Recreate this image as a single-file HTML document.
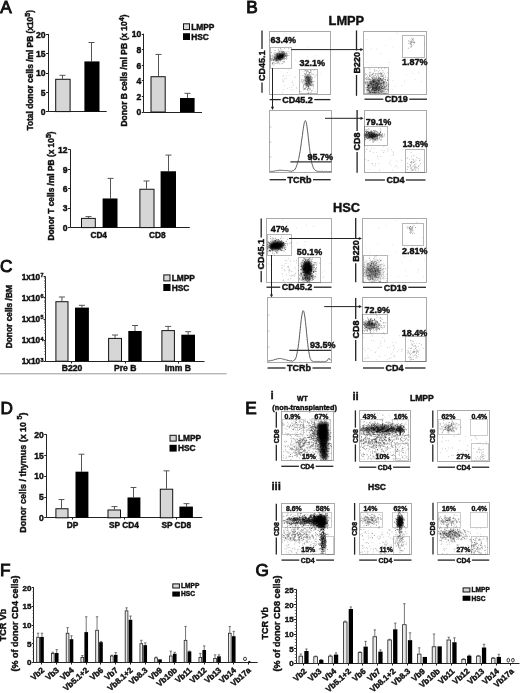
<!DOCTYPE html>
<html><head><meta charset="utf-8"><style>
html,body{margin:0;padding:0;background:#fff;}
svg{display:block;filter:blur(0.3px);}
text{font-family:"Liberation Sans",sans-serif;font-weight:bold;stroke:#111;stroke-width:0.42px;}
.pl{font-weight:normal;stroke-width:0.95px;}
</style></head><body>
<svg width="520" height="693" viewBox="0 0 520 693">
<defs><filter id="b0_8" x="-50%" y="-50%" width="200%" height="200%"><feGaussianBlur stdDeviation="0.8"/></filter><filter id="b0_9" x="-50%" y="-50%" width="200%" height="200%"><feGaussianBlur stdDeviation="0.9"/></filter><filter id="b1_0" x="-50%" y="-50%" width="200%" height="200%"><feGaussianBlur stdDeviation="1.0"/></filter><filter id="b1_1" x="-50%" y="-50%" width="200%" height="200%"><feGaussianBlur stdDeviation="1.1"/></filter><filter id="b1_2" x="-50%" y="-50%" width="200%" height="200%"><feGaussianBlur stdDeviation="1.2"/></filter><filter id="b2" x="-50%" y="-50%" width="200%" height="200%"><feGaussianBlur stdDeviation="2"/></filter></defs>
<rect width="520" height="693" fill="#fff"/>
<path d="M278.14 58.34h.9v.9h-.9zM277.25 56.2h.9v.9h-.9zM274.52 57.83h.9v.9h-.9zM283.57 55.44h.9v.9h-.9zM283.05 55.15h.9v.9h-.9zM280.38 56.24h.9v.9h-.9zM272.84 61.97h.9v.9h-.9zM281.21 56.82h.9v.9h-.9zM269.57 55.46h.9v.9h-.9zM274.38 57.11h.9v.9h-.9zM279.73 55.84h.9v.9h-.9zM279.88 53.91h.9v.9h-.9zM280.28 56.94h.9v.9h-.9zM277.96 62.17h.9v.9h-.9zM282.26 58.48h.9v.9h-.9zM275.14 55.9h.9v.9h-.9zM277.03 56.96h.9v.9h-.9zM281.41 55.94h.9v.9h-.9zM275.57 55.01h.9v.9h-.9zM277.93 60.65h.9v.9h-.9zM275.57 58.75h.9v.9h-.9zM278.46 51.96h.9v.9h-.9zM280.34 59.75h.9v.9h-.9zM270 59.68h.9v.9h-.9zM277.12 54.7h.9v.9h-.9zM280.49 55.42h.9v.9h-.9zM273.62 61.5h.9v.9h-.9zM282.41 57.62h.9v.9h-.9zM284.83 54.64h.9v.9h-.9zM277.45 53.04h.9v.9h-.9zM280.3 53.8h.9v.9h-.9zM275.18 54.25h.9v.9h-.9zM273.98 57.1h.9v.9h-.9zM281.3 48.9h.9v.9h-.9zM272.93 60.01h.9v.9h-.9zM285.1 55.18h.9v.9h-.9zM279.1 53.99h.9v.9h-.9zM275.2 61.21h.9v.9h-.9zM283.21 54.79h.9v.9h-.9zM280.07 57.16h.9v.9h-.9z" fill-opacity="0.35"/>
<path d="M285.76 54.99h.9v.9h-.9zM281.32 56.92h.9v.9h-.9zM273.76 62.85h.9v.9h-.9zM283.07 56.02h.9v.9h-.9zM269.78 58.82h.9v.9h-.9zM279.76 50.33h.9v.9h-.9zM279.05 59.48h.9v.9h-.9zM275.2 63.18h.9v.9h-.9zM280.6 55.09h.9v.9h-.9zM280.66 57.55h.9v.9h-.9zM280.43 59.2h.9v.9h-.9zM275.36 56.8h.9v.9h-.9zM282.8 54.58h.9v.9h-.9zM276.14 60.66h.9v.9h-.9zM283.95 52.56h.9v.9h-.9zM272.79 58.91h.9v.9h-.9zM277.58 56.09h.9v.9h-.9zM282.99 51.21h.9v.9h-.9zM282.11 50.88h.9v.9h-.9zM276.13 59.68h.9v.9h-.9zM284.17 56.51h.9v.9h-.9zM280.12 56.23h.9v.9h-.9zM279.87 57.7h.9v.9h-.9zM278.17 57.59h.9v.9h-.9zM280.87 55.43h.9v.9h-.9zM282.33 56.48h.9v.9h-.9zM287.09 53.43h.9v.9h-.9zM276.36 56.45h.9v.9h-.9zM279.62 58.9h.9v.9h-.9zM277.66 58.18h.9v.9h-.9zM274.29 59.36h.9v.9h-.9zM280.45 56.37h.9v.9h-.9zM277.6 59.05h.9v.9h-.9zM279.06 54.68h.9v.9h-.9zM288.83 52.69h.9v.9h-.9zM276.18 57.38h.9v.9h-.9zM277.56 56.83h.9v.9h-.9zM281.21 51.63h.9v.9h-.9zM279.44 59.08h.9v.9h-.9zM283.84 58.63h.9v.9h-.9z" fill-opacity="0.35"/>
<path d="M271.23 58.99h.9v.9h-.9zM277.93 58.79h.9v.9h-.9zM279.71 47.65h.9v.9h-.9zM281.2 50.77h.9v.9h-.9zM279.5 51.45h.9v.9h-.9zM280.72 59.22h.9v.9h-.9zM278.18 57.32h.9v.9h-.9zM281.95 55.35h.9v.9h-.9zM280.06 60.59h.9v.9h-.9zM282.44 53.76h.9v.9h-.9zM288.28 48.28h.9v.9h-.9zM281.93 54.09h.9v.9h-.9zM279.94 58.07h.9v.9h-.9zM280.23 57.73h.9v.9h-.9zM270.52 55.73h.9v.9h-.9zM279.87 52.92h.9v.9h-.9zM272.6 54.85h.9v.9h-.9zM284.59 55.95h.9v.9h-.9zM283.38 51.3h.9v.9h-.9zM277.17 53.67h.9v.9h-.9zM283.59 59.06h.9v.9h-.9zM276.84 62.23h.9v.9h-.9zM282.34 54.17h.9v.9h-.9zM272.27 63.96h.9v.9h-.9zM277.43 55.22h.9v.9h-.9zM280.67 56.8h.9v.9h-.9zM283.38 51.05h.9v.9h-.9zM284.97 58.08h.9v.9h-.9zM284.21 53.25h.9v.9h-.9zM276.78 60.57h.9v.9h-.9zM279.17 56.64h.9v.9h-.9zM284 53.1h.9v.9h-.9zM272.04 62.24h.9v.9h-.9zM279.09 54.39h.9v.9h-.9zM279.53 58.67h.9v.9h-.9zM280.49 59.74h.9v.9h-.9zM279.57 59.29h.9v.9h-.9zM286.55 57.69h.9v.9h-.9zM276.9 60.08h.9v.9h-.9zM269.63 57.49h.9v.9h-.9z" fill-opacity="0.35"/>
<path d="M271.9 63.09h.9v.9h-.9zM273.54 58.93h.9v.9h-.9zM277.74 56.85h.9v.9h-.9zM276.44 58.3h.9v.9h-.9zM285.86 53.16h.9v.9h-.9zM281.92 58.03h.9v.9h-.9zM276.21 53.76h.9v.9h-.9zM277.61 60.34h.9v.9h-.9zM271.15 58.26h.9v.9h-.9zM283.6 56.58h.9v.9h-.9zM279.56 58.57h.9v.9h-.9zM277.79 53.25h.9v.9h-.9zM271.43 58h.9v.9h-.9zM281.6 53.32h.9v.9h-.9zM273.95 56.37h.9v.9h-.9zM272.2 59.25h.9v.9h-.9zM274.21 59.78h.9v.9h-.9zM273.58 52.91h.9v.9h-.9zM281.15 54.44h.9v.9h-.9zM279.17 54.82h.9v.9h-.9zM282.62 56.91h.9v.9h-.9zM281.65 56.07h.9v.9h-.9zM284.76 55.6h.9v.9h-.9zM277.84 50.41h.9v.9h-.9zM283.78 58.1h.9v.9h-.9zM276.78 55.95h.9v.9h-.9zM284.27 48.32h.9v.9h-.9zM283.4 61.74h.9v.9h-.9zM275.63 60.1h.9v.9h-.9zM286.05 52.55h.9v.9h-.9zM281.92 57.73h.9v.9h-.9zM274.77 58.1h.9v.9h-.9zM280.74 58.06h.9v.9h-.9zM278.17 56.13h.9v.9h-.9zM274 57.63h.9v.9h-.9zM282.29 55.06h.9v.9h-.9zM274.07 56.1h.9v.9h-.9zM277.97 48.76h.9v.9h-.9zM281.65 56.55h.9v.9h-.9zM285.89 54.33h.9v.9h-.9z" fill-opacity="0.35"/>
<path d="M278.91 58h.9v.9h-.9zM271.93 62.96h.9v.9h-.9zM279.01 54.14h.9v.9h-.9zM286.12 58.52h.9v.9h-.9zM272.06 57.61h.9v.9h-.9zM279.95 56.44h.9v.9h-.9zM275.75 54.87h.9v.9h-.9zM288.41 55.02h.9v.9h-.9zM272.07 55.5h.9v.9h-.9zM286.66 55.71h.9v.9h-.9zM286.92 55.03h.9v.9h-.9zM275.33 58.91h.9v.9h-.9zM278.95 57.98h.9v.9h-.9zM275.45 57.66h.9v.9h-.9zM280.87 56.6h.9v.9h-.9zM281.39 55.83h.9v.9h-.9zM278.2 59.17h.9v.9h-.9zM277.74 54.37h.9v.9h-.9zM276.01 57.77h.9v.9h-.9zM278.3 57.16h.9v.9h-.9zM278.76 56.99h.9v.9h-.9zM276.47 53.64h.9v.9h-.9zM281.54 58.38h.9v.9h-.9zM280.08 55.22h.9v.9h-.9zM279.18 53.24h.9v.9h-.9zM270.94 60.41h.9v.9h-.9zM275.68 60.24h.9v.9h-.9zM270.96 52.04h.9v.9h-.9zM276.26 62.56h.9v.9h-.9zM275.34 53.84h.9v.9h-.9zM276.09 59.36h.9v.9h-.9zM280.78 56.02h.9v.9h-.9zM285.42 55.43h.9v.9h-.9zM279.19 58.1h.9v.9h-.9zM286.44 55.76h.9v.9h-.9zM281.38 51.82h.9v.9h-.9zM278.84 58.68h.9v.9h-.9zM278.65 59.83h.9v.9h-.9zM282.07 57.67h.9v.9h-.9zM280.79 63.39h.9v.9h-.9z" fill-opacity="0.35"/>
<path d="M283.31 53.58h.9v.9h-.9zM282.08 62.92h.9v.9h-.9zM278.22 59.43h.9v.9h-.9zM282.53 54.65h.9v.9h-.9zM274.05 59.31h.9v.9h-.9zM281.38 58.69h.9v.9h-.9zM281.75 55.08h.9v.9h-.9zM282.67 56.24h.9v.9h-.9zM279.45 56.29h.9v.9h-.9zM278.4 58.76h.9v.9h-.9zM273.51 57.03h.9v.9h-.9zM276.79 52.85h.9v.9h-.9zM274.34 52.34h.9v.9h-.9zM276.48 59.32h.9v.9h-.9zM280.78 55.3h.9v.9h-.9zM275.88 53.43h.9v.9h-.9zM286.58 54.27h.9v.9h-.9zM281.91 52.19h.9v.9h-.9zM275.58 52.33h.9v.9h-.9zM282.85 57.38h.9v.9h-.9zM270.8 60.13h.9v.9h-.9zM278.96 50.87h.9v.9h-.9zM269.86 57.44h.9v.9h-.9zM274.29 54.24h.9v.9h-.9zM278.98 57.12h.9v.9h-.9zM281.97 57.08h.9v.9h-.9zM286.06 56.54h.9v.9h-.9zM272.62 57.84h.9v.9h-.9zM272.94 55.91h.9v.9h-.9zM278.23 56.72h.9v.9h-.9zM278.6 51.59h.9v.9h-.9zM273.51 58.91h.9v.9h-.9zM277.36 56.16h.9v.9h-.9zM277.37 54.76h.9v.9h-.9zM281.82 56.07h.9v.9h-.9zM277.38 55.03h.9v.9h-.9zM274.53 50.03h.9v.9h-.9zM274.62 58.56h.9v.9h-.9zM272.7 60h.9v.9h-.9zM277.47 52.79h.9v.9h-.9z" fill-opacity="0.35"/>
<path d="M277.15 56.25h.9v.9h-.9zM281.16 57.19h.9v.9h-.9zM277.37 54.47h.9v.9h-.9zM277.89 56.67h.9v.9h-.9zM281.88 55.85h.9v.9h-.9zM273.97 54.55h.9v.9h-.9zM276.14 55.41h.9v.9h-.9zM273.9 58.43h.9v.9h-.9zM276.69 57.78h.9v.9h-.9zM280.17 54.48h.9v.9h-.9zM287.58 51.19h.9v.9h-.9zM283.16 54.7h.9v.9h-.9zM280.18 48.37h.9v.9h-.9zM275.81 58.64h.9v.9h-.9zM283.84 61.26h.9v.9h-.9zM281.42 59.15h.9v.9h-.9zM282.81 57.44h.9v.9h-.9zM280.43 55.16h.9v.9h-.9zM279.3 52.84h.9v.9h-.9zM282.1 51.67h.9v.9h-.9zM282.14 61.41h.9v.9h-.9zM277.67 57.04h.9v.9h-.9zM283.29 54.34h.9v.9h-.9zM275.59 58.78h.9v.9h-.9zM281.77 57.2h.9v.9h-.9zM277.55 62.48h.9v.9h-.9zM285.33 53.33h.9v.9h-.9zM279.12 54.94h.9v.9h-.9zM283.42 52h.9v.9h-.9zM280.7 54.02h.9v.9h-.9zM276.61 59.72h.9v.9h-.9zM283.94 53.91h.9v.9h-.9zM276.79 59.92h.9v.9h-.9zM278.73 57.43h.9v.9h-.9zM286.1 56.42h.9v.9h-.9zM279.22 63.32h.9v.9h-.9zM279.52 58.53h.9v.9h-.9zM275.87 57.7h.9v.9h-.9zM273.64 64.48h.9v.9h-.9zM282.6 50.81h.9v.9h-.9z" fill-opacity="0.35"/>
<path d="M270.48 55.41h.9v.9h-.9zM282.75 53.09h.9v.9h-.9zM277.92 55.88h.9v.9h-.9zM276.73 54.04h.9v.9h-.9zM276.9 52.88h.9v.9h-.9zM278.64 57.47h.9v.9h-.9zM280.16 55.05h.9v.9h-.9zM275.08 58.72h.9v.9h-.9zM278.49 61.45h.9v.9h-.9zM281.52 54.76h.9v.9h-.9zM275.79 55.7h.9v.9h-.9zM274.32 57.49h.9v.9h-.9zM280.37 57.27h.9v.9h-.9zM283.41 60.73h.9v.9h-.9zM275.71 57.96h.9v.9h-.9zM276.64 58h.9v.9h-.9zM279.67 57.28h.9v.9h-.9zM278.03 57.94h.9v.9h-.9zM279.7 58.39h.9v.9h-.9zM269.8 58.02h.9v.9h-.9zM277.28 53.95h.9v.9h-.9zM275.08 60.18h.9v.9h-.9zM276.69 59.42h.9v.9h-.9zM281.95 55.86h.9v.9h-.9zM280.48 55.29h.9v.9h-.9zM272.8 59.23h.9v.9h-.9zM279.75 54.33h.9v.9h-.9zM279.06 58.63h.9v.9h-.9zM275.77 59.88h.9v.9h-.9zM285.42 51.51h.9v.9h-.9zM278.96 55.88h.9v.9h-.9zM410.38 41.79h.9v.9h-.9zM410.62 45.52h.9v.9h-.9zM411.13 42.48h.9v.9h-.9zM408.29 40.27h.9v.9h-.9zM411.27 40.7h.9v.9h-.9zM411.38 40.28h.9v.9h-.9zM410.81 42.4h.9v.9h-.9zM412.47 41.72h.9v.9h-.9zM409.83 43.07h.9v.9h-.9z" fill-opacity="0.35"/>
<path d="M410.66 46.13h.9v.9h-.9zM410.05 41.41h.9v.9h-.9zM409.94 43.55h.9v.9h-.9zM411 44.02h.9v.9h-.9zM407.89 47.8h.9v.9h-.9zM414.09 42.48h.9v.9h-.9zM408.22 42.88h.9v.9h-.9zM411.35 37.82h.9v.9h-.9zM410.58 39.42h.9v.9h-.9zM411.43 45.48h.9v.9h-.9zM412.54 39.36h.9v.9h-.9zM413.21 44.47h.9v.9h-.9zM409.86 43.61h.9v.9h-.9zM413.47 41.85h.9v.9h-.9zM410.52 41.37h.9v.9h-.9zM412.78 37.99h.9v.9h-.9zM413.28 40.5h.9v.9h-.9zM412.33 39.11h.9v.9h-.9zM408.75 41.28h.9v.9h-.9zM412.14 39.12h.9v.9h-.9zM411.71 41.2h.9v.9h-.9zM412.94 41.89h.9v.9h-.9zM411.49 42.19h.9v.9h-.9zM414 41.79h.9v.9h-.9zM410.5 46.75h.9v.9h-.9zM410.7 44h.9v.9h-.9zM409.72 226.13h.9v.9h-.9zM414.99 227.02h.9v.9h-.9zM413.6 224.79h.9v.9h-.9zM410.76 228.13h.9v.9h-.9zM413.92 232.92h.9v.9h-.9zM412.3 226.38h.9v.9h-.9zM409.14 226.94h.9v.9h-.9zM409.65 229.11h.9v.9h-.9zM409.17 228.03h.9v.9h-.9zM413.17 231.63h.9v.9h-.9zM407.27 226.52h.9v.9h-.9zM409.91 231.33h.9v.9h-.9zM409.98 232.64h.9v.9h-.9zM411.21 231.62h.9v.9h-.9z" fill-opacity="0.35"/>
<path d="M409.05 227.89h.9v.9h-.9zM412.37 229.77h.9v.9h-.9zM407.26 227.96h.9v.9h-.9zM410.88 229.9h.9v.9h-.9zM409.44 232.27h.9v.9h-.9zM410.84 231.65h.9v.9h-.9zM411.28 228.73h.9v.9h-.9zM410 226.06h.9v.9h-.9zM412.1 230.17h.9v.9h-.9zM412.22 227.75h.9v.9h-.9zM408.79 227.74h.9v.9h-.9zM410.01 228.53h.9v.9h-.9zM412.31 226.61h.9v.9h-.9zM409.71 230.03h.9v.9h-.9zM412.17 233.28h.9v.9h-.9zM411.5 226.75h.9v.9h-.9zM408.73 226.87h.9v.9h-.9zM410.69 229.09h.9v.9h-.9zM410.45 227.24h.9v.9h-.9zM410.24 228.39h.9v.9h-.9zM411.62 228.73h.9v.9h-.9zM372.77 322.95h.9v.9h-.9zM367.17 327.85h.9v.9h-.9zM369.68 321.09h.9v.9h-.9zM366.99 330.64h.9v.9h-.9zM366.09 326.65h.9v.9h-.9zM371.59 328.18h.9v.9h-.9zM369.13 321.63h.9v.9h-.9zM367.19 321.37h.9v.9h-.9zM384.6 325.16h.9v.9h-.9zM368.91 328.46h.9v.9h-.9zM374.17 323.99h.9v.9h-.9zM373.98 325.4h.9v.9h-.9zM376.7 329.67h.9v.9h-.9zM368.95 324.45h.9v.9h-.9zM369.66 328.34h.9v.9h-.9zM372.7 326.98h.9v.9h-.9zM375.47 322.59h.9v.9h-.9zM371.33 328.84h.9v.9h-.9zM375.61 327.07h.9v.9h-.9z" fill-opacity="0.35"/>
<path d="M369.13 323.45h.9v.9h-.9zM366.04 323.72h.9v.9h-.9zM370.3 320.13h.9v.9h-.9zM376.89 322.19h.9v.9h-.9zM371.99 326.42h.9v.9h-.9zM367.68 318.96h.9v.9h-.9zM375.83 325.82h.9v.9h-.9zM369.28 328.07h.9v.9h-.9zM375.45 321.61h.9v.9h-.9zM370.21 319.11h.9v.9h-.9zM369.23 328.93h.9v.9h-.9zM366.14 327.11h.9v.9h-.9zM375.7 329.87h.9v.9h-.9zM373.08 326.9h.9v.9h-.9zM379.87 317.01h.9v.9h-.9zM383.88 326.41h.9v.9h-.9zM370.99 325.36h.9v.9h-.9zM370.8 322.66h.9v.9h-.9zM370.56 324.17h.9v.9h-.9zM374.23 326.66h.9v.9h-.9zM375.9 326.38h.9v.9h-.9zM365.44 328.87h.9v.9h-.9zM372.42 322.92h.9v.9h-.9zM380.68 321.18h.9v.9h-.9zM364.37 323h.9v.9h-.9zM372.88 327.02h.9v.9h-.9zM371.23 326.63h.9v.9h-.9zM366.88 322.69h.9v.9h-.9zM371.34 320.4h.9v.9h-.9zM371.65 323.34h.9v.9h-.9zM374.3 321.43h.9v.9h-.9zM367.81 322.81h.9v.9h-.9zM368.68 321.47h.9v.9h-.9zM369.25 320.38h.9v.9h-.9zM373.51 326.64h.9v.9h-.9zM370.56 323.98h.9v.9h-.9zM365.88 321.59h.9v.9h-.9zM369.47 321.76h.9v.9h-.9zM364.35 325.08h.9v.9h-.9zM370.54 323.3h.9v.9h-.9z" fill-opacity="0.35"/>
<path d="M366.29 324.39h.9v.9h-.9zM366.94 323.23h.9v.9h-.9zM371.64 326.79h.9v.9h-.9zM374.68 322.68h.9v.9h-.9zM377.09 320.98h.9v.9h-.9zM369.72 328.59h.9v.9h-.9zM383.31 324.96h.9v.9h-.9zM368.72 323.4h.9v.9h-.9zM364.17 324.11h.9v.9h-.9zM368.38 322.23h.9v.9h-.9zM377.03 322.15h.9v.9h-.9zM379.67 327.16h.9v.9h-.9zM374.06 322.74h.9v.9h-.9zM367.93 318.39h.9v.9h-.9zM372.1 323.72h.9v.9h-.9zM372.71 322.48h.9v.9h-.9zM373.23 319.93h.9v.9h-.9zM376.37 314.83h.9v.9h-.9zM377.49 323.48h.9v.9h-.9zM369.77 319.8h.9v.9h-.9zM365.31 326.76h.9v.9h-.9zM366.72 324.44h.9v.9h-.9zM369.81 330.71h.9v.9h-.9zM375.38 320.48h.9v.9h-.9zM368.08 321.01h.9v.9h-.9zM363.25 322.45h.9v.9h-.9zM376.5 324.71h.9v.9h-.9zM374.22 324.14h.9v.9h-.9zM368.39 324.81h.9v.9h-.9zM370.23 330.51h.9v.9h-.9zM380.19 325.72h.9v.9h-.9zM373.84 318.4h.9v.9h-.9zM369.98 331.95h.9v.9h-.9zM366.38 327.08h.9v.9h-.9zM377.12 323.33h.9v.9h-.9zM369.43 323.15h.9v.9h-.9zM374.86 324.63h.9v.9h-.9zM378.62 328.23h.9v.9h-.9zM368.99 322.67h.9v.9h-.9zM369.37 321.84h.9v.9h-.9z" fill-opacity="0.35"/>
<path d="M368.4 324.34h.9v.9h-.9zM375.36 319.67h.9v.9h-.9zM363.19 322.16h.9v.9h-.9zM369.01 325.96h.9v.9h-.9zM366.44 329.23h.9v.9h-.9zM367.82 323.89h.9v.9h-.9zM370.91 328.18h.9v.9h-.9zM372.21 324.64h.9v.9h-.9zM367.75 325.08h.9v.9h-.9zM372.76 323.47h.9v.9h-.9zM370.51 318.86h.9v.9h-.9zM367.8 328.22h.9v.9h-.9zM378.16 324.33h.9v.9h-.9zM369.72 332.51h.9v.9h-.9zM368.43 327.66h.9v.9h-.9zM367.35 328.81h.9v.9h-.9zM376.76 321.26h.9v.9h-.9zM369.44 320.8h.9v.9h-.9zM372.09 323.31h.9v.9h-.9zM362.67 321.3h.9v.9h-.9zM371.92 319.83h.9v.9h-.9zM376.35 325.95h.9v.9h-.9zM369.66 328.9h.9v.9h-.9zM365.71 326.68h.9v.9h-.9zM363.43 323.54h.9v.9h-.9zM374.01 322.89h.9v.9h-.9zM370 326.57h.9v.9h-.9zM378.69 328.59h.9v.9h-.9zM373.05 323.75h.9v.9h-.9zM362.94 329.88h.9v.9h-.9zM380.55 317.86h.9v.9h-.9zM375.22 324.42h.9v.9h-.9zM374.36 325.53h.9v.9h-.9zM369.58 324.54h.9v.9h-.9zM370.41 328.17h.9v.9h-.9zM369.22 322.86h.9v.9h-.9zM374.07 326.55h.9v.9h-.9zM372.91 325.43h.9v.9h-.9zM378.41 328.01h.9v.9h-.9zM371.73 323.9h.9v.9h-.9z" fill-opacity="0.35"/>
<path d="M374.1 318.74h.9v.9h-.9zM367.84 322.35h.9v.9h-.9zM371.52 323.36h.9v.9h-.9zM383.65 326.85h.9v.9h-.9zM372.74 331.54h.9v.9h-.9zM370.59 323.56h.9v.9h-.9zM377.12 327.13h.9v.9h-.9zM375.5 328.31h.9v.9h-.9zM368.68 322.5h.9v.9h-.9zM366.79 324.87h.9v.9h-.9zM375.91 321.28h.9v.9h-.9zM367.78 320.39h.9v.9h-.9zM381.19 327.04h.9v.9h-.9zM371.76 320.77h.9v.9h-.9zM365.15 322.54h.9v.9h-.9zM370.78 320.6h.9v.9h-.9zM369.4 328.35h.9v.9h-.9zM370.67 324.86h.9v.9h-.9zM369.83 322.4h.9v.9h-.9zM363.28 324.33h.9v.9h-.9zM365.19 322.85h.9v.9h-.9zM375.41 321.93h.9v.9h-.9zM372.32 319.83h.9v.9h-.9zM373.66 326.24h.9v.9h-.9zM368.55 327.31h.9v.9h-.9zM365.96 324.7h.9v.9h-.9zM379.5 324.48h.9v.9h-.9zM364.66 328.14h.9v.9h-.9zM373.44 323.69h.9v.9h-.9zM362.56 329.18h.9v.9h-.9zM372.15 321.9h.9v.9h-.9zM376.69 329.12h.9v.9h-.9zM366.15 326.05h.9v.9h-.9zM380.2 320.15h.9v.9h-.9zM370.9 322.57h.9v.9h-.9zM370.11 324.83h.9v.9h-.9zM372.08 327.33h.9v.9h-.9zM373.31 327.82h.9v.9h-.9zM375.96 327.98h.9v.9h-.9zM367.04 325.83h.9v.9h-.9z" fill-opacity="0.35"/>
<path d="M368.63 321.92h.9v.9h-.9zM380.93 325.46h.9v.9h-.9zM370.84 317.98h.9v.9h-.9zM369.38 326.96h.9v.9h-.9zM369.53 322.85h.9v.9h-.9zM378.38 323.58h.9v.9h-.9zM368.84 324.24h.9v.9h-.9zM369.35 327.83h.9v.9h-.9zM373.6 324.33h.9v.9h-.9zM368.69 323.85h.9v.9h-.9zM379.52 323.6h.9v.9h-.9zM374.05 319.63h.9v.9h-.9zM372.3 326.7h.9v.9h-.9zM377.3 325.54h.9v.9h-.9zM373.65 325.56h.9v.9h-.9zM376.23 330.94h.9v.9h-.9zM371.66 322.01h.9v.9h-.9zM373.74 324.21h.9v.9h-.9zM373.97 326.97h.9v.9h-.9zM371.41 323.18h.9v.9h-.9zM372.22 320.66h.9v.9h-.9zM372.04 321.78h.9v.9h-.9zM372.97 324.93h.9v.9h-.9zM369.45 320.8h.9v.9h-.9zM370.87 322.43h.9v.9h-.9zM369.86 326.72h.9v.9h-.9zM375.62 320.53h.9v.9h-.9zM375.53 328.8h.9v.9h-.9zM376.53 325.41h.9v.9h-.9zM370.13 329.99h.9v.9h-.9zM368.92 319.79h.9v.9h-.9zM371.08 325.45h.9v.9h-.9zM365.15 320.75h.9v.9h-.9zM381.03 324.91h.9v.9h-.9zM374.71 322.73h.9v.9h-.9zM362.63 324h.9v.9h-.9zM377.66 322.47h.9v.9h-.9zM369.13 324.6h.9v.9h-.9zM365.11 323.58h.9v.9h-.9zM367.74 327.31h.9v.9h-.9z" fill-opacity="0.35"/>
<path d="M371.41 327.27h.9v.9h-.9zM370.34 317.89h.9v.9h-.9zM375.22 327.28h.9v.9h-.9zM370.22 318.98h.9v.9h-.9zM368.02 325.81h.9v.9h-.9zM377.86 323.48h.9v.9h-.9zM367.65 322.13h.9v.9h-.9zM375.97 327.26h.9v.9h-.9zM365.76 319.96h.9v.9h-.9zM382.81 332.53h.9v.9h-.9zM364.07 322.45h.9v.9h-.9zM371.44 325.85h.9v.9h-.9zM368.1 319.6h.9v.9h-.9zM368.44 322.42h.9v.9h-.9zM362.9 319.13h.9v.9h-.9zM378.59 327.49h.9v.9h-.9zM378.23 324.92h.9v.9h-.9zM368.44 324.28h.9v.9h-.9zM363.42 326.87h.9v.9h-.9zM372.03 323.6h.9v.9h-.9zM379.18 329.08h.9v.9h-.9zM375.22 323.45h.9v.9h-.9zM371.34 326.28h.9v.9h-.9zM371.64 327.82h.9v.9h-.9zM367.11 317.3h.9v.9h-.9zM363.33 326.63h.9v.9h-.9zM376.28 324.55h.9v.9h-.9zM373.45 324.79h.9v.9h-.9zM371.53 323.08h.9v.9h-.9zM368.48 328.27h.9v.9h-.9zM369.2 324.42h.9v.9h-.9zM376.9 327.63h.9v.9h-.9zM368.55 325.34h.9v.9h-.9zM365.29 324.96h.9v.9h-.9zM372.27 324.55h.9v.9h-.9zM371.47 325.69h.9v.9h-.9zM371.01 323.01h.9v.9h-.9zM365.53 323.81h.9v.9h-.9zM379.08 323.84h.9v.9h-.9zM367.19 323.05h.9v.9h-.9z" fill-opacity="0.35"/>
<path d="M364.35 326.07h.9v.9h-.9zM365.42 327.4h.9v.9h-.9zM375.4 326.34h.9v.9h-.9zM376.08 324.28h.9v.9h-.9zM373.98 319.72h.9v.9h-.9zM364.18 327.98h.9v.9h-.9zM372.92 328.76h.9v.9h-.9zM374.13 324.76h.9v.9h-.9zM372.87 327.21h.9v.9h-.9zM370.47 323.9h.9v.9h-.9zM372.27 323.57h.9v.9h-.9zM383.32 322.16h.9v.9h-.9zM362.62 320.51h.9v.9h-.9zM376.14 323.28h.9v.9h-.9zM371.45 323.88h.9v.9h-.9zM372.08 320.01h.9v.9h-.9zM371.07 322.76h.9v.9h-.9zM376.35 326.5h.9v.9h-.9zM363.97 321.53h.9v.9h-.9zM373.62 328.29h.9v.9h-.9zM374.67 324.07h.9v.9h-.9zM376.49 317.17h.9v.9h-.9zM367.79 321.5h.9v.9h-.9zM365.17 326.31h.9v.9h-.9zM372.08 325.44h.9v.9h-.9zM369.92 326.49h.9v.9h-.9zM374.76 322.76h.9v.9h-.9zM375.57 321.65h.9v.9h-.9zM379.94 320.47h.9v.9h-.9zM369.1 321.16h.9v.9h-.9zM370.83 328.67h.9v.9h-.9zM366.65 330.11h.9v.9h-.9zM378.1 325.76h.9v.9h-.9zM367.5 327.38h.9v.9h-.9zM375.72 324.43h.9v.9h-.9zM383.8 322.43h.9v.9h-.9zM363.56 323.88h.9v.9h-.9zM373.69 329.89h.9v.9h-.9zM377.33 322.44h.9v.9h-.9zM368.2 320.75h.9v.9h-.9z" fill-opacity="0.35"/>
<path d="M374.7 327.15h.9v.9h-.9zM373.76 325.32h.9v.9h-.9zM375.89 324.17h.9v.9h-.9zM374.43 327.12h.9v.9h-.9zM377.54 326.16h.9v.9h-.9zM371.07 326.77h.9v.9h-.9zM379.23 324.98h.9v.9h-.9zM365.02 322.73h.9v.9h-.9zM369.83 324.78h.9v.9h-.9zM366.55 327.68h.9v.9h-.9zM364.84 329.77h.9v.9h-.9zM374.19 319.26h.9v.9h-.9zM364.09 324.74h.9v.9h-.9zM372.08 323.22h.9v.9h-.9zM370.69 325.06h.9v.9h-.9zM364.51 324.74h.9v.9h-.9zM382.77 322.52h.9v.9h-.9zM365.2 326.64h.9v.9h-.9zM377.82 327.83h.9v.9h-.9zM367.24 324.32h.9v.9h-.9zM371.71 323.89h.9v.9h-.9zM372.76 327.96h.9v.9h-.9zM373.55 324.52h.9v.9h-.9zM369.54 330.18h.9v.9h-.9zM364.03 330.86h.9v.9h-.9zM374.58 324.83h.9v.9h-.9zM366.63 330.33h.9v.9h-.9zM377.14 327.42h.9v.9h-.9zM381.82 318.9h.9v.9h-.9zM371.16 323.58h.9v.9h-.9zM366.71 324.79h.9v.9h-.9zM373.51 326.21h.9v.9h-.9zM369.88 320.38h.9v.9h-.9zM373.63 326.47h.9v.9h-.9zM382.04 327.49h.9v.9h-.9zM370.71 320.93h.9v.9h-.9zM385.3 322.42h.9v.9h-.9zM299.81 449.07h.9v.9h-.9zM298.18 448.24h.9v.9h-.9zM298.56 447.6h.9v.9h-.9z" fill-opacity="0.35"/>
<path d="M299.2 442.93h.9v.9h-.9zM304.18 443.05h.9v.9h-.9zM292.18 444.66h.9v.9h-.9zM307.86 449.7h.9v.9h-.9zM291.29 448.76h.9v.9h-.9zM307.22 448.4h.9v.9h-.9zM303.71 437.59h.9v.9h-.9zM303.96 449.37h.9v.9h-.9zM302.69 443.63h.9v.9h-.9zM293.6 450.83h.9v.9h-.9zM301.16 445.94h.9v.9h-.9zM314.99 444.99h.9v.9h-.9zM296.5 449.62h.9v.9h-.9zM299.59 447.18h.9v.9h-.9zM315.26 443.29h.9v.9h-.9zM300.25 442.49h.9v.9h-.9zM301.27 447.78h.9v.9h-.9zM300.67 452.32h.9v.9h-.9zM298.84 440.26h.9v.9h-.9zM308.99 424.9h.9v.9h-.9zM299.35 446.05h.9v.9h-.9zM311.2 446.65h.9v.9h-.9zM315.57 446.8h.9v.9h-.9zM304.05 444.82h.9v.9h-.9zM308.66 441.51h.9v.9h-.9zM291.56 448.4h.9v.9h-.9zM307.69 445.69h.9v.9h-.9zM296.63 455.08h.9v.9h-.9zM300.11 437.74h.9v.9h-.9zM307.26 448.18h.9v.9h-.9zM304.55 442.13h.9v.9h-.9zM298.59 453.57h.9v.9h-.9zM303.12 444.65h.9v.9h-.9zM296.24 442.54h.9v.9h-.9zM287.49 451.26h.9v.9h-.9zM311.2 444.64h.9v.9h-.9zM300.41 454.9h.9v.9h-.9zM297.51 441.99h.9v.9h-.9zM311.77 447.88h.9v.9h-.9zM295.86 441.67h.9v.9h-.9z" fill-opacity="0.35"/>
<path d="M295.25 435.1h.9v.9h-.9zM305.59 452.05h.9v.9h-.9zM301.71 441.26h.9v.9h-.9zM305.36 440.64h.9v.9h-.9zM309.61 439.09h.9v.9h-.9zM315.07 436.15h.9v.9h-.9zM300.64 440.68h.9v.9h-.9zM293.36 451.99h.9v.9h-.9zM301.68 439.92h.9v.9h-.9zM304.51 441.57h.9v.9h-.9zM297.48 447.36h.9v.9h-.9zM306.07 447.23h.9v.9h-.9zM311.18 442.47h.9v.9h-.9zM294.77 445.33h.9v.9h-.9zM301.28 438.86h.9v.9h-.9zM299.42 444.52h.9v.9h-.9zM301.29 446.73h.9v.9h-.9zM312.82 448.75h.9v.9h-.9zM310.21 446.59h.9v.9h-.9zM296.51 454.23h.9v.9h-.9zM307.42 434.6h.9v.9h-.9zM317.99 433.33h.9v.9h-.9zM300.07 441.77h.9v.9h-.9zM300.08 452.47h.9v.9h-.9zM302.46 442.91h.9v.9h-.9zM307.4 436.99h.9v.9h-.9zM294.21 446.35h.9v.9h-.9zM297.94 451.46h.9v.9h-.9zM297.39 441.8h.9v.9h-.9zM293.54 438.58h.9v.9h-.9zM302.96 445.36h.9v.9h-.9zM305.28 442.17h.9v.9h-.9zM302.11 439.91h.9v.9h-.9zM302.1 446.14h.9v.9h-.9zM294.4 452.8h.9v.9h-.9zM302.68 445.22h.9v.9h-.9zM302.99 456.2h.9v.9h-.9zM299.7 442.17h.9v.9h-.9zM296.98 451.42h.9v.9h-.9zM298.17 442.89h.9v.9h-.9z" fill-opacity="0.35"/>
<path d="M298.69 452.44h.9v.9h-.9zM304.68 449.85h.9v.9h-.9zM298.59 440.41h.9v.9h-.9zM308.42 443.61h.9v.9h-.9zM296.2 446.71h.9v.9h-.9zM296.7 452.93h.9v.9h-.9zM299.76 449.25h.9v.9h-.9zM302.75 443.41h.9v.9h-.9zM303.56 443.04h.9v.9h-.9zM292.24 448.26h.9v.9h-.9zM295.06 453.4h.9v.9h-.9zM304.72 440.48h.9v.9h-.9zM306.5 444.25h.9v.9h-.9zM306.16 437.7h.9v.9h-.9zM299.35 441.1h.9v.9h-.9zM300.02 454.18h.9v.9h-.9zM285.22 449.25h.9v.9h-.9zM306.84 447.08h.9v.9h-.9zM291.16 439.65h.9v.9h-.9zM290.34 453.76h.9v.9h-.9zM311.47 445.3h.9v.9h-.9zM299.63 454.29h.9v.9h-.9zM301.7 448.97h.9v.9h-.9zM304.02 453.27h.9v.9h-.9zM292.76 438.11h.9v.9h-.9zM299.79 447.59h.9v.9h-.9zM301.78 441.34h.9v.9h-.9zM297.2 441.46h.9v.9h-.9zM300.11 446.83h.9v.9h-.9zM307.18 451.84h.9v.9h-.9zM288.74 455.49h.9v.9h-.9zM301.81 438.81h.9v.9h-.9zM302.02 445.25h.9v.9h-.9zM296.23 452.56h.9v.9h-.9zM316.57 441.18h.9v.9h-.9zM309.55 447.25h.9v.9h-.9zM302.97 450.31h.9v.9h-.9zM296.31 449.43h.9v.9h-.9zM309.62 448.58h.9v.9h-.9zM298.83 445.37h.9v.9h-.9z" fill-opacity="0.35"/>
<path d="M304.64 443.41h.9v.9h-.9zM304.43 448.54h.9v.9h-.9zM298.27 452.32h.9v.9h-.9zM303.58 442.94h.9v.9h-.9zM291.27 447.58h.9v.9h-.9zM303.48 449.83h.9v.9h-.9zM289.46 456.19h.9v.9h-.9zM300.2 439.87h.9v.9h-.9zM308.49 444.01h.9v.9h-.9zM302.26 439.61h.9v.9h-.9zM295.97 453.75h.9v.9h-.9zM312.24 441.78h.9v.9h-.9zM299.12 444.32h.9v.9h-.9zM291.9 456.4h.9v.9h-.9zM303.82 451.29h.9v.9h-.9zM299.02 452.89h.9v.9h-.9zM297.95 450.83h.9v.9h-.9zM309.47 437.23h.9v.9h-.9zM307.87 442.05h.9v.9h-.9zM295.48 450h.9v.9h-.9zM304.35 439.98h.9v.9h-.9zM298.33 444.09h.9v.9h-.9zM295.68 447.57h.9v.9h-.9zM306.11 440.25h.9v.9h-.9zM309.33 439.15h.9v.9h-.9zM299.29 452.85h.9v.9h-.9zM309.79 437.36h.9v.9h-.9zM302.87 438.25h.9v.9h-.9zM297.82 445.47h.9v.9h-.9zM303.5 437.39h.9v.9h-.9zM296.35 444.5h.9v.9h-.9zM299.33 439.81h.9v.9h-.9zM299.46 438.19h.9v.9h-.9zM304.22 436.66h.9v.9h-.9zM292.4 459.96h.9v.9h-.9zM308.25 437.15h.9v.9h-.9zM295.09 451.76h.9v.9h-.9zM317.09 440.44h.9v.9h-.9zM303.32 437.89h.9v.9h-.9zM290.09 453.99h.9v.9h-.9z" fill-opacity="0.35"/>
<path d="M308.91 442.3h.9v.9h-.9zM304.79 451.58h.9v.9h-.9zM298.31 453.5h.9v.9h-.9zM305.84 439.69h.9v.9h-.9zM302.66 445.55h.9v.9h-.9zM303.27 439.11h.9v.9h-.9zM300.15 446.82h.9v.9h-.9zM301.79 445.54h.9v.9h-.9zM302.83 443.77h.9v.9h-.9zM300.53 451.91h.9v.9h-.9zM296.33 446.6h.9v.9h-.9zM292.73 443.92h.9v.9h-.9zM304.55 443.67h.9v.9h-.9zM301.69 448.02h.9v.9h-.9zM301.96 449.15h.9v.9h-.9zM314.88 440.22h.9v.9h-.9zM303.62 453.72h.9v.9h-.9zM302.5 435.67h.9v.9h-.9zM311.26 441.43h.9v.9h-.9zM304.72 437.33h.9v.9h-.9zM294.15 445.95h.9v.9h-.9zM302.71 438.6h.9v.9h-.9zM298.89 452.35h.9v.9h-.9zM297.38 448.48h.9v.9h-.9zM291.32 441.59h.9v.9h-.9zM300.69 445.34h.9v.9h-.9zM293.95 455.16h.9v.9h-.9zM309.3 446.28h.9v.9h-.9zM295.31 442.53h.9v.9h-.9zM301.31 446.6h.9v.9h-.9zM298.96 443.67h.9v.9h-.9zM292.93 446.13h.9v.9h-.9zM299.82 443.76h.9v.9h-.9zM312.4 438.07h.9v.9h-.9zM303.58 441.83h.9v.9h-.9zM297.98 442.04h.9v.9h-.9zM294.67 440.92h.9v.9h-.9zM290.38 459.15h.9v.9h-.9zM295.28 451.4h.9v.9h-.9zM299.33 443.57h.9v.9h-.9z" fill-opacity="0.35"/>
<path d="M305.24 440.42h.9v.9h-.9zM303.67 442.32h.9v.9h-.9zM310.48 446.02h.9v.9h-.9zM304.57 450.02h.9v.9h-.9zM308.68 450.36h.9v.9h-.9zM297.06 439.35h.9v.9h-.9zM303.56 445.78h.9v.9h-.9zM298.55 446.02h.9v.9h-.9zM296.73 441.17h.9v.9h-.9zM311.53 435.76h.9v.9h-.9zM290.45 442.77h.9v.9h-.9zM295.64 448.55h.9v.9h-.9zM313.1 442.58h.9v.9h-.9zM293.61 442.93h.9v.9h-.9zM293.64 449.4h.9v.9h-.9zM306.38 440.22h.9v.9h-.9zM317.1 447.84h.9v.9h-.9zM297.53 435.65h.9v.9h-.9zM308.81 441.03h.9v.9h-.9zM308.44 447.28h.9v.9h-.9zM294.76 449.61h.9v.9h-.9zM300.98 441.65h.9v.9h-.9zM306.01 442.38h.9v.9h-.9zM303.17 455.15h.9v.9h-.9zM306.52 451.94h.9v.9h-.9zM302.91 450.59h.9v.9h-.9zM296.71 449.01h.9v.9h-.9zM303.86 432.15h.9v.9h-.9zM304.59 442.36h.9v.9h-.9zM309.43 442.23h.9v.9h-.9zM298 440.33h.9v.9h-.9zM319.98 431.36h.9v.9h-.9zM297.61 443.66h.9v.9h-.9zM299.96 447.63h.9v.9h-.9zM294.82 455.1h.9v.9h-.9zM301.14 449.11h.9v.9h-.9zM285.82 451.22h.9v.9h-.9zM298.57 445h.9v.9h-.9zM297.66 449.38h.9v.9h-.9zM302.02 439.81h.9v.9h-.9z" fill-opacity="0.35"/>
<path d="M289.76 456.04h.9v.9h-.9zM301.83 451.35h.9v.9h-.9zM307.26 441.83h.9v.9h-.9zM290.86 449.36h.9v.9h-.9zM299.43 453.62h.9v.9h-.9zM292.03 455.84h.9v.9h-.9zM289.61 448.87h.9v.9h-.9zM290.18 447.85h.9v.9h-.9zM299.35 448.8h.9v.9h-.9zM299.08 450.72h.9v.9h-.9zM313.89 439.69h.9v.9h-.9zM293.19 449.11h.9v.9h-.9zM299.96 444.39h.9v.9h-.9zM312.11 446.21h.9v.9h-.9zM316.47 440.31h.9v.9h-.9zM282.92 454.97h.9v.9h-.9zM304.2 439.58h.9v.9h-.9zM299.52 451.72h.9v.9h-.9zM299.85 440.18h.9v.9h-.9zM290.27 434.5h.9v.9h-.9zM298.61 440.32h.9v.9h-.9zM298.35 440.65h.9v.9h-.9zM293.93 446.82h.9v.9h-.9zM317.79 430.03h.9v.9h-.9zM292.11 447.69h.9v.9h-.9zM310.65 445.02h.9v.9h-.9zM305.5 441.56h.9v.9h-.9zM300.57 441.77h.9v.9h-.9zM298.36 442.78h.9v.9h-.9zM289.2 446.74h.9v.9h-.9zM315.64 440.05h.9v.9h-.9zM296.09 447.9h.9v.9h-.9zM301.26 452.49h.9v.9h-.9zM299.81 442.94h.9v.9h-.9zM306.9 444.39h.9v.9h-.9zM311.53 426.99h.9v.9h-.9zM313.94 421.91h.9v.9h-.9zM310.85 437.46h.9v.9h-.9zM316.05 438.08h.9v.9h-.9zM312.22 428.03h.9v.9h-.9z" fill-opacity="0.35"/>
<path d="M312.73 428.71h.9v.9h-.9zM317.27 430.22h.9v.9h-.9zM317.49 427.36h.9v.9h-.9zM314.62 441.05h.9v.9h-.9zM311.35 427.69h.9v.9h-.9zM311.77 422.06h.9v.9h-.9zM312.65 427.74h.9v.9h-.9zM319.97 428.72h.9v.9h-.9zM307.27 437.07h.9v.9h-.9zM316.31 431.32h.9v.9h-.9zM314.36 435.74h.9v.9h-.9zM311.88 431.77h.9v.9h-.9zM313.94 441.26h.9v.9h-.9zM317.65 432.52h.9v.9h-.9zM309.6 436.71h.9v.9h-.9zM313.36 438.39h.9v.9h-.9zM313.67 432.59h.9v.9h-.9zM315.44 427.23h.9v.9h-.9zM311.59 445h.9v.9h-.9zM310.99 437.01h.9v.9h-.9zM315.51 436.33h.9v.9h-.9zM317.52 423.65h.9v.9h-.9zM316.31 419.43h.9v.9h-.9zM313.67 433.51h.9v.9h-.9zM316.52 437.9h.9v.9h-.9zM310.79 429.92h.9v.9h-.9zM313.05 427.44h.9v.9h-.9zM311.12 427.64h.9v.9h-.9zM316.87 439.52h.9v.9h-.9zM315.71 441.42h.9v.9h-.9zM313.78 425.14h.9v.9h-.9zM311.6 432.72h.9v.9h-.9zM316.52 438.67h.9v.9h-.9zM310.89 437.15h.9v.9h-.9zM311.96 435.03h.9v.9h-.9zM316.19 440.24h.9v.9h-.9zM311.97 432.96h.9v.9h-.9zM314.76 429.07h.9v.9h-.9zM313.78 435.03h.9v.9h-.9zM308.71 427.74h.9v.9h-.9z" fill-opacity="0.35"/>
<path d="M320.25 434.19h.9v.9h-.9zM311.88 420.74h.9v.9h-.9zM310.71 434.58h.9v.9h-.9zM315.5 434.15h.9v.9h-.9zM315.24 427.99h.9v.9h-.9zM318.16 424.92h.9v.9h-.9zM315 429.97h.9v.9h-.9zM308.52 436.85h.9v.9h-.9zM312.7 435.72h.9v.9h-.9zM317.22 432.5h.9v.9h-.9zM311.58 430.27h.9v.9h-.9zM313.31 440.03h.9v.9h-.9zM316.01 440.87h.9v.9h-.9zM315.73 427.04h.9v.9h-.9zM316.22 437.25h.9v.9h-.9zM313.15 434.26h.9v.9h-.9zM312.58 424.12h.9v.9h-.9zM313.25 436.03h.9v.9h-.9zM312.46 418.35h.9v.9h-.9zM311.18 437.94h.9v.9h-.9zM314.16 438.15h.9v.9h-.9zM311.31 429.07h.9v.9h-.9zM310.59 426.96h.9v.9h-.9zM315 432.36h.9v.9h-.9zM312.09 433.29h.9v.9h-.9zM309.7 429.24h.9v.9h-.9zM309.14 422.71h.9v.9h-.9zM309.54 425.07h.9v.9h-.9zM318.11 439.64h.9v.9h-.9zM317.18 428.12h.9v.9h-.9zM315.33 424.85h.9v.9h-.9zM311.92 432.97h.9v.9h-.9zM308.84 432.71h.9v.9h-.9zM315.3 419.33h.9v.9h-.9zM306.37 429.91h.9v.9h-.9zM313.15 432.39h.9v.9h-.9zM310.2 434.9h.9v.9h-.9zM313.86 427.22h.9v.9h-.9zM318.29 433.07h.9v.9h-.9zM315.67 442.48h.9v.9h-.9z" fill-opacity="0.35"/>
<path d="M312.07 430.24h.9v.9h-.9zM308.43 430.2h.9v.9h-.9zM314.78 446.33h.9v.9h-.9zM315.15 432.73h.9v.9h-.9zM309.81 426.51h.9v.9h-.9zM308.1 423.41h.9v.9h-.9zM313.83 433.31h.9v.9h-.9zM310.83 430.25h.9v.9h-.9zM311.16 435.2h.9v.9h-.9zM315.37 428.24h.9v.9h-.9zM312.17 424.29h.9v.9h-.9zM312.14 444.47h.9v.9h-.9zM313.46 436.62h.9v.9h-.9zM315.19 440.27h.9v.9h-.9zM312.55 426.19h.9v.9h-.9zM316.53 436.99h.9v.9h-.9zM311.57 438.02h.9v.9h-.9zM313.46 431.29h.9v.9h-.9zM318.87 434.69h.9v.9h-.9zM314.42 429.66h.9v.9h-.9zM314.08 437.78h.9v.9h-.9zM314.83 427.07h.9v.9h-.9zM314.81 430.84h.9v.9h-.9zM314.4 430.4h.9v.9h-.9zM307.12 421.98h.9v.9h-.9zM312.38 418.48h.9v.9h-.9zM309.1 443.57h.9v.9h-.9zM315.53 428.82h.9v.9h-.9zM314.46 418.27h.9v.9h-.9zM314.23 437.38h.9v.9h-.9zM314.05 423.78h.9v.9h-.9zM316.33 428.39h.9v.9h-.9zM311.83 432.72h.9v.9h-.9zM312.62 443.64h.9v.9h-.9zM313.09 444.29h.9v.9h-.9zM314.82 424.18h.9v.9h-.9zM313.5 431.86h.9v.9h-.9zM317.7 439.15h.9v.9h-.9zM320.98 427.6h.9v.9h-.9zM312.22 445.39h.9v.9h-.9z" fill-opacity="0.35"/>
<path d="M310.88 433.66h.9v.9h-.9zM318.21 425.53h.9v.9h-.9zM312.48 427.11h.9v.9h-.9zM315.04 433.93h.9v.9h-.9zM313.39 435.45h.9v.9h-.9zM311.2 429.3h.9v.9h-.9zM314.87 443.55h.9v.9h-.9zM313.39 431.9h.9v.9h-.9zM317.34 432h.9v.9h-.9zM317.31 432.97h.9v.9h-.9zM316.88 432.63h.9v.9h-.9zM310.81 426.47h.9v.9h-.9zM314.76 442.75h.9v.9h-.9zM318.97 429.66h.9v.9h-.9zM320.84 424.91h.9v.9h-.9zM311.02 437.1h.9v.9h-.9zM309.03 436.99h.9v.9h-.9zM314.61 435.29h.9v.9h-.9zM309.96 433.83h.9v.9h-.9zM316.26 431.24h.9v.9h-.9zM316.52 431.7h.9v.9h-.9zM314.51 429.67h.9v.9h-.9zM309.52 430.6h.9v.9h-.9zM314.97 427.02h.9v.9h-.9zM307.76 422.3h.9v.9h-.9zM317.36 430.21h.9v.9h-.9zM311.26 438.94h.9v.9h-.9zM312.99 422.56h.9v.9h-.9zM312.21 426.28h.9v.9h-.9zM312.96 426.09h.9v.9h-.9zM313.7 434.29h.9v.9h-.9zM311.82 430.34h.9v.9h-.9zM313.04 436.49h.9v.9h-.9zM311.39 436.04h.9v.9h-.9zM317.17 430.39h.9v.9h-.9zM310.66 429.71h.9v.9h-.9zM308.29 428.31h.9v.9h-.9zM309.99 430.53h.9v.9h-.9zM312.41 434.64h.9v.9h-.9zM313.85 434.08h.9v.9h-.9z" fill-opacity="0.35"/>
<path d="M313.36 433.24h.9v.9h-.9zM310.17 435.51h.9v.9h-.9zM317.34 438.2h.9v.9h-.9zM309.55 434.05h.9v.9h-.9zM308.72 436.08h.9v.9h-.9zM312.9 428.8h.9v.9h-.9zM311.31 430.13h.9v.9h-.9zM313.49 425.78h.9v.9h-.9zM313.68 433.1h.9v.9h-.9zM315.06 431.29h.9v.9h-.9zM313.49 445.42h.9v.9h-.9zM316.48 433.49h.9v.9h-.9zM309.42 435.26h.9v.9h-.9zM315.19 415.63h.9v.9h-.9zM313.02 433.84h.9v.9h-.9zM313.61 432.13h.9v.9h-.9zM313.05 439.84h.9v.9h-.9zM314.63 429.86h.9v.9h-.9zM312.84 444.06h.9v.9h-.9zM310.96 428.4h.9v.9h-.9zM314.47 432.44h.9v.9h-.9zM314.4 439.68h.9v.9h-.9zM316.86 434.08h.9v.9h-.9zM313.64 431.18h.9v.9h-.9zM312.83 437.58h.9v.9h-.9zM309.78 425.32h.9v.9h-.9zM312.16 425.78h.9v.9h-.9zM311.34 438.71h.9v.9h-.9zM306.87 435.01h.9v.9h-.9zM309.63 430.1h.9v.9h-.9zM311.81 425.6h.9v.9h-.9zM309.13 431.98h.9v.9h-.9zM304.76 418.84h.9v.9h-.9zM312.36 438.14h.9v.9h-.9zM318.99 429.8h.9v.9h-.9zM447.77 424.91h.9v.9h-.9zM453.8 427.3h.9v.9h-.9zM448.84 429.69h.9v.9h-.9zM446.49 428.65h.9v.9h-.9zM448.48 427.85h.9v.9h-.9z" fill-opacity="0.35"/>
<path d="M448.18 430.34h.9v.9h-.9zM447.51 431.95h.9v.9h-.9zM453.38 424.46h.9v.9h-.9zM447.47 430.18h.9v.9h-.9zM456.6 423.47h.9v.9h-.9zM450.39 428.3h.9v.9h-.9zM448.64 429.1h.9v.9h-.9zM449.98 424.4h.9v.9h-.9zM449.39 426.08h.9v.9h-.9zM448.57 426.89h.9v.9h-.9zM451.3 424.62h.9v.9h-.9zM452.82 422.53h.9v.9h-.9zM452.79 427.96h.9v.9h-.9zM451.62 422.75h.9v.9h-.9zM447.21 427.22h.9v.9h-.9zM451.82 428.65h.9v.9h-.9zM442.28 426.74h.9v.9h-.9zM454.76 423.63h.9v.9h-.9zM443.79 425.46h.9v.9h-.9zM448.31 426h.9v.9h-.9zM455.58 427.43h.9v.9h-.9zM440.47 428.76h.9v.9h-.9zM450.06 428.94h.9v.9h-.9zM449.47 430.34h.9v.9h-.9zM450.29 425.42h.9v.9h-.9zM443.86 429.14h.9v.9h-.9zM448.94 422.11h.9v.9h-.9zM453.63 430.12h.9v.9h-.9zM439.6 428.2h.9v.9h-.9zM452.74 431.23h.9v.9h-.9zM455.46 424.75h.9v.9h-.9zM451.78 428.65h.9v.9h-.9zM442.55 430.5h.9v.9h-.9zM451.97 428.92h.9v.9h-.9zM445.36 428.9h.9v.9h-.9zM449.38 425.91h.9v.9h-.9zM449.77 427.62h.9v.9h-.9zM442.34 426.72h.9v.9h-.9zM451.35 422.47h.9v.9h-.9zM457.73 433.47h.9v.9h-.9z" fill-opacity="0.35"/>
<path d="M452.82 426.72h.9v.9h-.9zM444.63 423.82h.9v.9h-.9zM443.72 429.05h.9v.9h-.9zM445.41 427.22h.9v.9h-.9zM447.49 429.09h.9v.9h-.9zM455.7 429.14h.9v.9h-.9zM452.77 429.54h.9v.9h-.9zM457.77 424.45h.9v.9h-.9zM450.87 425.03h.9v.9h-.9zM449.82 426.16h.9v.9h-.9zM450.15 428.61h.9v.9h-.9zM443.36 419.92h.9v.9h-.9zM450.9 429.52h.9v.9h-.9zM447.7 430.61h.9v.9h-.9zM460.41 426.93h.9v.9h-.9zM448.58 428.1h.9v.9h-.9zM453.26 422.82h.9v.9h-.9zM451.99 421.36h.9v.9h-.9zM444.47 427.34h.9v.9h-.9zM451.09 423.62h.9v.9h-.9zM449.82 430.13h.9v.9h-.9zM441.71 428.23h.9v.9h-.9zM455.69 423.22h.9v.9h-.9zM455.31 427.93h.9v.9h-.9zM448.1 426.81h.9v.9h-.9zM449.41 426.85h.9v.9h-.9zM448.61 424.82h.9v.9h-.9zM453.94 431.23h.9v.9h-.9zM448.66 430.48h.9v.9h-.9zM445.89 423.4h.9v.9h-.9zM452.64 427.39h.9v.9h-.9zM451.76 424.24h.9v.9h-.9zM447.69 429.43h.9v.9h-.9zM457.24 427.44h.9v.9h-.9zM451.43 419.84h.9v.9h-.9zM446.47 430.19h.9v.9h-.9zM458.72 424.59h.9v.9h-.9zM443.34 425.66h.9v.9h-.9zM446.69 425.79h.9v.9h-.9zM444.95 428.49h.9v.9h-.9z" fill-opacity="0.35"/>
<path d="M451.02 423.3h.9v.9h-.9zM442 432.25h.9v.9h-.9zM452.3 427.32h.9v.9h-.9zM441.45 432.45h.9v.9h-.9zM444.6 427.09h.9v.9h-.9zM451.16 424.86h.9v.9h-.9zM450.17 425.57h.9v.9h-.9zM439.7 423.12h.9v.9h-.9zM446.58 425.37h.9v.9h-.9zM451.63 431.13h.9v.9h-.9zM448.41 432.52h.9v.9h-.9zM447.48 427.06h.9v.9h-.9zM448.48 422.33h.9v.9h-.9zM449.21 426.22h.9v.9h-.9zM445.56 428.74h.9v.9h-.9zM451.47 425.96h.9v.9h-.9zM445.33 427.57h.9v.9h-.9zM445.69 424.53h.9v.9h-.9zM447.15 429.27h.9v.9h-.9zM448.16 426.35h.9v.9h-.9zM447.93 428.34h.9v.9h-.9zM448.75 428.96h.9v.9h-.9zM448.78 429h.9v.9h-.9zM448.09 424.81h.9v.9h-.9zM451.48 426.24h.9v.9h-.9zM447.33 430.57h.9v.9h-.9zM447.13 424.72h.9v.9h-.9zM447.88 430.58h.9v.9h-.9zM443.1 429.85h.9v.9h-.9zM451.95 425.73h.9v.9h-.9zM447.87 424.87h.9v.9h-.9zM439.81 424.34h.9v.9h-.9zM442.79 422.57h.9v.9h-.9zM447.36 428.35h.9v.9h-.9zM444.99 425.91h.9v.9h-.9zM445.77 426.25h.9v.9h-.9zM451.33 429.99h.9v.9h-.9zM452.3 427.77h.9v.9h-.9zM456 428.69h.9v.9h-.9zM451.74 428.29h.9v.9h-.9z" fill-opacity="0.35"/>
<path d="M453.33 424.08h.9v.9h-.9zM445.19 427.03h.9v.9h-.9zM440.94 426.08h.9v.9h-.9zM447.81 427.64h.9v.9h-.9zM452.69 430.24h.9v.9h-.9zM451 430.59h.9v.9h-.9zM446.42 427.9h.9v.9h-.9zM448.66 424.31h.9v.9h-.9zM450.53 429.34h.9v.9h-.9zM447.68 427.04h.9v.9h-.9zM454.57 426.3h.9v.9h-.9zM447.85 427.58h.9v.9h-.9zM297.43 528.53h.9v.9h-.9zM312.3 535.24h.9v.9h-.9zM297.36 534.69h.9v.9h-.9zM299.22 533.71h.9v.9h-.9zM313.22 536.61h.9v.9h-.9zM284.37 540.03h.9v.9h-.9zM298.14 530.67h.9v.9h-.9zM287.39 532.23h.9v.9h-.9zM306.83 537.09h.9v.9h-.9zM292.71 533.67h.9v.9h-.9zM288.08 534.88h.9v.9h-.9zM284.76 537.54h.9v.9h-.9zM294.28 537.75h.9v.9h-.9zM311.15 535.55h.9v.9h-.9zM304.16 523.97h.9v.9h-.9zM285.85 535.36h.9v.9h-.9zM286.4 538.21h.9v.9h-.9zM291.96 533.88h.9v.9h-.9zM290.15 538.98h.9v.9h-.9zM300.49 534.31h.9v.9h-.9zM304.13 533.58h.9v.9h-.9zM286.98 534.34h.9v.9h-.9zM292.92 538.24h.9v.9h-.9zM288.28 530.8h.9v.9h-.9zM309.02 537.59h.9v.9h-.9zM291.6 534.93h.9v.9h-.9zM289.82 527.04h.9v.9h-.9zM294 536.25h.9v.9h-.9z" fill-opacity="0.35"/>
<path d="M301.98 535.34h.9v.9h-.9zM297.79 533.92h.9v.9h-.9zM294.5 533.69h.9v.9h-.9zM320.57 534.75h.9v.9h-.9zM296.78 527.37h.9v.9h-.9zM294.94 536.45h.9v.9h-.9zM302.5 529.13h.9v.9h-.9zM294.64 539.99h.9v.9h-.9zM293.37 533.83h.9v.9h-.9zM301.39 534.19h.9v.9h-.9zM289.94 532.27h.9v.9h-.9zM301.12 536.59h.9v.9h-.9zM287.68 535.95h.9v.9h-.9zM284.71 528.85h.9v.9h-.9zM301.79 530.1h.9v.9h-.9zM291.98 539.86h.9v.9h-.9zM305.81 541.74h.9v.9h-.9zM297.19 528.83h.9v.9h-.9zM282.32 535.45h.9v.9h-.9zM305.96 536.56h.9v.9h-.9zM312.84 538.09h.9v.9h-.9zM319.37 531.71h.9v.9h-.9zM294.03 537.46h.9v.9h-.9zM305.56 539.69h.9v.9h-.9zM293.82 532.11h.9v.9h-.9zM293.31 532.02h.9v.9h-.9zM296.31 533.33h.9v.9h-.9zM303.21 532.08h.9v.9h-.9zM304.73 531.81h.9v.9h-.9zM307.82 538.74h.9v.9h-.9zM295.1 533.75h.9v.9h-.9zM298.91 536.06h.9v.9h-.9zM284.98 536.96h.9v.9h-.9zM283.2 535.2h.9v.9h-.9zM286.87 526.3h.9v.9h-.9zM306.38 532.49h.9v.9h-.9zM292.05 535.67h.9v.9h-.9zM298.99 536.55h.9v.9h-.9zM282.29 535.6h.9v.9h-.9zM305.21 537.12h.9v.9h-.9z" fill-opacity="0.35"/>
<path d="M310.33 529.45h.9v.9h-.9zM307.65 529.49h.9v.9h-.9zM283.97 535.21h.9v.9h-.9zM319.18 538.7h.9v.9h-.9zM294.05 534.82h.9v.9h-.9zM306.53 530.24h.9v.9h-.9zM291.83 532.46h.9v.9h-.9zM307.59 536.47h.9v.9h-.9zM298.61 538.77h.9v.9h-.9zM292.88 531.34h.9v.9h-.9zM304.68 528.14h.9v.9h-.9zM298.25 534.45h.9v.9h-.9zM286.64 539.28h.9v.9h-.9zM303.25 537.66h.9v.9h-.9zM305.45 534.51h.9v.9h-.9zM306.73 536.66h.9v.9h-.9zM301.2 538.26h.9v.9h-.9zM315.59 528.65h.9v.9h-.9zM290.79 529.42h.9v.9h-.9zM282.78 536.94h.9v.9h-.9zM285.6 533.8h.9v.9h-.9zM289.74 537.92h.9v.9h-.9zM311.82 534.93h.9v.9h-.9zM288.47 532.53h.9v.9h-.9zM293.55 528.86h.9v.9h-.9zM283.13 535.2h.9v.9h-.9zM297.97 535.14h.9v.9h-.9zM298.93 531.97h.9v.9h-.9zM294.36 531.02h.9v.9h-.9zM297.9 527.54h.9v.9h-.9zM300.78 535.35h.9v.9h-.9zM291.31 535.06h.9v.9h-.9zM305.88 534.75h.9v.9h-.9zM315.03 538.73h.9v.9h-.9zM296.68 533.84h.9v.9h-.9zM283.58 530.79h.9v.9h-.9zM297.55 534.96h.9v.9h-.9zM299.11 540.36h.9v.9h-.9zM299.74 535.91h.9v.9h-.9zM293.22 530.74h.9v.9h-.9z" fill-opacity="0.35"/>
<path d="M290.92 534.2h.9v.9h-.9zM302.74 536.92h.9v.9h-.9zM285.28 534.16h.9v.9h-.9zM303.2 529.58h.9v.9h-.9zM293.09 529.49h.9v.9h-.9zM288.59 538.55h.9v.9h-.9zM299.28 542.08h.9v.9h-.9zM285.16 537.71h.9v.9h-.9zM293.92 528.99h.9v.9h-.9zM297.54 535.33h.9v.9h-.9zM292.84 538.74h.9v.9h-.9zM292.42 537.1h.9v.9h-.9zM295.58 532.7h.9v.9h-.9zM299.46 538.23h.9v.9h-.9zM310.08 538.68h.9v.9h-.9zM292.95 538.67h.9v.9h-.9zM283.63 537.27h.9v.9h-.9zM306.02 533.59h.9v.9h-.9zM309.28 537.14h.9v.9h-.9zM294.07 539.58h.9v.9h-.9zM317.05 534.26h.9v.9h-.9zM298.2 535.71h.9v.9h-.9zM303.9 533.15h.9v.9h-.9zM293.41 538.68h.9v.9h-.9zM294.45 539.17h.9v.9h-.9zM298.43 540.52h.9v.9h-.9zM310.58 530.57h.9v.9h-.9zM302.68 533.73h.9v.9h-.9zM289.68 537.59h.9v.9h-.9zM306.38 536.4h.9v.9h-.9zM306.79 540.24h.9v.9h-.9zM299.35 536.74h.9v.9h-.9zM300.65 539.82h.9v.9h-.9zM287 534.35h.9v.9h-.9zM283.65 532.65h.9v.9h-.9zM299.32 533.36h.9v.9h-.9zM288.22 533.78h.9v.9h-.9zM307.09 541.81h.9v.9h-.9zM297.07 532.06h.9v.9h-.9zM297.77 532.45h.9v.9h-.9z" fill-opacity="0.35"/>
<path d="M299.11 536.99h.9v.9h-.9zM315.2 532h.9v.9h-.9zM294.49 531.72h.9v.9h-.9zM306.61 531.3h.9v.9h-.9zM308.83 540.88h.9v.9h-.9zM318.81 534.99h.9v.9h-.9zM295.27 541.66h.9v.9h-.9zM293.69 534.29h.9v.9h-.9zM286.72 536.89h.9v.9h-.9zM309.11 531.92h.9v.9h-.9zM304.18 536.39h.9v.9h-.9zM311.61 534.29h.9v.9h-.9zM288.2 535.43h.9v.9h-.9zM300.49 533.69h.9v.9h-.9zM286.47 536.86h.9v.9h-.9zM294.7 529.92h.9v.9h-.9zM300.92 529.02h.9v.9h-.9zM293.94 536.1h.9v.9h-.9zM309.44 531.72h.9v.9h-.9zM298.67 538.81h.9v.9h-.9zM287.76 535.94h.9v.9h-.9zM307.22 538.51h.9v.9h-.9zM295.24 535.89h.9v.9h-.9zM288.72 536.54h.9v.9h-.9zM300.17 532.83h.9v.9h-.9zM319.91 536.9h.9v.9h-.9zM287.54 534.77h.9v.9h-.9zM300.81 531.01h.9v.9h-.9zM286.8 537.25h.9v.9h-.9zM295.17 534.43h.9v.9h-.9zM306.33 533.73h.9v.9h-.9zM294.35 533.98h.9v.9h-.9zM292.01 531.58h.9v.9h-.9zM300.11 535.61h.9v.9h-.9zM302.15 544.93h.9v.9h-.9zM284.12 532.51h.9v.9h-.9zM297.5 526.24h.9v.9h-.9zM302.89 534.31h.9v.9h-.9zM327.79 534.32h.9v.9h-.9zM294.82 534.67h.9v.9h-.9z" fill-opacity="0.35"/>
<path d="M293.58 532.3h.9v.9h-.9zM306.86 535.81h.9v.9h-.9zM299.11 533.71h.9v.9h-.9zM299.41 533.72h.9v.9h-.9zM296.64 540.16h.9v.9h-.9zM301.4 538.13h.9v.9h-.9zM292.56 533.48h.9v.9h-.9zM307.21 534.38h.9v.9h-.9zM300.46 535.5h.9v.9h-.9zM309.5 536.42h.9v.9h-.9zM294.83 530.96h.9v.9h-.9zM293.35 538.81h.9v.9h-.9zM288.62 533.79h.9v.9h-.9zM302.05 540.26h.9v.9h-.9zM290.82 537.49h.9v.9h-.9zM291.81 528.53h.9v.9h-.9zM291.56 530.89h.9v.9h-.9zM281.9 541.56h.9v.9h-.9zM307.9 534.6h.9v.9h-.9zM295.41 539.3h.9v.9h-.9zM287.41 529.23h.9v.9h-.9zM291.67 530.69h.9v.9h-.9zM297.69 536.86h.9v.9h-.9zM294.92 534.41h.9v.9h-.9zM283.27 529.74h.9v.9h-.9zM298.69 539.51h.9v.9h-.9zM303.81 543.07h.9v.9h-.9zM285.57 527.11h.9v.9h-.9zM295.13 535.5h.9v.9h-.9zM287.06 527.96h.9v.9h-.9zM309.34 527.94h.9v.9h-.9zM300.77 537.53h.9v.9h-.9zM308.94 534.39h.9v.9h-.9zM305.09 533.7h.9v.9h-.9zM303.09 539.24h.9v.9h-.9zM295.31 528.48h.9v.9h-.9zM299.96 524.05h.9v.9h-.9zM309.72 532.39h.9v.9h-.9zM290.01 538.06h.9v.9h-.9zM304.54 536.32h.9v.9h-.9z" fill-opacity="0.35"/>
<path d="M289.75 537.1h.9v.9h-.9zM297.02 533.32h.9v.9h-.9zM287.54 536.24h.9v.9h-.9zM287.93 539.15h.9v.9h-.9zM297.47 528.59h.9v.9h-.9zM314.47 529.65h.9v.9h-.9zM289.36 533.1h.9v.9h-.9zM297.37 539.44h.9v.9h-.9zM365.24 516.19h.9v.9h-.9zM366.57 519.32h.9v.9h-.9zM374.84 519.27h.9v.9h-.9zM366.21 516.56h.9v.9h-.9zM379.56 518.14h.9v.9h-.9zM380.18 519.21h.9v.9h-.9zM368.47 518.37h.9v.9h-.9zM373.29 521.96h.9v.9h-.9zM368.47 521.07h.9v.9h-.9zM363.36 514.52h.9v.9h-.9zM361.66 518.08h.9v.9h-.9zM366.8 521.66h.9v.9h-.9zM368.55 518.21h.9v.9h-.9zM368.82 515.04h.9v.9h-.9zM363.59 525.37h.9v.9h-.9zM373.7 515.1h.9v.9h-.9zM363.71 520.61h.9v.9h-.9zM367.88 517.74h.9v.9h-.9zM374.81 516.24h.9v.9h-.9zM363.38 520.84h.9v.9h-.9zM365.12 519.95h.9v.9h-.9zM359.98 518.34h.9v.9h-.9zM380.57 515.14h.9v.9h-.9zM370.14 519.14h.9v.9h-.9zM371.22 519.05h.9v.9h-.9zM374.57 517.45h.9v.9h-.9zM365.28 520.1h.9v.9h-.9zM371.75 513.98h.9v.9h-.9zM374.61 518.34h.9v.9h-.9zM375.89 519.52h.9v.9h-.9zM363.58 518.36h.9v.9h-.9zM374.3 522.67h.9v.9h-.9z" fill-opacity="0.35"/>
<path d="M369.51 521.47h.9v.9h-.9zM377.82 520.4h.9v.9h-.9zM378.48 521.5h.9v.9h-.9zM365.22 515.72h.9v.9h-.9zM365.93 524.74h.9v.9h-.9zM377.01 516.74h.9v.9h-.9zM370.34 525.83h.9v.9h-.9zM365.96 519.56h.9v.9h-.9zM368.56 522.13h.9v.9h-.9zM360.07 520.55h.9v.9h-.9zM371.55 523.02h.9v.9h-.9zM372.88 520.71h.9v.9h-.9zM365.26 520.39h.9v.9h-.9zM367.7 525.05h.9v.9h-.9zM372.31 519.65h.9v.9h-.9zM371.38 519.77h.9v.9h-.9zM368.36 521.53h.9v.9h-.9zM370.46 516.82h.9v.9h-.9zM375.47 521.84h.9v.9h-.9zM376.81 518.3h.9v.9h-.9zM375.74 524.18h.9v.9h-.9zM374.16 520.78h.9v.9h-.9zM370.3 514.78h.9v.9h-.9zM364.92 519.37h.9v.9h-.9zM376.35 521.17h.9v.9h-.9zM367.6 520.22h.9v.9h-.9zM369.94 517.34h.9v.9h-.9zM370.36 522.16h.9v.9h-.9zM364.27 518.31h.9v.9h-.9zM370.34 516.47h.9v.9h-.9zM365.43 520.94h.9v.9h-.9zM367.71 524.42h.9v.9h-.9zM371.38 513.81h.9v.9h-.9zM367.53 513.68h.9v.9h-.9zM368.81 524.02h.9v.9h-.9zM376.03 518.58h.9v.9h-.9zM367.03 518.38h.9v.9h-.9zM364.63 516.75h.9v.9h-.9zM372.51 519.99h.9v.9h-.9zM371.64 519.1h.9v.9h-.9z" fill-opacity="0.35"/>
<path d="M362.41 521.29h.9v.9h-.9zM370.68 522.06h.9v.9h-.9zM371.45 516.55h.9v.9h-.9zM375.79 521.99h.9v.9h-.9zM369.17 521.78h.9v.9h-.9zM373.06 518.16h.9v.9h-.9zM371.84 517.3h.9v.9h-.9zM378 518.24h.9v.9h-.9zM375.87 525.08h.9v.9h-.9zM370.93 521.65h.9v.9h-.9zM378.69 513.9h.9v.9h-.9zM363.92 520.1h.9v.9h-.9zM378.2 522.85h.9v.9h-.9zM367.08 520.74h.9v.9h-.9zM380.18 517.23h.9v.9h-.9zM371.19 517.95h.9v.9h-.9zM367.69 519.03h.9v.9h-.9zM361.19 516.71h.9v.9h-.9zM367.46 522.78h.9v.9h-.9zM364.58 522.29h.9v.9h-.9zM368.36 517.28h.9v.9h-.9zM361.33 520.1h.9v.9h-.9zM370.15 522.04h.9v.9h-.9zM367.22 513.33h.9v.9h-.9zM373.64 523.71h.9v.9h-.9zM370.77 520.02h.9v.9h-.9zM373.33 520.43h.9v.9h-.9zM373.44 522.38h.9v.9h-.9zM373.55 514.46h.9v.9h-.9zM372.81 518.64h.9v.9h-.9zM365.15 522.48h.9v.9h-.9zM366.98 520.88h.9v.9h-.9zM366.79 521.47h.9v.9h-.9zM377.96 517.07h.9v.9h-.9zM366.28 522.49h.9v.9h-.9zM365.69 522.86h.9v.9h-.9zM372.72 516.9h.9v.9h-.9zM367.54 523.68h.9v.9h-.9zM375.27 520.12h.9v.9h-.9zM371.84 522.98h.9v.9h-.9z" fill-opacity="0.35"/>
<path d="M367.27 520.72h.9v.9h-.9zM373.14 523.71h.9v.9h-.9zM368.6 519.11h.9v.9h-.9zM372.09 519.01h.9v.9h-.9zM369.24 521.35h.9v.9h-.9zM367.95 518.85h.9v.9h-.9zM372.07 520.04h.9v.9h-.9zM368.6 519.42h.9v.9h-.9zM364 517.42h.9v.9h-.9zM366.71 516.36h.9v.9h-.9zM378.92 526.06h.9v.9h-.9zM369.31 519.4h.9v.9h-.9zM369.87 518.59h.9v.9h-.9zM367.53 522.42h.9v.9h-.9zM373.52 515.77h.9v.9h-.9zM371.78 517.16h.9v.9h-.9zM374.07 517.36h.9v.9h-.9zM372.29 517.44h.9v.9h-.9zM369.57 520.78h.9v.9h-.9zM374.39 515.5h.9v.9h-.9zM367.6 517.2h.9v.9h-.9zM361.33 520.41h.9v.9h-.9zM369.4 518.77h.9v.9h-.9zM366.15 525.06h.9v.9h-.9zM365.76 511.75h.9v.9h-.9zM368.65 520.54h.9v.9h-.9zM364.69 519.26h.9v.9h-.9zM370.92 516.82h.9v.9h-.9zM364.56 516.45h.9v.9h-.9zM367.67 522.85h.9v.9h-.9zM371.13 517.78h.9v.9h-.9zM367.87 522.02h.9v.9h-.9zM366.89 516.96h.9v.9h-.9zM374.79 519.64h.9v.9h-.9zM377.78 518.92h.9v.9h-.9zM368.9 520.93h.9v.9h-.9zM371.64 519.76h.9v.9h-.9zM365.4 517.62h.9v.9h-.9zM366.39 518.14h.9v.9h-.9zM377.59 516.91h.9v.9h-.9z" fill-opacity="0.35"/>
<path d="M373.1 520.97h.9v.9h-.9zM362.07 522.71h.9v.9h-.9zM371.82 520.76h.9v.9h-.9zM371.65 522.65h.9v.9h-.9zM372.7 517.67h.9v.9h-.9zM367.14 517.05h.9v.9h-.9zM366.28 517.06h.9v.9h-.9zM371.82 522.56h.9v.9h-.9zM369.46 522.74h.9v.9h-.9zM376.73 521.69h.9v.9h-.9zM361.58 511.85h.9v.9h-.9zM376.45 521.12h.9v.9h-.9zM362.88 517.4h.9v.9h-.9zM371.8 519.57h.9v.9h-.9zM363.51 519.47h.9v.9h-.9zM362.49 518.87h.9v.9h-.9zM373.94 520.44h.9v.9h-.9zM367.38 521.52h.9v.9h-.9zM381.15 518.77h.9v.9h-.9zM401.61 537.98h.9v.9h-.9zM404.32 534.3h.9v.9h-.9zM400.63 531.54h.9v.9h-.9zM399.32 541.92h.9v.9h-.9zM400.62 541.27h.9v.9h-.9zM403.24 533.4h.9v.9h-.9zM395.75 545.74h.9v.9h-.9zM396.33 537.74h.9v.9h-.9zM405.72 543.97h.9v.9h-.9zM399.69 545.23h.9v.9h-.9zM397.97 544.04h.9v.9h-.9zM399.04 535.48h.9v.9h-.9zM397.63 536.07h.9v.9h-.9zM400.64 550.44h.9v.9h-.9zM402.35 545.22h.9v.9h-.9zM399.7 549.83h.9v.9h-.9zM399.78 548.26h.9v.9h-.9zM397.03 543.27h.9v.9h-.9zM397.44 537.71h.9v.9h-.9zM399.57 528.77h.9v.9h-.9zM400.97 540.08h.9v.9h-.9z" fill-opacity="0.35"/>
<path d="M395.83 538.95h.9v.9h-.9zM399.74 530.19h.9v.9h-.9zM398.42 545.75h.9v.9h-.9zM398.99 538.49h.9v.9h-.9zM399.74 538.34h.9v.9h-.9zM397.36 538.74h.9v.9h-.9zM395.22 540.54h.9v.9h-.9zM399.27 531.65h.9v.9h-.9zM396.33 540.84h.9v.9h-.9zM398.92 535.83h.9v.9h-.9zM398.66 540.92h.9v.9h-.9zM402.53 537.07h.9v.9h-.9zM395.34 534.35h.9v.9h-.9zM397.71 542.17h.9v.9h-.9zM402.72 541.73h.9v.9h-.9zM397.94 545.25h.9v.9h-.9zM398.93 532.57h.9v.9h-.9zM399.54 551.73h.9v.9h-.9zM399.94 535.5h.9v.9h-.9zM401.83 534.92h.9v.9h-.9zM402.81 543.83h.9v.9h-.9zM396.81 537.13h.9v.9h-.9zM399.12 534.83h.9v.9h-.9zM400.89 538.19h.9v.9h-.9zM404.16 541.21h.9v.9h-.9zM402.31 545.35h.9v.9h-.9zM401.09 544.48h.9v.9h-.9zM398.34 545.56h.9v.9h-.9zM402.4 545.97h.9v.9h-.9zM398.67 536.32h.9v.9h-.9zM402.84 539.17h.9v.9h-.9zM406.23 542.66h.9v.9h-.9zM397.22 543.41h.9v.9h-.9zM400.63 528.38h.9v.9h-.9zM398.59 526.59h.9v.9h-.9zM406.43 532.68h.9v.9h-.9zM398 537.61h.9v.9h-.9zM398.07 546.82h.9v.9h-.9zM399.39 531.21h.9v.9h-.9zM401.88 541.6h.9v.9h-.9z" fill-opacity="0.35"/>
<path d="M396.57 545.14h.9v.9h-.9zM396.77 534.26h.9v.9h-.9zM403.6 536.64h.9v.9h-.9zM400.15 534.68h.9v.9h-.9zM399.29 527.55h.9v.9h-.9zM399.28 534.94h.9v.9h-.9zM402.28 536.98h.9v.9h-.9zM397.97 536.71h.9v.9h-.9zM395.38 541.98h.9v.9h-.9zM395.7 532.27h.9v.9h-.9zM400.64 537.68h.9v.9h-.9zM404.97 531.32h.9v.9h-.9zM400.85 550.15h.9v.9h-.9zM398.46 531.84h.9v.9h-.9zM402.5 550.59h.9v.9h-.9zM398.14 544.51h.9v.9h-.9zM401.65 540.27h.9v.9h-.9zM402.03 537.96h.9v.9h-.9zM401.6 538.04h.9v.9h-.9zM399.62 533.14h.9v.9h-.9zM399.91 538.96h.9v.9h-.9zM397.82 535.25h.9v.9h-.9zM399.09 547.87h.9v.9h-.9zM401.18 543.52h.9v.9h-.9zM403.23 543.7h.9v.9h-.9zM404.09 547.93h.9v.9h-.9zM401.8 538.99h.9v.9h-.9zM400.36 539.08h.9v.9h-.9zM398.23 530.47h.9v.9h-.9zM401.05 531.61h.9v.9h-.9zM401.73 549.89h.9v.9h-.9zM400.29 534.05h.9v.9h-.9zM398.48 543.14h.9v.9h-.9zM399.82 537.01h.9v.9h-.9zM400.68 532.71h.9v.9h-.9zM397.55 541.88h.9v.9h-.9zM398.28 543.24h.9v.9h-.9zM398.86 540.01h.9v.9h-.9zM399.66 547.07h.9v.9h-.9zM399.37 540.07h.9v.9h-.9z" fill-opacity="0.35"/>
<path d="M397.3 540.42h.9v.9h-.9zM399.65 541.36h.9v.9h-.9zM395.11 543.25h.9v.9h-.9zM400.22 541.38h.9v.9h-.9zM401 545.56h.9v.9h-.9zM397.68 536.48h.9v.9h-.9zM400.64 530.8h.9v.9h-.9zM405.42 527.75h.9v.9h-.9zM401.34 536.71h.9v.9h-.9zM451.25 524.99h.9v.9h-.9zM458.49 518.48h.9v.9h-.9zM447.91 518.32h.9v.9h-.9zM439.55 520.93h.9v.9h-.9zM443.91 516.92h.9v.9h-.9zM445.61 518.78h.9v.9h-.9zM440.91 521.14h.9v.9h-.9zM450.64 521.66h.9v.9h-.9zM443.54 517.91h.9v.9h-.9zM453.23 518h.9v.9h-.9zM439.56 517.04h.9v.9h-.9zM455.7 519.98h.9v.9h-.9zM445 520.76h.9v.9h-.9zM447.58 519.63h.9v.9h-.9zM446.52 522.45h.9v.9h-.9zM453.03 517.33h.9v.9h-.9zM446.75 520.35h.9v.9h-.9zM451.49 522.73h.9v.9h-.9zM446.93 522.17h.9v.9h-.9zM454.57 524.13h.9v.9h-.9zM442.76 521.07h.9v.9h-.9zM449.59 517.42h.9v.9h-.9zM445.53 519.21h.9v.9h-.9zM452.7 520.69h.9v.9h-.9zM459.14 522.14h.9v.9h-.9zM445.03 521.35h.9v.9h-.9zM448.1 518.24h.9v.9h-.9zM449.68 516.52h.9v.9h-.9zM448.66 519.19h.9v.9h-.9zM448.11 518.54h.9v.9h-.9zM457.61 518.64h.9v.9h-.9z" fill-opacity="0.35"/>
<path d="M452.15 520.76h.9v.9h-.9zM454.31 518.58h.9v.9h-.9zM440.18 522.59h.9v.9h-.9zM453.61 522.48h.9v.9h-.9zM456.03 520.66h.9v.9h-.9zM442.34 522.06h.9v.9h-.9zM451.1 524.58h.9v.9h-.9zM445.22 519.95h.9v.9h-.9zM439.61 520.18h.9v.9h-.9zM443.5 520.61h.9v.9h-.9zM443.18 521.87h.9v.9h-.9zM446.95 518.59h.9v.9h-.9zM450.9 522.1h.9v.9h-.9zM446.05 520.03h.9v.9h-.9zM452.28 522.03h.9v.9h-.9zM446.6 526.25h.9v.9h-.9zM444.72 516.82h.9v.9h-.9zM443.79 521.18h.9v.9h-.9zM452.86 517.8h.9v.9h-.9zM449.72 516.89h.9v.9h-.9zM447.35 519.89h.9v.9h-.9zM456.52 515.21h.9v.9h-.9zM444.61 515.11h.9v.9h-.9zM444.71 519.65h.9v.9h-.9zM447.52 523.57h.9v.9h-.9zM442.24 518.98h.9v.9h-.9zM456.03 520.68h.9v.9h-.9zM441.91 520.63h.9v.9h-.9zM441.13 518.04h.9v.9h-.9zM444.42 516.2h.9v.9h-.9zM457.95 519.42h.9v.9h-.9zM448.84 519.84h.9v.9h-.9zM446.9 518.22h.9v.9h-.9zM449.96 519.3h.9v.9h-.9zM442.61 523.21h.9v.9h-.9zM456.3 521.84h.9v.9h-.9zM450.5 519.63h.9v.9h-.9zM448.21 522.63h.9v.9h-.9zM447.72 524.39h.9v.9h-.9zM455.79 521.25h.9v.9h-.9z" fill-opacity="0.35"/>
<path d="M448.82 518.15h.9v.9h-.9zM444.97 518.68h.9v.9h-.9zM445.51 517.98h.9v.9h-.9zM449.72 521.5h.9v.9h-.9zM446.61 525.25h.9v.9h-.9zM448.99 520.39h.9v.9h-.9zM448.64 518.84h.9v.9h-.9zM451.9 517.95h.9v.9h-.9zM447.28 526.27h.9v.9h-.9zM449.15 517.52h.9v.9h-.9zM441.01 523.85h.9v.9h-.9zM455.19 519.23h.9v.9h-.9zM449.03 519.2h.9v.9h-.9zM442.07 521.81h.9v.9h-.9zM443.57 522.3h.9v.9h-.9zM449.41 518.78h.9v.9h-.9zM447.97 520.69h.9v.9h-.9zM446.57 519.92h.9v.9h-.9zM454.6 518.47h.9v.9h-.9zM448.39 523.52h.9v.9h-.9zM449.81 519.38h.9v.9h-.9zM440.9 519.79h.9v.9h-.9zM447.39 524.34h.9v.9h-.9zM451.17 523.53h.9v.9h-.9zM450.19 521.25h.9v.9h-.9zM438.3 518.92h.9v.9h-.9zM446.17 520.31h.9v.9h-.9zM440.32 516.18h.9v.9h-.9zM448.56 519.78h.9v.9h-.9zM447.57 519.92h.9v.9h-.9zM446.13 517.28h.9v.9h-.9zM452.52 521.69h.9v.9h-.9zM447.35 525.47h.9v.9h-.9zM443.36 522.91h.9v.9h-.9zM447.17 520.62h.9v.9h-.9zM452.53 520.56h.9v.9h-.9zM447.39 517.15h.9v.9h-.9zM449.16 521.69h.9v.9h-.9zM445.04 517.22h.9v.9h-.9zM453.12 520.96h.9v.9h-.9z" fill-opacity="0.35"/>
<path d="M454.24 520.37h.9v.9h-.9zM451.69 520.96h.9v.9h-.9zM448.94 519.97h.9v.9h-.9zM450.74 522.98h.9v.9h-.9zM448.06 517.65h.9v.9h-.9zM453.13 523.37h.9v.9h-.9zM440.76 521.25h.9v.9h-.9zM456.31 522.31h.9v.9h-.9zM444.62 521.36h.9v.9h-.9zM449.54 517.48h.9v.9h-.9zM445.93 519.65h.9v.9h-.9zM445.59 524.32h.9v.9h-.9zM443.41 524.12h.9v.9h-.9zM447.02 519.84h.9v.9h-.9zM446.25 524.99h.9v.9h-.9zM458.74 521.24h.9v.9h-.9zM441.92 519.79h.9v.9h-.9zM446.35 523.7h.9v.9h-.9zM444.15 518.47h.9v.9h-.9zM453.63 514.49h.9v.9h-.9zM441.37 520.33h.9v.9h-.9zM453.56 525.87h.9v.9h-.9zM457.03 521.35h.9v.9h-.9zM439.2 518.23h.9v.9h-.9zM450.48 520.61h.9v.9h-.9zM442.9 520.33h.9v.9h-.9zM445.67 522.19h.9v.9h-.9zM473.47 543.94h.9v.9h-.9zM480.07 544.83h.9v.9h-.9zM479.65 553.09h.9v.9h-.9zM474.13 542.12h.9v.9h-.9zM478.63 539.92h.9v.9h-.9zM473.04 544.77h.9v.9h-.9zM476.31 545.89h.9v.9h-.9zM476.38 537.62h.9v.9h-.9zM474.35 547.72h.9v.9h-.9zM477.69 547.41h.9v.9h-.9zM472.07 542.05h.9v.9h-.9zM472.62 548.57h.9v.9h-.9zM475.22 551.03h.9v.9h-.9z" fill-opacity="0.35"/>
<path d="M484.94 546.76h.9v.9h-.9zM478.15 539.39h.9v.9h-.9zM478.98 551.75h.9v.9h-.9zM475.57 543.99h.9v.9h-.9zM477.06 543.17h.9v.9h-.9zM478.43 548.56h.9v.9h-.9zM475.53 544.38h.9v.9h-.9zM470.68 548.82h.9v.9h-.9zM481.82 548.02h.9v.9h-.9zM470.87 546.33h.9v.9h-.9zM472.65 550.24h.9v.9h-.9zM477.75 547.13h.9v.9h-.9zM479.88 548.42h.9v.9h-.9zM486.7 538.57h.9v.9h-.9zM477 549.56h.9v.9h-.9zM480.71 543.04h.9v.9h-.9zM472.38 553.97h.9v.9h-.9zM475.8 549.17h.9v.9h-.9zM478.75 548.35h.9v.9h-.9zM480.69 547.09h.9v.9h-.9zM481.54 545.46h.9v.9h-.9zM472.89 552.47h.9v.9h-.9zM476.71 549.18h.9v.9h-.9zM476.96 546.72h.9v.9h-.9zM482.49 539.19h.9v.9h-.9zM473.06 546.7h.9v.9h-.9zM481.24 546.8h.9v.9h-.9zM478.54 549.52h.9v.9h-.9zM484.98 552.65h.9v.9h-.9zM475.36 537.57h.9v.9h-.9zM472.82 545.98h.9v.9h-.9zM480.33 548.5h.9v.9h-.9zM473.06 538.94h.9v.9h-.9zM482.19 546.68h.9v.9h-.9zM475.47 540.59h.9v.9h-.9zM473.74 553.11h.9v.9h-.9zM473.55 545.33h.9v.9h-.9zM474.86 544.58h.9v.9h-.9zM471.59 551.58h.9v.9h-.9zM476.8 549.33h.9v.9h-.9z" fill-opacity="0.35"/>
<path d="M472.51 544.5h.9v.9h-.9zM484.37 545.18h.9v.9h-.9zM474.71 538.48h.9v.9h-.9zM473.82 548.11h.9v.9h-.9zM474.62 542.21h.9v.9h-.9zM480.86 553.4h.9v.9h-.9zM474.93 543.4h.9v.9h-.9zM471.93 545.03h.9v.9h-.9zM477.05 547.77h.9v.9h-.9zM471.67 544.8h.9v.9h-.9zM475.29 539.64h.9v.9h-.9zM476.99 547.28h.9v.9h-.9zM479.6 539.53h.9v.9h-.9zM471.14 545.43h.9v.9h-.9zM476.62 542.44h.9v.9h-.9zM480.74 540.75h.9v.9h-.9zM478.55 539.17h.9v.9h-.9zM479.07 538.56h.9v.9h-.9zM480.54 545h.9v.9h-.9zM480.82 543.28h.9v.9h-.9zM470.88 540.53h.9v.9h-.9zM472.38 546.64h.9v.9h-.9zM473.81 548.13h.9v.9h-.9zM475.88 542.96h.9v.9h-.9zM474.27 544h.9v.9h-.9zM478.31 551.86h.9v.9h-.9zM474.44 545.58h.9v.9h-.9zM480.48 552.24h.9v.9h-.9zM472.88 539.45h.9v.9h-.9zM474.1 551.5h.9v.9h-.9zM474.61 550.09h.9v.9h-.9zM475.75 548.33h.9v.9h-.9zM478.13 544.81h.9v.9h-.9zM473.82 545.74h.9v.9h-.9zM485.87 540.45h.9v.9h-.9zM479.52 544.21h.9v.9h-.9zM471.07 544.87h.9v.9h-.9zM479.9 539.26h.9v.9h-.9zM471.96 549.1h.9v.9h-.9zM470.92 551.23h.9v.9h-.9z" fill-opacity="0.35"/>
<path d="M480.89 542.05h.9v.9h-.9zM477.06 551.21h.9v.9h-.9z" fill-opacity="0.35"/>
<path d="M311.86 82.29h.9v.9h-.9zM310.06 76.75h.9v.9h-.9zM307.5 80.5h.9v.9h-.9zM302.58 88.47h.9v.9h-.9zM310.07 70.93h.9v.9h-.9zM309.63 79.83h.9v.9h-.9zM308.81 82.57h.9v.9h-.9zM303.35 79.38h.9v.9h-.9zM311.73 77.39h.9v.9h-.9zM304.69 73.07h.9v.9h-.9zM304.13 82.4h.9v.9h-.9zM312.29 82.91h.9v.9h-.9zM308.24 92.84h.9v.9h-.9zM306.1 76.84h.9v.9h-.9zM309.03 83.57h.9v.9h-.9zM304.71 74.12h.9v.9h-.9zM308.36 81.91h.9v.9h-.9zM303.89 79.44h.9v.9h-.9zM306.03 83.08h.9v.9h-.9zM307.22 80.08h.9v.9h-.9zM306.56 86.34h.9v.9h-.9zM311.44 78.53h.9v.9h-.9zM309.92 76.38h.9v.9h-.9zM307.75 84.67h.9v.9h-.9zM311.79 78.45h.9v.9h-.9zM307.34 81.63h.9v.9h-.9zM303.36 80.64h.9v.9h-.9zM305.66 82.59h.9v.9h-.9zM304.39 69.68h.9v.9h-.9zM307.66 81.98h.9v.9h-.9zM306.01 85.44h.9v.9h-.9zM306.79 77.22h.9v.9h-.9zM308.89 71.92h.9v.9h-.9zM305.65 80.44h.9v.9h-.9zM309.93 79.66h.9v.9h-.9zM308.41 76.94h.9v.9h-.9zM308.39 89.7h.9v.9h-.9zM305.75 80.64h.9v.9h-.9zM308.04 86.18h.9v.9h-.9zM309.25 84.92h.9v.9h-.9z" fill-opacity="0.3"/>
<path d="M308.12 81.95h.9v.9h-.9zM310.15 82.58h.9v.9h-.9zM312.21 73.74h.9v.9h-.9zM309.82 78.5h.9v.9h-.9zM310.14 92.4h.9v.9h-.9zM307.53 79.15h.9v.9h-.9zM306.15 75.94h.9v.9h-.9zM305.78 84.07h.9v.9h-.9zM307.65 80.91h.9v.9h-.9zM307.06 85.58h.9v.9h-.9zM308.93 79.77h.9v.9h-.9zM309.41 79.72h.9v.9h-.9zM304.32 88.55h.9v.9h-.9zM308.85 75.29h.9v.9h-.9zM310.57 82.45h.9v.9h-.9zM303.17 89.4h.9v.9h-.9zM308.48 85.45h.9v.9h-.9zM308.1 79.73h.9v.9h-.9zM303.22 85.89h.9v.9h-.9zM307.63 78.97h.9v.9h-.9zM308.53 80.98h.9v.9h-.9zM309.44 78.51h.9v.9h-.9zM306.36 84.27h.9v.9h-.9zM311.29 78.55h.9v.9h-.9zM307.21 89.26h.9v.9h-.9zM306.64 84.59h.9v.9h-.9zM312.25 80.77h.9v.9h-.9zM310.99 76.64h.9v.9h-.9zM308.13 80.12h.9v.9h-.9zM307.87 86.76h.9v.9h-.9zM314.24 76.89h.9v.9h-.9zM305.94 83.29h.9v.9h-.9zM304.6 83.28h.9v.9h-.9zM309.15 79.02h.9v.9h-.9zM309.04 72.03h.9v.9h-.9zM309.68 72.05h.9v.9h-.9zM305.6 77.49h.9v.9h-.9zM306.43 85.27h.9v.9h-.9zM307.78 78.36h.9v.9h-.9zM309.07 89.25h.9v.9h-.9z" fill-opacity="0.3"/>
<path d="M307.57 82.56h.9v.9h-.9zM311.02 82.02h.9v.9h-.9zM313.73 69.63h.9v.9h-.9zM307.44 82.85h.9v.9h-.9zM310.25 84.23h.9v.9h-.9zM306.79 74.75h.9v.9h-.9zM307.84 86.23h.9v.9h-.9zM304.5 74.9h.9v.9h-.9zM307.48 69.89h.9v.9h-.9zM306.82 78.15h.9v.9h-.9zM308.81 76.69h.9v.9h-.9zM305.08 78.38h.9v.9h-.9zM307.41 76.89h.9v.9h-.9zM307.58 84.68h.9v.9h-.9zM310.87 89.93h.9v.9h-.9zM305.36 78.24h.9v.9h-.9zM300.6 91h.9v.9h-.9zM305.52 80.37h.9v.9h-.9zM309.01 73.08h.9v.9h-.9zM308.85 80.4h.9v.9h-.9zM302.44 82.16h.9v.9h-.9zM310.89 70.28h.9v.9h-.9zM309.81 81.7h.9v.9h-.9zM308.88 82.98h.9v.9h-.9zM311.2 79.32h.9v.9h-.9zM310 78.3h.9v.9h-.9zM309.59 76.07h.9v.9h-.9zM307.25 90.07h.9v.9h-.9zM308.8 79.68h.9v.9h-.9zM304.34 76.2h.9v.9h-.9zM308.09 85.72h.9v.9h-.9zM308.74 83.43h.9v.9h-.9zM307.43 87.99h.9v.9h-.9zM306.46 77.53h.9v.9h-.9zM310.04 80.9h.9v.9h-.9zM306.77 77.38h.9v.9h-.9zM306.83 83.98h.9v.9h-.9zM308.54 73.9h.9v.9h-.9zM308.74 81.53h.9v.9h-.9zM304.75 84.8h.9v.9h-.9z" fill-opacity="0.3"/>
<path d="M306.76 78.71h.9v.9h-.9zM309.78 87.81h.9v.9h-.9zM305.62 82.96h.9v.9h-.9zM306.17 87.12h.9v.9h-.9zM305.74 85.01h.9v.9h-.9zM306.33 83.3h.9v.9h-.9zM307.29 76.87h.9v.9h-.9zM313.58 80.99h.9v.9h-.9zM302.95 85.25h.9v.9h-.9zM302.73 86.88h.9v.9h-.9zM305.93 81.35h.9v.9h-.9zM311.08 81.2h.9v.9h-.9zM303.65 71.22h.9v.9h-.9zM310.86 84.62h.9v.9h-.9zM305.27 85.28h.9v.9h-.9zM308.94 84.11h.9v.9h-.9zM301.23 78.89h.9v.9h-.9zM310.07 84.58h.9v.9h-.9zM308.02 83.26h.9v.9h-.9zM314.7 75.3h.9v.9h-.9zM306.63 80.75h.9v.9h-.9zM310.03 78.11h.9v.9h-.9zM310.76 76.22h.9v.9h-.9zM308.3 77.65h.9v.9h-.9zM307.99 76.75h.9v.9h-.9zM303.08 86.56h.9v.9h-.9zM308.4 77.48h.9v.9h-.9zM308.11 86h.9v.9h-.9zM304.81 79.94h.9v.9h-.9zM309.06 83.44h.9v.9h-.9zM311.03 82.36h.9v.9h-.9zM307.59 79.02h.9v.9h-.9zM308.29 78.21h.9v.9h-.9zM304.68 76.48h.9v.9h-.9zM305.88 77.18h.9v.9h-.9zM304.31 84.05h.9v.9h-.9zM303.88 84.18h.9v.9h-.9zM304.71 82.49h.9v.9h-.9zM311.4 81.67h.9v.9h-.9zM305.5 80.82h.9v.9h-.9z" fill-opacity="0.3"/>
<path d="M307.96 71.01h.9v.9h-.9zM305.85 81.45h.9v.9h-.9zM306.24 80.99h.9v.9h-.9zM309.61 84.77h.9v.9h-.9zM310.09 83.79h.9v.9h-.9zM306.74 80.45h.9v.9h-.9zM306.79 78.83h.9v.9h-.9zM307.05 71.06h.9v.9h-.9zM306.62 80.42h.9v.9h-.9zM304.82 80.42h.9v.9h-.9zM308.99 79.65h.9v.9h-.9zM306.97 70.51h.9v.9h-.9zM300.54 81.25h.9v.9h-.9zM309 78.89h.9v.9h-.9zM309.94 82.6h.9v.9h-.9zM307.61 77.32h.9v.9h-.9zM309.34 77.88h.9v.9h-.9zM308.17 77.74h.9v.9h-.9zM301.26 80.38h.9v.9h-.9zM308.12 84.7h.9v.9h-.9zM305.1 80.37h.9v.9h-.9zM309.28 81.35h.9v.9h-.9zM311.03 91.5h.9v.9h-.9zM305.01 69.99h.9v.9h-.9zM309.95 88.96h.9v.9h-.9zM310.13 85.03h.9v.9h-.9zM305.82 76.63h.9v.9h-.9zM310.04 75.54h.9v.9h-.9zM302.47 75.06h.9v.9h-.9zM314.53 91.13h.9v.9h-.9zM305.63 76.54h.9v.9h-.9zM308.2 76.43h.9v.9h-.9zM311.22 80.12h.9v.9h-.9zM304.51 87.75h.9v.9h-.9zM305.92 81.77h.9v.9h-.9zM307.51 78.82h.9v.9h-.9zM308.46 76.74h.9v.9h-.9zM304 76.38h.9v.9h-.9zM307.49 80.85h.9v.9h-.9zM309.11 81.21h.9v.9h-.9z" fill-opacity="0.3"/>
<path d="M305.33 76.65h.9v.9h-.9zM301.62 79.62h.9v.9h-.9zM308.91 83.46h.9v.9h-.9zM307.21 79.59h.9v.9h-.9zM310.17 80.63h.9v.9h-.9zM309.62 83.75h.9v.9h-.9zM308.15 87.74h.9v.9h-.9zM305.95 78.58h.9v.9h-.9zM305.29 76.17h.9v.9h-.9zM311.91 90.23h.9v.9h-.9zM307.61 83.68h.9v.9h-.9zM310.84 84.99h.9v.9h-.9zM310.92 73.6h.9v.9h-.9zM305.76 83.04h.9v.9h-.9zM311.57 81.12h.9v.9h-.9zM305.15 78.6h.9v.9h-.9zM305.7 75.83h.9v.9h-.9zM311.75 77.11h.9v.9h-.9zM307.61 92.44h.9v.9h-.9zM310.87 82.4h.9v.9h-.9zM305.84 82.81h.9v.9h-.9zM312.09 83.98h.9v.9h-.9zM311.08 81.09h.9v.9h-.9zM309 79.44h.9v.9h-.9zM308.75 87.7h.9v.9h-.9zM303.54 80.21h.9v.9h-.9zM308.22 77.41h.9v.9h-.9zM306.69 84.88h.9v.9h-.9zM313.15 84.01h.9v.9h-.9zM308.46 72.02h.9v.9h-.9zM312.95 80.97h.9v.9h-.9zM307.46 74.4h.9v.9h-.9zM307.39 74.52h.9v.9h-.9zM307.75 83.11h.9v.9h-.9zM307.64 82.09h.9v.9h-.9zM305.16 88.41h.9v.9h-.9zM305.72 70.55h.9v.9h-.9zM307.02 76.35h.9v.9h-.9zM304.72 78.6h.9v.9h-.9zM308.37 74.05h.9v.9h-.9z" fill-opacity="0.3"/>
<path d="M307.16 88.4h.9v.9h-.9zM309.46 79.71h.9v.9h-.9zM307.91 79.89h.9v.9h-.9zM307.42 84.58h.9v.9h-.9zM307.49 75.66h.9v.9h-.9zM309.37 77.19h.9v.9h-.9zM307.97 92.53h.9v.9h-.9zM304.62 74.36h.9v.9h-.9zM302.29 82.55h.9v.9h-.9zM305.76 70.28h.9v.9h-.9zM303.4 83.94h.9v.9h-.9zM305.38 78.53h.9v.9h-.9zM308.48 88.01h.9v.9h-.9zM312.98 86.23h.9v.9h-.9zM307.95 81.56h.9v.9h-.9zM312.6 88.41h.9v.9h-.9zM306.68 83.07h.9v.9h-.9zM308.35 80.84h.9v.9h-.9zM306.15 73.25h.9v.9h-.9zM306.05 72.06h.9v.9h-.9zM310.98 83.5h.9v.9h-.9zM304.17 88.23h.9v.9h-.9zM310.05 70.05h.9v.9h-.9zM312.71 85h.9v.9h-.9zM313.33 73.78h.9v.9h-.9zM309.04 82.88h.9v.9h-.9zM308.12 81.49h.9v.9h-.9zM310.5 72.33h.9v.9h-.9zM304.07 72.88h.9v.9h-.9zM305.99 77.22h.9v.9h-.9zM308.58 82.02h.9v.9h-.9zM307.64 76.83h.9v.9h-.9zM306.31 85.79h.9v.9h-.9zM309.69 81.11h.9v.9h-.9zM306.65 89.09h.9v.9h-.9zM305.89 84.12h.9v.9h-.9zM310.78 79.09h.9v.9h-.9zM309.86 74.41h.9v.9h-.9zM310.39 81.65h.9v.9h-.9zM303.11 84.23h.9v.9h-.9z" fill-opacity="0.3"/>
<path d="M305.05 87.6h.9v.9h-.9zM305.65 79.64h.9v.9h-.9zM308.34 78.72h.9v.9h-.9zM308.28 77.51h.9v.9h-.9zM309.43 80.58h.9v.9h-.9zM310.8 80.73h.9v.9h-.9zM302.56 81.08h.9v.9h-.9zM308.86 86.44h.9v.9h-.9zM304.52 89.06h.9v.9h-.9zM307.14 84.29h.9v.9h-.9zM306.52 74.41h.9v.9h-.9zM310.62 85.53h.9v.9h-.9zM311.86 85.26h.9v.9h-.9zM305.95 71.41h.9v.9h-.9zM305.73 76.84h.9v.9h-.9zM305.27 83.75h.9v.9h-.9zM308.47 79.07h.9v.9h-.9zM308.03 79.75h.9v.9h-.9zM308.15 84.69h.9v.9h-.9zM310.24 76.78h.9v.9h-.9zM303.33 88.4h.9v.9h-.9zM307.87 86.63h.9v.9h-.9zM410.82 161.78h.9v.9h-.9zM412.35 169.79h.9v.9h-.9zM407.05 162.89h.9v.9h-.9zM418.06 166.1h.9v.9h-.9zM413.08 168.63h.9v.9h-.9zM409.12 158.65h.9v.9h-.9zM406.88 157.44h.9v.9h-.9zM413.4 168.69h.9v.9h-.9zM411.13 161.24h.9v.9h-.9zM413.93 167.54h.9v.9h-.9zM413.43 155.27h.9v.9h-.9zM410.69 152.21h.9v.9h-.9zM413.38 160.41h.9v.9h-.9zM410.31 171.87h.9v.9h-.9zM417.06 166.9h.9v.9h-.9zM413.49 165.39h.9v.9h-.9zM410.55 164.3h.9v.9h-.9zM419.07 160.29h.9v.9h-.9z" fill-opacity="0.3"/>
<path d="M410.29 165.34h.9v.9h-.9zM415.59 168.61h.9v.9h-.9zM409.26 163.92h.9v.9h-.9zM411.65 158.55h.9v.9h-.9zM412.81 162.21h.9v.9h-.9zM415.68 166.66h.9v.9h-.9zM409.89 164.94h.9v.9h-.9zM411.34 161.46h.9v.9h-.9zM410.89 169.73h.9v.9h-.9zM411.14 156.21h.9v.9h-.9zM409.91 168.48h.9v.9h-.9zM419.88 159.43h.9v.9h-.9zM411.34 162.95h.9v.9h-.9zM407.76 166.5h.9v.9h-.9zM412.38 165.91h.9v.9h-.9zM420.17 163.25h.9v.9h-.9zM415.25 168.61h.9v.9h-.9zM410.39 161.67h.9v.9h-.9zM417.85 168.03h.9v.9h-.9zM413.04 159.23h.9v.9h-.9zM415.56 167.12h.9v.9h-.9zM420.03 171.72h.9v.9h-.9zM415.29 165.85h.9v.9h-.9zM412.76 161.87h.9v.9h-.9zM413.6 165.74h.9v.9h-.9zM414.77 169.83h.9v.9h-.9zM413.61 161.91h.9v.9h-.9zM409.71 166.59h.9v.9h-.9zM414.42 167.16h.9v.9h-.9zM414.27 164.11h.9v.9h-.9zM418.44 157.74h.9v.9h-.9zM410.26 162.04h.9v.9h-.9zM407.13 166.27h.9v.9h-.9zM412.36 161.93h.9v.9h-.9zM417.57 170.26h.9v.9h-.9zM411.15 167.75h.9v.9h-.9zM412.42 170.17h.9v.9h-.9zM414.53 164.38h.9v.9h-.9zM414.43 161.06h.9v.9h-.9zM415.25 171.86h.9v.9h-.9z" fill-opacity="0.3"/>
<path d="M411.32 167.25h.9v.9h-.9zM406.89 169.1h.9v.9h-.9zM415.54 159.59h.9v.9h-.9zM418.48 165.11h.9v.9h-.9zM406.67 157.9h.9v.9h-.9zM415.52 163.23h.9v.9h-.9zM416.3 157.02h.9v.9h-.9zM412.22 169.3h.9v.9h-.9zM413.67 345.58h.9v.9h-.9zM407.5 349.99h.9v.9h-.9zM417.62 354.21h.9v.9h-.9zM408.48 347.59h.9v.9h-.9zM410.94 358.41h.9v.9h-.9zM413.25 345.69h.9v.9h-.9zM410.4 339.75h.9v.9h-.9zM410.63 356.92h.9v.9h-.9zM406.9 352.7h.9v.9h-.9zM413.19 356.44h.9v.9h-.9zM409.58 357h.9v.9h-.9zM407.88 351.37h.9v.9h-.9zM412.85 352.29h.9v.9h-.9zM410.12 356.69h.9v.9h-.9zM410.24 348.09h.9v.9h-.9zM416.14 352.36h.9v.9h-.9zM410.91 358.97h.9v.9h-.9zM415.4 357.69h.9v.9h-.9zM412.96 359.22h.9v.9h-.9zM411.95 344.84h.9v.9h-.9zM413.56 343.17h.9v.9h-.9zM417.98 355.95h.9v.9h-.9zM407.68 352.58h.9v.9h-.9zM416.56 349.4h.9v.9h-.9zM415.04 348.04h.9v.9h-.9zM413.33 351.04h.9v.9h-.9zM415.28 345.74h.9v.9h-.9zM409.61 353.53h.9v.9h-.9zM411.79 354.67h.9v.9h-.9zM411.8 343.67h.9v.9h-.9zM416.17 353.15h.9v.9h-.9zM416.14 349.51h.9v.9h-.9z" fill-opacity="0.3"/>
<path d="M412.31 359.14h.9v.9h-.9zM415.38 351.21h.9v.9h-.9zM413.89 355.18h.9v.9h-.9zM410.86 353.22h.9v.9h-.9zM410.22 340.44h.9v.9h-.9zM414.28 352.15h.9v.9h-.9zM415.85 354.9h.9v.9h-.9zM416.03 356.3h.9v.9h-.9zM409.86 358.86h.9v.9h-.9zM422.99 348.15h.9v.9h-.9zM409.14 355.67h.9v.9h-.9zM416.79 357.63h.9v.9h-.9zM418.97 343.21h.9v.9h-.9zM414.89 354.34h.9v.9h-.9zM417.96 346.18h.9v.9h-.9zM413.65 349.32h.9v.9h-.9zM413 350.68h.9v.9h-.9zM413.03 340.91h.9v.9h-.9zM413.43 351.96h.9v.9h-.9zM411.12 347.61h.9v.9h-.9zM416.82 350.43h.9v.9h-.9zM410.15 354.4h.9v.9h-.9zM417.47 350.81h.9v.9h-.9zM415.72 346.76h.9v.9h-.9zM407.99 356.63h.9v.9h-.9zM419.32 349.72h.9v.9h-.9zM411.71 340.76h.9v.9h-.9zM421.12 344.32h.9v.9h-.9zM410.15 350.38h.9v.9h-.9zM417.83 351.87h.9v.9h-.9zM413.49 351.68h.9v.9h-.9zM416.55 351.33h.9v.9h-.9zM414.12 351.11h.9v.9h-.9zM409.65 359.65h.9v.9h-.9zM411.12 343.61h.9v.9h-.9zM412.02 351.74h.9v.9h-.9zM416.45 342.69h.9v.9h-.9zM409.1 352.62h.9v.9h-.9zM414.91 344.94h.9v.9h-.9zM304.9 438.45h.9v.9h-.9z" fill-opacity="0.3"/>
<path d="M317.15 448.24h.9v.9h-.9zM298.29 449.83h.9v.9h-.9zM300.2 445.82h.9v.9h-.9zM300.29 454.62h.9v.9h-.9zM326.74 449.88h.9v.9h-.9zM300.47 433.25h.9v.9h-.9zM302.92 443.13h.9v.9h-.9zM284.14 440.82h.9v.9h-.9zM326.19 422.05h.9v.9h-.9zM324.44 441.87h.9v.9h-.9zM329.44 447.74h.9v.9h-.9zM316.33 448.92h.9v.9h-.9zM302.34 424.15h.9v.9h-.9zM322.72 453.76h.9v.9h-.9zM316.45 428.04h.9v.9h-.9zM306.02 439.62h.9v.9h-.9zM299.66 438.64h.9v.9h-.9zM304.05 457.79h.9v.9h-.9zM312.02 457.63h.9v.9h-.9zM325.24 426.47h.9v.9h-.9zM318.8 434.41h.9v.9h-.9zM310.63 441.51h.9v.9h-.9zM317.32 431.28h.9v.9h-.9zM314.41 433.97h.9v.9h-.9zM319.32 438.8h.9v.9h-.9zM312.79 458.41h.9v.9h-.9zM295.72 419.74h.9v.9h-.9zM324.64 440.02h.9v.9h-.9zM312.92 451.94h.9v.9h-.9zM324.4 434.6h.9v.9h-.9zM328.95 434.78h.9v.9h-.9zM316.71 451.99h.9v.9h-.9zM299.6 435.92h.9v.9h-.9zM299.78 432.89h.9v.9h-.9zM301.91 452.62h.9v.9h-.9zM285.4 458.13h.9v.9h-.9zM319.71 441.37h.9v.9h-.9zM312.73 431.23h.9v.9h-.9zM318.49 453.64h.9v.9h-.9zM300.5 439.02h.9v.9h-.9z" fill-opacity="0.3"/>
<path d="M292.84 429.33h.9v.9h-.9zM322.6 444.6h.9v.9h-.9zM303.57 444.52h.9v.9h-.9zM291.25 419.7h.9v.9h-.9zM299.34 441.98h.9v.9h-.9zM291.23 440.68h.9v.9h-.9zM297.83 429.79h.9v.9h-.9zM317.33 433.62h.9v.9h-.9zM317.44 448.78h.9v.9h-.9zM300.2 420.79h.9v.9h-.9zM322.16 441.06h.9v.9h-.9zM309.81 446.28h.9v.9h-.9zM308.34 454.93h.9v.9h-.9zM282.96 457.32h.9v.9h-.9zM311.52 435.44h.9v.9h-.9zM325.19 454.47h.9v.9h-.9zM310.58 419.92h.9v.9h-.9zM311.85 435.62h.9v.9h-.9zM309.52 451.93h.9v.9h-.9zM288.75 452.48h.9v.9h-.9zM297.15 429.35h.9v.9h-.9zM284.3 423.71h.9v.9h-.9zM295.14 440.18h.9v.9h-.9zM326.72 426.26h.9v.9h-.9zM296.13 434.1h.9v.9h-.9zM312.63 433.35h.9v.9h-.9zM314.03 425.41h.9v.9h-.9zM284.61 442.16h.9v.9h-.9zM316.57 424.77h.9v.9h-.9zM284.81 445.63h.9v.9h-.9zM285.63 455.65h.9v.9h-.9zM315.01 425.81h.9v.9h-.9zM301.8 421.72h.9v.9h-.9zM286.67 433.27h.9v.9h-.9zM323.8 455.03h.9v.9h-.9zM317.95 444.41h.9v.9h-.9zM310.01 439.47h.9v.9h-.9zM313.38 438.92h.9v.9h-.9zM301.24 452.18h.9v.9h-.9zM296.7 435.37h.9v.9h-.9z" fill-opacity="0.3"/>
<path d="M314.48 457.14h.9v.9h-.9zM298.75 436.44h.9v.9h-.9zM301.44 427.74h.9v.9h-.9zM299.22 450.34h.9v.9h-.9zM291.38 438.17h.9v.9h-.9zM295.9 442.1h.9v.9h-.9zM318.89 424.06h.9v.9h-.9zM305.41 426.86h.9v.9h-.9zM312.93 445.98h.9v.9h-.9zM292.95 428.54h.9v.9h-.9zM296.8 432.35h.9v.9h-.9zM324.51 453.64h.9v.9h-.9zM319.75 434.91h.9v.9h-.9zM304.04 427.4h.9v.9h-.9zM304.18 456.63h.9v.9h-.9zM286.84 434.93h.9v.9h-.9zM291.73 452.5h.9v.9h-.9zM296.72 438.56h.9v.9h-.9zM285 446.48h.9v.9h-.9zM306.71 450.78h.9v.9h-.9zM316.46 448.57h.9v.9h-.9zM294.9 429.34h.9v.9h-.9zM310.64 421.47h.9v.9h-.9zM326.58 447.65h.9v.9h-.9zM305.74 433.64h.9v.9h-.9zM286.19 441.17h.9v.9h-.9zM318.88 424.13h.9v.9h-.9zM287.21 446.29h.9v.9h-.9zM304.64 450.42h.9v.9h-.9zM301.89 457.86h.9v.9h-.9zM323.56 432.08h.9v.9h-.9zM307.77 442.44h.9v.9h-.9zM303.72 451.45h.9v.9h-.9zM315.7 451.47h.9v.9h-.9zM294.44 439.24h.9v.9h-.9zM308.09 442.31h.9v.9h-.9zM283.3 451.23h.9v.9h-.9zM303.61 425.75h.9v.9h-.9zM322.73 441.25h.9v.9h-.9zM317.35 448.41h.9v.9h-.9z" fill-opacity="0.3"/>
<path d="M311.82 455.2h.9v.9h-.9zM285.18 432.55h.9v.9h-.9zM290.25 444.36h.9v.9h-.9zM292.87 420.65h.9v.9h-.9zM288.96 426.35h.9v.9h-.9zM307.94 437.31h.9v.9h-.9zM304.38 420.03h.9v.9h-.9zM307.38 429.44h.9v.9h-.9zM286.85 421.76h.9v.9h-.9zM289.64 435.18h.9v.9h-.9zM290.39 437.63h.9v.9h-.9zM290.24 448.22h.9v.9h-.9zM323.72 432.17h.9v.9h-.9zM285.92 457.19h.9v.9h-.9zM286.5 444.9h.9v.9h-.9zM318.11 438.39h.9v.9h-.9zM324.43 425.29h.9v.9h-.9zM316.41 454.93h.9v.9h-.9zM324.71 452.66h.9v.9h-.9zM303.06 439.51h.9v.9h-.9zM322.44 434.36h.9v.9h-.9zM294.55 420.77h.9v.9h-.9zM292.15 425.03h.9v.9h-.9zM326.23 431.6h.9v.9h-.9zM299.11 457.56h.9v.9h-.9zM315.03 436.47h.9v.9h-.9zM287.51 433.8h.9v.9h-.9zM296.22 456.54h.9v.9h-.9zM302.32 457.49h.9v.9h-.9zM295.24 421.4h.9v.9h-.9zM324.82 422.48h.9v.9h-.9zM319.59 442.77h.9v.9h-.9zM295.89 452.08h.9v.9h-.9zM302.72 457.91h.9v.9h-.9zM308.78 456.36h.9v.9h-.9zM326.29 434.22h.9v.9h-.9zM315.05 447.94h.9v.9h-.9zM313.34 420.46h.9v.9h-.9zM314.89 449.26h.9v.9h-.9zM291.65 423.26h.9v.9h-.9z" fill-opacity="0.3"/>
<path d="M285.72 440.77h.9v.9h-.9zM287.54 452.62h.9v.9h-.9zM302.07 458.38h.9v.9h-.9zM317.05 436.25h.9v.9h-.9zM291.13 436.19h.9v.9h-.9zM311.08 453.14h.9v.9h-.9zM324.47 432.21h.9v.9h-.9zM283.65 445.47h.9v.9h-.9zM314.86 444.8h.9v.9h-.9zM320.3 451.22h.9v.9h-.9zM311.95 451.59h.9v.9h-.9zM288.43 456.45h.9v.9h-.9zM313.87 423.23h.9v.9h-.9zM290.47 444.56h.9v.9h-.9zM296.93 456.1h.9v.9h-.9zM295.66 438.5h.9v.9h-.9zM306.22 456.21h.9v.9h-.9zM296.83 454.34h.9v.9h-.9zM316.55 441.74h.9v.9h-.9zM327.02 454.01h.9v.9h-.9zM317.77 440.83h.9v.9h-.9zM284.61 428.15h.9v.9h-.9zM313.13 424.11h.9v.9h-.9zM312.78 433.08h.9v.9h-.9zM300.76 451.64h.9v.9h-.9zM322.06 448.71h.9v.9h-.9zM303.54 440.46h.9v.9h-.9zM328.87 455.66h.9v.9h-.9zM311.11 422.63h.9v.9h-.9zM324.93 421.33h.9v.9h-.9zM288.06 445.25h.9v.9h-.9zM291.78 448.94h.9v.9h-.9zM314.82 426h.9v.9h-.9zM325.24 458.48h.9v.9h-.9zM313.42 457.85h.9v.9h-.9zM320.21 438h.9v.9h-.9zM321.3 456.15h.9v.9h-.9zM315.27 422.81h.9v.9h-.9zM300.06 447h.9v.9h-.9zM289.97 424.26h.9v.9h-.9z" fill-opacity="0.3"/>
<path d="M297.02 427.74h.9v.9h-.9zM303.6 427.08h.9v.9h-.9zM290.7 430.64h.9v.9h-.9zM308.17 425.7h.9v.9h-.9zM292.27 425.47h.9v.9h-.9zM295.41 423.63h.9v.9h-.9zM297.31 423.72h.9v.9h-.9zM303.18 423.76h.9v.9h-.9zM301.81 426.51h.9v.9h-.9zM298.91 427.08h.9v.9h-.9zM288.2 432.89h.9v.9h-.9zM291.2 427.68h.9v.9h-.9zM297.62 424.37h.9v.9h-.9zM313.04 428.72h.9v.9h-.9zM294.95 427.2h.9v.9h-.9zM303.56 430.08h.9v.9h-.9zM306.54 425.12h.9v.9h-.9zM295.16 422.31h.9v.9h-.9zM299.79 428.05h.9v.9h-.9zM293.92 427.48h.9v.9h-.9zM298.61 424.29h.9v.9h-.9zM286.47 428.75h.9v.9h-.9zM320.21 427.15h.9v.9h-.9zM287.73 422.67h.9v.9h-.9zM299.7 427.44h.9v.9h-.9zM311.09 418.75h.9v.9h-.9zM314.07 426.07h.9v.9h-.9zM298.66 426.69h.9v.9h-.9zM294.25 424.78h.9v.9h-.9zM306.92 420.68h.9v.9h-.9zM296.42 427.18h.9v.9h-.9zM282.63 425.14h.9v.9h-.9zM311.21 426.65h.9v.9h-.9zM303.81 427.6h.9v.9h-.9zM299.43 426.61h.9v.9h-.9zM290.14 425h.9v.9h-.9zM314.07 422.11h.9v.9h-.9zM295.95 422h.9v.9h-.9zM292.66 423.4h.9v.9h-.9zM286.43 426.28h.9v.9h-.9z" fill-opacity="0.3"/>
<path d="M288.96 427.1h.9v.9h-.9zM313.72 418.33h.9v.9h-.9zM295.97 419.64h.9v.9h-.9zM296.35 426.66h.9v.9h-.9zM299.36 429.03h.9v.9h-.9zM298.9 420.69h.9v.9h-.9zM311.01 422.9h.9v.9h-.9zM296.64 426.51h.9v.9h-.9zM289.55 425.85h.9v.9h-.9zM310.92 420.79h.9v.9h-.9zM282.48 424.32h.9v.9h-.9zM295.97 421.95h.9v.9h-.9zM301 421.82h.9v.9h-.9zM302.64 425.41h.9v.9h-.9zM298.93 421.79h.9v.9h-.9zM295.51 426.96h.9v.9h-.9zM281.71 422.6h.9v.9h-.9zM306.21 431.28h.9v.9h-.9zM303.44 425.39h.9v.9h-.9zM287.74 424.43h.9v.9h-.9zM295.22 426.85h.9v.9h-.9zM295.2 432.66h.9v.9h-.9zM309.41 419.32h.9v.9h-.9zM286.97 425.58h.9v.9h-.9zM306.34 426.74h.9v.9h-.9zM309.65 427.28h.9v.9h-.9zM320.57 427.87h.9v.9h-.9zM301.67 429.96h.9v.9h-.9zM293.49 424.03h.9v.9h-.9zM288.38 426.3h.9v.9h-.9zM301.46 428.27h.9v.9h-.9zM310.56 427.37h.9v.9h-.9zM308.61 424.87h.9v.9h-.9zM288.82 427.68h.9v.9h-.9zM306.65 429.42h.9v.9h-.9zM296.03 424.24h.9v.9h-.9zM294.24 426.62h.9v.9h-.9zM297.08 425.06h.9v.9h-.9zM299.81 424.75h.9v.9h-.9zM300.56 423.87h.9v.9h-.9z" fill-opacity="0.3"/>
<path d="M283.59 424.69h.9v.9h-.9zM314.56 423.26h.9v.9h-.9zM305.77 429.44h.9v.9h-.9zM292.62 426.32h.9v.9h-.9zM311.39 426.11h.9v.9h-.9zM290.82 425.9h.9v.9h-.9zM300.11 424.39h.9v.9h-.9zM294.73 423.23h.9v.9h-.9zM302.7 426.15h.9v.9h-.9zM300.65 424.13h.9v.9h-.9zM301.98 424.72h.9v.9h-.9zM300.21 425.12h.9v.9h-.9zM291.55 422.43h.9v.9h-.9zM301.69 434.95h.9v.9h-.9zM282.72 423.23h.9v.9h-.9zM297.44 435.84h.9v.9h-.9zM295.68 422.22h.9v.9h-.9zM301.31 431.58h.9v.9h-.9zM308.7 422.23h.9v.9h-.9zM296.59 423.76h.9v.9h-.9zM304.42 421.39h.9v.9h-.9zM300.34 426.2h.9v.9h-.9zM302.63 426.81h.9v.9h-.9zM298.92 420.45h.9v.9h-.9zM294.62 422.84h.9v.9h-.9zM302.32 424.9h.9v.9h-.9zM298.91 428.75h.9v.9h-.9zM296.57 430.44h.9v.9h-.9zM305.08 421.28h.9v.9h-.9zM292.27 429.09h.9v.9h-.9zM293.04 429.02h.9v.9h-.9zM292.47 425.22h.9v.9h-.9zM306.81 421.01h.9v.9h-.9zM365.42 440.5h.9v.9h-.9zM363.27 454.14h.9v.9h-.9zM390.98 442.64h.9v.9h-.9zM387.28 446.55h.9v.9h-.9zM372.37 447.48h.9v.9h-.9zM359.93 452.23h.9v.9h-.9zM406.47 437.83h.9v.9h-.9z" fill-opacity="0.3"/>
<path d="M380.9 448.98h.9v.9h-.9zM393.08 453.64h.9v.9h-.9zM375.67 453.1h.9v.9h-.9zM377.17 453.79h.9v.9h-.9zM384.42 448.46h.9v.9h-.9zM403.36 438.15h.9v.9h-.9zM383.97 442.56h.9v.9h-.9zM362.55 453.8h.9v.9h-.9zM369.18 437.85h.9v.9h-.9zM366.2 453.8h.9v.9h-.9zM394.07 442.09h.9v.9h-.9zM383.49 442.82h.9v.9h-.9zM383.71 434.55h.9v.9h-.9zM373.63 458.46h.9v.9h-.9zM375.23 451.77h.9v.9h-.9zM389.92 445.65h.9v.9h-.9zM389.97 451.64h.9v.9h-.9zM387.75 453.99h.9v.9h-.9zM374.27 439.52h.9v.9h-.9zM382.09 454.04h.9v.9h-.9zM383.94 433.69h.9v.9h-.9zM382.28 456.82h.9v.9h-.9zM367.74 448.43h.9v.9h-.9zM373.51 447.64h.9v.9h-.9zM396.94 442.1h.9v.9h-.9zM368.01 445.2h.9v.9h-.9zM407.73 434.24h.9v.9h-.9zM374.43 439.22h.9v.9h-.9zM382.71 453.99h.9v.9h-.9zM387.06 448.83h.9v.9h-.9zM370.52 447.4h.9v.9h-.9zM396.25 442.19h.9v.9h-.9zM360.5 458.76h.9v.9h-.9zM384.31 458.66h.9v.9h-.9zM389.48 442.41h.9v.9h-.9zM368.26 457.82h.9v.9h-.9zM396.91 448.51h.9v.9h-.9zM360.44 441.39h.9v.9h-.9zM380.25 435.94h.9v.9h-.9zM382.68 445.77h.9v.9h-.9z" fill-opacity="0.3"/>
<path d="M369.54 447.21h.9v.9h-.9zM406.19 456.26h.9v.9h-.9zM399.81 441.45h.9v.9h-.9zM370.95 445.98h.9v.9h-.9zM405.28 439.06h.9v.9h-.9zM363.2 455.67h.9v.9h-.9zM360.12 446.83h.9v.9h-.9zM407.74 448.45h.9v.9h-.9zM359.99 441.44h.9v.9h-.9zM396.31 451.2h.9v.9h-.9zM363.75 445.56h.9v.9h-.9zM383.11 437.83h.9v.9h-.9zM365.94 441.65h.9v.9h-.9zM379.12 458.33h.9v.9h-.9zM375.59 456.76h.9v.9h-.9zM360.56 445.7h.9v.9h-.9zM366.91 435.11h.9v.9h-.9zM373.79 451.62h.9v.9h-.9zM389.29 441.03h.9v.9h-.9zM395.2 451.86h.9v.9h-.9zM401.93 451.49h.9v.9h-.9zM363.95 453.89h.9v.9h-.9zM406.34 456.36h.9v.9h-.9zM391.75 436.82h.9v.9h-.9zM402 446.38h.9v.9h-.9zM395.25 457.62h.9v.9h-.9zM369.99 434.17h.9v.9h-.9zM405.45 456.71h.9v.9h-.9zM363.75 445.45h.9v.9h-.9zM401.59 449.52h.9v.9h-.9zM385.12 459.47h.9v.9h-.9zM360.98 443.22h.9v.9h-.9zM367.22 458.56h.9v.9h-.9zM388.18 440.36h.9v.9h-.9zM402.1 457.32h.9v.9h-.9zM383.17 458.28h.9v.9h-.9zM370.11 451.52h.9v.9h-.9zM408.22 439.54h.9v.9h-.9zM393.99 455.1h.9v.9h-.9zM401.92 440.5h.9v.9h-.9z" fill-opacity="0.3"/>
<path d="M378.37 436.5h.9v.9h-.9zM384.35 455.96h.9v.9h-.9zM374.1 456.45h.9v.9h-.9zM372.55 445.76h.9v.9h-.9zM391.98 454.65h.9v.9h-.9zM405.7 442.81h.9v.9h-.9zM378.71 453.29h.9v.9h-.9zM398.57 454.08h.9v.9h-.9zM372.65 456h.9v.9h-.9zM396.99 448.95h.9v.9h-.9zM375.95 452.38h.9v.9h-.9zM362.94 452.78h.9v.9h-.9zM380.05 453.35h.9v.9h-.9zM388.36 442.86h.9v.9h-.9zM375.08 446.62h.9v.9h-.9zM366.18 440.29h.9v.9h-.9zM390.81 438.63h.9v.9h-.9zM404.58 447.28h.9v.9h-.9zM375.27 438.13h.9v.9h-.9zM373.09 443.86h.9v.9h-.9zM366.22 441.58h.9v.9h-.9zM406.77 457.92h.9v.9h-.9zM404.26 458.21h.9v.9h-.9zM393.96 458.66h.9v.9h-.9zM390.91 444.2h.9v.9h-.9zM367.82 450.51h.9v.9h-.9zM406.81 457.95h.9v.9h-.9zM407.26 445.05h.9v.9h-.9zM393.09 459.55h.9v.9h-.9zM394.94 455.79h.9v.9h-.9zM402.17 448h.9v.9h-.9zM402.37 442.74h.9v.9h-.9zM400 444.84h.9v.9h-.9zM370.1 455.06h.9v.9h-.9zM398.41 450.09h.9v.9h-.9zM382.61 440.37h.9v.9h-.9zM400.82 450.85h.9v.9h-.9zM392.38 454.89h.9v.9h-.9zM360.86 454.22h.9v.9h-.9zM401.38 437.17h.9v.9h-.9z" fill-opacity="0.3"/>
<path d="M361.87 456.04h.9v.9h-.9zM372.37 447.44h.9v.9h-.9zM405.12 438.57h.9v.9h-.9zM383.79 435.11h.9v.9h-.9zM402.31 455.93h.9v.9h-.9zM380.94 454.17h.9v.9h-.9zM366.94 454.53h.9v.9h-.9zM399.17 452.52h.9v.9h-.9zM361.19 441.3h.9v.9h-.9zM392 455.2h.9v.9h-.9zM383.68 451.41h.9v.9h-.9zM381.88 448.7h.9v.9h-.9zM373.5 438.78h.9v.9h-.9zM402.22 447.94h.9v.9h-.9zM375.29 441.22h.9v.9h-.9zM376.06 447.02h.9v.9h-.9zM367.27 445.27h.9v.9h-.9zM376.72 443.61h.9v.9h-.9zM377.48 434.72h.9v.9h-.9zM402.9 441.43h.9v.9h-.9zM396.19 458.12h.9v.9h-.9zM378.2 442.62h.9v.9h-.9zM392.7 458.06h.9v.9h-.9zM385.68 450.36h.9v.9h-.9zM364.85 441.67h.9v.9h-.9zM381.81 450.53h.9v.9h-.9zM378.25 452.74h.9v.9h-.9zM400.62 440h.9v.9h-.9zM385.35 436.17h.9v.9h-.9zM375.26 448.58h.9v.9h-.9zM400.14 438.56h.9v.9h-.9zM398.77 450.72h.9v.9h-.9zM399.87 435.27h.9v.9h-.9zM384.87 437.31h.9v.9h-.9zM397.51 451.18h.9v.9h-.9zM370.85 459.29h.9v.9h-.9zM403.47 443.7h.9v.9h-.9zM370.16 453.67h.9v.9h-.9zM376.15 455.94h.9v.9h-.9zM373.16 455.74h.9v.9h-.9z" fill-opacity="0.3"/>
<path d="M376.86 448.86h.9v.9h-.9zM374.98 449.68h.9v.9h-.9zM362.44 442.98h.9v.9h-.9zM376.87 448.92h.9v.9h-.9zM398.85 446.38h.9v.9h-.9zM406.2 437.57h.9v.9h-.9zM395.47 443.88h.9v.9h-.9zM369.95 442.25h.9v.9h-.9zM377.89 446.22h.9v.9h-.9zM383.56 454.14h.9v.9h-.9zM398.38 443.94h.9v.9h-.9zM397.23 449.07h.9v.9h-.9zM361.24 455.07h.9v.9h-.9zM402.88 450.19h.9v.9h-.9zM384.36 457.18h.9v.9h-.9zM407.58 448.68h.9v.9h-.9zM362.24 446.97h.9v.9h-.9zM369.49 445.69h.9v.9h-.9zM389.04 439.29h.9v.9h-.9zM362.74 446.41h.9v.9h-.9zM392.89 447.19h.9v.9h-.9zM399.52 459.51h.9v.9h-.9zM407.23 442.28h.9v.9h-.9zM381.55 448.58h.9v.9h-.9zM370.25 457.99h.9v.9h-.9zM397.18 458.63h.9v.9h-.9zM378.47 446.6h.9v.9h-.9zM385.08 436.21h.9v.9h-.9zM372.19 450.62h.9v.9h-.9zM404.93 435.19h.9v.9h-.9zM375.98 446.8h.9v.9h-.9zM379.62 440.41h.9v.9h-.9zM367.97 441.63h.9v.9h-.9zM362.35 440.86h.9v.9h-.9zM362.66 456.42h.9v.9h-.9zM391.17 446.45h.9v.9h-.9zM375.34 451.19h.9v.9h-.9zM376.31 455.34h.9v.9h-.9zM401 439.64h.9v.9h-.9zM384.89 443h.9v.9h-.9z" fill-opacity="0.3"/>
<path d="M407.73 439.67h.9v.9h-.9zM361.44 439.36h.9v.9h-.9zM405.7 449.67h.9v.9h-.9zM395.5 446.28h.9v.9h-.9zM394.09 444.7h.9v.9h-.9zM385.29 450.47h.9v.9h-.9zM398.46 458.02h.9v.9h-.9zM390.83 455h.9v.9h-.9zM367.47 438.84h.9v.9h-.9zM404.26 435.24h.9v.9h-.9zM382.05 439.87h.9v.9h-.9zM386.26 441.43h.9v.9h-.9zM403.91 436.21h.9v.9h-.9zM400 458.4h.9v.9h-.9zM379.41 454.5h.9v.9h-.9zM389.79 439.41h.9v.9h-.9zM385.02 436.84h.9v.9h-.9zM374.69 435.48h.9v.9h-.9zM368.39 456.57h.9v.9h-.9zM384.5 456.05h.9v.9h-.9zM382.07 441.55h.9v.9h-.9zM383.5 442.94h.9v.9h-.9zM407.32 434.48h.9v.9h-.9zM369.26 439.26h.9v.9h-.9zM384.45 443.65h.9v.9h-.9zM365.48 449.41h.9v.9h-.9zM402.78 447.75h.9v.9h-.9zM376.13 446.53h.9v.9h-.9zM371.61 434.67h.9v.9h-.9zM374.44 443.5h.9v.9h-.9zM397.59 444.19h.9v.9h-.9zM402.38 436.63h.9v.9h-.9zM374.91 438.14h.9v.9h-.9zM398.17 437.87h.9v.9h-.9zM387.13 446.68h.9v.9h-.9zM395.52 447.22h.9v.9h-.9zM373.67 458.21h.9v.9h-.9zM383.25 437.81h.9v.9h-.9zM386.23 446.91h.9v.9h-.9zM364.23 434.61h.9v.9h-.9z" fill-opacity="0.3"/>
<path d="M383.88 452.19h.9v.9h-.9zM377.19 450.28h.9v.9h-.9zM372.24 452.44h.9v.9h-.9zM398.5 447.43h.9v.9h-.9zM404.6 444.17h.9v.9h-.9zM378.07 433.8h.9v.9h-.9zM378.01 453.42h.9v.9h-.9zM397.38 444.73h.9v.9h-.9zM381.34 449.33h.9v.9h-.9zM362.22 447.12h.9v.9h-.9zM401.04 436.84h.9v.9h-.9zM363.37 446.46h.9v.9h-.9zM389.47 443.38h.9v.9h-.9zM379.96 457.86h.9v.9h-.9zM408.22 459.06h.9v.9h-.9zM367.97 441.87h.9v.9h-.9zM372.52 457.15h.9v.9h-.9zM389.76 448.02h.9v.9h-.9zM363.82 454.24h.9v.9h-.9zM407.39 439.5h.9v.9h-.9zM373.81 433.85h.9v.9h-.9zM400.86 439.68h.9v.9h-.9zM367.86 456.19h.9v.9h-.9zM392.62 445.09h.9v.9h-.9zM371.43 458.41h.9v.9h-.9zM376.34 452.74h.9v.9h-.9zM390.92 443.63h.9v.9h-.9zM407.25 444.36h.9v.9h-.9zM372.2 439.45h.9v.9h-.9zM361.29 445.28h.9v.9h-.9zM405.16 452.51h.9v.9h-.9zM376.56 441.42h.9v.9h-.9zM398.93 454.92h.9v.9h-.9zM374.86 440.06h.9v.9h-.9zM372.42 454.67h.9v.9h-.9zM382.96 451.09h.9v.9h-.9zM392.73 454.33h.9v.9h-.9zM386.09 434.2h.9v.9h-.9zM392.01 439.83h.9v.9h-.9zM401.43 448.73h.9v.9h-.9z" fill-opacity="0.3"/>
<path d="M393.25 451.4h.9v.9h-.9zM401.28 454.79h.9v.9h-.9zM404.52 455.01h.9v.9h-.9zM372 452.93h.9v.9h-.9zM376.79 453.13h.9v.9h-.9zM386.86 448.48h.9v.9h-.9zM364.13 438.29h.9v.9h-.9zM365.82 436.11h.9v.9h-.9zM402.07 457.21h.9v.9h-.9zM376.7 445.38h.9v.9h-.9zM387.67 451.63h.9v.9h-.9zM363.73 458.83h.9v.9h-.9zM361.04 436.51h.9v.9h-.9zM482.72 456.05h.9v.9h-.9zM482.48 454.14h.9v.9h-.9zM480.04 457.48h.9v.9h-.9zM476.83 450.68h.9v.9h-.9zM477.19 455.95h.9v.9h-.9zM478.36 457.86h.9v.9h-.9zM481.38 454.78h.9v.9h-.9zM482.98 453.88h.9v.9h-.9zM480.06 456.19h.9v.9h-.9zM482.62 451.6h.9v.9h-.9zM479.05 451.85h.9v.9h-.9zM482.03 456.56h.9v.9h-.9zM480.94 449.6h.9v.9h-.9zM478.03 449.02h.9v.9h-.9zM476.48 451.9h.9v.9h-.9zM481.22 456.94h.9v.9h-.9zM475.24 457.5h.9v.9h-.9zM482.82 448.78h.9v.9h-.9zM481.77 455.87h.9v.9h-.9zM481.31 451.92h.9v.9h-.9zM484.48 455.31h.9v.9h-.9zM478.72 447.51h.9v.9h-.9zM479.65 449.29h.9v.9h-.9zM480.19 458.91h.9v.9h-.9zM483.55 457.92h.9v.9h-.9z" fill-opacity="0.3"/>
<path d="M289.05 87.39h.9v.9h-.9zM292.6 85.12h.9v.9h-.9zM286.13 78.41h.9v.9h-.9zM283.04 89.26h.9v.9h-.9zM291.14 87.13h.9v.9h-.9zM283.26 80.76h.9v.9h-.9zM292.92 83.71h.9v.9h-.9zM282.57 81.25h.9v.9h-.9zM294.71 76.55h.9v.9h-.9zM283.62 77.88h.9v.9h-.9zM291.8 89.27h.9v.9h-.9zM283.02 74.83h.9v.9h-.9zM284.51 78.41h.9v.9h-.9zM288.9 74.93h.9v.9h-.9zM285.8 75.52h.9v.9h-.9zM296.15 86.85h.9v.9h-.9zM282.18 91.76h.9v.9h-.9zM282.18 79.62h.9v.9h-.9zM296.29 88.24h.9v.9h-.9zM292.28 80.68h.9v.9h-.9zM283.69 84.95h.9v.9h-.9zM282.26 75.89h.9v.9h-.9zM286.76 72.26h.9v.9h-.9zM286.93 88.16h.9v.9h-.9zM291.65 82.06h.9v.9h-.9zM390.42 164.72h.9v.9h-.9zM369.52 151.11h.9v.9h-.9zM372.93 152.2h.9v.9h-.9zM365.94 148.95h.9v.9h-.9zM380.39 156.07h.9v.9h-.9zM367.58 160.11h.9v.9h-.9zM401.3 159.97h.9v.9h-.9zM378.42 163.16h.9v.9h-.9zM381.6 149.94h.9v.9h-.9zM383.34 145.99h.9v.9h-.9zM390.91 149.57h.9v.9h-.9zM378.97 169.61h.9v.9h-.9zM394.45 166.44h.9v.9h-.9zM389.59 161.41h.9v.9h-.9zM392.04 169.71h.9v.9h-.9z" fill-opacity="0.2"/>
<path d="M372.21 164.7h.9v.9h-.9zM376.28 151.94h.9v.9h-.9zM396.59 160.58h.9v.9h-.9zM397.69 167.43h.9v.9h-.9zM387.51 150.51h.9v.9h-.9zM365.14 158.92h.9v.9h-.9zM392.85 152.36h.9v.9h-.9zM367.28 145.67h.9v.9h-.9zM371.31 162.95h.9v.9h-.9zM364.7 151.3h.9v.9h-.9zM374.89 163.33h.9v.9h-.9zM403.05 146.03h.9v.9h-.9zM369 168.92h.9v.9h-.9zM402.38 149.27h.9v.9h-.9zM377.63 158.61h.9v.9h-.9zM377.04 155.98h.9v.9h-.9zM383.22 152.01h.9v.9h-.9zM366.69 147.65h.9v.9h-.9zM370.89 147.83h.9v.9h-.9zM388.89 162.97h.9v.9h-.9zM374.81 165.34h.9v.9h-.9zM392.97 154.09h.9v.9h-.9zM383.73 150.26h.9v.9h-.9zM400.78 159.56h.9v.9h-.9zM366.55 149.4h.9v.9h-.9zM391.56 155.18h.9v.9h-.9zM392.51 151.29h.9v.9h-.9zM395.64 165.6h.9v.9h-.9zM368.22 160.21h.9v.9h-.9zM372.01 163.24h.9v.9h-.9zM395.91 165.33h.9v.9h-.9zM373.57 147.88h.9v.9h-.9zM390.42 159.68h.9v.9h-.9zM369.94 150.37h.9v.9h-.9zM387.27 148.25h.9v.9h-.9zM371.02 340.16h.9v.9h-.9zM370.39 349.88h.9v.9h-.9zM386.94 347.03h.9v.9h-.9zM394.28 347.32h.9v.9h-.9zM375.45 350.93h.9v.9h-.9z" fill-opacity="0.2"/>
<path d="M401.47 334.85h.9v.9h-.9zM382.48 337.18h.9v.9h-.9zM393.18 344.77h.9v.9h-.9zM396.94 350.96h.9v.9h-.9zM401.88 348.62h.9v.9h-.9zM386.97 358.88h.9v.9h-.9zM395.48 342.34h.9v.9h-.9zM366.79 357.51h.9v.9h-.9zM365.16 357.56h.9v.9h-.9zM400.82 350.75h.9v.9h-.9zM401.45 349.34h.9v.9h-.9zM393.13 349.04h.9v.9h-.9zM371.67 335.6h.9v.9h-.9zM393.02 345.29h.9v.9h-.9zM367.66 348.09h.9v.9h-.9zM373.41 340.37h.9v.9h-.9zM398.47 349.63h.9v.9h-.9zM393.23 354.79h.9v.9h-.9zM380.45 345.28h.9v.9h-.9zM380.27 342.84h.9v.9h-.9zM394.47 356.54h.9v.9h-.9zM374.77 352.04h.9v.9h-.9zM371.38 333.75h.9v.9h-.9zM390.64 353.73h.9v.9h-.9zM376.07 359.42h.9v.9h-.9zM392.03 341.9h.9v.9h-.9zM393.72 355.49h.9v.9h-.9zM368.3 357.26h.9v.9h-.9zM380.36 340.68h.9v.9h-.9zM378.04 347.29h.9v.9h-.9zM384.17 341.2h.9v.9h-.9zM365.02 349.95h.9v.9h-.9zM391.97 351.63h.9v.9h-.9zM378.81 355.85h.9v.9h-.9zM363.26 336.91h.9v.9h-.9zM363.3 347.97h.9v.9h-.9zM384 339.47h.9v.9h-.9zM384.1 333.64h.9v.9h-.9zM364.03 358.57h.9v.9h-.9zM398.86 335.35h.9v.9h-.9z" fill-opacity="0.2"/>
<path d="M389.44 346.76h.9v.9h-.9zM384.63 355.4h.9v.9h-.9zM388.84 358.01h.9v.9h-.9zM390.5 357.35h.9v.9h-.9zM367.32 354.93h.9v.9h-.9zM394.96 416.16h.9v.9h-.9zM390.87 419.38h.9v.9h-.9zM383.1 418.8h.9v.9h-.9zM399.46 417.22h.9v.9h-.9zM397.05 419.79h.9v.9h-.9zM402.91 413.03h.9v.9h-.9zM374.07 411.88h.9v.9h-.9zM360.97 419.15h.9v.9h-.9zM381.89 414.11h.9v.9h-.9zM367.16 414.35h.9v.9h-.9zM403.2 419.41h.9v.9h-.9zM379.97 419.51h.9v.9h-.9zM380.79 418.44h.9v.9h-.9zM363.14 425.32h.9v.9h-.9zM388.21 421.69h.9v.9h-.9zM403.64 412.95h.9v.9h-.9zM362.5 414.68h.9v.9h-.9zM367.9 414.28h.9v.9h-.9zM378.81 423.17h.9v.9h-.9zM388.58 421.65h.9v.9h-.9zM383.98 424.5h.9v.9h-.9zM402.64 413.37h.9v.9h-.9zM392.58 424.87h.9v.9h-.9zM399.68 419.27h.9v.9h-.9zM378.98 412.8h.9v.9h-.9zM372.87 412.82h.9v.9h-.9zM362.97 422.44h.9v.9h-.9zM384.25 416.69h.9v.9h-.9zM394.38 416.01h.9v.9h-.9zM404.35 414.79h.9v.9h-.9zM369.27 414.64h.9v.9h-.9zM406.28 423.93h.9v.9h-.9zM369.43 424.56h.9v.9h-.9zM361.2 421.32h.9v.9h-.9zM382.03 414.73h.9v.9h-.9z" fill-opacity="0.2"/>
<path d="M388.74 414.69h.9v.9h-.9zM385.33 421.98h.9v.9h-.9zM380.2 424.17h.9v.9h-.9zM403.38 414.1h.9v.9h-.9zM369.85 411.7h.9v.9h-.9zM376.82 412.6h.9v.9h-.9zM374.37 413.24h.9v.9h-.9zM383.12 415.16h.9v.9h-.9zM404.94 422.71h.9v.9h-.9zM376.95 419.06h.9v.9h-.9zM363.7 412.41h.9v.9h-.9zM399.69 412.78h.9v.9h-.9zM377.58 414.87h.9v.9h-.9zM369.85 414.59h.9v.9h-.9zM370.34 424.62h.9v.9h-.9zM371.32 420.65h.9v.9h-.9zM371.29 424.58h.9v.9h-.9zM403.36 418.69h.9v.9h-.9zM405.86 421.71h.9v.9h-.9zM403.49 418.87h.9v.9h-.9zM363.42 412.61h.9v.9h-.9zM400.72 425h.9v.9h-.9zM380.05 423.98h.9v.9h-.9zM403.96 415.96h.9v.9h-.9zM396.75 422.45h.9v.9h-.9z" fill-opacity="0.2"/>
<path d="M307.49 59.81h.9v.9h-.9zM278.06 68.38h.9v.9h-.9zM293.83 76.75h.9v.9h-.9zM324.03 57.78h.9v.9h-.9zM303.99 77.25h.9v.9h-.9zM294.82 45.49h.9v.9h-.9zM312.88 85.23h.9v.9h-.9zM315.99 74.25h.9v.9h-.9zM320.7 73.01h.9v.9h-.9zM308.04 59.24h.9v.9h-.9zM288.33 69.87h.9v.9h-.9zM275.42 57.14h.9v.9h-.9zM316.49 75.05h.9v.9h-.9zM307.33 46.8h.9v.9h-.9zM294.96 59.32h.9v.9h-.9zM306.84 56.52h.9v.9h-.9zM310.06 88.29h.9v.9h-.9zM280.53 71.47h.9v.9h-.9zM316.24 55.26h.9v.9h-.9zM298.94 91h.9v.9h-.9z" fill-opacity="0.12"/>
<path d="M383.46 87.48h.9v.9h-.9zM382.87 82.68h.9v.9h-.9zM382.39 90.59h.9v.9h-.9zM365.56 82.92h.9v.9h-.9zM366.3 84.84h.9v.9h-.9zM379.31 78.61h.9v.9h-.9zM366.95 92.44h.9v.9h-.9zM374.18 87.3h.9v.9h-.9zM374.55 92.04h.9v.9h-.9zM382.3 86.12h.9v.9h-.9zM366.72 90.37h.9v.9h-.9zM372.5 89.64h.9v.9h-.9zM382.94 82.62h.9v.9h-.9zM372.06 88.37h.9v.9h-.9zM378.92 76.97h.9v.9h-.9zM367.35 87.16h.9v.9h-.9zM369.95 92.95h.9v.9h-.9zM380.56 74.69h.9v.9h-.9zM370.23 86.63h.9v.9h-.9zM372.34 84.55h.9v.9h-.9zM378.61 80.29h.9v.9h-.9zM378.58 81.41h.9v.9h-.9zM372.01 89.04h.9v.9h-.9zM371.82 87.42h.9v.9h-.9zM385.95 85.73h.9v.9h-.9zM374.6 90.33h.9v.9h-.9zM373.17 92.59h.9v.9h-.9zM367.21 89.57h.9v.9h-.9zM372.22 80.36h.9v.9h-.9zM387.05 80.02h.9v.9h-.9zM386.97 89.83h.9v.9h-.9zM384.99 79.2h.9v.9h-.9zM374.79 84.71h.9v.9h-.9zM372.8 81.46h.9v.9h-.9zM378.45 87.7h.9v.9h-.9zM373.42 88.63h.9v.9h-.9zM385.03 79.02h.9v.9h-.9zM366.74 78.42h.9v.9h-.9zM368.8 73.55h.9v.9h-.9zM378.49 73.48h.9v.9h-.9z" fill-opacity="0.33"/>
<path d="M365.05 83.49h.9v.9h-.9zM370.76 83.82h.9v.9h-.9zM375.9 89.09h.9v.9h-.9zM373.3 85.65h.9v.9h-.9zM372 86.3h.9v.9h-.9zM367.93 85.96h.9v.9h-.9zM388 86.07h.9v.9h-.9zM367.36 87.22h.9v.9h-.9zM369.23 74.82h.9v.9h-.9zM370.76 90.34h.9v.9h-.9zM378.05 84.92h.9v.9h-.9zM369.53 78.54h.9v.9h-.9zM384.32 87.14h.9v.9h-.9zM369.36 71.83h.9v.9h-.9zM368.08 85.05h.9v.9h-.9zM376.92 84.53h.9v.9h-.9zM373.74 76.62h.9v.9h-.9zM370.63 91.05h.9v.9h-.9zM377.25 92.29h.9v.9h-.9zM368.25 89.42h.9v.9h-.9zM378.06 80.76h.9v.9h-.9zM378.65 79.71h.9v.9h-.9zM370.38 85.43h.9v.9h-.9zM369.05 76.04h.9v.9h-.9zM372.79 90.51h.9v.9h-.9zM368.01 77.02h.9v.9h-.9zM385.63 88.14h.9v.9h-.9zM381.69 80.18h.9v.9h-.9zM380.78 87.24h.9v.9h-.9zM379.77 85.71h.9v.9h-.9zM383.39 81.33h.9v.9h-.9zM369.29 75.95h.9v.9h-.9zM383.09 80.75h.9v.9h-.9zM368.77 79.44h.9v.9h-.9zM372.66 77.29h.9v.9h-.9zM373.66 81.47h.9v.9h-.9zM371.97 79.31h.9v.9h-.9zM375.79 82.55h.9v.9h-.9zM376.3 87.17h.9v.9h-.9zM377.76 71.32h.9v.9h-.9z" fill-opacity="0.33"/>
<path d="M372.07 80.38h.9v.9h-.9zM380.58 75.29h.9v.9h-.9zM370.91 83.64h.9v.9h-.9zM373.36 91.99h.9v.9h-.9zM372.67 91.82h.9v.9h-.9zM366.02 73.77h.9v.9h-.9zM383.48 88.38h.9v.9h-.9zM378.72 86.35h.9v.9h-.9zM378.7 77.65h.9v.9h-.9zM381.72 82.09h.9v.9h-.9zM381.96 86.12h.9v.9h-.9zM382.88 84.66h.9v.9h-.9zM372.98 87.13h.9v.9h-.9zM372.79 82.01h.9v.9h-.9zM376.22 86.49h.9v.9h-.9zM385.41 85.85h.9v.9h-.9zM386.71 92.45h.9v.9h-.9zM376.4 86.44h.9v.9h-.9zM374.62 80.8h.9v.9h-.9zM375.12 81.38h.9v.9h-.9zM386.21 89.02h.9v.9h-.9zM372.65 73.1h.9v.9h-.9zM375.2 82.84h.9v.9h-.9zM368.49 78.16h.9v.9h-.9zM375.35 84.59h.9v.9h-.9zM384.94 86.42h.9v.9h-.9zM376.64 83.13h.9v.9h-.9zM373.28 85.75h.9v.9h-.9zM369.82 91.84h.9v.9h-.9zM366.49 89.22h.9v.9h-.9zM369.44 92.63h.9v.9h-.9zM370.91 80.63h.9v.9h-.9zM386.27 81.69h.9v.9h-.9zM370.61 83.35h.9v.9h-.9zM372.02 73.89h.9v.9h-.9zM387.69 83.82h.9v.9h-.9zM371.06 82.24h.9v.9h-.9zM368.49 92.46h.9v.9h-.9zM377.42 80.59h.9v.9h-.9zM380.63 85.6h.9v.9h-.9z" fill-opacity="0.33"/>
<path d="M367.91 89.59h.9v.9h-.9zM381.02 73.12h.9v.9h-.9zM387.42 88.78h.9v.9h-.9zM380.49 73.46h.9v.9h-.9zM370.87 83.28h.9v.9h-.9zM382.55 76.06h.9v.9h-.9zM369.81 72.36h.9v.9h-.9zM373.98 87.8h.9v.9h-.9zM364.59 81.71h.9v.9h-.9zM379.87 83.58h.9v.9h-.9zM367.89 79.46h.9v.9h-.9zM371.23 86.51h.9v.9h-.9zM377.42 78.58h.9v.9h-.9zM385.59 91.72h.9v.9h-.9zM376.21 80.86h.9v.9h-.9zM381.48 80.33h.9v.9h-.9zM366.97 86.82h.9v.9h-.9zM377.13 89.49h.9v.9h-.9zM370.09 91.91h.9v.9h-.9zM369.13 90.06h.9v.9h-.9zM376.71 87.13h.9v.9h-.9zM381.84 85.44h.9v.9h-.9zM382.78 91.24h.9v.9h-.9zM376.43 81.87h.9v.9h-.9zM370.65 82.12h.9v.9h-.9zM374.23 85.39h.9v.9h-.9zM380.55 79.96h.9v.9h-.9zM370.93 83.48h.9v.9h-.9zM376.8 78.82h.9v.9h-.9zM386.03 81.89h.9v.9h-.9zM382.56 70.37h.9v.9h-.9zM375.5 87.36h.9v.9h-.9zM376.79 89.46h.9v.9h-.9zM377.37 86.61h.9v.9h-.9zM377.55 84.28h.9v.9h-.9zM370.21 81.77h.9v.9h-.9zM365.23 72.97h.9v.9h-.9zM372.41 79.86h.9v.9h-.9zM371.92 86.77h.9v.9h-.9zM375.87 87.35h.9v.9h-.9z" fill-opacity="0.33"/>
<path d="M375.33 91.6h.9v.9h-.9zM387.09 77.47h.9v.9h-.9zM376.6 83.83h.9v.9h-.9zM377.87 75.59h.9v.9h-.9zM378.96 86.8h.9v.9h-.9zM376.03 70.17h.9v.9h-.9zM373.12 80.64h.9v.9h-.9zM366.36 79.6h.9v.9h-.9zM380.09 89.09h.9v.9h-.9zM375.4 88.89h.9v.9h-.9zM371.63 86.01h.9v.9h-.9zM375.81 89.15h.9v.9h-.9zM375.1 84.62h.9v.9h-.9zM374.67 81.36h.9v.9h-.9zM384.67 75.43h.9v.9h-.9zM380.07 91h.9v.9h-.9zM380.56 77.9h.9v.9h-.9zM369.89 87.3h.9v.9h-.9zM378.83 78.91h.9v.9h-.9zM373.05 82.95h.9v.9h-.9zM375.94 87.74h.9v.9h-.9zM373.69 77.51h.9v.9h-.9zM374.86 92.21h.9v.9h-.9zM378.44 89.84h.9v.9h-.9zM378.68 80.59h.9v.9h-.9zM379.28 92.12h.9v.9h-.9zM373.35 81.65h.9v.9h-.9zM370.27 86.3h.9v.9h-.9zM375.34 89.91h.9v.9h-.9zM379.94 88.64h.9v.9h-.9zM377.33 84.19h.9v.9h-.9zM374.75 80.19h.9v.9h-.9zM376.71 85.39h.9v.9h-.9zM377.63 79.99h.9v.9h-.9zM375.81 85.86h.9v.9h-.9zM379.48 78.64h.9v.9h-.9zM378.28 91.94h.9v.9h-.9zM379.43 83.15h.9v.9h-.9zM372.36 84.01h.9v.9h-.9zM374.52 81.37h.9v.9h-.9z" fill-opacity="0.33"/>
<path d="M377.99 86.88h.9v.9h-.9zM369.65 80.76h.9v.9h-.9zM374.89 89.92h.9v.9h-.9zM367.79 78.93h.9v.9h-.9zM378.79 77.59h.9v.9h-.9zM376.26 87.84h.9v.9h-.9zM374.83 78.93h.9v.9h-.9zM375.16 83.39h.9v.9h-.9zM377.73 80.1h.9v.9h-.9zM382.64 74.66h.9v.9h-.9zM374.4 85.6h.9v.9h-.9zM381.8 81.6h.9v.9h-.9zM379.1 81.87h.9v.9h-.9zM372.94 88.43h.9v.9h-.9zM369.52 91.88h.9v.9h-.9zM383.42 85.78h.9v.9h-.9zM368.17 88.17h.9v.9h-.9zM383.02 92.63h.9v.9h-.9zM380.84 73.65h.9v.9h-.9zM367.58 92.9h.9v.9h-.9zM387.79 90.5h.9v.9h-.9zM382.83 83.39h.9v.9h-.9zM367.58 84.88h.9v.9h-.9zM374.26 85.24h.9v.9h-.9zM380.08 84.61h.9v.9h-.9zM376.8 88.31h.9v.9h-.9zM378.43 86.1h.9v.9h-.9zM374.2 81.49h.9v.9h-.9zM384.29 86.53h.9v.9h-.9zM368.54 81.89h.9v.9h-.9zM374.66 82.65h.9v.9h-.9zM382.6 78h.9v.9h-.9zM378.75 86.48h.9v.9h-.9zM367.89 85.86h.9v.9h-.9zM374.94 88.81h.9v.9h-.9zM372.62 87.52h.9v.9h-.9zM364.73 78.51h.9v.9h-.9zM380.65 92.32h.9v.9h-.9zM375.47 81.66h.9v.9h-.9zM382.59 71.95h.9v.9h-.9z" fill-opacity="0.33"/>
<path d="M370.35 89.92h.9v.9h-.9zM379.79 78.84h.9v.9h-.9zM376.54 79.72h.9v.9h-.9zM375.9 91.41h.9v.9h-.9zM380.36 72.02h.9v.9h-.9zM380.56 73.98h.9v.9h-.9zM382.96 88.14h.9v.9h-.9zM375.58 92.36h.9v.9h-.9zM371.39 80.97h.9v.9h-.9zM373.13 85.08h.9v.9h-.9zM368.52 88.7h.9v.9h-.9zM379.08 86.01h.9v.9h-.9zM386.6 83.42h.9v.9h-.9zM384.04 82h.9v.9h-.9zM380.46 72.97h.9v.9h-.9zM376.84 84.41h.9v.9h-.9zM372.33 81.58h.9v.9h-.9zM373.29 80.87h.9v.9h-.9zM371.98 82.14h.9v.9h-.9zM368.67 84.67h.9v.9h-.9zM380.65 83.92h.9v.9h-.9zM381.9 91.54h.9v.9h-.9zM383.06 83.42h.9v.9h-.9zM374.71 92.79h.9v.9h-.9zM371.95 84.77h.9v.9h-.9zM378.01 87.97h.9v.9h-.9zM373.75 91.94h.9v.9h-.9zM374.39 90.26h.9v.9h-.9zM382.51 89.84h.9v.9h-.9zM380.32 78.01h.9v.9h-.9zM367.03 81.53h.9v.9h-.9zM367.6 87.54h.9v.9h-.9zM370 80.79h.9v.9h-.9zM373.75 90.05h.9v.9h-.9zM369.14 91.33h.9v.9h-.9zM381.6 86h.9v.9h-.9zM378.65 81.89h.9v.9h-.9zM368.47 82.92h.9v.9h-.9zM376.86 87.58h.9v.9h-.9zM380.38 80.49h.9v.9h-.9z" fill-opacity="0.33"/>
<path d="M381.51 88h.9v.9h-.9zM365.7 89.46h.9v.9h-.9zM379.14 88.49h.9v.9h-.9zM385.85 82.86h.9v.9h-.9zM378.88 90.41h.9v.9h-.9zM366.12 77.1h.9v.9h-.9zM378.95 78.47h.9v.9h-.9zM374.79 74.86h.9v.9h-.9zM376 78.18h.9v.9h-.9zM377.77 75.59h.9v.9h-.9zM378.47 83.82h.9v.9h-.9zM375.97 85.11h.9v.9h-.9zM376.4 76.96h.9v.9h-.9zM369.47 82.6h.9v.9h-.9zM378.32 72.65h.9v.9h-.9zM370.59 81.58h.9v.9h-.9zM368.68 87.67h.9v.9h-.9zM374.64 80.22h.9v.9h-.9zM369.15 90.8h.9v.9h-.9zM371.26 89.35h.9v.9h-.9zM378.47 73.24h.9v.9h-.9zM368.51 85.57h.9v.9h-.9zM377.77 90.62h.9v.9h-.9zM380.77 92.27h.9v.9h-.9zM373.12 84.18h.9v.9h-.9zM380.59 82.78h.9v.9h-.9zM382.42 75.22h.9v.9h-.9zM379.8 84.42h.9v.9h-.9zM377.57 85.69h.9v.9h-.9zM368.55 82.53h.9v.9h-.9zM385.38 80.17h.9v.9h-.9zM367.75 84.69h.9v.9h-.9zM372.99 79.62h.9v.9h-.9zM370.08 92.36h.9v.9h-.9zM372.01 78.45h.9v.9h-.9zM380.67 89.22h.9v.9h-.9zM368.77 90.42h.9v.9h-.9zM382.87 83.89h.9v.9h-.9zM367.09 88.89h.9v.9h-.9zM381.51 85.4h.9v.9h-.9z" fill-opacity="0.33"/>
<path d="M378.27 90.55h.9v.9h-.9zM387.59 83.91h.9v.9h-.9zM372.41 85.3h.9v.9h-.9zM383.39 79.43h.9v.9h-.9zM384.03 67.68h.9v.9h-.9zM380.73 81.16h.9v.9h-.9zM378.53 90.03h.9v.9h-.9zM367.86 84.99h.9v.9h-.9zM377.11 89.37h.9v.9h-.9zM369.5 79.1h.9v.9h-.9zM374.3 84.1h.9v.9h-.9zM365.83 91.59h.9v.9h-.9zM381.09 85.69h.9v.9h-.9zM380.28 78.32h.9v.9h-.9zM373.43 81.81h.9v.9h-.9zM367.3 85.66h.9v.9h-.9zM369.58 82.53h.9v.9h-.9zM378.29 88.17h.9v.9h-.9zM375.73 82.47h.9v.9h-.9zM378.76 87.89h.9v.9h-.9zM366.61 77.87h.9v.9h-.9zM376.5 85.94h.9v.9h-.9zM376.29 79.86h.9v.9h-.9zM374.24 79.62h.9v.9h-.9zM378.03 90.03h.9v.9h-.9zM370.32 82.57h.9v.9h-.9zM369.45 87.54h.9v.9h-.9zM367.15 88.9h.9v.9h-.9zM375.56 87.5h.9v.9h-.9zM387.13 80.17h.9v.9h-.9zM377.77 80.49h.9v.9h-.9zM375.84 92h.9v.9h-.9zM374.64 81.04h.9v.9h-.9zM375.72 89.56h.9v.9h-.9zM372.92 88.8h.9v.9h-.9zM380.85 84.59h.9v.9h-.9zM372.58 84.34h.9v.9h-.9zM369.28 84.2h.9v.9h-.9zM373.59 86.92h.9v.9h-.9zM372.66 89.47h.9v.9h-.9z" fill-opacity="0.33"/>
<path d="M377.47 90.5h.9v.9h-.9zM375.69 87.28h.9v.9h-.9zM372.5 80.45h.9v.9h-.9zM379.85 88.38h.9v.9h-.9zM377.28 82.62h.9v.9h-.9zM376.85 81.95h.9v.9h-.9zM370.88 85.41h.9v.9h-.9zM372.26 86.56h.9v.9h-.9zM374.19 80.69h.9v.9h-.9zM382.54 80.45h.9v.9h-.9zM372.25 89.15h.9v.9h-.9zM372.06 82.73h.9v.9h-.9zM377.86 83.16h.9v.9h-.9zM367.45 84.89h.9v.9h-.9zM368.42 91.85h.9v.9h-.9zM370.44 83.24h.9v.9h-.9zM373.43 87.31h.9v.9h-.9zM382.02 90.83h.9v.9h-.9zM370.61 91.4h.9v.9h-.9zM374.85 87.85h.9v.9h-.9zM373.8 89.87h.9v.9h-.9zM382.8 92.9h.9v.9h-.9zM374.22 92.02h.9v.9h-.9zM384.99 79.47h.9v.9h-.9zM385.12 76.87h.9v.9h-.9zM379.08 89.41h.9v.9h-.9zM385.19 87.36h.9v.9h-.9zM372.43 80.37h.9v.9h-.9zM367.42 90.53h.9v.9h-.9zM374.01 80.89h.9v.9h-.9zM379.01 80.58h.9v.9h-.9zM372.71 82.57h.9v.9h-.9zM374.52 75.34h.9v.9h-.9zM377.35 86.02h.9v.9h-.9zM377.82 89.23h.9v.9h-.9zM373.47 91.56h.9v.9h-.9zM380.99 86.92h.9v.9h-.9zM372.91 82.43h.9v.9h-.9zM380.05 78.4h.9v.9h-.9zM374.51 80.68h.9v.9h-.9z" fill-opacity="0.33"/>
<path d="M366.49 89.47h.9v.9h-.9zM375.38 85.78h.9v.9h-.9zM381.23 75.84h.9v.9h-.9zM375.11 87.43h.9v.9h-.9zM380.96 78.5h.9v.9h-.9zM380.2 86.98h.9v.9h-.9zM384.36 92.95h.9v.9h-.9zM375.54 82.79h.9v.9h-.9zM373.34 79.44h.9v.9h-.9zM375.36 73.34h.9v.9h-.9zM375 88.32h.9v.9h-.9zM381.99 83.29h.9v.9h-.9zM384.58 81.32h.9v.9h-.9zM374.68 73.35h.9v.9h-.9zM370.6 80.41h.9v.9h-.9zM385.03 88.92h.9v.9h-.9zM368.54 88.94h.9v.9h-.9zM378.61 84.07h.9v.9h-.9zM375.7 83.61h.9v.9h-.9zM372.11 74.3h.9v.9h-.9zM384.64 83.78h.9v.9h-.9zM370.81 84.21h.9v.9h-.9zM381.25 87.78h.9v.9h-.9zM371.85 87.85h.9v.9h-.9zM374.24 88.82h.9v.9h-.9zM372.96 76.22h.9v.9h-.9zM375.92 90.37h.9v.9h-.9zM368.53 84.87h.9v.9h-.9zM381.11 83.18h.9v.9h-.9zM380.81 92.06h.9v.9h-.9zM365.06 82.27h.9v.9h-.9zM369.67 81.35h.9v.9h-.9zM376.79 73.35h.9v.9h-.9zM379.59 89.09h.9v.9h-.9zM372.72 88.95h.9v.9h-.9zM380.45 87.5h.9v.9h-.9zM372.54 86.57h.9v.9h-.9zM372.25 92.07h.9v.9h-.9zM372.98 88.54h.9v.9h-.9zM376.41 85.97h.9v.9h-.9z" fill-opacity="0.33"/>
<path d="M386.37 85.01h.9v.9h-.9zM384.48 90.75h.9v.9h-.9zM383.86 84.51h.9v.9h-.9zM381.39 90.31h.9v.9h-.9zM371.69 87.24h.9v.9h-.9zM374.74 85.33h.9v.9h-.9zM383.73 81.02h.9v.9h-.9zM364.98 74.61h.9v.9h-.9zM372.71 81.5h.9v.9h-.9zM375.64 89.1h.9v.9h-.9zM386.6 87.49h.9v.9h-.9zM378.46 80.94h.9v.9h-.9zM383.96 73.3h.9v.9h-.9zM380.73 76.18h.9v.9h-.9zM373.63 89.23h.9v.9h-.9zM378.15 80.47h.9v.9h-.9zM369.97 91.6h.9v.9h-.9zM375.68 87.43h.9v.9h-.9zM367.2 81.82h.9v.9h-.9zM379.86 76.35h.9v.9h-.9zM367.91 85.82h.9v.9h-.9zM378.56 90.13h.9v.9h-.9zM373.23 84.25h.9v.9h-.9zM374.07 81.96h.9v.9h-.9zM377.12 86.54h.9v.9h-.9zM371.62 87.12h.9v.9h-.9zM375.47 85.07h.9v.9h-.9zM382.45 74.79h.9v.9h-.9zM377.12 78.89h.9v.9h-.9zM368.78 84.93h.9v.9h-.9zM371.86 91.48h.9v.9h-.9zM369.43 75.04h.9v.9h-.9zM378.76 83.34h.9v.9h-.9zM373.56 92.3h.9v.9h-.9zM370.01 83.22h.9v.9h-.9zM376.47 88.13h.9v.9h-.9zM372.32 92.01h.9v.9h-.9zM387.22 72.38h.9v.9h-.9zM384.33 83.4h.9v.9h-.9zM376.41 83.43h.9v.9h-.9z" fill-opacity="0.33"/>
<path d="M371.58 77.58h.9v.9h-.9zM382.67 83.38h.9v.9h-.9zM372.25 81.17h.9v.9h-.9zM379.69 86.28h.9v.9h-.9zM372.48 79.17h.9v.9h-.9zM383.77 90.42h.9v.9h-.9zM369.6 91.72h.9v.9h-.9zM368.64 89.56h.9v.9h-.9zM369.55 82.96h.9v.9h-.9zM378.64 88.25h.9v.9h-.9zM381.86 80.33h.9v.9h-.9zM375.49 88.45h.9v.9h-.9zM370.69 84.6h.9v.9h-.9zM367.31 86.11h.9v.9h-.9zM381.46 90.63h.9v.9h-.9zM373.29 84.15h.9v.9h-.9zM373.42 86.94h.9v.9h-.9zM365.77 82.33h.9v.9h-.9zM375.69 82.35h.9v.9h-.9zM385.93 84.94h.9v.9h-.9zM385.36 92.87h.9v.9h-.9zM372.45 88.05h.9v.9h-.9zM383.65 83.47h.9v.9h-.9zM376.1 82.07h.9v.9h-.9zM375.92 83.34h.9v.9h-.9zM376.07 91.8h.9v.9h-.9zM384.24 86.38h.9v.9h-.9zM376.81 90.89h.9v.9h-.9zM373.74 78.94h.9v.9h-.9zM382.48 79.72h.9v.9h-.9zM381.36 79.53h.9v.9h-.9zM386.97 79.04h.9v.9h-.9zM370.41 74.54h.9v.9h-.9zM380.05 89.93h.9v.9h-.9zM374.28 69.79h.9v.9h-.9zM375.21 83.64h.9v.9h-.9zM373.18 83.74h.9v.9h-.9zM373.29 81.11h.9v.9h-.9zM378.02 92.18h.9v.9h-.9zM380.06 78.25h.9v.9h-.9z" fill-opacity="0.33"/>
<path d="M376.56 86.43h.9v.9h-.9zM384.53 93.02h.9v.9h-.9zM372.89 88.02h.9v.9h-.9zM381.28 79.85h.9v.9h-.9zM371.17 74.58h.9v.9h-.9zM376.58 85.21h.9v.9h-.9zM373.51 88.66h.9v.9h-.9zM376.09 83.89h.9v.9h-.9zM372.77 79.69h.9v.9h-.9zM371.78 86.13h.9v.9h-.9zM379.21 80.18h.9v.9h-.9zM381.79 79.16h.9v.9h-.9zM380.71 88.22h.9v.9h-.9zM373.91 84.52h.9v.9h-.9zM378.52 90.94h.9v.9h-.9zM367.2 87.27h.9v.9h-.9zM370.92 89.48h.9v.9h-.9zM384.1 85.87h.9v.9h-.9zM374.89 86.69h.9v.9h-.9zM379.05 86.58h.9v.9h-.9zM373.08 80.99h.9v.9h-.9zM377.26 85.47h.9v.9h-.9zM365.19 81.4h.9v.9h-.9zM383.35 77.49h.9v.9h-.9zM369.37 78.7h.9v.9h-.9zM372.11 89.56h.9v.9h-.9zM379.26 72.88h.9v.9h-.9zM384.66 81.85h.9v.9h-.9zM375.04 77.81h.9v.9h-.9zM371.56 81.02h.9v.9h-.9zM369.25 83.47h.9v.9h-.9zM381.03 87.74h.9v.9h-.9zM369.37 86.27h.9v.9h-.9zM375.75 90.3h.9v.9h-.9zM373.5 88.4h.9v.9h-.9zM368.79 87.6h.9v.9h-.9zM370.54 83.24h.9v.9h-.9zM376.72 87.65h.9v.9h-.9zM373.78 90.84h.9v.9h-.9zM374.35 77.41h.9v.9h-.9z" fill-opacity="0.33"/>
<path d="M381.03 83.28h.9v.9h-.9zM383.12 81.46h.9v.9h-.9zM379.12 87.52h.9v.9h-.9zM382.37 88.64h.9v.9h-.9zM379.76 82.46h.9v.9h-.9zM375.48 86.95h.9v.9h-.9zM378.18 89.96h.9v.9h-.9zM374.26 81.17h.9v.9h-.9zM372.04 88.11h.9v.9h-.9zM365.19 77.73h.9v.9h-.9zM372.98 82.1h.9v.9h-.9zM373.86 68.94h.9v.9h-.9zM373.42 83.98h.9v.9h-.9zM380.39 73.2h.9v.9h-.9zM373.64 88.51h.9v.9h-.9zM378.6 93.01h.9v.9h-.9zM382.14 79h.9v.9h-.9zM379.52 83.46h.9v.9h-.9zM371.62 80.21h.9v.9h-.9zM373 80.23h.9v.9h-.9zM381.84 87.92h.9v.9h-.9zM384.3 88.12h.9v.9h-.9zM371.71 92.1h.9v.9h-.9zM371.46 82.66h.9v.9h-.9zM374.5 85.8h.9v.9h-.9zM383.02 81.76h.9v.9h-.9zM377.75 85.38h.9v.9h-.9zM367.68 78.7h.9v.9h-.9zM374.18 88.08h.9v.9h-.9zM377.55 88.55h.9v.9h-.9zM375.85 82.75h.9v.9h-.9zM378.22 79.28h.9v.9h-.9zM367.14 83.47h.9v.9h-.9zM366.6 82.33h.9v.9h-.9zM370.87 82.08h.9v.9h-.9zM375.27 80.54h.9v.9h-.9zM372.9 74.84h.9v.9h-.9zM376.46 80.03h.9v.9h-.9zM378.08 67.84h.9v.9h-.9zM370.53 87.07h.9v.9h-.9z" fill-opacity="0.33"/>
<path d="M376.14 86.2h.9v.9h-.9zM366.17 86.99h.9v.9h-.9zM376.48 79.45h.9v.9h-.9zM380.22 85.24h.9v.9h-.9zM375.67 82.73h.9v.9h-.9zM378.99 86.16h.9v.9h-.9zM382.68 88.38h.9v.9h-.9zM371.68 84.15h.9v.9h-.9zM381.31 83.26h.9v.9h-.9zM377.95 88.83h.9v.9h-.9zM374.42 70.93h.9v.9h-.9zM376.38 86.89h.9v.9h-.9zM376.4 80.78h.9v.9h-.9zM383.14 84.7h.9v.9h-.9zM371.63 81.04h.9v.9h-.9zM377.8 78.69h.9v.9h-.9zM383.79 92.17h.9v.9h-.9zM384.13 89.29h.9v.9h-.9zM383.34 88.63h.9v.9h-.9zM384.14 82.45h.9v.9h-.9zM376.35 90.44h.9v.9h-.9zM375.01 92.46h.9v.9h-.9zM376.06 89.9h.9v.9h-.9zM376.09 76.24h.9v.9h-.9zM379.04 81.8h.9v.9h-.9zM375.67 73.46h.9v.9h-.9zM374.36 91.26h.9v.9h-.9zM369.71 81.44h.9v.9h-.9zM378.24 82.43h.9v.9h-.9zM375.12 86.93h.9v.9h-.9zM378.78 87.82h.9v.9h-.9zM374.39 82.97h.9v.9h-.9zM372.73 72.41h.9v.9h-.9zM377.22 85.34h.9v.9h-.9zM374.88 83.87h.9v.9h-.9zM370.83 85.41h.9v.9h-.9zM372.78 86.84h.9v.9h-.9zM381.01 90.71h.9v.9h-.9zM380.07 90.73h.9v.9h-.9zM372.38 85.54h.9v.9h-.9z" fill-opacity="0.33"/>
<path d="M370.94 91.61h.9v.9h-.9zM380.81 82.6h.9v.9h-.9zM383.37 78.49h.9v.9h-.9zM374.97 89.57h.9v.9h-.9zM375.32 88h.9v.9h-.9zM383.02 87.63h.9v.9h-.9zM368.6 90.07h.9v.9h-.9zM374.93 86.27h.9v.9h-.9zM371.97 76.8h.9v.9h-.9zM367.66 83.31h.9v.9h-.9zM368.78 68.36h.9v.9h-.9zM382.82 78.2h.9v.9h-.9zM370.96 88.92h.9v.9h-.9zM370.68 89.73h.9v.9h-.9zM372.5 87.49h.9v.9h-.9zM376.22 85.54h.9v.9h-.9zM372.1 88.92h.9v.9h-.9zM376.58 88.61h.9v.9h-.9zM381.83 76.06h.9v.9h-.9zM377.29 84.42h.9v.9h-.9zM373.57 80.14h.9v.9h-.9zM370.57 79.03h.9v.9h-.9zM386.31 85.61h.9v.9h-.9zM380.25 79.37h.9v.9h-.9zM375.28 79.21h.9v.9h-.9zM374.02 79.23h.9v.9h-.9zM366.72 84.08h.9v.9h-.9zM373.02 80.41h.9v.9h-.9zM369.94 79.66h.9v.9h-.9zM365.3 87.29h.9v.9h-.9zM368.22 84.53h.9v.9h-.9zM376.2 89.09h.9v.9h-.9zM382.71 82.03h.9v.9h-.9zM367.68 84.36h.9v.9h-.9zM377.41 81.13h.9v.9h-.9zM366.54 87.85h.9v.9h-.9zM381.99 73.38h.9v.9h-.9zM376.85 84.12h.9v.9h-.9zM376.93 82.52h.9v.9h-.9zM378.36 89.62h.9v.9h-.9z" fill-opacity="0.33"/>
<path d="M380.42 89.22h.9v.9h-.9zM378.14 78.1h.9v.9h-.9zM372.88 86.37h.9v.9h-.9zM373.15 78.87h.9v.9h-.9zM375.75 81.85h.9v.9h-.9zM372.91 79.92h.9v.9h-.9zM370.8 84.93h.9v.9h-.9zM371.47 89.85h.9v.9h-.9zM374.65 86.39h.9v.9h-.9zM379.36 87h.9v.9h-.9zM374.52 80.45h.9v.9h-.9zM373.38 89.87h.9v.9h-.9zM376.98 83.09h.9v.9h-.9zM367.11 75.84h.9v.9h-.9zM377.59 92.06h.9v.9h-.9zM377.92 76.85h.9v.9h-.9zM374.2 86.96h.9v.9h-.9zM369.73 87.75h.9v.9h-.9zM374.28 80.26h.9v.9h-.9zM367.68 90.69h.9v.9h-.9zM377.81 79.93h.9v.9h-.9zM369.13 91.19h.9v.9h-.9zM379.33 83.62h.9v.9h-.9zM385.64 83.72h.9v.9h-.9zM368.86 92.47h.9v.9h-.9zM374.36 87.74h.9v.9h-.9zM375.79 79.21h.9v.9h-.9zM368.03 84.32h.9v.9h-.9zM384.45 79.2h.9v.9h-.9zM384.15 86.94h.9v.9h-.9zM368.51 87.24h.9v.9h-.9zM379.14 79.86h.9v.9h-.9zM368.53 88.34h.9v.9h-.9zM370.43 76.18h.9v.9h-.9zM374.02 86.63h.9v.9h-.9zM372.03 78.08h.9v.9h-.9zM376.89 74.49h.9v.9h-.9zM378.93 88.65h.9v.9h-.9zM386.16 91.14h.9v.9h-.9zM377.79 87.22h.9v.9h-.9z" fill-opacity="0.33"/>
<path d="M375.72 77.17h.9v.9h-.9zM384.79 88.88h.9v.9h-.9zM373.74 78.31h.9v.9h-.9zM384.93 88.91h.9v.9h-.9zM368.06 89.8h.9v.9h-.9zM387.53 85.41h.9v.9h-.9zM378.08 82.92h.9v.9h-.9zM371.58 92.33h.9v.9h-.9zM374.77 90.56h.9v.9h-.9zM373.63 90.15h.9v.9h-.9zM380.78 79.13h.9v.9h-.9zM368.78 85.08h.9v.9h-.9zM380.81 87.3h.9v.9h-.9zM383.38 76.86h.9v.9h-.9zM378.66 81.62h.9v.9h-.9zM376.18 87.58h.9v.9h-.9zM369.43 84.11h.9v.9h-.9zM368.21 87.23h.9v.9h-.9zM370.19 82.43h.9v.9h-.9zM376.93 81.43h.9v.9h-.9zM382.79 81.53h.9v.9h-.9zM380.91 87.33h.9v.9h-.9zM369.03 84.17h.9v.9h-.9zM370.27 83.27h.9v.9h-.9zM378.37 77.31h.9v.9h-.9zM382.03 88.01h.9v.9h-.9zM374.23 83.97h.9v.9h-.9zM377.18 83.64h.9v.9h-.9zM372.18 83.22h.9v.9h-.9zM382.92 81.64h.9v.9h-.9zM377.94 78.3h.9v.9h-.9zM371.06 76.9h.9v.9h-.9zM374.3 89.85h.9v.9h-.9zM377.47 82.45h.9v.9h-.9zM379.4 83.37h.9v.9h-.9zM377.89 87.27h.9v.9h-.9zM378.96 69.96h.9v.9h-.9zM367.35 90.42h.9v.9h-.9zM374.07 82.08h.9v.9h-.9zM384.95 89.04h.9v.9h-.9z" fill-opacity="0.33"/>
<path d="M387.49 88.76h.9v.9h-.9zM374.27 90.1h.9v.9h-.9zM370.6 82.74h.9v.9h-.9zM372.06 84.15h.9v.9h-.9zM380.45 82.52h.9v.9h-.9zM377.58 82.42h.9v.9h-.9zM381.1 68.23h.9v.9h-.9zM374.24 86.61h.9v.9h-.9zM368.77 91.92h.9v.9h-.9zM381.59 89.58h.9v.9h-.9zM374.61 78.72h.9v.9h-.9zM374.17 82.66h.9v.9h-.9zM377.12 82.63h.9v.9h-.9zM382.93 82.6h.9v.9h-.9zM374.03 91.37h.9v.9h-.9zM375.57 77.93h.9v.9h-.9zM378.15 84.32h.9v.9h-.9zM368.92 80.88h.9v.9h-.9zM378.58 87.43h.9v.9h-.9zM378.18 81.7h.9v.9h-.9zM377.03 84.79h.9v.9h-.9zM374.4 83.82h.9v.9h-.9zM372.01 91.71h.9v.9h-.9zM374.81 87.9h.9v.9h-.9zM372.83 84.49h.9v.9h-.9zM364.7 81.91h.9v.9h-.9zM369.58 81.46h.9v.9h-.9zM383.18 87.19h.9v.9h-.9zM383.23 90.93h.9v.9h-.9zM381.32 91.85h.9v.9h-.9zM371.76 90.58h.9v.9h-.9zM373.53 82.23h.9v.9h-.9zM380.76 80.24h.9v.9h-.9zM377.26 87.88h.9v.9h-.9zM377.9 83.32h.9v.9h-.9zM367.5 85.75h.9v.9h-.9zM380.95 90.47h.9v.9h-.9zM379.69 92.45h.9v.9h-.9zM369.34 85.29h.9v.9h-.9zM377.68 91.81h.9v.9h-.9z" fill-opacity="0.33"/>
<path d="M376.53 88.8h.9v.9h-.9zM366.57 81.3h.9v.9h-.9zM378.45 89.74h.9v.9h-.9zM381.93 86.8h.9v.9h-.9zM370.18 84.94h.9v.9h-.9zM377.66 83.82h.9v.9h-.9zM371.37 83.3h.9v.9h-.9zM366.15 79.14h.9v.9h-.9z" fill-opacity="0.33"/>
<path d="M392.57 46.51h.9v.9h-.9zM394.61 86.13h.9v.9h-.9zM405.98 74.46h.9v.9h-.9zM388.68 78.8h.9v.9h-.9zM412.38 72.84h.9v.9h-.9zM421.11 81.27h.9v.9h-.9zM389.52 37.69h.9v.9h-.9zM404.05 81.89h.9v.9h-.9zM385.59 67.65h.9v.9h-.9zM414.89 79.33h.9v.9h-.9zM365.82 61.4h.9v.9h-.9zM366.51 39.08h.9v.9h-.9zM413.48 57.25h.9v.9h-.9zM401.23 59.54h.9v.9h-.9zM385.34 45.16h.9v.9h-.9zM386.42 82.38h.9v.9h-.9zM402.09 49.79h.9v.9h-.9zM370.74 48.54h.9v.9h-.9zM406.92 58.63h.9v.9h-.9zM404.55 80.17h.9v.9h-.9zM372.67 72.84h.9v.9h-.9zM368 81.1h.9v.9h-.9zM376.41 48.57h.9v.9h-.9zM422.05 53.93h.9v.9h-.9zM378.78 85.05h.9v.9h-.9zM401.55 85.29h.9v.9h-.9zM388.82 62.03h.9v.9h-.9zM421.94 62.45h.9v.9h-.9zM423.87 43.73h.9v.9h-.9zM414.56 42.12h.9v.9h-.9zM396.65 32.57h.9v.9h-.9zM375.9 88.31h.9v.9h-.9zM392.37 80.3h.9v.9h-.9zM380.35 53.34h.9v.9h-.9zM371.5 65.16h.9v.9h-.9zM416.42 62.87h.9v.9h-.9zM387.77 87.34h.9v.9h-.9zM418.28 71.86h.9v.9h-.9zM370.03 69.37h.9v.9h-.9zM391.75 89.06h.9v.9h-.9z" fill-opacity="0.15"/>
<path d="M267.63 263.28h.9v.9h-.9zM291.84 246.38h.9v.9h-.9zM304.43 241.3h.9v.9h-.9zM281.86 219.5h.9v.9h-.9zM322.47 276.77h.9v.9h-.9zM284.85 247.39h.9v.9h-.9zM287.28 222.17h.9v.9h-.9zM323.68 270.41h.9v.9h-.9zM281.98 234.35h.9v.9h-.9zM311.23 267.95h.9v.9h-.9zM296.61 242.57h.9v.9h-.9zM281.5 268.04h.9v.9h-.9zM321.82 271.74h.9v.9h-.9zM273.87 255.36h.9v.9h-.9zM329.6 262.89h.9v.9h-.9zM295.94 227.55h.9v.9h-.9zM270.42 263.92h.9v.9h-.9zM270.94 268.7h.9v.9h-.9zM309.15 247.91h.9v.9h-.9zM323.61 276.37h.9v.9h-.9zM306.01 224.73h.9v.9h-.9zM304.22 244.65h.9v.9h-.9zM282.52 276.13h.9v.9h-.9zM313.29 226.1h.9v.9h-.9zM281.2 239.79h.9v.9h-.9zM403.77 256.32h.9v.9h-.9zM424.02 259.16h.9v.9h-.9zM395.88 220.34h.9v.9h-.9zM422.03 248.88h.9v.9h-.9zM416.03 222.07h.9v.9h-.9zM414.66 248.11h.9v.9h-.9zM377.56 243.92h.9v.9h-.9zM369.06 254.4h.9v.9h-.9zM377.69 261.65h.9v.9h-.9zM374.97 260.94h.9v.9h-.9zM401.6 262.26h.9v.9h-.9zM421.58 237.27h.9v.9h-.9zM405.53 243.39h.9v.9h-.9zM418.19 269.06h.9v.9h-.9zM410.37 255.55h.9v.9h-.9z" fill-opacity="0.15"/>
<path d="M380.24 274.02h.9v.9h-.9zM422.68 276.55h.9v.9h-.9zM384.84 268.87h.9v.9h-.9zM405.28 269.94h.9v.9h-.9zM412.68 246.82h.9v.9h-.9zM388.26 267.29h.9v.9h-.9zM403.82 251.93h.9v.9h-.9zM416.97 221.46h.9v.9h-.9zM365.35 247.43h.9v.9h-.9zM370.39 270.08h.9v.9h-.9zM369.84 272.48h.9v.9h-.9zM378.05 227.59h.9v.9h-.9zM409.78 260.21h.9v.9h-.9zM389.17 255.32h.9v.9h-.9zM397.73 276.46h.9v.9h-.9zM395 251.93h.9v.9h-.9zM392.27 244.26h.9v.9h-.9zM405.95 226.24h.9v.9h-.9zM406.09 275.27h.9v.9h-.9zM410.22 252.13h.9v.9h-.9zM385.76 225.41h.9v.9h-.9zM370.09 251.9h.9v.9h-.9zM417.36 271.52h.9v.9h-.9zM375.55 264.5h.9v.9h-.9zM412.98 248.35h.9v.9h-.9z" fill-opacity="0.15"/>
<path d="M366.8 137.74h.9v.9h-.9zM368.27 133.33h.9v.9h-.9zM364.11 134.55h.9v.9h-.9zM376.45 133.5h.9v.9h-.9zM380.44 136.65h.9v.9h-.9zM368.96 132.25h.9v.9h-.9zM377.81 132.6h.9v.9h-.9zM371.55 134.41h.9v.9h-.9zM370.31 136.21h.9v.9h-.9zM381.63 133.58h.9v.9h-.9zM375.64 137.57h.9v.9h-.9zM370.18 134.71h.9v.9h-.9zM365.09 137.54h.9v.9h-.9zM368.99 133.54h.9v.9h-.9zM371.87 133.06h.9v.9h-.9zM366.53 134.36h.9v.9h-.9zM378.72 134.57h.9v.9h-.9zM374.09 131.66h.9v.9h-.9zM369.63 131.49h.9v.9h-.9zM371.04 136.46h.9v.9h-.9zM372.8 132.92h.9v.9h-.9zM375.39 137.28h.9v.9h-.9zM373.68 134.06h.9v.9h-.9zM371.33 133.59h.9v.9h-.9zM370.92 135.79h.9v.9h-.9zM370.1 137.3h.9v.9h-.9zM384.07 133.78h.9v.9h-.9zM373.21 136.96h.9v.9h-.9zM374.66 134.5h.9v.9h-.9zM369.24 137.38h.9v.9h-.9zM374.57 136.22h.9v.9h-.9zM367.67 136.51h.9v.9h-.9zM375.39 134.62h.9v.9h-.9zM374.67 140.08h.9v.9h-.9zM365.89 131.89h.9v.9h-.9zM370.41 136.32h.9v.9h-.9zM371.8 132.35h.9v.9h-.9zM364.6 133.76h.9v.9h-.9zM371.62 133.12h.9v.9h-.9zM364.28 139.12h.9v.9h-.9z" fill-opacity="0.38"/>
<path d="M367.5 134.69h.9v.9h-.9zM368.9 133.69h.9v.9h-.9zM371.74 134.36h.9v.9h-.9zM374.54 132.3h.9v.9h-.9zM364.36 139.58h.9v.9h-.9zM371.19 136.83h.9v.9h-.9zM377.26 136.34h.9v.9h-.9zM371.73 131.44h.9v.9h-.9zM374.83 136.37h.9v.9h-.9zM366.44 132.3h.9v.9h-.9zM372.32 132.67h.9v.9h-.9zM379.21 133.6h.9v.9h-.9zM368.83 137.06h.9v.9h-.9zM373.14 132.96h.9v.9h-.9zM375.53 139.52h.9v.9h-.9zM365.6 134.47h.9v.9h-.9zM366.33 130.53h.9v.9h-.9zM374.59 136.67h.9v.9h-.9zM376.28 136.05h.9v.9h-.9zM368.31 132.31h.9v.9h-.9zM366.18 136.83h.9v.9h-.9zM370.11 139.63h.9v.9h-.9zM373.84 130.6h.9v.9h-.9zM375.89 137.96h.9v.9h-.9zM371.7 132.22h.9v.9h-.9zM380.14 131.99h.9v.9h-.9zM371.14 130.6h.9v.9h-.9zM365.45 131.08h.9v.9h-.9zM376.85 137.8h.9v.9h-.9zM369.58 131.88h.9v.9h-.9zM371.26 135.93h.9v.9h-.9zM364.12 132.34h.9v.9h-.9zM371.05 136.69h.9v.9h-.9zM371.91 136.1h.9v.9h-.9zM365.47 129.23h.9v.9h-.9zM373.07 132.9h.9v.9h-.9zM370.95 134.17h.9v.9h-.9zM373.89 133.24h.9v.9h-.9zM378.59 135.12h.9v.9h-.9zM374.13 136.52h.9v.9h-.9z" fill-opacity="0.38"/>
<path d="M376.61 136h.9v.9h-.9zM380.63 136.16h.9v.9h-.9zM374.29 136.15h.9v.9h-.9zM368.42 133.46h.9v.9h-.9zM368.39 137.77h.9v.9h-.9zM373.33 139.23h.9v.9h-.9zM373.99 139.49h.9v.9h-.9zM373.79 132.27h.9v.9h-.9zM380.07 135.84h.9v.9h-.9zM377.38 135.55h.9v.9h-.9zM369.95 135.45h.9v.9h-.9zM366.05 132.24h.9v.9h-.9zM367.2 133.82h.9v.9h-.9zM364.9 134.81h.9v.9h-.9zM373.04 139.82h.9v.9h-.9zM380.58 134.93h.9v.9h-.9zM375.89 134.53h.9v.9h-.9zM373.47 134.97h.9v.9h-.9zM368.9 135.23h.9v.9h-.9zM364.29 136.09h.9v.9h-.9zM370.13 132.5h.9v.9h-.9zM369.78 136.36h.9v.9h-.9zM368.21 136.17h.9v.9h-.9zM374.35 138.73h.9v.9h-.9zM366.21 134.79h.9v.9h-.9zM374.07 138.59h.9v.9h-.9zM372.84 136.83h.9v.9h-.9zM364.33 133.67h.9v.9h-.9zM379.73 134.38h.9v.9h-.9zM382.2 133.33h.9v.9h-.9zM370.18 131.28h.9v.9h-.9zM374.68 135.68h.9v.9h-.9zM381.5 135.44h.9v.9h-.9zM370.32 131.72h.9v.9h-.9zM371.14 137.29h.9v.9h-.9zM375.2 137.96h.9v.9h-.9zM375.82 134.94h.9v.9h-.9zM374.53 135.46h.9v.9h-.9zM364.97 139.11h.9v.9h-.9zM373.4 132.56h.9v.9h-.9z" fill-opacity="0.38"/>
<path d="M373.45 135.73h.9v.9h-.9zM376.47 138.47h.9v.9h-.9zM379.11 132.8h.9v.9h-.9zM373.21 135.88h.9v.9h-.9zM366.06 133.94h.9v.9h-.9zM372.51 136.82h.9v.9h-.9zM382.4 135.75h.9v.9h-.9zM368.57 129.44h.9v.9h-.9zM376.87 134.74h.9v.9h-.9zM371.01 132.7h.9v.9h-.9zM375.19 130.79h.9v.9h-.9zM372.09 135.34h.9v.9h-.9zM373.04 138.15h.9v.9h-.9zM371.06 135.27h.9v.9h-.9zM375.8 131.36h.9v.9h-.9zM370.1 135.21h.9v.9h-.9zM376.29 133.14h.9v.9h-.9zM375.54 135.97h.9v.9h-.9zM364.17 131.53h.9v.9h-.9zM364.44 135.38h.9v.9h-.9zM372.58 136.77h.9v.9h-.9zM375.63 133.73h.9v.9h-.9zM376.86 137h.9v.9h-.9zM373.89 136.19h.9v.9h-.9zM365.16 135.91h.9v.9h-.9zM366.42 132.21h.9v.9h-.9zM369.81 135.38h.9v.9h-.9zM371.28 134.26h.9v.9h-.9zM366.58 135.49h.9v.9h-.9zM367.87 131.69h.9v.9h-.9zM372.01 138.52h.9v.9h-.9zM369.54 132.52h.9v.9h-.9zM378.43 139.14h.9v.9h-.9zM370.09 134.55h.9v.9h-.9zM372.6 142.1h.9v.9h-.9zM372.22 137.42h.9v.9h-.9zM373.76 130.7h.9v.9h-.9zM366.07 132.11h.9v.9h-.9zM373.71 135.3h.9v.9h-.9zM380.46 134.4h.9v.9h-.9z" fill-opacity="0.38"/>
<path d="M373.08 135.23h.9v.9h-.9zM372.24 140.59h.9v.9h-.9zM372.97 138.57h.9v.9h-.9zM378.01 133.6h.9v.9h-.9zM374.96 134.14h.9v.9h-.9zM372.1 135.43h.9v.9h-.9zM371.65 133.93h.9v.9h-.9zM379.31 134.42h.9v.9h-.9zM375.05 139.07h.9v.9h-.9zM374.67 137.5h.9v.9h-.9zM378.47 137.65h.9v.9h-.9zM380.12 131.63h.9v.9h-.9zM381.31 135.12h.9v.9h-.9zM364.6 135h.9v.9h-.9zM364.12 132.64h.9v.9h-.9zM373.03 135.43h.9v.9h-.9zM367.57 134.49h.9v.9h-.9zM371.06 135.23h.9v.9h-.9zM371.52 134.52h.9v.9h-.9zM375.93 131.2h.9v.9h-.9zM369.09 135.37h.9v.9h-.9zM369.55 133.73h.9v.9h-.9zM369.37 135.55h.9v.9h-.9zM377.77 134.61h.9v.9h-.9zM370.22 135.9h.9v.9h-.9zM370.34 130.41h.9v.9h-.9zM372.89 134.15h.9v.9h-.9zM368.69 136.56h.9v.9h-.9zM371.77 133.7h.9v.9h-.9zM371.62 134.77h.9v.9h-.9zM373.74 135.59h.9v.9h-.9zM369.16 132.02h.9v.9h-.9zM366.08 134.72h.9v.9h-.9zM365.81 136.86h.9v.9h-.9zM364.92 130.75h.9v.9h-.9zM370.58 130.79h.9v.9h-.9zM379.68 132.67h.9v.9h-.9zM371.29 134.46h.9v.9h-.9zM367.45 130.81h.9v.9h-.9zM376.65 140.24h.9v.9h-.9z" fill-opacity="0.38"/>
<path d="M364.24 136.4h.9v.9h-.9zM371.48 137.08h.9v.9h-.9zM368.98 136.78h.9v.9h-.9zM376.03 136.51h.9v.9h-.9zM378.78 134.63h.9v.9h-.9zM379.27 133.37h.9v.9h-.9zM379.89 128.46h.9v.9h-.9zM371.62 133.13h.9v.9h-.9zM371.56 137.52h.9v.9h-.9zM375.14 135.28h.9v.9h-.9zM380.06 131.51h.9v.9h-.9zM367.48 138.67h.9v.9h-.9zM373.19 130.07h.9v.9h-.9zM373.25 132.21h.9v.9h-.9zM378.94 137.8h.9v.9h-.9zM368.82 138.15h.9v.9h-.9zM367.38 137.26h.9v.9h-.9zM374.44 134.75h.9v.9h-.9zM364.44 134.38h.9v.9h-.9zM366.72 129.21h.9v.9h-.9zM374.47 135.94h.9v.9h-.9zM369.02 140.13h.9v.9h-.9zM375.42 135.21h.9v.9h-.9zM368.33 127.96h.9v.9h-.9zM373.95 137.35h.9v.9h-.9zM368.59 131.66h.9v.9h-.9zM371.34 131.04h.9v.9h-.9zM371.59 136.9h.9v.9h-.9zM379.1 135.69h.9v.9h-.9zM372.53 136.85h.9v.9h-.9zM378.55 134.28h.9v.9h-.9zM365.41 133.15h.9v.9h-.9zM365.26 132.92h.9v.9h-.9zM370.95 135.87h.9v.9h-.9zM372.33 135.22h.9v.9h-.9zM369.76 136.07h.9v.9h-.9zM375.98 136.87h.9v.9h-.9zM379.04 134.35h.9v.9h-.9zM370.29 139.12h.9v.9h-.9zM372.56 136.04h.9v.9h-.9z" fill-opacity="0.38"/>
<path d="M369.87 137.38h.9v.9h-.9zM369.54 132.63h.9v.9h-.9zM371.25 133.99h.9v.9h-.9zM375.72 134.14h.9v.9h-.9zM372.17 134.53h.9v.9h-.9zM373.25 133.54h.9v.9h-.9zM377.07 131.63h.9v.9h-.9zM369.62 133.35h.9v.9h-.9zM374.79 135.15h.9v.9h-.9zM373.97 134.26h.9v.9h-.9zM367.96 132.36h.9v.9h-.9zM369.88 133.76h.9v.9h-.9zM372.95 135.9h.9v.9h-.9zM376.43 134.79h.9v.9h-.9zM367.81 132.5h.9v.9h-.9zM371.86 135.92h.9v.9h-.9zM381.29 135.49h.9v.9h-.9zM380.34 139.55h.9v.9h-.9zM366.31 137.95h.9v.9h-.9zM377.23 138.28h.9v.9h-.9zM371.5 137.34h.9v.9h-.9zM369.14 134.88h.9v.9h-.9zM371.65 139.33h.9v.9h-.9zM370.47 137.34h.9v.9h-.9zM371.88 133.35h.9v.9h-.9zM372.76 136.63h.9v.9h-.9zM367.99 136.57h.9v.9h-.9zM367.99 132.95h.9v.9h-.9zM372.65 134.49h.9v.9h-.9zM366.64 131.14h.9v.9h-.9zM371.67 135.63h.9v.9h-.9zM369.25 135.5h.9v.9h-.9zM373.63 135.72h.9v.9h-.9zM368.49 135.24h.9v.9h-.9zM372.2 137.62h.9v.9h-.9zM372.93 135.66h.9v.9h-.9zM367.93 137.12h.9v.9h-.9zM377.41 133.87h.9v.9h-.9zM374.74 135.79h.9v.9h-.9zM371.32 131.96h.9v.9h-.9z" fill-opacity="0.38"/>
<path d="M380.33 130.57h.9v.9h-.9zM373.06 134.15h.9v.9h-.9zM377.27 134.04h.9v.9h-.9zM371.75 136.52h.9v.9h-.9zM373.83 133.8h.9v.9h-.9zM374.95 135.99h.9v.9h-.9zM376.49 133.83h.9v.9h-.9zM371.32 134.11h.9v.9h-.9zM367.37 135.66h.9v.9h-.9zM373.59 138.45h.9v.9h-.9zM369.93 135.98h.9v.9h-.9zM377.25 134.78h.9v.9h-.9zM371.87 135.37h.9v.9h-.9zM368.11 132.68h.9v.9h-.9zM377.12 135.46h.9v.9h-.9zM371.18 132.08h.9v.9h-.9zM372.14 137.86h.9v.9h-.9zM365.81 132.92h.9v.9h-.9zM377.08 138.47h.9v.9h-.9zM379.29 133.73h.9v.9h-.9zM374.54 133.25h.9v.9h-.9zM374.14 134.18h.9v.9h-.9zM372.53 138.26h.9v.9h-.9zM373.23 134.47h.9v.9h-.9zM371.83 135.69h.9v.9h-.9zM369 135.54h.9v.9h-.9zM374.54 138.77h.9v.9h-.9zM365.4 137.14h.9v.9h-.9zM383.69 135.51h.9v.9h-.9zM372.15 137.77h.9v.9h-.9zM369.02 133.89h.9v.9h-.9zM373.24 133.66h.9v.9h-.9zM377.07 135.04h.9v.9h-.9zM373.44 141.1h.9v.9h-.9zM369.32 137.26h.9v.9h-.9zM367.44 138.02h.9v.9h-.9zM376.34 135.38h.9v.9h-.9zM376.47 138.88h.9v.9h-.9zM378.39 135.05h.9v.9h-.9zM371.28 137.69h.9v.9h-.9z" fill-opacity="0.38"/>
<path d="M364.25 133.62h.9v.9h-.9zM373.95 136.4h.9v.9h-.9zM380.78 139.24h.9v.9h-.9zM373.16 136.1h.9v.9h-.9zM365.02 134.61h.9v.9h-.9zM372.84 134.51h.9v.9h-.9zM371.85 136.5h.9v.9h-.9zM366.84 133.7h.9v.9h-.9zM366.33 131h.9v.9h-.9zM375.36 134.54h.9v.9h-.9zM376.33 134.17h.9v.9h-.9zM382.07 136.75h.9v.9h-.9zM372.3 135.32h.9v.9h-.9zM370.53 136.97h.9v.9h-.9zM381.44 134.05h.9v.9h-.9zM366.17 136.47h.9v.9h-.9zM376.83 131.51h.9v.9h-.9zM368.13 132.69h.9v.9h-.9zM374.33 136.25h.9v.9h-.9zM367.92 132.38h.9v.9h-.9zM374.92 130.18h.9v.9h-.9zM374.73 134.68h.9v.9h-.9zM381.03 137.41h.9v.9h-.9zM368.69 134.4h.9v.9h-.9zM370.18 133.33h.9v.9h-.9zM371.95 137.33h.9v.9h-.9zM364.11 134.51h.9v.9h-.9zM378.91 136.81h.9v.9h-.9zM367.54 133.14h.9v.9h-.9zM367.34 131.25h.9v.9h-.9zM377.22 135.21h.9v.9h-.9zM368.11 131.66h.9v.9h-.9zM369.66 133.84h.9v.9h-.9zM380.03 133.96h.9v.9h-.9zM372.12 137.58h.9v.9h-.9zM374.84 134.62h.9v.9h-.9zM374.49 134.02h.9v.9h-.9zM371.11 132.79h.9v.9h-.9z" fill-opacity="0.38"/>
<path d="M272.89 247.03h.9v.9h-.9zM274.38 246.05h.9v.9h-.9zM277.56 251.56h.9v.9h-.9zM270.28 247.32h.9v.9h-.9zM282.17 241.77h.9v.9h-.9zM276.43 251.78h.9v.9h-.9zM280.95 236.41h.9v.9h-.9zM274.94 240.07h.9v.9h-.9zM277.46 242.93h.9v.9h-.9zM273.43 242.61h.9v.9h-.9zM277.42 243.69h.9v.9h-.9zM271.83 244.39h.9v.9h-.9zM277.95 242.56h.9v.9h-.9zM281.23 240.21h.9v.9h-.9zM277.95 243.92h.9v.9h-.9zM283.39 243.18h.9v.9h-.9zM272.96 241.14h.9v.9h-.9zM285.31 246.85h.9v.9h-.9zM270.99 244.07h.9v.9h-.9zM271.59 249.49h.9v.9h-.9zM278 239.12h.9v.9h-.9zM277.03 247.72h.9v.9h-.9zM276.06 246.43h.9v.9h-.9zM275.54 245.66h.9v.9h-.9zM277.04 242.99h.9v.9h-.9zM277.67 245.53h.9v.9h-.9zM275.87 243.06h.9v.9h-.9zM271.32 245.77h.9v.9h-.9zM279.9 238h.9v.9h-.9zM273.56 249h.9v.9h-.9zM280.32 242.97h.9v.9h-.9zM282.36 242.17h.9v.9h-.9zM272.37 250.71h.9v.9h-.9zM274.02 244.42h.9v.9h-.9zM268.36 242.1h.9v.9h-.9zM270.57 244.65h.9v.9h-.9zM267.49 248.15h.9v.9h-.9zM274.39 243.28h.9v.9h-.9zM273.09 247.22h.9v.9h-.9zM283.21 243.86h.9v.9h-.9z" fill-opacity="0.4"/>
<path d="M283.58 249.75h.9v.9h-.9zM282.31 245.92h.9v.9h-.9zM269.1 247.02h.9v.9h-.9zM274.14 245.62h.9v.9h-.9zM267.25 244.23h.9v.9h-.9zM277.14 242.32h.9v.9h-.9zM277.42 249.93h.9v.9h-.9zM277.13 243.05h.9v.9h-.9zM287.19 238.77h.9v.9h-.9zM271.76 246.24h.9v.9h-.9zM273.29 238.35h.9v.9h-.9zM277.27 247.48h.9v.9h-.9zM272.34 249.33h.9v.9h-.9zM278.39 248.53h.9v.9h-.9zM268.92 245.04h.9v.9h-.9zM283.52 250.94h.9v.9h-.9zM282.21 245.05h.9v.9h-.9zM276.91 243.22h.9v.9h-.9zM281.19 243.02h.9v.9h-.9zM276.63 239.02h.9v.9h-.9zM269.01 250.25h.9v.9h-.9zM276.33 245.68h.9v.9h-.9zM285.74 240.68h.9v.9h-.9zM273.56 244.44h.9v.9h-.9zM270.17 241.08h.9v.9h-.9zM270.27 246.93h.9v.9h-.9zM275.83 247.46h.9v.9h-.9zM271 246.78h.9v.9h-.9zM273.98 245.31h.9v.9h-.9zM280.42 245.15h.9v.9h-.9zM274.4 240.17h.9v.9h-.9zM276.35 247.35h.9v.9h-.9zM273.08 244.86h.9v.9h-.9zM267.75 241.14h.9v.9h-.9zM277.94 248.85h.9v.9h-.9zM274.59 240.14h.9v.9h-.9zM274.27 240.46h.9v.9h-.9zM274.76 250.72h.9v.9h-.9zM277.46 244.6h.9v.9h-.9zM280.92 243.93h.9v.9h-.9z" fill-opacity="0.4"/>
<path d="M277.61 245.64h.9v.9h-.9zM278.15 240.73h.9v.9h-.9zM279.39 247.64h.9v.9h-.9zM271.84 249.44h.9v.9h-.9zM276.15 247.05h.9v.9h-.9zM278.66 247.67h.9v.9h-.9zM273.04 243.33h.9v.9h-.9zM277.82 246.84h.9v.9h-.9zM278.76 246.05h.9v.9h-.9zM273.76 248.31h.9v.9h-.9zM278.27 248.19h.9v.9h-.9zM272.91 245.41h.9v.9h-.9zM273.8 244.13h.9v.9h-.9zM276.96 246.07h.9v.9h-.9zM272.28 237.58h.9v.9h-.9zM272.36 246.65h.9v.9h-.9zM272.06 246.32h.9v.9h-.9zM274.31 242.26h.9v.9h-.9zM281.58 249.95h.9v.9h-.9zM275.56 244.9h.9v.9h-.9zM280.59 241.12h.9v.9h-.9zM271.92 248.4h.9v.9h-.9zM280.32 243.59h.9v.9h-.9zM272.37 246.09h.9v.9h-.9zM269.38 243.57h.9v.9h-.9zM274.95 237.76h.9v.9h-.9zM278.85 247.32h.9v.9h-.9zM281.11 240.79h.9v.9h-.9zM269.96 242.63h.9v.9h-.9zM269.86 251.15h.9v.9h-.9zM271.41 244.12h.9v.9h-.9zM277.03 246.4h.9v.9h-.9zM282.94 241.82h.9v.9h-.9zM280.23 245.49h.9v.9h-.9zM270.48 245.5h.9v.9h-.9zM269.38 249.87h.9v.9h-.9zM272.58 248.04h.9v.9h-.9zM282.24 243.21h.9v.9h-.9zM271.78 245.44h.9v.9h-.9zM271.06 247.73h.9v.9h-.9z" fill-opacity="0.4"/>
<path d="M276.89 242.78h.9v.9h-.9zM272.78 247.21h.9v.9h-.9zM269.14 250.08h.9v.9h-.9zM272.31 244.47h.9v.9h-.9zM271.64 249.89h.9v.9h-.9zM279.98 248.93h.9v.9h-.9zM279.17 245.32h.9v.9h-.9zM284.14 247.03h.9v.9h-.9zM278.13 246.77h.9v.9h-.9zM279.56 245.88h.9v.9h-.9zM275.25 240.29h.9v.9h-.9zM285.88 241.17h.9v.9h-.9zM285.29 248.69h.9v.9h-.9zM273.17 245.84h.9v.9h-.9zM275.93 239.12h.9v.9h-.9zM274.45 245.92h.9v.9h-.9zM281.66 241.45h.9v.9h-.9zM277.63 245.29h.9v.9h-.9zM276.77 245.49h.9v.9h-.9zM274.3 240.96h.9v.9h-.9zM278.22 246.21h.9v.9h-.9zM278.82 248.78h.9v.9h-.9zM270.11 238.04h.9v.9h-.9zM267.5 251.45h.9v.9h-.9zM271.67 246.25h.9v.9h-.9zM275.98 247.23h.9v.9h-.9zM275.23 243.26h.9v.9h-.9zM277.23 246.61h.9v.9h-.9zM271.4 249h.9v.9h-.9zM281.55 246.38h.9v.9h-.9zM275.52 244.34h.9v.9h-.9zM268.16 247.02h.9v.9h-.9zM271.37 243.54h.9v.9h-.9zM280.83 242.29h.9v.9h-.9zM273.55 247.62h.9v.9h-.9zM284.96 242.98h.9v.9h-.9zM281.35 243.09h.9v.9h-.9zM277.91 246.5h.9v.9h-.9zM270.59 248.13h.9v.9h-.9zM284.69 245.21h.9v.9h-.9z" fill-opacity="0.4"/>
<path d="M277.34 241.53h.9v.9h-.9zM284.63 245.24h.9v.9h-.9zM269.92 247.34h.9v.9h-.9zM269.04 242.99h.9v.9h-.9zM286.66 243.15h.9v.9h-.9zM272.91 243.32h.9v.9h-.9zM273.34 246.71h.9v.9h-.9zM283.05 242.03h.9v.9h-.9zM278.16 239.64h.9v.9h-.9zM283.36 244.78h.9v.9h-.9zM272.69 249.64h.9v.9h-.9zM275.54 249.16h.9v.9h-.9zM281.21 250.02h.9v.9h-.9zM272.21 245.22h.9v.9h-.9zM277.82 244.47h.9v.9h-.9zM283.36 242.91h.9v.9h-.9zM280.86 249.14h.9v.9h-.9zM266.67 242.14h.9v.9h-.9zM271.71 243.41h.9v.9h-.9zM277.92 244.53h.9v.9h-.9zM276.43 243.67h.9v.9h-.9zM275.66 246.5h.9v.9h-.9zM279.63 242.71h.9v.9h-.9zM275.5 242.77h.9v.9h-.9zM275.19 240.74h.9v.9h-.9zM280.63 247.06h.9v.9h-.9zM275.46 243h.9v.9h-.9zM273.86 243.05h.9v.9h-.9zM268.64 249.95h.9v.9h-.9zM270.45 246.79h.9v.9h-.9zM278.96 240.33h.9v.9h-.9zM266.83 246.68h.9v.9h-.9zM273.67 245.31h.9v.9h-.9zM276.04 243.37h.9v.9h-.9zM275.37 244.15h.9v.9h-.9zM282.02 244.77h.9v.9h-.9zM275.9 243.46h.9v.9h-.9zM273.01 242.84h.9v.9h-.9zM276.1 250.56h.9v.9h-.9zM281.4 245.76h.9v.9h-.9z" fill-opacity="0.4"/>
<path d="M284.06 248.09h.9v.9h-.9zM277.05 244.56h.9v.9h-.9zM270.78 245.8h.9v.9h-.9zM274.53 240.29h.9v.9h-.9zM269.88 250.86h.9v.9h-.9zM277.08 246.54h.9v.9h-.9zM277.01 243.66h.9v.9h-.9zM278.26 248.3h.9v.9h-.9zM274.57 246.59h.9v.9h-.9zM280.97 243.6h.9v.9h-.9zM276.86 242.83h.9v.9h-.9zM278.94 243.94h.9v.9h-.9zM281.55 242.76h.9v.9h-.9zM284.16 244.12h.9v.9h-.9zM272.02 242.34h.9v.9h-.9zM279.23 242.48h.9v.9h-.9zM284.71 248.9h.9v.9h-.9zM278.54 240.78h.9v.9h-.9zM275.93 242.87h.9v.9h-.9zM267.35 246.33h.9v.9h-.9zM286.62 243.44h.9v.9h-.9zM279.93 248.9h.9v.9h-.9zM271.44 244.03h.9v.9h-.9zM277.34 246.47h.9v.9h-.9zM270.55 245.7h.9v.9h-.9zM275.54 247.9h.9v.9h-.9zM268.38 243.36h.9v.9h-.9zM273.63 244.1h.9v.9h-.9zM279.52 243.17h.9v.9h-.9zM289.19 242.93h.9v.9h-.9zM280.08 248.11h.9v.9h-.9zM280.68 244.44h.9v.9h-.9zM272.07 244.28h.9v.9h-.9zM279.25 245.41h.9v.9h-.9zM278.84 246.77h.9v.9h-.9zM271.81 242.24h.9v.9h-.9zM282.97 243.59h.9v.9h-.9zM268.44 250.63h.9v.9h-.9zM272.05 242.25h.9v.9h-.9zM280.69 241.65h.9v.9h-.9z" fill-opacity="0.4"/>
<path d="M271.87 248.19h.9v.9h-.9zM272.11 252.57h.9v.9h-.9zM276.52 253.1h.9v.9h-.9zM276.67 245.22h.9v.9h-.9zM272.97 244.38h.9v.9h-.9zM273.65 244.98h.9v.9h-.9zM279.75 241.24h.9v.9h-.9zM271.64 238.77h.9v.9h-.9zM283.27 244.83h.9v.9h-.9zM275.98 244.88h.9v.9h-.9zM280.87 246.01h.9v.9h-.9zM280.13 244.55h.9v.9h-.9zM275.47 244.88h.9v.9h-.9zM267.11 248.32h.9v.9h-.9zM268.48 242.07h.9v.9h-.9zM279.27 245.22h.9v.9h-.9zM279.95 250.17h.9v.9h-.9zM284.99 249.2h.9v.9h-.9zM274.97 251.2h.9v.9h-.9zM271.83 244.79h.9v.9h-.9zM280.83 244.41h.9v.9h-.9zM275.47 243.99h.9v.9h-.9zM282.6 237.65h.9v.9h-.9zM282.16 248.23h.9v.9h-.9zM275.7 246.73h.9v.9h-.9zM271.4 248.38h.9v.9h-.9zM290.74 242.29h.9v.9h-.9zM282.75 244.88h.9v.9h-.9zM274.43 243.59h.9v.9h-.9zM275.14 241.29h.9v.9h-.9zM269.53 250.04h.9v.9h-.9zM275.97 246.71h.9v.9h-.9zM277.54 246.48h.9v.9h-.9zM268.73 242.2h.9v.9h-.9zM279.09 248.04h.9v.9h-.9zM270.56 243.32h.9v.9h-.9zM270.92 247.01h.9v.9h-.9zM277.7 245.15h.9v.9h-.9zM272.93 246.08h.9v.9h-.9zM276.2 242.82h.9v.9h-.9z" fill-opacity="0.4"/>
<path d="M277.65 243.06h.9v.9h-.9zM280.62 246.93h.9v.9h-.9zM272.75 246.81h.9v.9h-.9zM276.37 242.93h.9v.9h-.9zM271.66 240.06h.9v.9h-.9zM270.62 246.09h.9v.9h-.9zM281.85 243.17h.9v.9h-.9zM276.82 246.08h.9v.9h-.9zM279.8 246.38h.9v.9h-.9zM281.94 247.35h.9v.9h-.9zM272.39 246.24h.9v.9h-.9zM276.15 246.79h.9v.9h-.9zM274.6 247.55h.9v.9h-.9zM282.39 242.53h.9v.9h-.9zM273.44 245.83h.9v.9h-.9zM278.4 245.48h.9v.9h-.9zM280.04 241.5h.9v.9h-.9zM279.77 248.55h.9v.9h-.9zM281.38 246.33h.9v.9h-.9zM274.91 246.25h.9v.9h-.9zM275.69 240.29h.9v.9h-.9zM273.14 244.93h.9v.9h-.9zM273.57 242.25h.9v.9h-.9zM274.94 243.94h.9v.9h-.9zM276.38 244.9h.9v.9h-.9zM276.88 248.03h.9v.9h-.9zM276.71 246.27h.9v.9h-.9zM270.18 236.21h.9v.9h-.9zM274.13 247.08h.9v.9h-.9zM274.42 243.18h.9v.9h-.9zM270.1 247.73h.9v.9h-.9zM273.52 245.79h.9v.9h-.9zM281.48 246.66h.9v.9h-.9zM286.82 244.65h.9v.9h-.9zM280.64 247.13h.9v.9h-.9zM272.91 245.19h.9v.9h-.9zM273.34 241.98h.9v.9h-.9zM277.49 242.73h.9v.9h-.9zM284.11 242.83h.9v.9h-.9zM273.44 245.32h.9v.9h-.9z" fill-opacity="0.4"/>
<path d="M273.56 245.21h.9v.9h-.9zM273.13 240.78h.9v.9h-.9zM283.35 246.38h.9v.9h-.9zM276.79 243.66h.9v.9h-.9zM275.35 245.95h.9v.9h-.9zM269.38 242.66h.9v.9h-.9zM271.78 248.83h.9v.9h-.9zM270.98 248.57h.9v.9h-.9zM273.81 253.23h.9v.9h-.9zM275.67 245.15h.9v.9h-.9zM282.53 247.67h.9v.9h-.9zM280.56 241.84h.9v.9h-.9zM281.5 250.09h.9v.9h-.9zM275.56 243.6h.9v.9h-.9zM270.81 248.1h.9v.9h-.9zM277.46 245.07h.9v.9h-.9zM270.12 249.91h.9v.9h-.9zM280.25 244.99h.9v.9h-.9zM283.14 242.2h.9v.9h-.9zM280.28 242.05h.9v.9h-.9zM282.82 244.22h.9v.9h-.9zM281.92 243.8h.9v.9h-.9zM277.96 248.48h.9v.9h-.9zM271.72 245.34h.9v.9h-.9zM272.03 247.61h.9v.9h-.9zM273.15 243.93h.9v.9h-.9zM275.08 248.54h.9v.9h-.9zM271.05 244.97h.9v.9h-.9zM274.47 243.4h.9v.9h-.9zM272.27 244.57h.9v.9h-.9zM276.99 240.41h.9v.9h-.9zM277.17 241.5h.9v.9h-.9zM276.12 251.89h.9v.9h-.9zM271.41 244.85h.9v.9h-.9zM274.83 247.99h.9v.9h-.9zM273.77 239.69h.9v.9h-.9zM268.32 245.58h.9v.9h-.9zM277.27 248.25h.9v.9h-.9zM273.47 247.05h.9v.9h-.9zM270.94 248.94h.9v.9h-.9z" fill-opacity="0.4"/>
<path d="M275.71 243.02h.9v.9h-.9zM276.9 250.28h.9v.9h-.9zM271.98 241.33h.9v.9h-.9zM271.18 241.58h.9v.9h-.9zM275.81 246.1h.9v.9h-.9zM275.26 245.64h.9v.9h-.9zM281.74 244.18h.9v.9h-.9zM307.97 265.13h.9v.9h-.9zM306.1 272.21h.9v.9h-.9zM308.81 259.36h.9v.9h-.9zM303.41 270.03h.9v.9h-.9zM306.5 277h.9v.9h-.9zM311.5 258.92h.9v.9h-.9zM303.36 272.08h.9v.9h-.9zM307.96 273.03h.9v.9h-.9zM309.1 264.89h.9v.9h-.9zM311.82 258.57h.9v.9h-.9zM304.82 271.43h.9v.9h-.9zM307.57 263.32h.9v.9h-.9zM313.05 279.11h.9v.9h-.9zM303.5 271.98h.9v.9h-.9zM304.64 266.74h.9v.9h-.9zM310.8 270.37h.9v.9h-.9zM306.64 270.22h.9v.9h-.9zM302.6 277.49h.9v.9h-.9zM304.2 278.05h.9v.9h-.9zM305.31 266.59h.9v.9h-.9zM312.7 270.79h.9v.9h-.9zM304.62 266.07h.9v.9h-.9zM309.35 281.71h.9v.9h-.9zM309.38 266.99h.9v.9h-.9zM302.79 265.18h.9v.9h-.9zM306.6 271.14h.9v.9h-.9zM304.56 277.87h.9v.9h-.9zM303.41 264.91h.9v.9h-.9zM308.94 272.68h.9v.9h-.9zM305.57 275.8h.9v.9h-.9zM301.7 280.17h.9v.9h-.9zM307.25 278.19h.9v.9h-.9zM306.29 270.81h.9v.9h-.9z" fill-opacity="0.4"/>
<path d="M309.04 258.2h.9v.9h-.9zM306.26 280.72h.9v.9h-.9zM310.55 271.68h.9v.9h-.9zM307.79 278.56h.9v.9h-.9zM303.46 267.63h.9v.9h-.9zM307.6 266.64h.9v.9h-.9zM306.65 280.39h.9v.9h-.9zM310.61 273.46h.9v.9h-.9zM307.11 269.96h.9v.9h-.9zM308.43 271.12h.9v.9h-.9zM304.3 274.63h.9v.9h-.9zM303.91 269.29h.9v.9h-.9zM305.69 262.07h.9v.9h-.9zM309.35 269.1h.9v.9h-.9zM302.63 269.05h.9v.9h-.9zM301.82 278.87h.9v.9h-.9zM304.9 274.13h.9v.9h-.9zM303.38 264.02h.9v.9h-.9zM306.71 272.22h.9v.9h-.9zM310.56 267.82h.9v.9h-.9zM311.23 275.81h.9v.9h-.9zM303.73 268.39h.9v.9h-.9zM303.58 280.61h.9v.9h-.9zM304.96 275.29h.9v.9h-.9zM310.51 267.9h.9v.9h-.9zM305.21 271.78h.9v.9h-.9zM304.11 261.36h.9v.9h-.9zM303.39 271.74h.9v.9h-.9zM307.78 280.97h.9v.9h-.9zM300.13 272.81h.9v.9h-.9zM302.68 277.03h.9v.9h-.9zM309.68 270.37h.9v.9h-.9zM312.63 267.14h.9v.9h-.9zM305.04 262.75h.9v.9h-.9zM304.57 270.3h.9v.9h-.9zM309.59 277.83h.9v.9h-.9zM306.03 264.83h.9v.9h-.9zM305.79 266.78h.9v.9h-.9zM305.28 266.95h.9v.9h-.9zM303.76 269.21h.9v.9h-.9z" fill-opacity="0.4"/>
<path d="M305.11 268.46h.9v.9h-.9zM301.82 270.49h.9v.9h-.9zM309.21 273.73h.9v.9h-.9zM304.98 262.19h.9v.9h-.9zM302.14 261.98h.9v.9h-.9zM304.62 267.55h.9v.9h-.9zM300.36 273.87h.9v.9h-.9zM301.24 265.13h.9v.9h-.9zM304.33 274.9h.9v.9h-.9zM313.99 267.27h.9v.9h-.9zM306.02 267.02h.9v.9h-.9zM306.3 268.46h.9v.9h-.9zM316.35 262.54h.9v.9h-.9zM306.64 264.47h.9v.9h-.9zM308.39 266.2h.9v.9h-.9zM309.22 262.59h.9v.9h-.9zM315 270.9h.9v.9h-.9zM300.4 274.05h.9v.9h-.9zM305.28 262.12h.9v.9h-.9zM308.71 266.22h.9v.9h-.9zM309.83 266.03h.9v.9h-.9zM310.45 270.51h.9v.9h-.9zM308.4 270.56h.9v.9h-.9zM305.68 267.23h.9v.9h-.9zM308.75 274.11h.9v.9h-.9zM313.41 262.2h.9v.9h-.9zM311.13 269.1h.9v.9h-.9zM307.93 264.49h.9v.9h-.9zM313.26 264.27h.9v.9h-.9zM306.74 264.91h.9v.9h-.9zM314.31 277.6h.9v.9h-.9zM302.1 266.67h.9v.9h-.9zM308.42 266.79h.9v.9h-.9zM305.72 262.66h.9v.9h-.9zM307.99 262.56h.9v.9h-.9zM305.83 280.09h.9v.9h-.9zM308.45 265.27h.9v.9h-.9zM305.76 263.41h.9v.9h-.9zM307.48 274.04h.9v.9h-.9zM310.54 267.78h.9v.9h-.9z" fill-opacity="0.4"/>
<path d="M302.58 269.08h.9v.9h-.9zM313.32 271.36h.9v.9h-.9zM305.43 273.04h.9v.9h-.9zM303.51 278.18h.9v.9h-.9zM304.93 263.99h.9v.9h-.9zM304.88 268.97h.9v.9h-.9zM310.79 265.95h.9v.9h-.9zM300.37 269.06h.9v.9h-.9zM309.01 279.4h.9v.9h-.9zM302.85 279.02h.9v.9h-.9zM309.58 272.47h.9v.9h-.9zM304.18 263.94h.9v.9h-.9zM303.48 275.52h.9v.9h-.9zM307.87 276.38h.9v.9h-.9zM313.85 269.69h.9v.9h-.9zM306.87 281.8h.9v.9h-.9zM302.17 266.71h.9v.9h-.9zM305.67 267.15h.9v.9h-.9zM307.59 264.23h.9v.9h-.9zM311.39 260.88h.9v.9h-.9zM304 258.8h.9v.9h-.9zM301.81 273.32h.9v.9h-.9zM309.4 268.32h.9v.9h-.9zM310.21 273.51h.9v.9h-.9zM304.89 269.33h.9v.9h-.9zM305.4 271.94h.9v.9h-.9zM309.09 277.34h.9v.9h-.9zM308.64 276.41h.9v.9h-.9zM303.07 267.91h.9v.9h-.9zM299.82 269.26h.9v.9h-.9zM315.76 271.12h.9v.9h-.9zM307.38 271.28h.9v.9h-.9zM307.59 261.16h.9v.9h-.9zM304.46 268.48h.9v.9h-.9zM307.68 264.1h.9v.9h-.9zM306.65 264.92h.9v.9h-.9zM302.12 265.4h.9v.9h-.9zM304.04 274.92h.9v.9h-.9zM312.05 273.27h.9v.9h-.9zM306.26 266.05h.9v.9h-.9z" fill-opacity="0.4"/>
<path d="M301.18 266.24h.9v.9h-.9zM312.9 276.92h.9v.9h-.9zM307.89 268.03h.9v.9h-.9zM307.07 272.27h.9v.9h-.9zM307.02 272.31h.9v.9h-.9zM304.17 269.88h.9v.9h-.9zM305.74 276.43h.9v.9h-.9zM302.42 277.83h.9v.9h-.9zM306.73 266.4h.9v.9h-.9zM307.13 270.38h.9v.9h-.9zM306.18 272.28h.9v.9h-.9zM304.89 258.85h.9v.9h-.9zM309.65 269.43h.9v.9h-.9zM313.27 272.05h.9v.9h-.9zM299.58 277.47h.9v.9h-.9zM304.48 273.07h.9v.9h-.9zM315.34 276.52h.9v.9h-.9zM302.97 269.02h.9v.9h-.9zM301.05 273.83h.9v.9h-.9zM309.15 263.09h.9v.9h-.9zM308.74 275.52h.9v.9h-.9zM310.07 265.35h.9v.9h-.9zM304.47 262.49h.9v.9h-.9zM302.23 271.59h.9v.9h-.9zM307.2 277.85h.9v.9h-.9zM308.07 267.56h.9v.9h-.9zM301.72 279.38h.9v.9h-.9zM307.67 269.41h.9v.9h-.9zM303.3 262.97h.9v.9h-.9zM309.41 263.44h.9v.9h-.9zM309.23 273.58h.9v.9h-.9zM305.63 259.34h.9v.9h-.9zM308.58 278.5h.9v.9h-.9zM303.97 261.62h.9v.9h-.9zM311.11 270.51h.9v.9h-.9zM304.72 277.36h.9v.9h-.9zM306.02 272.46h.9v.9h-.9zM305.55 264.86h.9v.9h-.9zM307.87 264.18h.9v.9h-.9zM300.43 266.19h.9v.9h-.9z" fill-opacity="0.4"/>
<path d="M311.66 276.55h.9v.9h-.9zM315.16 275.88h.9v.9h-.9zM313.07 271.19h.9v.9h-.9zM305.43 272.55h.9v.9h-.9zM303.51 274.25h.9v.9h-.9zM305.38 271.24h.9v.9h-.9zM303.87 268.77h.9v.9h-.9zM310.71 268.24h.9v.9h-.9zM304.54 271.4h.9v.9h-.9zM310.33 268.43h.9v.9h-.9zM302.69 259.78h.9v.9h-.9zM302.06 276.33h.9v.9h-.9zM306.72 272.63h.9v.9h-.9zM311.05 271.41h.9v.9h-.9zM308.85 266.43h.9v.9h-.9zM301.05 273.58h.9v.9h-.9zM306.69 273.24h.9v.9h-.9zM303.08 268.72h.9v.9h-.9zM314.56 264.32h.9v.9h-.9zM307.42 277.87h.9v.9h-.9zM306.19 270.41h.9v.9h-.9zM299.11 274.5h.9v.9h-.9zM305.41 277.71h.9v.9h-.9zM306.71 267.28h.9v.9h-.9zM308.67 268.12h.9v.9h-.9zM305.13 279.33h.9v.9h-.9zM310.71 270.31h.9v.9h-.9zM310.06 274.81h.9v.9h-.9zM309.21 269.92h.9v.9h-.9zM307.32 272.19h.9v.9h-.9zM309.16 271.85h.9v.9h-.9zM305 269.16h.9v.9h-.9zM308.76 263.46h.9v.9h-.9zM307.02 274.38h.9v.9h-.9zM307.68 267.85h.9v.9h-.9zM306.97 266.61h.9v.9h-.9zM310.71 267.28h.9v.9h-.9zM300.85 262.08h.9v.9h-.9zM308.17 270.94h.9v.9h-.9zM305.29 261.44h.9v.9h-.9z" fill-opacity="0.4"/>
<path d="M306.49 264.39h.9v.9h-.9zM304.61 269.63h.9v.9h-.9zM304.2 271.59h.9v.9h-.9zM304.3 266.74h.9v.9h-.9zM306.2 278.76h.9v.9h-.9zM312.92 275.53h.9v.9h-.9zM304.31 269.67h.9v.9h-.9zM310.45 274.67h.9v.9h-.9zM300.99 269.3h.9v.9h-.9zM304.3 274.32h.9v.9h-.9zM309.42 266.3h.9v.9h-.9zM315.02 267.92h.9v.9h-.9zM316.14 268.59h.9v.9h-.9zM306.74 281.47h.9v.9h-.9zM305.09 266.71h.9v.9h-.9zM312.54 269.4h.9v.9h-.9zM308.83 261.82h.9v.9h-.9zM313.7 275.76h.9v.9h-.9zM308.38 274.04h.9v.9h-.9zM305.19 266.7h.9v.9h-.9zM301.21 271.95h.9v.9h-.9zM311.65 274.97h.9v.9h-.9zM310.47 274.06h.9v.9h-.9zM303.63 261.55h.9v.9h-.9zM309.43 270.68h.9v.9h-.9zM310.72 267.95h.9v.9h-.9zM303.77 272.42h.9v.9h-.9zM304.98 259.48h.9v.9h-.9zM304.79 264.21h.9v.9h-.9zM302.91 266.24h.9v.9h-.9zM313.48 267.08h.9v.9h-.9zM311.3 269.21h.9v.9h-.9zM308.55 265.46h.9v.9h-.9zM306.77 259.26h.9v.9h-.9zM313.71 264.92h.9v.9h-.9zM309.23 266.02h.9v.9h-.9zM308.06 262.37h.9v.9h-.9zM305.66 275.31h.9v.9h-.9zM309.26 257.63h.9v.9h-.9zM310.22 261.54h.9v.9h-.9z" fill-opacity="0.4"/>
<path d="M308.11 272.87h.9v.9h-.9zM304.66 267.69h.9v.9h-.9zM306.14 272.14h.9v.9h-.9zM310.45 278.08h.9v.9h-.9zM303.53 280.66h.9v.9h-.9zM306.08 274.4h.9v.9h-.9zM306.58 270.17h.9v.9h-.9zM303.64 272.05h.9v.9h-.9zM314.58 270.58h.9v.9h-.9zM306.97 269.68h.9v.9h-.9zM309.7 268.4h.9v.9h-.9zM307.03 270.99h.9v.9h-.9zM311.9 275.54h.9v.9h-.9zM303.13 265.76h.9v.9h-.9zM307.13 274.89h.9v.9h-.9zM310.65 268.38h.9v.9h-.9zM314.96 268.65h.9v.9h-.9zM312.28 278.45h.9v.9h-.9zM312.99 270.9h.9v.9h-.9zM309.19 260.22h.9v.9h-.9zM300.43 265.89h.9v.9h-.9zM309.73 276.23h.9v.9h-.9zM306.67 276.08h.9v.9h-.9zM309.2 279.07h.9v.9h-.9zM301.13 264.54h.9v.9h-.9zM303.49 263.21h.9v.9h-.9zM313.18 263.95h.9v.9h-.9zM303.97 267.2h.9v.9h-.9zM310.34 266.81h.9v.9h-.9zM309.79 273.05h.9v.9h-.9zM303.64 261.95h.9v.9h-.9zM313.14 265.22h.9v.9h-.9zM303.07 271.98h.9v.9h-.9zM307.25 263.88h.9v.9h-.9zM311.13 275.3h.9v.9h-.9zM308.09 264.97h.9v.9h-.9zM308.48 272.07h.9v.9h-.9zM303.62 269.81h.9v.9h-.9zM319.26 262.68h.9v.9h-.9zM300.69 273.42h.9v.9h-.9z" fill-opacity="0.4"/>
<path d="M305.46 266.6h.9v.9h-.9zM309.37 268.84h.9v.9h-.9zM310.75 272.83h.9v.9h-.9zM311.37 270.38h.9v.9h-.9zM299.01 278.03h.9v.9h-.9zM300.71 276.09h.9v.9h-.9zM307.99 261.06h.9v.9h-.9zM307.3 275.08h.9v.9h-.9zM303.25 269.9h.9v.9h-.9zM304.3 263.44h.9v.9h-.9zM304.75 277.51h.9v.9h-.9zM309.61 269.45h.9v.9h-.9zM306.75 270.42h.9v.9h-.9zM308.12 270.77h.9v.9h-.9zM300.65 275.31h.9v.9h-.9zM309.67 262.18h.9v.9h-.9zM306.52 269.05h.9v.9h-.9zM304.85 272.93h.9v.9h-.9zM306.03 267.9h.9v.9h-.9zM303.49 267.89h.9v.9h-.9zM303.19 269.88h.9v.9h-.9zM311.99 275.86h.9v.9h-.9zM308.65 261.21h.9v.9h-.9zM310.89 275.4h.9v.9h-.9zM307.11 267.56h.9v.9h-.9zM311.11 262.9h.9v.9h-.9zM307.13 278.08h.9v.9h-.9zM304.74 273.31h.9v.9h-.9zM307.42 260.57h.9v.9h-.9zM304.71 276.63h.9v.9h-.9zM311.47 265.89h.9v.9h-.9zM311.25 265.21h.9v.9h-.9zM307.97 269.47h.9v.9h-.9zM302.38 271.6h.9v.9h-.9zM303.95 264.37h.9v.9h-.9zM303.93 263.55h.9v.9h-.9zM310.38 270.05h.9v.9h-.9zM308 267.95h.9v.9h-.9zM307.29 267.97h.9v.9h-.9zM302.98 260.19h.9v.9h-.9z" fill-opacity="0.4"/>
<path d="M307.33 275.9h.9v.9h-.9zM307.93 279.59h.9v.9h-.9zM301.95 267.95h.9v.9h-.9zM304.74 277.24h.9v.9h-.9zM313.39 266.36h.9v.9h-.9zM309.78 268.09h.9v.9h-.9zM303.32 268.9h.9v.9h-.9zM303.16 279.2h.9v.9h-.9zM309.26 276.96h.9v.9h-.9zM310.05 270.15h.9v.9h-.9zM298.14 270.22h.9v.9h-.9zM310.83 280.2h.9v.9h-.9zM303.23 274.48h.9v.9h-.9zM308.3 268.51h.9v.9h-.9zM305.99 272.87h.9v.9h-.9zM309.21 273.67h.9v.9h-.9zM305.52 261.39h.9v.9h-.9zM311.98 277.65h.9v.9h-.9zM304.94 269.38h.9v.9h-.9zM310.07 258.66h.9v.9h-.9zM308.07 265.19h.9v.9h-.9zM314.69 269.63h.9v.9h-.9zM307.84 266.93h.9v.9h-.9zM307.72 258.41h.9v.9h-.9zM302.26 260.4h.9v.9h-.9zM310.42 269h.9v.9h-.9zM304.81 278.63h.9v.9h-.9zM304.09 257.97h.9v.9h-.9zM304.26 267.42h.9v.9h-.9zM307 277.68h.9v.9h-.9zM312.02 279.23h.9v.9h-.9zM309.22 266.45h.9v.9h-.9zM305.2 260.36h.9v.9h-.9zM311.81 277.37h.9v.9h-.9zM307.38 264.02h.9v.9h-.9zM309.57 272.61h.9v.9h-.9zM307.63 262.33h.9v.9h-.9zM307.94 266.04h.9v.9h-.9zM309.81 273.29h.9v.9h-.9zM308.69 266.9h.9v.9h-.9z" fill-opacity="0.4"/>
<path d="M312.74 274.39h.9v.9h-.9zM311.79 274.79h.9v.9h-.9zM309.53 272h.9v.9h-.9zM303.06 258.23h.9v.9h-.9zM303.56 273.39h.9v.9h-.9zM310.45 270.7h.9v.9h-.9zM307.38 281h.9v.9h-.9zM305.57 258.45h.9v.9h-.9zM301.27 267.55h.9v.9h-.9zM309.66 274.15h.9v.9h-.9zM306.23 274.65h.9v.9h-.9zM306.87 265.05h.9v.9h-.9zM305.64 274.26h.9v.9h-.9zM310.61 262.56h.9v.9h-.9zM303.36 270.32h.9v.9h-.9zM314.98 262.27h.9v.9h-.9zM302.38 272.17h.9v.9h-.9zM308.95 265.75h.9v.9h-.9zM306.95 272.58h.9v.9h-.9zM300.55 269.41h.9v.9h-.9zM309.29 275.31h.9v.9h-.9zM311.4 269.11h.9v.9h-.9zM301.68 277.92h.9v.9h-.9zM309.92 265.59h.9v.9h-.9zM310.91 276.03h.9v.9h-.9zM305.31 264.84h.9v.9h-.9zM303.93 269.05h.9v.9h-.9zM303.02 271.98h.9v.9h-.9zM314.09 262.14h.9v.9h-.9zM310.93 266.24h.9v.9h-.9zM309.08 268.76h.9v.9h-.9zM311.83 265.13h.9v.9h-.9zM309.78 264.73h.9v.9h-.9zM307.9 269.47h.9v.9h-.9zM311.11 259.72h.9v.9h-.9zM302.03 278.23h.9v.9h-.9zM308.49 280.13h.9v.9h-.9zM303.22 270.87h.9v.9h-.9zM309.3 280.56h.9v.9h-.9zM306.85 266.76h.9v.9h-.9z" fill-opacity="0.4"/>
<path d="M309.71 268.92h.9v.9h-.9zM304.26 274.3h.9v.9h-.9zM299.97 263.23h.9v.9h-.9zM312.12 266.44h.9v.9h-.9zM305.85 271.87h.9v.9h-.9zM311.22 272.84h.9v.9h-.9zM303.47 266.02h.9v.9h-.9zM310.95 268.81h.9v.9h-.9zM304.71 275h.9v.9h-.9zM303.05 265.15h.9v.9h-.9zM304.47 271.77h.9v.9h-.9zM305.28 276.5h.9v.9h-.9zM304.66 267.84h.9v.9h-.9zM309.16 270.82h.9v.9h-.9zM303.29 278.91h.9v.9h-.9zM309.19 266.49h.9v.9h-.9zM307.83 262.66h.9v.9h-.9zM302.49 267.68h.9v.9h-.9zM308.41 270.19h.9v.9h-.9zM304.17 260.92h.9v.9h-.9zM300.83 279.5h.9v.9h-.9zM308.42 264.56h.9v.9h-.9zM311.45 272.92h.9v.9h-.9zM305.52 265.73h.9v.9h-.9zM311.28 271.59h.9v.9h-.9zM313.12 271.81h.9v.9h-.9zM304.88 265.82h.9v.9h-.9zM304.44 271.13h.9v.9h-.9zM307.99 273.33h.9v.9h-.9zM308.72 263.01h.9v.9h-.9zM306.29 263.68h.9v.9h-.9zM308.84 261.35h.9v.9h-.9zM304.9 264.2h.9v.9h-.9zM304.76 267.95h.9v.9h-.9zM312.65 267.96h.9v.9h-.9zM301.74 267.67h.9v.9h-.9zM309.82 273h.9v.9h-.9zM311.16 270.12h.9v.9h-.9zM311.55 261.2h.9v.9h-.9zM306.42 264.15h.9v.9h-.9z" fill-opacity="0.4"/>
<path d="M307.71 279.63h.9v.9h-.9zM305.22 279.48h.9v.9h-.9zM303.27 278.44h.9v.9h-.9zM300.79 264.26h.9v.9h-.9zM310.74 268.98h.9v.9h-.9zM307.59 269.47h.9v.9h-.9zM307.72 268.44h.9v.9h-.9zM303.43 267.74h.9v.9h-.9zM307.46 263.94h.9v.9h-.9zM308.78 280.54h.9v.9h-.9zM300.99 266.16h.9v.9h-.9zM306.01 269.67h.9v.9h-.9zM307.4 265.03h.9v.9h-.9zM306.93 269.59h.9v.9h-.9zM306.73 279.16h.9v.9h-.9zM307.53 260.34h.9v.9h-.9zM301.27 273.24h.9v.9h-.9zM305.79 265.7h.9v.9h-.9zM302.05 267.63h.9v.9h-.9zM306.71 265.27h.9v.9h-.9zM305.75 275.08h.9v.9h-.9zM309.95 272.96h.9v.9h-.9zM306.41 261.09h.9v.9h-.9zM309.92 278.88h.9v.9h-.9zM311.76 276.81h.9v.9h-.9zM308.08 271.89h.9v.9h-.9zM307 277.37h.9v.9h-.9zM309.92 267.55h.9v.9h-.9zM307.05 259.52h.9v.9h-.9zM304.35 267.68h.9v.9h-.9zM316.09 264.48h.9v.9h-.9zM310.44 270.03h.9v.9h-.9zM305.96 273.45h.9v.9h-.9zM299.69 275.45h.9v.9h-.9zM314.19 271.4h.9v.9h-.9zM306.82 270.55h.9v.9h-.9zM309.5 266.5h.9v.9h-.9zM307.5 272.7h.9v.9h-.9zM305.76 271.98h.9v.9h-.9zM308.28 274.01h.9v.9h-.9z" fill-opacity="0.4"/>
<path d="M303.41 266.21h.9v.9h-.9zM305.48 277.02h.9v.9h-.9zM307.97 259.24h.9v.9h-.9zM302.34 281.65h.9v.9h-.9zM308.3 261.48h.9v.9h-.9zM303.69 270.44h.9v.9h-.9zM312.32 279.65h.9v.9h-.9zM305.7 267.69h.9v.9h-.9zM314.13 263.43h.9v.9h-.9zM312.82 271.67h.9v.9h-.9zM307.4 277.58h.9v.9h-.9zM308.83 264.34h.9v.9h-.9zM301.43 269.65h.9v.9h-.9zM308.94 278.08h.9v.9h-.9zM309.34 279.02h.9v.9h-.9zM309.99 270.88h.9v.9h-.9zM308.64 272.04h.9v.9h-.9zM304.73 268.84h.9v.9h-.9zM307.52 266.74h.9v.9h-.9zM301.65 260.53h.9v.9h-.9zM308.91 272.8h.9v.9h-.9zM307.45 262.26h.9v.9h-.9zM310.19 267.11h.9v.9h-.9zM299.39 279.32h.9v.9h-.9zM309.02 266.8h.9v.9h-.9zM298.38 265.16h.9v.9h-.9zM312.52 278.05h.9v.9h-.9zM308.01 258.86h.9v.9h-.9zM305.64 267.78h.9v.9h-.9zM308.76 268.77h.9v.9h-.9zM308.32 259.36h.9v.9h-.9zM304.68 278.55h.9v.9h-.9zM301.69 275.32h.9v.9h-.9zM315.57 273.62h.9v.9h-.9zM301.93 277.33h.9v.9h-.9zM300.21 271.66h.9v.9h-.9zM305.54 277.29h.9v.9h-.9zM311.4 270.74h.9v.9h-.9zM313.66 275.69h.9v.9h-.9zM305.29 263.41h.9v.9h-.9z" fill-opacity="0.4"/>
<path d="M316.13 267.02h.9v.9h-.9zM308.57 268.83h.9v.9h-.9zM305.31 259.5h.9v.9h-.9zM306.52 268.83h.9v.9h-.9zM310.67 266.34h.9v.9h-.9zM301.28 262.84h.9v.9h-.9zM306.9 271.11h.9v.9h-.9zM309.73 267.16h.9v.9h-.9zM309.04 270.45h.9v.9h-.9zM313.28 269.2h.9v.9h-.9zM307.58 273.09h.9v.9h-.9zM311.55 263.79h.9v.9h-.9zM305.3 267.83h.9v.9h-.9zM381.5 427.58h.9v.9h-.9zM382.66 433.22h.9v.9h-.9zM386.68 425.25h.9v.9h-.9zM392.58 427.59h.9v.9h-.9zM382.61 431.78h.9v.9h-.9zM376.66 431.26h.9v.9h-.9zM382.78 426.41h.9v.9h-.9zM376.67 425.23h.9v.9h-.9zM395.35 429.19h.9v.9h-.9zM392.66 425.86h.9v.9h-.9zM391.15 425.65h.9v.9h-.9zM384.06 428.72h.9v.9h-.9zM373.15 429.56h.9v.9h-.9zM380.98 426.5h.9v.9h-.9zM371.24 425.36h.9v.9h-.9zM397.7 429.15h.9v.9h-.9zM376 430.56h.9v.9h-.9zM369.77 425.73h.9v.9h-.9zM385 432.89h.9v.9h-.9zM384.3 429.16h.9v.9h-.9zM402.38 424.73h.9v.9h-.9zM379.63 425.25h.9v.9h-.9zM365.35 428.13h.9v.9h-.9zM372.83 429.46h.9v.9h-.9zM367.8 428.08h.9v.9h-.9zM390.79 423.06h.9v.9h-.9zM376.78 427.99h.9v.9h-.9z" fill-opacity="0.4"/>
<path d="M374.14 428.45h.9v.9h-.9zM374.03 426.07h.9v.9h-.9zM396.35 433.98h.9v.9h-.9zM390.55 426.49h.9v.9h-.9zM398.33 430.06h.9v.9h-.9zM370.33 430.33h.9v.9h-.9zM373.32 430.25h.9v.9h-.9zM392.06 431.77h.9v.9h-.9zM367.36 428.42h.9v.9h-.9zM380.59 425.56h.9v.9h-.9zM385.74 430.56h.9v.9h-.9zM363.27 427.31h.9v.9h-.9zM366.72 425.42h.9v.9h-.9zM367.21 432.34h.9v.9h-.9zM372.25 427.72h.9v.9h-.9zM392.92 431.43h.9v.9h-.9zM398.14 423.32h.9v.9h-.9zM390 424.16h.9v.9h-.9zM372.63 427.67h.9v.9h-.9zM373.41 433.89h.9v.9h-.9zM378.46 431.82h.9v.9h-.9zM378.29 428.59h.9v.9h-.9zM386.94 429.91h.9v.9h-.9zM386.81 424.21h.9v.9h-.9zM386.9 429.59h.9v.9h-.9zM388.05 428.61h.9v.9h-.9zM385.67 425.34h.9v.9h-.9zM394.72 425.57h.9v.9h-.9zM398.08 431.4h.9v.9h-.9zM379.76 427.98h.9v.9h-.9zM390.27 427.95h.9v.9h-.9zM365.68 429.48h.9v.9h-.9zM365.28 427.56h.9v.9h-.9zM402.99 430.87h.9v.9h-.9zM374.92 428.57h.9v.9h-.9zM372.45 428.72h.9v.9h-.9zM362.43 430.54h.9v.9h-.9zM380.72 427.15h.9v.9h-.9zM372.85 435.65h.9v.9h-.9zM375.01 427.5h.9v.9h-.9z" fill-opacity="0.4"/>
<path d="M373.27 427.45h.9v.9h-.9zM396.91 430.53h.9v.9h-.9zM385.79 429.71h.9v.9h-.9zM366.34 422.42h.9v.9h-.9zM399.43 430.63h.9v.9h-.9zM383.26 429.48h.9v.9h-.9zM383.06 428.81h.9v.9h-.9zM377.28 422.9h.9v.9h-.9zM387.66 428.88h.9v.9h-.9zM392.77 429.56h.9v.9h-.9zM376.98 430.34h.9v.9h-.9zM382.9 427.59h.9v.9h-.9zM375.86 427.64h.9v.9h-.9zM376.81 427.58h.9v.9h-.9zM392.83 436.41h.9v.9h-.9zM379.13 431.69h.9v.9h-.9zM374.63 428.34h.9v.9h-.9zM371.28 425.18h.9v.9h-.9zM369.91 427.41h.9v.9h-.9zM382.47 427.87h.9v.9h-.9zM365.55 427.78h.9v.9h-.9zM399.46 426.44h.9v.9h-.9zM381.36 431.4h.9v.9h-.9zM370.48 427.25h.9v.9h-.9zM373.96 429.17h.9v.9h-.9zM381.8 429.14h.9v.9h-.9zM386.36 427.96h.9v.9h-.9zM382.44 425.16h.9v.9h-.9zM376.51 432.7h.9v.9h-.9zM383.52 427.03h.9v.9h-.9zM382.28 431.5h.9v.9h-.9zM372.27 427.6h.9v.9h-.9zM379.45 427.23h.9v.9h-.9zM381.9 428.98h.9v.9h-.9zM365.98 427.11h.9v.9h-.9zM365.06 429.51h.9v.9h-.9zM383.82 430.47h.9v.9h-.9zM369.61 427.35h.9v.9h-.9zM360.35 429.66h.9v.9h-.9zM394.03 429.92h.9v.9h-.9z" fill-opacity="0.4"/>
<path d="M388.39 429.35h.9v.9h-.9zM385.18 431.21h.9v.9h-.9zM396.33 434.05h.9v.9h-.9zM377.23 430.94h.9v.9h-.9zM391.37 429.87h.9v.9h-.9zM383.89 425.43h.9v.9h-.9zM394.15 426.43h.9v.9h-.9zM372.4 426.51h.9v.9h-.9zM387.53 426.21h.9v.9h-.9zM386.26 430.23h.9v.9h-.9zM381.81 427.86h.9v.9h-.9zM387.98 432.19h.9v.9h-.9zM374.78 426h.9v.9h-.9zM373.04 426.45h.9v.9h-.9zM377.58 428.34h.9v.9h-.9zM370.39 427.63h.9v.9h-.9zM367.88 429.35h.9v.9h-.9zM391.15 424.01h.9v.9h-.9zM383.33 432.72h.9v.9h-.9zM377.03 431.15h.9v.9h-.9zM384.43 426.33h.9v.9h-.9zM392.94 427.15h.9v.9h-.9zM384.97 427.7h.9v.9h-.9zM377.85 429.15h.9v.9h-.9zM397.04 424.34h.9v.9h-.9zM366.63 429.02h.9v.9h-.9zM392.7 428.26h.9v.9h-.9zM378.21 430.13h.9v.9h-.9zM400.2 426.38h.9v.9h-.9zM360.63 428.01h.9v.9h-.9zM390.09 425.31h.9v.9h-.9zM394.6 431.21h.9v.9h-.9zM390.38 426.54h.9v.9h-.9zM364.42 430.47h.9v.9h-.9zM383.8 430.55h.9v.9h-.9zM363.74 421.01h.9v.9h-.9zM394.52 431.37h.9v.9h-.9zM377.09 428.73h.9v.9h-.9zM386.19 430.71h.9v.9h-.9zM378.18 427.4h.9v.9h-.9z" fill-opacity="0.4"/>
<path d="M368.37 431.43h.9v.9h-.9zM381.78 419.83h.9v.9h-.9zM384.82 427.25h.9v.9h-.9zM364.66 427.41h.9v.9h-.9zM364.6 427.57h.9v.9h-.9zM373.72 430.09h.9v.9h-.9zM367.92 423.99h.9v.9h-.9zM372.99 425.15h.9v.9h-.9zM389.78 428.21h.9v.9h-.9zM359.68 426.46h.9v.9h-.9zM380.2 428.64h.9v.9h-.9zM384.23 431.33h.9v.9h-.9zM394.22 428.42h.9v.9h-.9zM364.31 427.77h.9v.9h-.9zM388.64 426.34h.9v.9h-.9zM396.24 426.24h.9v.9h-.9zM366.49 430.92h.9v.9h-.9zM379.28 429.59h.9v.9h-.9zM376.74 428.83h.9v.9h-.9zM373.26 433.7h.9v.9h-.9zM388.71 428.42h.9v.9h-.9zM386.43 430.93h.9v.9h-.9zM373.97 429.21h.9v.9h-.9zM383.1 427.27h.9v.9h-.9zM370.89 428.22h.9v.9h-.9zM376.79 427.68h.9v.9h-.9zM388.7 428.94h.9v.9h-.9zM401.92 431h.9v.9h-.9zM376.1 426.98h.9v.9h-.9zM386.78 427.77h.9v.9h-.9zM360.38 429.06h.9v.9h-.9zM376.84 428.16h.9v.9h-.9zM388.18 429.25h.9v.9h-.9zM379.33 429.55h.9v.9h-.9zM375.05 427.41h.9v.9h-.9zM402.35 424.95h.9v.9h-.9zM384.88 424.17h.9v.9h-.9zM384.76 423.73h.9v.9h-.9zM365.99 431.71h.9v.9h-.9zM399.74 429.08h.9v.9h-.9z" fill-opacity="0.4"/>
<path d="M383.58 425.86h.9v.9h-.9zM376.12 425.3h.9v.9h-.9zM379.37 428.52h.9v.9h-.9zM382.07 430.81h.9v.9h-.9zM372.51 422.99h.9v.9h-.9zM365.98 425.46h.9v.9h-.9zM375.94 427.61h.9v.9h-.9zM380 432.31h.9v.9h-.9zM380.87 425.94h.9v.9h-.9zM376.72 426.46h.9v.9h-.9zM377.54 430.26h.9v.9h-.9zM366.44 430.58h.9v.9h-.9zM402.79 432.71h.9v.9h-.9zM400.79 428.98h.9v.9h-.9zM363.71 433.97h.9v.9h-.9zM379.9 429.35h.9v.9h-.9zM376.1 426.3h.9v.9h-.9zM388.24 425.11h.9v.9h-.9zM363.41 430.18h.9v.9h-.9zM375.88 426.56h.9v.9h-.9zM386.73 432.45h.9v.9h-.9zM377.01 428.4h.9v.9h-.9zM387.53 431.19h.9v.9h-.9zM393.42 430.51h.9v.9h-.9zM372.27 430.13h.9v.9h-.9zM380.64 424.33h.9v.9h-.9zM395.93 430.24h.9v.9h-.9zM397.6 428.58h.9v.9h-.9zM389.6 428.56h.9v.9h-.9zM382.57 431.11h.9v.9h-.9zM381.27 430.33h.9v.9h-.9zM380.11 431.93h.9v.9h-.9zM388.67 424.45h.9v.9h-.9zM401.21 429.89h.9v.9h-.9zM374.19 427.13h.9v.9h-.9zM386.89 430.3h.9v.9h-.9zM373.11 433.29h.9v.9h-.9zM394.68 424.52h.9v.9h-.9zM376.37 428.91h.9v.9h-.9zM381.2 430.23h.9v.9h-.9z" fill-opacity="0.4"/>
<path d="M385.57 429.72h.9v.9h-.9zM378.86 429.54h.9v.9h-.9zM373.65 433.85h.9v.9h-.9zM381.32 431.97h.9v.9h-.9zM381.86 428.36h.9v.9h-.9zM378.31 425.41h.9v.9h-.9zM382.18 427.55h.9v.9h-.9zM396.47 427.9h.9v.9h-.9zM374.84 427.35h.9v.9h-.9zM399.73 429.56h.9v.9h-.9zM378.74 427.09h.9v.9h-.9zM396.52 429.5h.9v.9h-.9zM376.46 431.07h.9v.9h-.9zM391.45 426.18h.9v.9h-.9zM394.84 431.57h.9v.9h-.9zM377.57 425.31h.9v.9h-.9zM394.16 427.87h.9v.9h-.9zM378.06 428.01h.9v.9h-.9zM377.22 430.91h.9v.9h-.9zM367.03 430.13h.9v.9h-.9zM394.95 431.48h.9v.9h-.9zM389.53 429.44h.9v.9h-.9zM378.17 428.45h.9v.9h-.9zM369.74 433.08h.9v.9h-.9zM379.15 426.15h.9v.9h-.9zM390.92 432.65h.9v.9h-.9zM384.05 427.94h.9v.9h-.9zM366.83 430.42h.9v.9h-.9zM377.61 427.05h.9v.9h-.9zM388.06 425.42h.9v.9h-.9zM389.72 422.49h.9v.9h-.9zM372.99 425.07h.9v.9h-.9zM377.61 430.81h.9v.9h-.9zM364.56 432.26h.9v.9h-.9zM372.23 427.51h.9v.9h-.9zM392.89 426.88h.9v.9h-.9zM398.58 428.23h.9v.9h-.9zM379.46 426.28h.9v.9h-.9zM394.82 428.59h.9v.9h-.9zM374.69 426.31h.9v.9h-.9z" fill-opacity="0.4"/>
<path d="M372.84 428.51h.9v.9h-.9zM371.81 430.8h.9v.9h-.9zM380.22 427.17h.9v.9h-.9zM386.34 432.42h.9v.9h-.9zM393.96 429.11h.9v.9h-.9zM390.81 424.8h.9v.9h-.9zM371.48 431.35h.9v.9h-.9zM379.55 428.91h.9v.9h-.9zM388.4 429.7h.9v.9h-.9zM386.22 427.48h.9v.9h-.9zM377.02 432.11h.9v.9h-.9zM374.66 425.06h.9v.9h-.9zM376.4 431.05h.9v.9h-.9zM402.71 429.14h.9v.9h-.9zM373.11 430.31h.9v.9h-.9zM384.42 431.79h.9v.9h-.9zM387.08 430.69h.9v.9h-.9zM386.96 429.83h.9v.9h-.9zM369.57 428.34h.9v.9h-.9zM400.34 432.17h.9v.9h-.9zM392.56 429.77h.9v.9h-.9zM379.4 429.65h.9v.9h-.9zM376.72 431.54h.9v.9h-.9zM376.94 426.81h.9v.9h-.9zM361.05 432.74h.9v.9h-.9zM371.56 426.55h.9v.9h-.9zM385.72 433.36h.9v.9h-.9zM388.94 427.91h.9v.9h-.9zM387.71 426.64h.9v.9h-.9zM377.72 428.83h.9v.9h-.9zM380.98 430.75h.9v.9h-.9zM387.39 433.58h.9v.9h-.9zM390.99 428.03h.9v.9h-.9zM383.96 426.59h.9v.9h-.9zM373.37 427.88h.9v.9h-.9zM393.21 426.99h.9v.9h-.9zM361.81 426.17h.9v.9h-.9zM366.21 428.29h.9v.9h-.9zM377.17 425.78h.9v.9h-.9zM371.21 427.7h.9v.9h-.9z" fill-opacity="0.4"/>
<path d="M385.66 430.32h.9v.9h-.9zM396.98 428.1h.9v.9h-.9zM388.55 428.95h.9v.9h-.9zM367.59 427.14h.9v.9h-.9zM400.96 430.87h.9v.9h-.9zM401.13 428.28h.9v.9h-.9zM392.27 427.98h.9v.9h-.9zM367.47 425.77h.9v.9h-.9zM386.28 424.65h.9v.9h-.9zM385.4 426.54h.9v.9h-.9zM385.27 425.26h.9v.9h-.9zM391.28 428.17h.9v.9h-.9zM362.42 425.09h.9v.9h-.9zM381.76 424.58h.9v.9h-.9zM384.98 430h.9v.9h-.9zM373.02 432.32h.9v.9h-.9zM398.52 429.56h.9v.9h-.9zM386.53 429.96h.9v.9h-.9zM377.83 432.1h.9v.9h-.9zM374.53 422.34h.9v.9h-.9zM381.26 429.88h.9v.9h-.9zM391 425.94h.9v.9h-.9zM397.86 426.67h.9v.9h-.9zM388.66 430.62h.9v.9h-.9zM383.18 431.65h.9v.9h-.9zM375.05 433.99h.9v.9h-.9zM386.97 427.69h.9v.9h-.9zM361.42 432.38h.9v.9h-.9zM399.75 427.29h.9v.9h-.9zM369.07 431.63h.9v.9h-.9zM381.75 426.3h.9v.9h-.9zM375.22 428.93h.9v.9h-.9zM392.93 432.75h.9v.9h-.9zM373.54 432.67h.9v.9h-.9zM362.76 430.58h.9v.9h-.9zM379.37 429.87h.9v.9h-.9zM375.78 426.94h.9v.9h-.9zM384.48 431.64h.9v.9h-.9zM376.18 426.02h.9v.9h-.9zM364.79 430.08h.9v.9h-.9z" fill-opacity="0.4"/>
<path d="M387.77 430.4h.9v.9h-.9zM373.64 427.65h.9v.9h-.9zM402.38 427.77h.9v.9h-.9zM382.59 431.3h.9v.9h-.9zM401.26 429.71h.9v.9h-.9zM385.21 433.7h.9v.9h-.9zM376.19 424.17h.9v.9h-.9zM371.98 427.96h.9v.9h-.9zM396.91 429.56h.9v.9h-.9zM395.62 429.02h.9v.9h-.9zM381.58 427.28h.9v.9h-.9zM366.16 430.05h.9v.9h-.9zM385.45 430.22h.9v.9h-.9zM374.62 427.68h.9v.9h-.9zM385.64 430.31h.9v.9h-.9zM393.03 431.02h.9v.9h-.9zM377.9 429.11h.9v.9h-.9zM380.4 432.66h.9v.9h-.9zM377.99 431.18h.9v.9h-.9zM387.05 428.28h.9v.9h-.9zM390.18 430.98h.9v.9h-.9zM376.31 430.93h.9v.9h-.9zM377.33 429.16h.9v.9h-.9zM363.47 432.53h.9v.9h-.9zM376.51 429.14h.9v.9h-.9zM380.57 430.69h.9v.9h-.9zM374.08 430.66h.9v.9h-.9zM371.05 424.97h.9v.9h-.9zM387.29 429.17h.9v.9h-.9zM391.73 423.79h.9v.9h-.9zM382.42 427.11h.9v.9h-.9zM378.81 427.75h.9v.9h-.9zM376.55 427.05h.9v.9h-.9zM393.42 424.36h.9v.9h-.9zM360.87 429.64h.9v.9h-.9zM370.15 425.77h.9v.9h-.9zM368.75 431.96h.9v.9h-.9zM389.32 431.06h.9v.9h-.9zM385.28 429.35h.9v.9h-.9zM374.04 426.28h.9v.9h-.9z" fill-opacity="0.4"/>
<path d="M388.59 435.1h.9v.9h-.9zM376.63 432h.9v.9h-.9zM372.58 428.86h.9v.9h-.9zM401.6 428.57h.9v.9h-.9zM388.76 427.32h.9v.9h-.9zM403.8 425.6h.9v.9h-.9zM387.86 428.14h.9v.9h-.9zM383.46 429.68h.9v.9h-.9zM396.96 431h.9v.9h-.9zM393.82 429.7h.9v.9h-.9zM368.17 432.19h.9v.9h-.9zM399.67 429.99h.9v.9h-.9zM390.68 428.16h.9v.9h-.9zM363.67 431.28h.9v.9h-.9zM372.3 433.66h.9v.9h-.9zM389.42 428.71h.9v.9h-.9zM373.65 429.03h.9v.9h-.9zM368.86 427.79h.9v.9h-.9zM400.39 428h.9v.9h-.9zM403.32 428.51h.9v.9h-.9zM386.11 426.39h.9v.9h-.9zM377.43 427.61h.9v.9h-.9zM364.26 433.72h.9v.9h-.9zM388.2 428.54h.9v.9h-.9zM367.82 428.84h.9v.9h-.9zM368.32 426.27h.9v.9h-.9zM378.78 434.3h.9v.9h-.9zM360 430.19h.9v.9h-.9zM374.44 421.3h.9v.9h-.9zM363.96 428.41h.9v.9h-.9zM381.79 426.82h.9v.9h-.9zM402.54 430.13h.9v.9h-.9zM373.4 424.53h.9v.9h-.9zM383.15 427.03h.9v.9h-.9zM393.42 426.07h.9v.9h-.9zM395.52 427.57h.9v.9h-.9zM383.39 428.06h.9v.9h-.9zM388.58 431.71h.9v.9h-.9zM374.44 426.43h.9v.9h-.9zM403.98 431.21h.9v.9h-.9z" fill-opacity="0.4"/>
<path d="M404.14 431.21h.9v.9h-.9zM382.64 432.95h.9v.9h-.9zM372.9 427.66h.9v.9h-.9zM376.16 430.52h.9v.9h-.9zM370.68 428.3h.9v.9h-.9zM370.76 428.15h.9v.9h-.9zM394.59 431.61h.9v.9h-.9zM378.32 435.31h.9v.9h-.9zM372.48 429.93h.9v.9h-.9zM375.2 423.06h.9v.9h-.9zM366.61 431.95h.9v.9h-.9zM360.92 436.29h.9v.9h-.9zM379.49 429.45h.9v.9h-.9zM396.18 428.83h.9v.9h-.9zM373.27 427.19h.9v.9h-.9zM369.56 430.17h.9v.9h-.9zM375.26 430.07h.9v.9h-.9zM362.75 427.64h.9v.9h-.9zM379.71 431.81h.9v.9h-.9zM384.31 432.71h.9v.9h-.9zM366.85 430.73h.9v.9h-.9zM368.08 430.51h.9v.9h-.9zM370.54 429.84h.9v.9h-.9zM386.51 426.9h.9v.9h-.9zM383.91 426.01h.9v.9h-.9zM392.69 431.11h.9v.9h-.9zM378.96 430.53h.9v.9h-.9zM375.43 426.74h.9v.9h-.9zM391.88 431.34h.9v.9h-.9zM388.17 432.97h.9v.9h-.9zM373.26 427.68h.9v.9h-.9zM386.03 421.78h.9v.9h-.9zM378.32 428.91h.9v.9h-.9zM369.22 429.34h.9v.9h-.9zM393.75 427.12h.9v.9h-.9zM387.77 428.36h.9v.9h-.9zM378.98 429.06h.9v.9h-.9zM399.23 430.1h.9v.9h-.9zM389.22 429.14h.9v.9h-.9zM380.65 429h.9v.9h-.9z" fill-opacity="0.4"/>
<path d="M374.73 424.77h.9v.9h-.9zM399.02 433.49h.9v.9h-.9zM399.99 424.01h.9v.9h-.9zM387.58 425.71h.9v.9h-.9zM378.61 427.43h.9v.9h-.9zM373.31 426.77h.9v.9h-.9zM374.99 430.76h.9v.9h-.9zM400.46 431.15h.9v.9h-.9zM380.7 428.38h.9v.9h-.9zM377.86 428.7h.9v.9h-.9zM373.29 428.29h.9v.9h-.9zM391.17 428.17h.9v.9h-.9zM370.91 428.44h.9v.9h-.9zM381.88 428.55h.9v.9h-.9zM377.64 430.58h.9v.9h-.9zM380.27 426.15h.9v.9h-.9zM387.74 426.91h.9v.9h-.9zM390.24 430.87h.9v.9h-.9zM386.71 429.55h.9v.9h-.9zM364.38 428.24h.9v.9h-.9zM382.33 430.41h.9v.9h-.9zM367.1 428.36h.9v.9h-.9zM362.04 429.21h.9v.9h-.9zM381.77 429.07h.9v.9h-.9zM400.99 430.65h.9v.9h-.9zM378.43 427.26h.9v.9h-.9zM375.36 430.78h.9v.9h-.9zM391.96 427.45h.9v.9h-.9zM379.37 427.63h.9v.9h-.9zM389.18 429.25h.9v.9h-.9zM371.99 426.47h.9v.9h-.9zM396.69 425.14h.9v.9h-.9zM391.24 430.2h.9v.9h-.9zM391.06 431.69h.9v.9h-.9zM375.05 428.71h.9v.9h-.9zM392.82 430.2h.9v.9h-.9zM371.52 426.8h.9v.9h-.9zM363.1 429.43h.9v.9h-.9zM374.26 424.74h.9v.9h-.9zM373.94 429.59h.9v.9h-.9z" fill-opacity="0.4"/>
<path d="M383.01 428.18h.9v.9h-.9zM382.78 430.44h.9v.9h-.9zM366.09 426.65h.9v.9h-.9zM392.72 430.65h.9v.9h-.9zM363.57 426.89h.9v.9h-.9zM398.56 430.7h.9v.9h-.9zM378.99 431.39h.9v.9h-.9zM397.6 432.4h.9v.9h-.9zM363.69 425.41h.9v.9h-.9zM374.53 428.63h.9v.9h-.9zM376.43 429.39h.9v.9h-.9zM398.98 431.59h.9v.9h-.9zM392.96 428.75h.9v.9h-.9zM401.08 429.94h.9v.9h-.9zM383.77 428.71h.9v.9h-.9zM380.49 431.08h.9v.9h-.9zM366.48 431.39h.9v.9h-.9zM383.75 426.32h.9v.9h-.9zM392.65 428.79h.9v.9h-.9zM369.14 422.23h.9v.9h-.9zM368.55 429.75h.9v.9h-.9zM368.04 431.26h.9v.9h-.9zM383.57 428.56h.9v.9h-.9zM391.39 428.84h.9v.9h-.9zM393.57 432.42h.9v.9h-.9zM391.29 426.28h.9v.9h-.9zM388.99 428.08h.9v.9h-.9zM384.64 431.26h.9v.9h-.9zM372.63 429.29h.9v.9h-.9zM398.88 426.61h.9v.9h-.9zM378.42 430.63h.9v.9h-.9zM377.93 431.4h.9v.9h-.9zM368.33 424.9h.9v.9h-.9zM385.44 428.41h.9v.9h-.9zM384.65 431.24h.9v.9h-.9zM393.75 427.86h.9v.9h-.9zM376.01 423.77h.9v.9h-.9zM368.75 429.39h.9v.9h-.9zM383.47 424.94h.9v.9h-.9zM390.47 428.65h.9v.9h-.9z" fill-opacity="0.4"/>
<path d="M394.37 427.85h.9v.9h-.9zM392.71 425.91h.9v.9h-.9zM389.42 429.81h.9v.9h-.9zM389.05 433.07h.9v.9h-.9zM390.42 430.07h.9v.9h-.9zM361.26 429.72h.9v.9h-.9zM376.21 426.26h.9v.9h-.9zM368.25 428.4h.9v.9h-.9zM387.96 427.1h.9v.9h-.9zM384.5 430.58h.9v.9h-.9zM380.49 433.67h.9v.9h-.9zM376.92 426.88h.9v.9h-.9zM389.16 428.28h.9v.9h-.9zM384.62 428.43h.9v.9h-.9zM391.54 428.73h.9v.9h-.9zM383.58 428.56h.9v.9h-.9zM369.82 423.07h.9v.9h-.9zM387.49 425.57h.9v.9h-.9zM385.68 430.4h.9v.9h-.9zM404.05 426.85h.9v.9h-.9zM382.61 431.19h.9v.9h-.9zM372.5 427.25h.9v.9h-.9zM386.31 434.05h.9v.9h-.9zM394.1 431.21h.9v.9h-.9zM368.86 430.45h.9v.9h-.9zM394.86 425.52h.9v.9h-.9zM380.9 428.26h.9v.9h-.9zM388.74 424.3h.9v.9h-.9zM389.49 428.76h.9v.9h-.9zM377.47 423.34h.9v.9h-.9zM388.81 429.85h.9v.9h-.9zM390.04 424.41h.9v.9h-.9zM383.27 432.2h.9v.9h-.9zM361.59 430.42h.9v.9h-.9zM371.75 430.16h.9v.9h-.9zM381.99 424.6h.9v.9h-.9zM367.77 432.01h.9v.9h-.9zM379.41 431.92h.9v.9h-.9zM384.93 431.04h.9v.9h-.9zM375.86 429.32h.9v.9h-.9z" fill-opacity="0.4"/>
<path d="M376.15 431.08h.9v.9h-.9zM373.64 431.59h.9v.9h-.9zM400.19 425.65h.9v.9h-.9zM378.65 430.14h.9v.9h-.9zM402.7 431.7h.9v.9h-.9zM381.82 424.33h.9v.9h-.9zM391.15 427.25h.9v.9h-.9zM383.14 429.79h.9v.9h-.9zM363.31 431.48h.9v.9h-.9zM392.09 430.23h.9v.9h-.9zM388.12 429.67h.9v.9h-.9zM363.45 427.46h.9v.9h-.9zM390.83 427.91h.9v.9h-.9zM381.04 429.71h.9v.9h-.9zM381.82 429.42h.9v.9h-.9zM386.74 428.76h.9v.9h-.9zM367.11 428.07h.9v.9h-.9zM392.56 427.03h.9v.9h-.9zM386.55 429.54h.9v.9h-.9zM369.83 421.56h.9v.9h-.9zM380.51 426.78h.9v.9h-.9zM372.98 431.14h.9v.9h-.9zM371.24 429.64h.9v.9h-.9zM382.18 429.27h.9v.9h-.9zM392.66 428.39h.9v.9h-.9zM377.29 427.05h.9v.9h-.9zM381.22 428.87h.9v.9h-.9zM369.41 432.93h.9v.9h-.9zM371.57 428.41h.9v.9h-.9zM365.06 429.14h.9v.9h-.9zM385.13 431.52h.9v.9h-.9zM392.84 427.48h.9v.9h-.9zM400.54 428.48h.9v.9h-.9zM399.9 433.12h.9v.9h-.9zM375.76 426.02h.9v.9h-.9zM387.42 432.42h.9v.9h-.9zM385.64 431.54h.9v.9h-.9zM388.06 431.02h.9v.9h-.9zM397.07 428.01h.9v.9h-.9zM363.25 428.45h.9v.9h-.9z" fill-opacity="0.4"/>
<path d="M370.98 425.72h.9v.9h-.9zM378.66 430.57h.9v.9h-.9zM390.58 426.5h.9v.9h-.9zM375.9 432.2h.9v.9h-.9zM394.57 429.67h.9v.9h-.9zM387.36 421.84h.9v.9h-.9zM387.58 429.73h.9v.9h-.9zM363.56 429.22h.9v.9h-.9zM386.35 428.46h.9v.9h-.9zM390.48 431h.9v.9h-.9zM381.36 428.12h.9v.9h-.9zM366.16 431.65h.9v.9h-.9zM373.65 429.56h.9v.9h-.9zM399.62 430.72h.9v.9h-.9zM365.04 428.53h.9v.9h-.9zM371.93 424.57h.9v.9h-.9zM370.83 430.24h.9v.9h-.9zM384.89 428.23h.9v.9h-.9zM382.87 425.79h.9v.9h-.9zM371.25 428.33h.9v.9h-.9zM390.51 427.94h.9v.9h-.9zM378.67 429.6h.9v.9h-.9zM398.81 425.55h.9v.9h-.9zM387.27 429.23h.9v.9h-.9zM379.83 429.38h.9v.9h-.9zM377.78 425.61h.9v.9h-.9zM391.11 428.45h.9v.9h-.9zM376.49 430.68h.9v.9h-.9zM369.36 426.93h.9v.9h-.9zM390.86 430.97h.9v.9h-.9zM362.8 424.98h.9v.9h-.9zM365.96 429.02h.9v.9h-.9zM377.76 427.04h.9v.9h-.9zM368.26 426.99h.9v.9h-.9zM376.2 431.77h.9v.9h-.9zM388.4 432.23h.9v.9h-.9zM390.78 430.69h.9v.9h-.9zM395.19 429.9h.9v.9h-.9zM399.66 431.63h.9v.9h-.9zM403.07 429.31h.9v.9h-.9z" fill-opacity="0.4"/>
<path d="M371.15 435.15h.9v.9h-.9zM377.23 430.08h.9v.9h-.9zM376.03 426.99h.9v.9h-.9zM386.05 425.91h.9v.9h-.9zM378.72 432.34h.9v.9h-.9zM382.2 430.84h.9v.9h-.9zM388.56 429.73h.9v.9h-.9zM381.99 430.31h.9v.9h-.9zM368.75 430.23h.9v.9h-.9zM367.44 426.84h.9v.9h-.9zM373.44 425.36h.9v.9h-.9zM386.87 430.43h.9v.9h-.9zM389.88 426.86h.9v.9h-.9zM389.39 425.85h.9v.9h-.9zM375.61 430.65h.9v.9h-.9zM368.94 429.26h.9v.9h-.9zM392.73 429.15h.9v.9h-.9zM392.17 427.48h.9v.9h-.9zM387.97 423.22h.9v.9h-.9zM399.3 427.06h.9v.9h-.9zM370 428.8h.9v.9h-.9zM401.58 426.96h.9v.9h-.9zM380.37 427.84h.9v.9h-.9zM369.15 425.43h.9v.9h-.9zM387.91 430.55h.9v.9h-.9zM371.38 429.33h.9v.9h-.9zM386.16 429.72h.9v.9h-.9zM378.58 428.87h.9v.9h-.9zM384.03 426.05h.9v.9h-.9zM378.84 430.77h.9v.9h-.9zM373.72 432.09h.9v.9h-.9zM377.67 425.96h.9v.9h-.9zM376.99 425.31h.9v.9h-.9zM388.14 424.71h.9v.9h-.9zM380.81 428.15h.9v.9h-.9zM376.87 429.83h.9v.9h-.9zM384.16 427.33h.9v.9h-.9zM390.72 427.61h.9v.9h-.9zM391.68 432.16h.9v.9h-.9zM385.25 431.11h.9v.9h-.9z" fill-opacity="0.4"/>
<path d="M364.13 430.18h.9v.9h-.9zM362.21 428.31h.9v.9h-.9zM389.19 421.94h.9v.9h-.9zM370.99 426.79h.9v.9h-.9zM369 428.81h.9v.9h-.9zM388.45 425.82h.9v.9h-.9zM372.93 424.04h.9v.9h-.9zM371.91 423.43h.9v.9h-.9zM362.04 429.94h.9v.9h-.9zM391.4 426.69h.9v.9h-.9zM384.91 426.78h.9v.9h-.9zM393.75 433.2h.9v.9h-.9zM372.69 427.54h.9v.9h-.9zM399.85 432.75h.9v.9h-.9zM380.42 430.37h.9v.9h-.9zM360.98 428h.9v.9h-.9zM377.06 428.37h.9v.9h-.9zM384.24 424.78h.9v.9h-.9zM367.72 434.19h.9v.9h-.9zM389.56 430h.9v.9h-.9zM381.28 424.65h.9v.9h-.9zM374.8 424.79h.9v.9h-.9zM389.55 429.27h.9v.9h-.9zM375.77 431.76h.9v.9h-.9zM391.45 430.37h.9v.9h-.9zM387.76 430.63h.9v.9h-.9zM377.12 429.85h.9v.9h-.9zM381.57 428.11h.9v.9h-.9zM388.55 434.19h.9v.9h-.9zM375.21 431.81h.9v.9h-.9zM368 428.28h.9v.9h-.9zM393.2 428.57h.9v.9h-.9zM384.88 425.68h.9v.9h-.9zM366.44 432.99h.9v.9h-.9zM382.51 428.53h.9v.9h-.9zM363.52 426.12h.9v.9h-.9zM367.85 428.63h.9v.9h-.9zM379.14 427.2h.9v.9h-.9zM372.3 429.03h.9v.9h-.9zM394.99 425.18h.9v.9h-.9z" fill-opacity="0.4"/>
<path d="M363.07 431.62h.9v.9h-.9zM362.97 427.71h.9v.9h-.9zM382.01 433.38h.9v.9h-.9zM379.57 431.48h.9v.9h-.9zM382.32 426.7h.9v.9h-.9zM382.9 423.52h.9v.9h-.9zM390.7 432.51h.9v.9h-.9zM378.04 430.84h.9v.9h-.9zM367.56 432.51h.9v.9h-.9zM372.6 426.72h.9v.9h-.9zM371.16 424.25h.9v.9h-.9zM388.85 433.85h.9v.9h-.9zM362.94 428.25h.9v.9h-.9zM386.09 427.31h.9v.9h-.9zM361.3 429.6h.9v.9h-.9zM392.95 429.02h.9v.9h-.9zM367.37 427.99h.9v.9h-.9zM395.59 431.58h.9v.9h-.9zM379.5 429.86h.9v.9h-.9zM374.16 429.08h.9v.9h-.9zM373.21 429.17h.9v.9h-.9zM374.18 429.25h.9v.9h-.9zM389.12 428.7h.9v.9h-.9zM364.59 430.02h.9v.9h-.9zM377.52 427.49h.9v.9h-.9zM387.5 426.62h.9v.9h-.9zM392.05 430.17h.9v.9h-.9zM372.04 426.97h.9v.9h-.9zM379.07 426.44h.9v.9h-.9zM392.23 423.01h.9v.9h-.9zM382.38 427.86h.9v.9h-.9zM367.06 430.36h.9v.9h-.9zM374.61 429.91h.9v.9h-.9zM375.2 428.03h.9v.9h-.9zM387 431.19h.9v.9h-.9zM392.84 428.7h.9v.9h-.9zM398.81 427.89h.9v.9h-.9zM363.8 423.99h.9v.9h-.9zM362.78 426.55h.9v.9h-.9zM380.96 428.66h.9v.9h-.9z" fill-opacity="0.4"/>
<path d="M383.48 428.47h.9v.9h-.9zM377.45 427.94h.9v.9h-.9zM381.06 425.88h.9v.9h-.9zM396.28 432.68h.9v.9h-.9zM380.98 434.56h.9v.9h-.9zM368.63 431.05h.9v.9h-.9zM360.62 430.29h.9v.9h-.9zM371.39 431.32h.9v.9h-.9zM381.97 431.18h.9v.9h-.9zM388.03 430.09h.9v.9h-.9zM377.2 432.82h.9v.9h-.9zM384.97 429.99h.9v.9h-.9zM398.2 428.09h.9v.9h-.9zM402.01 431.52h.9v.9h-.9zM381.54 425.05h.9v.9h-.9zM395.55 427.96h.9v.9h-.9zM381.78 429.07h.9v.9h-.9zM392.32 430.37h.9v.9h-.9zM384.89 429.19h.9v.9h-.9zM390.35 430.2h.9v.9h-.9zM400.59 426.91h.9v.9h-.9zM396.64 429.73h.9v.9h-.9zM384.3 430.5h.9v.9h-.9zM376.46 430.58h.9v.9h-.9zM378.03 430.59h.9v.9h-.9zM371.25 431.75h.9v.9h-.9zM361.89 427.08h.9v.9h-.9zM380.01 429.37h.9v.9h-.9zM370.81 427.73h.9v.9h-.9zM383.74 431.43h.9v.9h-.9zM396.5 427.54h.9v.9h-.9zM379.78 427.96h.9v.9h-.9zM361.88 427.61h.9v.9h-.9zM394.5 425.32h.9v.9h-.9zM401.87 429.22h.9v.9h-.9zM400.14 427.29h.9v.9h-.9zM396.19 430.69h.9v.9h-.9zM390.25 430.67h.9v.9h-.9zM387.81 430.41h.9v.9h-.9zM395.28 429.84h.9v.9h-.9z" fill-opacity="0.4"/>
<path d="M388.38 429.85h.9v.9h-.9zM382.34 426.53h.9v.9h-.9zM365.4 424.98h.9v.9h-.9zM389.09 427.92h.9v.9h-.9zM396.23 436.74h.9v.9h-.9zM390.13 427.57h.9v.9h-.9zM385.3 428.24h.9v.9h-.9zM384.13 434.08h.9v.9h-.9zM400.26 432.02h.9v.9h-.9zM384.16 433.31h.9v.9h-.9zM390.82 431.03h.9v.9h-.9zM366.29 427.19h.9v.9h-.9zM382.72 428.2h.9v.9h-.9zM374.24 423.64h.9v.9h-.9zM371.47 428.48h.9v.9h-.9zM384.43 426.01h.9v.9h-.9zM379.01 433.39h.9v.9h-.9zM382.6 423.73h.9v.9h-.9zM378.38 428.77h.9v.9h-.9zM396.22 429.26h.9v.9h-.9zM397.52 429.61h.9v.9h-.9zM395.03 432.22h.9v.9h-.9zM399.53 429.27h.9v.9h-.9zM388.56 438.81h.9v.9h-.9zM365.67 429.27h.9v.9h-.9zM386.51 426.96h.9v.9h-.9zM390.83 428.35h.9v.9h-.9zM390.41 429.25h.9v.9h-.9zM369.22 431.45h.9v.9h-.9zM384.13 424.35h.9v.9h-.9zM384.64 428.69h.9v.9h-.9zM370.95 423.85h.9v.9h-.9zM386.16 431.25h.9v.9h-.9zM389.41 434.6h.9v.9h-.9zM380.32 432.41h.9v.9h-.9zM380.27 426.28h.9v.9h-.9zM379.96 429.88h.9v.9h-.9zM371.66 426.75h.9v.9h-.9zM383.94 431.01h.9v.9h-.9zM377.83 430.01h.9v.9h-.9z" fill-opacity="0.4"/>
<path d="M374.5 427.89h.9v.9h-.9zM383.04 431.25h.9v.9h-.9zM400.15 428.44h.9v.9h-.9zM386.19 433.81h.9v.9h-.9zM390.92 427.84h.9v.9h-.9zM385.71 425.11h.9v.9h-.9zM371.92 425.32h.9v.9h-.9zM393.27 427.6h.9v.9h-.9zM381.76 428.95h.9v.9h-.9zM378.19 425.75h.9v.9h-.9zM404.41 423.68h.9v.9h-.9zM380.3 430.55h.9v.9h-.9zM378.23 428.5h.9v.9h-.9zM384.5 429.38h.9v.9h-.9zM376.59 431.54h.9v.9h-.9zM386.91 432.63h.9v.9h-.9zM381.85 423.65h.9v.9h-.9zM360.49 427.45h.9v.9h-.9zM386.3 424.57h.9v.9h-.9zM373.83 431.97h.9v.9h-.9zM384.82 426.94h.9v.9h-.9zM379.39 429.06h.9v.9h-.9zM375.59 427.96h.9v.9h-.9zM372.97 429.34h.9v.9h-.9zM400.08 432.51h.9v.9h-.9zM365.53 434.73h.9v.9h-.9zM379.3 425.17h.9v.9h-.9zM362.55 429.14h.9v.9h-.9zM383.58 427.12h.9v.9h-.9zM370.96 428.21h.9v.9h-.9zM383.92 430.5h.9v.9h-.9zM387.55 422.65h.9v.9h-.9zM373.49 429.44h.9v.9h-.9zM385.3 430.82h.9v.9h-.9zM362.6 432.8h.9v.9h-.9zM366.21 428.25h.9v.9h-.9zM375.08 427.55h.9v.9h-.9zM371.3 430.86h.9v.9h-.9zM390.34 429.67h.9v.9h-.9zM365.26 427.15h.9v.9h-.9z" fill-opacity="0.4"/>
<path d="M380.06 429.79h.9v.9h-.9zM374.01 428.08h.9v.9h-.9zM377.13 422.45h.9v.9h-.9zM371.61 432.96h.9v.9h-.9zM391.05 425.7h.9v.9h-.9zM390.34 429.21h.9v.9h-.9zM371.1 430.81h.9v.9h-.9zM373.36 427.99h.9v.9h-.9zM381.02 429.31h.9v.9h-.9zM375.45 429.53h.9v.9h-.9zM380.8 429.27h.9v.9h-.9zM385.49 427.13h.9v.9h-.9zM364.15 428.58h.9v.9h-.9zM395.74 429.62h.9v.9h-.9zM383.51 426.86h.9v.9h-.9zM366.9 425.57h.9v.9h-.9zM369.64 427.81h.9v.9h-.9zM362.05 428.46h.9v.9h-.9zM361.7 430.44h.9v.9h-.9zM380.46 424.24h.9v.9h-.9zM374.12 429.36h.9v.9h-.9zM385.38 430.76h.9v.9h-.9zM376.51 428.39h.9v.9h-.9zM377.93 430.17h.9v.9h-.9zM372.38 428.35h.9v.9h-.9zM382.54 427.87h.9v.9h-.9zM367.66 432.26h.9v.9h-.9zM386.81 426.42h.9v.9h-.9zM370.21 427.82h.9v.9h-.9zM387.26 432.61h.9v.9h-.9zM397.38 430.19h.9v.9h-.9zM381.59 430.47h.9v.9h-.9zM371.26 426.96h.9v.9h-.9zM387.19 429.28h.9v.9h-.9zM383.62 426.15h.9v.9h-.9zM383.77 425.07h.9v.9h-.9zM391.99 428.8h.9v.9h-.9zM372.98 427.56h.9v.9h-.9zM372.3 432.29h.9v.9h-.9zM381 429.43h.9v.9h-.9z" fill-opacity="0.4"/>
<path d="M369.19 425.4h.9v.9h-.9zM383.64 427.63h.9v.9h-.9zM386.88 431.49h.9v.9h-.9zM379.38 430.15h.9v.9h-.9zM382.9 429.37h.9v.9h-.9zM374.51 429.38h.9v.9h-.9zM386.05 428.97h.9v.9h-.9zM375.3 425.03h.9v.9h-.9zM367.88 432.79h.9v.9h-.9zM393.04 429.53h.9v.9h-.9zM384.32 428.38h.9v.9h-.9zM389.02 431.24h.9v.9h-.9zM377.77 429.57h.9v.9h-.9zM392.34 424.71h.9v.9h-.9zM369.44 427.3h.9v.9h-.9zM366.75 427.64h.9v.9h-.9zM370.58 427.75h.9v.9h-.9zM386.56 425.75h.9v.9h-.9zM381.99 432.32h.9v.9h-.9zM383.1 425.63h.9v.9h-.9zM373.49 431.77h.9v.9h-.9zM377.63 427.16h.9v.9h-.9zM390.24 426.93h.9v.9h-.9zM367.35 430.35h.9v.9h-.9zM381.02 427.1h.9v.9h-.9zM386.41 431.61h.9v.9h-.9zM393.83 429.04h.9v.9h-.9zM386.32 430.05h.9v.9h-.9zM362.91 433.05h.9v.9h-.9zM372.82 427.34h.9v.9h-.9zM370.88 426.29h.9v.9h-.9zM394 428.79h.9v.9h-.9zM373.84 424.07h.9v.9h-.9zM382.81 428.64h.9v.9h-.9zM368.37 428.52h.9v.9h-.9zM366.12 430.05h.9v.9h-.9zM381.98 423.31h.9v.9h-.9zM367.32 427.09h.9v.9h-.9zM390.32 430.31h.9v.9h-.9zM388.4 433.08h.9v.9h-.9z" fill-opacity="0.4"/>
<path d="M377.34 427.47h.9v.9h-.9zM387.58 426.61h.9v.9h-.9zM370.28 431.22h.9v.9h-.9zM396.33 424.16h.9v.9h-.9zM386.45 428.75h.9v.9h-.9zM391.72 427.9h.9v.9h-.9zM379.35 432.4h.9v.9h-.9zM373.66 429.85h.9v.9h-.9zM388.4 428.48h.9v.9h-.9zM391.34 430.11h.9v.9h-.9zM390.79 424.4h.9v.9h-.9zM368.36 429.53h.9v.9h-.9zM394.85 432.46h.9v.9h-.9zM380.98 426.86h.9v.9h-.9zM367.66 423.77h.9v.9h-.9zM374.8 430.26h.9v.9h-.9zM379.95 424.98h.9v.9h-.9zM379.62 428.91h.9v.9h-.9zM371.83 432.52h.9v.9h-.9zM386.07 431.6h.9v.9h-.9zM382.02 426.27h.9v.9h-.9zM393.8 431.62h.9v.9h-.9zM373.78 425.35h.9v.9h-.9zM390.61 427.32h.9v.9h-.9zM366.86 428.56h.9v.9h-.9zM387.44 426.85h.9v.9h-.9zM381.24 431.33h.9v.9h-.9zM389.79 424.77h.9v.9h-.9zM389.41 433.34h.9v.9h-.9zM391.85 428.56h.9v.9h-.9zM385.25 424.73h.9v.9h-.9zM373.79 427.44h.9v.9h-.9zM369.13 433.13h.9v.9h-.9zM395.58 424.53h.9v.9h-.9zM378.41 424.43h.9v.9h-.9zM393.26 422.92h.9v.9h-.9zM403.06 426.06h.9v.9h-.9zM368.3 434.22h.9v.9h-.9zM387.24 429.69h.9v.9h-.9zM391.1 426.23h.9v.9h-.9z" fill-opacity="0.4"/>
<path d="M391.29 428.06h.9v.9h-.9zM387.07 429.37h.9v.9h-.9zM397.42 425.46h.9v.9h-.9zM364.15 430.46h.9v.9h-.9zM378.82 430.51h.9v.9h-.9zM366.34 429.01h.9v.9h-.9zM360.7 429.08h.9v.9h-.9zM389.49 433.16h.9v.9h-.9zM374.79 431.18h.9v.9h-.9zM396.9 426.08h.9v.9h-.9zM377.53 424h.9v.9h-.9zM370.34 429.91h.9v.9h-.9zM389.47 432.48h.9v.9h-.9zM373.45 422.84h.9v.9h-.9zM368.65 430.31h.9v.9h-.9zM380.58 430.59h.9v.9h-.9zM377.21 430.48h.9v.9h-.9zM369.15 426.26h.9v.9h-.9zM378.87 424.26h.9v.9h-.9zM395.59 428.13h.9v.9h-.9zM369.08 426.55h.9v.9h-.9zM369.25 429.1h.9v.9h-.9zM376.42 431.01h.9v.9h-.9zM367.02 428.59h.9v.9h-.9zM362.77 427.58h.9v.9h-.9zM397.04 428.47h.9v.9h-.9zM391.44 428.62h.9v.9h-.9zM367.74 426.5h.9v.9h-.9zM367.34 429.66h.9v.9h-.9zM383.59 436.37h.9v.9h-.9zM400.74 430.97h.9v.9h-.9zM369.12 429.07h.9v.9h-.9zM369.94 434.86h.9v.9h-.9zM372.16 431.8h.9v.9h-.9zM364.66 430.76h.9v.9h-.9zM366.15 427.57h.9v.9h-.9zM382.82 429.13h.9v.9h-.9zM380.08 428.61h.9v.9h-.9zM370.5 428.49h.9v.9h-.9zM379.95 426.36h.9v.9h-.9z" fill-opacity="0.4"/>
<path d="M387.56 429.23h.9v.9h-.9zM371.76 432.14h.9v.9h-.9zM373.94 423.85h.9v.9h-.9zM395.88 427.8h.9v.9h-.9zM398.27 429.9h.9v.9h-.9zM370.14 431.67h.9v.9h-.9zM386.28 431.17h.9v.9h-.9zM381.27 432.81h.9v.9h-.9zM371.07 447.11h.9v.9h-.9zM376.67 434.25h.9v.9h-.9zM380.49 438.49h.9v.9h-.9zM376.02 441.97h.9v.9h-.9zM380.04 446.83h.9v.9h-.9zM360.76 439.09h.9v.9h-.9zM363.01 442.79h.9v.9h-.9zM366.95 437.93h.9v.9h-.9zM372.35 441.77h.9v.9h-.9zM379.89 446.15h.9v.9h-.9zM371.21 441.56h.9v.9h-.9zM380.85 440.08h.9v.9h-.9zM377.27 436.87h.9v.9h-.9zM374.46 445.4h.9v.9h-.9zM383.1 445.79h.9v.9h-.9zM368.43 440.13h.9v.9h-.9zM388.75 438.18h.9v.9h-.9zM374.36 438.96h.9v.9h-.9zM372.66 444.5h.9v.9h-.9zM383.24 440.2h.9v.9h-.9zM380.38 437.38h.9v.9h-.9zM368.64 438.18h.9v.9h-.9zM364.77 438.72h.9v.9h-.9zM376.1 445.05h.9v.9h-.9zM372.08 451.39h.9v.9h-.9zM370.99 440.2h.9v.9h-.9zM377.16 436.56h.9v.9h-.9zM391.45 436.73h.9v.9h-.9zM394.46 434.45h.9v.9h-.9zM368.34 442.78h.9v.9h-.9zM372.04 442.96h.9v.9h-.9zM372.63 446.92h.9v.9h-.9z" fill-opacity="0.4"/>
<path d="M368.57 440.37h.9v.9h-.9zM391.9 446.8h.9v.9h-.9zM380.45 442.4h.9v.9h-.9zM373.28 439.22h.9v.9h-.9zM370.31 441.45h.9v.9h-.9zM387.99 434.62h.9v.9h-.9zM362.95 439.77h.9v.9h-.9zM402.43 440.66h.9v.9h-.9zM379.11 439.33h.9v.9h-.9zM399.86 433.67h.9v.9h-.9zM402.89 452.41h.9v.9h-.9zM396.15 438.86h.9v.9h-.9zM384.82 436.85h.9v.9h-.9zM371.86 440.54h.9v.9h-.9zM373.55 434.22h.9v.9h-.9zM373.98 442.72h.9v.9h-.9zM367.85 441.3h.9v.9h-.9zM360.67 440h.9v.9h-.9zM363.1 443.31h.9v.9h-.9zM364.47 442.57h.9v.9h-.9zM391.15 435.48h.9v.9h-.9zM378.13 435.32h.9v.9h-.9zM383.43 443.26h.9v.9h-.9zM391.77 446.08h.9v.9h-.9zM393.67 435.95h.9v.9h-.9zM378.9 442.15h.9v.9h-.9zM402.67 452.09h.9v.9h-.9zM400.18 438.63h.9v.9h-.9zM405.66 434.39h.9v.9h-.9zM384 443.44h.9v.9h-.9zM359.52 437.9h.9v.9h-.9zM383.56 442.79h.9v.9h-.9zM382.33 444.12h.9v.9h-.9zM380.78 437.35h.9v.9h-.9zM376.25 438.53h.9v.9h-.9zM375.97 441.07h.9v.9h-.9zM370.82 439.37h.9v.9h-.9zM370.38 435.24h.9v.9h-.9zM381.78 435.44h.9v.9h-.9zM384.08 439.4h.9v.9h-.9z" fill-opacity="0.4"/>
<path d="M390.88 442.45h.9v.9h-.9zM385.64 440.07h.9v.9h-.9zM377.94 444.88h.9v.9h-.9zM378.6 444.49h.9v.9h-.9zM387.12 442.52h.9v.9h-.9zM391.72 440.39h.9v.9h-.9zM378.83 443.76h.9v.9h-.9zM363.7 448.02h.9v.9h-.9zM382.42 440.63h.9v.9h-.9zM386.86 443.44h.9v.9h-.9zM376.06 435.64h.9v.9h-.9zM388.66 444.18h.9v.9h-.9zM382.14 436.45h.9v.9h-.9zM378.72 434.81h.9v.9h-.9zM408.84 436.26h.9v.9h-.9zM388.33 447.6h.9v.9h-.9zM366.71 436.88h.9v.9h-.9zM360.91 440.3h.9v.9h-.9zM374.64 439.59h.9v.9h-.9zM377.89 437.2h.9v.9h-.9zM378.81 439.2h.9v.9h-.9zM368.46 437.97h.9v.9h-.9zM384 439.36h.9v.9h-.9zM379.46 445.26h.9v.9h-.9zM389.3 437.35h.9v.9h-.9zM381.73 445.43h.9v.9h-.9zM375.45 441.4h.9v.9h-.9zM382.61 434.39h.9v.9h-.9zM380.91 437.59h.9v.9h-.9zM374.15 441.68h.9v.9h-.9zM385.55 435.06h.9v.9h-.9zM374.25 438.55h.9v.9h-.9zM365.56 441.37h.9v.9h-.9zM374.85 436.03h.9v.9h-.9zM389.11 439.11h.9v.9h-.9zM362.94 439.06h.9v.9h-.9zM375.08 440.98h.9v.9h-.9zM405.47 442.25h.9v.9h-.9zM395.34 438.67h.9v.9h-.9zM383.25 441.99h.9v.9h-.9z" fill-opacity="0.4"/>
<path d="M376.1 440.74h.9v.9h-.9zM371.77 442.96h.9v.9h-.9zM366.11 448.01h.9v.9h-.9zM375.81 441.34h.9v.9h-.9zM382.69 435.15h.9v.9h-.9zM379.9 437.45h.9v.9h-.9zM361.1 436.77h.9v.9h-.9zM364.13 440.74h.9v.9h-.9zM359.98 440.61h.9v.9h-.9zM384.25 435.83h.9v.9h-.9zM365.45 437.81h.9v.9h-.9zM387.18 446.42h.9v.9h-.9zM404.21 439.96h.9v.9h-.9zM385.09 440.48h.9v.9h-.9zM377.13 434.22h.9v.9h-.9zM372.97 445.06h.9v.9h-.9zM394.56 436.53h.9v.9h-.9zM377.76 441.78h.9v.9h-.9zM381.27 434.73h.9v.9h-.9zM373.83 436.43h.9v.9h-.9zM374.1 451.42h.9v.9h-.9zM369.07 443.38h.9v.9h-.9zM396.85 435.9h.9v.9h-.9zM384.46 438.49h.9v.9h-.9zM399.1 435.45h.9v.9h-.9zM385.22 436.97h.9v.9h-.9zM376.17 437.25h.9v.9h-.9zM375.62 439.75h.9v.9h-.9zM369.75 440.9h.9v.9h-.9zM361.24 443.57h.9v.9h-.9zM387.72 437.82h.9v.9h-.9zM370.75 444.06h.9v.9h-.9zM376.96 449.18h.9v.9h-.9zM371.1 436.2h.9v.9h-.9zM373.75 447.88h.9v.9h-.9zM383.01 442.25h.9v.9h-.9zM394.68 449.39h.9v.9h-.9zM370.85 439.39h.9v.9h-.9zM368.51 438.51h.9v.9h-.9zM366.59 433.92h.9v.9h-.9z" fill-opacity="0.4"/>
<path d="M390.2 433.85h.9v.9h-.9zM385.49 434.56h.9v.9h-.9zM408.44 434.9h.9v.9h-.9zM380.47 442.81h.9v.9h-.9zM365.25 435.42h.9v.9h-.9zM364.06 442.3h.9v.9h-.9zM381.07 444.57h.9v.9h-.9zM359.46 434.92h.9v.9h-.9zM375.9 437.31h.9v.9h-.9zM381.28 445.11h.9v.9h-.9zM379.03 435.57h.9v.9h-.9zM376.85 435.95h.9v.9h-.9zM369.23 448.75h.9v.9h-.9zM385.81 448.59h.9v.9h-.9zM374.73 439.19h.9v.9h-.9zM361.61 440.71h.9v.9h-.9zM386.44 442.96h.9v.9h-.9zM362.89 440.07h.9v.9h-.9zM388.87 437.2h.9v.9h-.9zM386.16 437.03h.9v.9h-.9zM377.33 436.65h.9v.9h-.9zM379.53 438.11h.9v.9h-.9zM377.27 436.66h.9v.9h-.9zM388.38 438.65h.9v.9h-.9zM382.28 437.17h.9v.9h-.9zM393.64 439.02h.9v.9h-.9zM382.8 450.47h.9v.9h-.9zM369.06 441.13h.9v.9h-.9zM390.93 441.68h.9v.9h-.9zM373.48 445.53h.9v.9h-.9zM368.93 433.65h.9v.9h-.9zM388.68 439.62h.9v.9h-.9zM374.56 444.65h.9v.9h-.9zM375.7 442.74h.9v.9h-.9zM380.13 445.28h.9v.9h-.9zM384.26 437.19h.9v.9h-.9zM396.17 437.76h.9v.9h-.9zM383.91 446.18h.9v.9h-.9zM372.51 441.87h.9v.9h-.9zM374.63 446.67h.9v.9h-.9z" fill-opacity="0.4"/>
<path d="M381.62 441.29h.9v.9h-.9zM386.06 440.2h.9v.9h-.9zM393.58 439.68h.9v.9h-.9zM384.98 439.27h.9v.9h-.9zM365.16 437.03h.9v.9h-.9zM376.87 437.2h.9v.9h-.9zM400.13 438.33h.9v.9h-.9zM379 440h.9v.9h-.9zM367.05 435.13h.9v.9h-.9zM392.03 441.02h.9v.9h-.9zM367.44 443.23h.9v.9h-.9zM363.36 447.6h.9v.9h-.9zM373.55 441.2h.9v.9h-.9zM377.36 449.06h.9v.9h-.9zM365.54 439.05h.9v.9h-.9zM371.38 440.92h.9v.9h-.9zM374.8 441.74h.9v.9h-.9zM391.91 433.92h.9v.9h-.9zM369.37 446.07h.9v.9h-.9zM384.21 444.47h.9v.9h-.9zM369.07 435.23h.9v.9h-.9zM363.42 438.55h.9v.9h-.9zM363.25 443.06h.9v.9h-.9zM368.93 442.11h.9v.9h-.9zM385.84 444.22h.9v.9h-.9zM380.88 450.94h.9v.9h-.9zM389.56 439.79h.9v.9h-.9zM397.51 437.78h.9v.9h-.9zM379.44 447.67h.9v.9h-.9zM371.78 439.53h.9v.9h-.9zM380.65 440.46h.9v.9h-.9zM374.62 444.56h.9v.9h-.9zM404.37 437.63h.9v.9h-.9zM364.63 444.81h.9v.9h-.9zM379.46 443.06h.9v.9h-.9zM376.16 444.61h.9v.9h-.9zM372.49 446.02h.9v.9h-.9zM388.52 440.64h.9v.9h-.9zM380.77 434.39h.9v.9h-.9zM375.44 438.75h.9v.9h-.9z" fill-opacity="0.4"/>
<path d="M394.68 436.17h.9v.9h-.9zM379.18 437.26h.9v.9h-.9zM368.17 441.72h.9v.9h-.9zM396.2 450.6h.9v.9h-.9zM379.47 442.13h.9v.9h-.9zM364.59 437.55h.9v.9h-.9zM381.39 439.11h.9v.9h-.9zM394.71 435.2h.9v.9h-.9zM374.48 442.16h.9v.9h-.9zM376.65 438.34h.9v.9h-.9zM376.12 441.55h.9v.9h-.9zM386.85 434.33h.9v.9h-.9zM366.31 433.96h.9v.9h-.9zM408.06 436.84h.9v.9h-.9zM360.08 449.75h.9v.9h-.9zM377.51 442h.9v.9h-.9zM375.2 438.29h.9v.9h-.9zM380.77 435.89h.9v.9h-.9zM373.3 439.25h.9v.9h-.9zM380.08 442.31h.9v.9h-.9zM370.14 443.23h.9v.9h-.9zM371.79 443.38h.9v.9h-.9zM394.36 442.64h.9v.9h-.9zM359.69 439.92h.9v.9h-.9zM364.73 449.17h.9v.9h-.9zM365.12 441.59h.9v.9h-.9zM373.5 438.84h.9v.9h-.9zM372.13 439.6h.9v.9h-.9zM397.63 435.24h.9v.9h-.9zM384.01 441.94h.9v.9h-.9zM369.26 434.16h.9v.9h-.9zM366.52 442.41h.9v.9h-.9zM379.6 444.62h.9v.9h-.9zM382.14 440.14h.9v.9h-.9zM377.82 440.71h.9v.9h-.9zM378.17 442.87h.9v.9h-.9zM366.89 444.85h.9v.9h-.9zM397.82 439.12h.9v.9h-.9zM384.65 433.76h.9v.9h-.9zM389.95 439.8h.9v.9h-.9z" fill-opacity="0.4"/>
<path d="M391.03 445.12h.9v.9h-.9zM368.45 443.58h.9v.9h-.9zM396.84 450.48h.9v.9h-.9zM376.32 442.25h.9v.9h-.9zM369.69 442.7h.9v.9h-.9zM385.07 446.71h.9v.9h-.9zM375.75 439.87h.9v.9h-.9zM383.83 438.74h.9v.9h-.9zM386.25 439.67h.9v.9h-.9z" fill-opacity="0.4"/>
<path d="M287.75 279.32h.9v.9h-.9zM281.6 267.19h.9v.9h-.9zM282.41 280.5h.9v.9h-.9zM283.12 279.49h.9v.9h-.9zM294.17 274.38h.9v.9h-.9zM282.18 273.54h.9v.9h-.9zM288.94 268.85h.9v.9h-.9zM283.73 269.33h.9v.9h-.9zM293.58 260.57h.9v.9h-.9zM294.69 267.21h.9v.9h-.9zM285.54 263.05h.9v.9h-.9zM288.45 272.44h.9v.9h-.9zM290.1 278.02h.9v.9h-.9zM289.22 269.34h.9v.9h-.9zM296.38 262.5h.9v.9h-.9zM281.8 265.11h.9v.9h-.9zM286.25 260.4h.9v.9h-.9zM287.82 258.35h.9v.9h-.9zM295.36 268.69h.9v.9h-.9zM294.73 273.59h.9v.9h-.9zM292.5 275h.9v.9h-.9zM286.07 274.32h.9v.9h-.9zM284.64 270.31h.9v.9h-.9zM290.48 275.39h.9v.9h-.9zM284.07 265.46h.9v.9h-.9zM293.91 276.05h.9v.9h-.9zM296.22 260.27h.9v.9h-.9zM284.7 260h.9v.9h-.9zM292.41 274.7h.9v.9h-.9zM291.27 275.48h.9v.9h-.9zM289.29 270.48h.9v.9h-.9zM295.37 272.46h.9v.9h-.9zM291.39 271.09h.9v.9h-.9zM288.96 274.96h.9v.9h-.9zM290.14 260.52h.9v.9h-.9zM287.94 267.24h.9v.9h-.9zM288.03 270.45h.9v.9h-.9zM286.98 266.55h.9v.9h-.9zM287.95 266.09h.9v.9h-.9zM296.13 259.63h.9v.9h-.9z" fill-opacity="0.25"/>
<path d="M368.18 268h.9v.9h-.9zM363.19 274.96h.9v.9h-.9zM376.2 279.98h.9v.9h-.9zM377.23 268.82h.9v.9h-.9zM370.45 268.6h.9v.9h-.9zM366.05 275.4h.9v.9h-.9zM369.29 266.01h.9v.9h-.9zM375.32 271.26h.9v.9h-.9zM369.42 269.07h.9v.9h-.9zM369.91 279.02h.9v.9h-.9zM377.92 265.98h.9v.9h-.9zM372.34 279.18h.9v.9h-.9zM374.94 274.76h.9v.9h-.9zM374.37 274.21h.9v.9h-.9zM375.13 273.87h.9v.9h-.9zM369.83 276.22h.9v.9h-.9zM372.89 263.95h.9v.9h-.9zM367.09 271.57h.9v.9h-.9zM374.35 256.67h.9v.9h-.9zM364.33 268.99h.9v.9h-.9zM369.33 274.06h.9v.9h-.9zM380.11 280.71h.9v.9h-.9zM367.14 278.32h.9v.9h-.9zM366.03 272.49h.9v.9h-.9zM373.47 274.46h.9v.9h-.9zM368.26 278.97h.9v.9h-.9zM372.18 270.43h.9v.9h-.9zM371.12 263.83h.9v.9h-.9zM376.42 272.67h.9v.9h-.9zM367.9 268.76h.9v.9h-.9zM372.59 275.94h.9v.9h-.9zM371.6 276.44h.9v.9h-.9zM375 259.46h.9v.9h-.9zM368.89 257.75h.9v.9h-.9zM371.02 267.92h.9v.9h-.9zM375.72 271.63h.9v.9h-.9zM372.21 278.51h.9v.9h-.9zM375.74 262.79h.9v.9h-.9zM368.85 272.62h.9v.9h-.9zM381.69 269.3h.9v.9h-.9z" fill-opacity="0.25"/>
<path d="M371.63 272.23h.9v.9h-.9zM376.75 269.98h.9v.9h-.9zM374.13 267.9h.9v.9h-.9zM369.6 265.54h.9v.9h-.9zM376.09 267.04h.9v.9h-.9zM375.5 273.11h.9v.9h-.9zM367.36 262.86h.9v.9h-.9zM371.67 275.63h.9v.9h-.9zM386.16 280.3h.9v.9h-.9zM379.84 272.96h.9v.9h-.9zM370.47 273.93h.9v.9h-.9zM372.6 274.45h.9v.9h-.9zM367.02 263.64h.9v.9h-.9zM369.1 270.28h.9v.9h-.9zM374.43 268.31h.9v.9h-.9zM374.43 274.85h.9v.9h-.9zM366.32 269.91h.9v.9h-.9zM364.19 267.09h.9v.9h-.9zM377.41 266.04h.9v.9h-.9zM382.56 273.74h.9v.9h-.9zM377.33 271.21h.9v.9h-.9zM377.2 277.46h.9v.9h-.9zM373.13 267.2h.9v.9h-.9zM371.57 267.66h.9v.9h-.9zM368.75 259.9h.9v.9h-.9zM369.87 272.6h.9v.9h-.9zM369.94 265.76h.9v.9h-.9zM374.75 273.46h.9v.9h-.9zM370.21 272.5h.9v.9h-.9zM367.32 275.99h.9v.9h-.9zM367.25 268.42h.9v.9h-.9zM373.28 267.9h.9v.9h-.9zM380.7 259.53h.9v.9h-.9zM373.2 262.53h.9v.9h-.9zM374.23 262.31h.9v.9h-.9zM375.67 273.91h.9v.9h-.9zM381.73 278.17h.9v.9h-.9zM370.09 276.53h.9v.9h-.9zM370.09 269.84h.9v.9h-.9zM369.86 259.41h.9v.9h-.9z" fill-opacity="0.25"/>
<path d="M375.79 257.7h.9v.9h-.9zM371.28 273.87h.9v.9h-.9zM373.16 260.58h.9v.9h-.9zM369.06 274.86h.9v.9h-.9zM378.46 280.64h.9v.9h-.9zM369.96 275.39h.9v.9h-.9zM363.48 269.66h.9v.9h-.9zM376.35 266.47h.9v.9h-.9zM370.6 264.35h.9v.9h-.9zM378.54 262.15h.9v.9h-.9zM367.64 268.45h.9v.9h-.9zM374.03 265.28h.9v.9h-.9zM375.67 272.72h.9v.9h-.9zM374.07 270.14h.9v.9h-.9zM375.03 263.13h.9v.9h-.9zM366.09 267.86h.9v.9h-.9zM366.62 274.98h.9v.9h-.9zM382.98 278.37h.9v.9h-.9zM374.95 272.69h.9v.9h-.9zM368.87 262.33h.9v.9h-.9zM375.5 261.19h.9v.9h-.9zM374.17 269.66h.9v.9h-.9zM376.59 270.87h.9v.9h-.9zM373.12 266.87h.9v.9h-.9zM363.3 268.37h.9v.9h-.9zM376.29 277.17h.9v.9h-.9zM379.96 264.25h.9v.9h-.9zM367.52 274.99h.9v.9h-.9zM374.24 260.94h.9v.9h-.9zM369.57 280.49h.9v.9h-.9zM365.1 280.69h.9v.9h-.9zM370.15 264.03h.9v.9h-.9zM363.37 266.04h.9v.9h-.9zM384.27 271.18h.9v.9h-.9zM371.12 263.2h.9v.9h-.9zM374.38 267.56h.9v.9h-.9zM368 279.31h.9v.9h-.9zM374.91 264.93h.9v.9h-.9zM380.5 270.2h.9v.9h-.9zM375.26 271.49h.9v.9h-.9z" fill-opacity="0.25"/>
<path d="M378.89 274.45h.9v.9h-.9zM370.68 275.1h.9v.9h-.9zM370.45 271.4h.9v.9h-.9zM381.37 263.83h.9v.9h-.9zM366.99 268.01h.9v.9h-.9zM369.87 278.79h.9v.9h-.9zM381.07 267.7h.9v.9h-.9zM373.55 268.27h.9v.9h-.9zM376.16 274.75h.9v.9h-.9zM376.6 275.4h.9v.9h-.9zM382.94 269.47h.9v.9h-.9zM376.31 269.37h.9v.9h-.9zM372.76 271.94h.9v.9h-.9zM372.27 272.74h.9v.9h-.9zM367.97 269.58h.9v.9h-.9zM369.3 263.15h.9v.9h-.9zM368.75 267.4h.9v.9h-.9zM371.75 260.66h.9v.9h-.9zM371.17 263.4h.9v.9h-.9zM368.15 271.75h.9v.9h-.9zM378.52 272.36h.9v.9h-.9zM369.92 267.77h.9v.9h-.9zM379.76 260.26h.9v.9h-.9zM378.68 261.03h.9v.9h-.9zM369.14 270.85h.9v.9h-.9zM371.36 281.09h.9v.9h-.9zM375.21 270.25h.9v.9h-.9zM377.68 270.79h.9v.9h-.9zM368.22 277.67h.9v.9h-.9zM380.62 278.67h.9v.9h-.9zM370.31 275.42h.9v.9h-.9zM363.85 264.08h.9v.9h-.9zM378.9 273.69h.9v.9h-.9zM374.92 269.37h.9v.9h-.9zM372.52 272.03h.9v.9h-.9zM376.61 268.86h.9v.9h-.9zM367.72 268.26h.9v.9h-.9zM383.19 266.19h.9v.9h-.9zM378.22 271.33h.9v.9h-.9zM376.51 268.84h.9v.9h-.9z" fill-opacity="0.25"/>
<path d="M367.67 276.91h.9v.9h-.9zM373.27 280.72h.9v.9h-.9zM371.14 268.17h.9v.9h-.9zM374.41 269.35h.9v.9h-.9zM370.87 264.87h.9v.9h-.9zM373.92 272.61h.9v.9h-.9zM382.41 270.38h.9v.9h-.9zM363.09 273.51h.9v.9h-.9zM384.89 267.75h.9v.9h-.9zM368.23 269.49h.9v.9h-.9zM371.54 260.95h.9v.9h-.9zM375.66 264.99h.9v.9h-.9zM379.29 271.79h.9v.9h-.9zM369.79 268.89h.9v.9h-.9zM377.77 267.26h.9v.9h-.9zM374.8 276.69h.9v.9h-.9zM367.66 266.81h.9v.9h-.9zM374.97 270.6h.9v.9h-.9zM371.88 267.19h.9v.9h-.9zM379.88 260.29h.9v.9h-.9zM372.81 271.14h.9v.9h-.9zM372.75 261.77h.9v.9h-.9zM371.85 271.5h.9v.9h-.9zM368.87 272.55h.9v.9h-.9zM373.1 273.03h.9v.9h-.9zM371.65 267.63h.9v.9h-.9zM373.55 277.44h.9v.9h-.9zM377.4 270.05h.9v.9h-.9zM370.04 277.31h.9v.9h-.9zM375.47 276.17h.9v.9h-.9zM371.05 265.08h.9v.9h-.9zM373.56 266.58h.9v.9h-.9zM378.76 275.99h.9v.9h-.9zM379.74 277.15h.9v.9h-.9zM370 265.07h.9v.9h-.9zM377.79 277h.9v.9h-.9zM372.87 263.21h.9v.9h-.9zM364.31 272.25h.9v.9h-.9zM368.09 266.22h.9v.9h-.9zM374.95 277.23h.9v.9h-.9z" fill-opacity="0.25"/>
<path d="M379.56 270.28h.9v.9h-.9zM370.7 274.61h.9v.9h-.9zM366.4 262.77h.9v.9h-.9zM372.67 280.5h.9v.9h-.9zM378.03 270.52h.9v.9h-.9zM378.01 267.94h.9v.9h-.9zM366.18 259.89h.9v.9h-.9zM374.01 276.28h.9v.9h-.9zM374.56 270.31h.9v.9h-.9zM370.39 277.49h.9v.9h-.9zM372.3 261.38h.9v.9h-.9zM379.95 266.42h.9v.9h-.9zM374.67 270.57h.9v.9h-.9zM378.24 272.12h.9v.9h-.9zM379.17 271.89h.9v.9h-.9zM370.06 267.32h.9v.9h-.9zM376.07 265.27h.9v.9h-.9zM377.56 269.03h.9v.9h-.9zM367.54 264.99h.9v.9h-.9zM376.72 270.67h.9v.9h-.9zM371.05 270.54h.9v.9h-.9zM370.26 279.04h.9v.9h-.9zM373.5 267.64h.9v.9h-.9zM373.55 264.19h.9v.9h-.9zM366.86 269.52h.9v.9h-.9zM383.29 263.47h.9v.9h-.9zM371.79 260.5h.9v.9h-.9zM373.48 271.9h.9v.9h-.9zM376.55 262.06h.9v.9h-.9zM369.3 266.43h.9v.9h-.9zM371.47 270.29h.9v.9h-.9zM369.81 275.62h.9v.9h-.9zM386.4 277.95h.9v.9h-.9zM380.83 263.71h.9v.9h-.9zM378.27 270.73h.9v.9h-.9zM379.31 277.3h.9v.9h-.9zM376.09 259.87h.9v.9h-.9zM373.27 267.36h.9v.9h-.9zM374.97 270.79h.9v.9h-.9zM378.22 260.33h.9v.9h-.9z" fill-opacity="0.25"/>
<path d="M368.55 270.07h.9v.9h-.9zM374.28 267.97h.9v.9h-.9zM372.4 270.91h.9v.9h-.9zM378.21 269.83h.9v.9h-.9zM373.86 258.96h.9v.9h-.9zM374.48 255.85h.9v.9h-.9zM374.77 269.94h.9v.9h-.9zM372.56 265.89h.9v.9h-.9zM370.28 275.85h.9v.9h-.9zM374.48 270.38h.9v.9h-.9zM369.91 271.9h.9v.9h-.9zM378.99 270.43h.9v.9h-.9zM370.57 263.03h.9v.9h-.9zM373.09 264.7h.9v.9h-.9zM364.78 276.11h.9v.9h-.9zM369.18 257.55h.9v.9h-.9zM371.97 262.09h.9v.9h-.9zM366.59 275.14h.9v.9h-.9zM374.75 271.91h.9v.9h-.9zM371.49 273.64h.9v.9h-.9zM380.88 273.66h.9v.9h-.9zM371.66 261.62h.9v.9h-.9zM374.96 280.55h.9v.9h-.9zM376.06 262.52h.9v.9h-.9zM373.55 278.85h.9v.9h-.9zM369.11 273.71h.9v.9h-.9zM379.1 281h.9v.9h-.9zM363.94 259.39h.9v.9h-.9zM374.58 275.04h.9v.9h-.9zM370.63 270.42h.9v.9h-.9zM370.34 278.22h.9v.9h-.9zM365.62 266.22h.9v.9h-.9zM364.25 264.74h.9v.9h-.9zM372.42 270.72h.9v.9h-.9zM382.23 269.14h.9v.9h-.9zM374.42 272.81h.9v.9h-.9zM373.95 279.93h.9v.9h-.9zM373.3 271.51h.9v.9h-.9zM371.94 270.58h.9v.9h-.9zM372.25 276.92h.9v.9h-.9z" fill-opacity="0.25"/>
<path d="M372.66 270.99h.9v.9h-.9zM372.29 275.4h.9v.9h-.9zM369.99 276.56h.9v.9h-.9zM369.45 274.99h.9v.9h-.9zM382.96 272.04h.9v.9h-.9zM372.08 263h.9v.9h-.9zM376.56 270.63h.9v.9h-.9zM377.48 266.35h.9v.9h-.9zM374.73 268.46h.9v.9h-.9zM365.49 270.49h.9v.9h-.9zM376.12 274.38h.9v.9h-.9zM366.49 263.97h.9v.9h-.9zM367.26 264.02h.9v.9h-.9zM371.05 272.25h.9v.9h-.9zM382.98 271.8h.9v.9h-.9zM380.43 259.96h.9v.9h-.9zM380.92 275.67h.9v.9h-.9zM374.94 275.83h.9v.9h-.9zM376.92 259.4h.9v.9h-.9zM363.07 280.88h.9v.9h-.9zM372.1 279.03h.9v.9h-.9zM370.69 266.35h.9v.9h-.9zM370.69 272.57h.9v.9h-.9zM373.56 266.58h.9v.9h-.9zM375.46 274.51h.9v.9h-.9zM367.57 263.41h.9v.9h-.9zM372.61 266.09h.9v.9h-.9zM369.28 269.69h.9v.9h-.9zM372.71 274.21h.9v.9h-.9zM377.07 273.36h.9v.9h-.9zM378.63 264.33h.9v.9h-.9zM375.84 272.94h.9v.9h-.9zM366.88 266.21h.9v.9h-.9zM374.96 271.03h.9v.9h-.9zM365.72 267h.9v.9h-.9zM380.84 275.96h.9v.9h-.9zM372.99 279.21h.9v.9h-.9zM367.62 269.45h.9v.9h-.9zM377.76 268.39h.9v.9h-.9zM366.48 274.31h.9v.9h-.9z" fill-opacity="0.25"/>
<path d="M373.39 262.53h.9v.9h-.9zM370.93 261.48h.9v.9h-.9zM372.79 266.02h.9v.9h-.9zM367.17 267.63h.9v.9h-.9zM374.11 280.61h.9v.9h-.9zM366.76 271.01h.9v.9h-.9zM370.17 260.49h.9v.9h-.9zM373.88 265.71h.9v.9h-.9zM369.42 263.91h.9v.9h-.9zM378.12 267.96h.9v.9h-.9zM371.76 271.71h.9v.9h-.9zM365.89 272.04h.9v.9h-.9zM371.62 273.41h.9v.9h-.9zM370.46 270.8h.9v.9h-.9zM375.37 276.76h.9v.9h-.9zM368.8 276.79h.9v.9h-.9zM367.19 269.34h.9v.9h-.9zM373.26 271.48h.9v.9h-.9zM371.55 276.49h.9v.9h-.9zM368.72 280.25h.9v.9h-.9zM375.48 270.66h.9v.9h-.9zM373.99 276.55h.9v.9h-.9zM368.17 274.34h.9v.9h-.9zM378.33 269.05h.9v.9h-.9zM367.91 263.75h.9v.9h-.9zM374.89 265.38h.9v.9h-.9zM386.03 274.21h.9v.9h-.9zM365.45 268.71h.9v.9h-.9zM380.86 274.92h.9v.9h-.9zM367.01 277.2h.9v.9h-.9zM369.55 274.38h.9v.9h-.9zM375.62 267.7h.9v.9h-.9zM371.72 277.99h.9v.9h-.9zM375.26 270.16h.9v.9h-.9zM377.62 273.61h.9v.9h-.9zM374.34 260.5h.9v.9h-.9zM373.29 267.42h.9v.9h-.9zM376.53 266.65h.9v.9h-.9zM374.99 263.8h.9v.9h-.9zM377.42 265.87h.9v.9h-.9z" fill-opacity="0.25"/>
<path d="M372.4 274.26h.9v.9h-.9zM370.79 270.6h.9v.9h-.9zM376.22 276.59h.9v.9h-.9zM369.97 271.16h.9v.9h-.9zM371.47 262.9h.9v.9h-.9zM364.11 262.35h.9v.9h-.9zM379.63 268.05h.9v.9h-.9zM383.15 274.65h.9v.9h-.9zM374.63 274.69h.9v.9h-.9zM376.84 276.46h.9v.9h-.9zM367.25 266.97h.9v.9h-.9zM369.57 271.22h.9v.9h-.9zM371.19 262.64h.9v.9h-.9zM384.08 265.05h.9v.9h-.9zM374.62 270.32h.9v.9h-.9zM367.95 275.13h.9v.9h-.9zM372.17 281.27h.9v.9h-.9zM375.03 268.55h.9v.9h-.9zM377.16 265.97h.9v.9h-.9zM377.35 274.94h.9v.9h-.9zM374.29 275.39h.9v.9h-.9zM373.39 270.45h.9v.9h-.9zM370.67 268.68h.9v.9h-.9zM372.57 263.73h.9v.9h-.9zM376.04 268.46h.9v.9h-.9zM375.39 267.3h.9v.9h-.9zM374.78 271.36h.9v.9h-.9zM377.39 273.52h.9v.9h-.9zM377.62 269.48h.9v.9h-.9zM372.25 268.87h.9v.9h-.9zM365.74 269.75h.9v.9h-.9zM378.46 275.49h.9v.9h-.9zM367.93 272.47h.9v.9h-.9zM376.63 261.83h.9v.9h-.9zM374.45 272.66h.9v.9h-.9zM376.62 272.19h.9v.9h-.9zM363.09 257.62h.9v.9h-.9zM383.33 268.02h.9v.9h-.9zM379.47 278.66h.9v.9h-.9zM373.03 263.22h.9v.9h-.9z" fill-opacity="0.25"/>
<path d="M379.98 270.31h.9v.9h-.9zM375.37 273.62h.9v.9h-.9zM377.73 277.04h.9v.9h-.9zM364.83 261.52h.9v.9h-.9zM373.32 270.61h.9v.9h-.9zM376.78 269.69h.9v.9h-.9zM380.02 277.98h.9v.9h-.9zM378.18 265.5h.9v.9h-.9zM372.09 270.1h.9v.9h-.9zM366.6 264.98h.9v.9h-.9zM373.42 262.77h.9v.9h-.9zM375.5 273.58h.9v.9h-.9zM371.27 268.38h.9v.9h-.9zM375.82 273.62h.9v.9h-.9zM374.54 262.72h.9v.9h-.9zM369 268.21h.9v.9h-.9zM368.57 275.65h.9v.9h-.9zM370.31 267.41h.9v.9h-.9zM368.34 267.73h.9v.9h-.9zM363.98 272.26h.9v.9h-.9zM379.04 271.53h.9v.9h-.9zM369.64 278.63h.9v.9h-.9zM375.2 263.96h.9v.9h-.9zM369.44 266.64h.9v.9h-.9zM372.3 278.31h.9v.9h-.9zM368.72 269.61h.9v.9h-.9zM373.16 262.94h.9v.9h-.9zM369.96 274.47h.9v.9h-.9zM378.7 258.57h.9v.9h-.9zM376.39 268.69h.9v.9h-.9zM379.56 274.52h.9v.9h-.9zM383.25 272.53h.9v.9h-.9zM370.4 265.23h.9v.9h-.9zM364.77 274.09h.9v.9h-.9zM375.35 275.78h.9v.9h-.9zM374.46 260.99h.9v.9h-.9zM370.34 269h.9v.9h-.9zM373.42 275.45h.9v.9h-.9zM380.26 272.37h.9v.9h-.9zM366.04 272.08h.9v.9h-.9z" fill-opacity="0.25"/>
<path d="M371.35 277.67h.9v.9h-.9zM378.42 267.64h.9v.9h-.9zM377.69 270.63h.9v.9h-.9zM375.03 279.15h.9v.9h-.9zM366.31 270.12h.9v.9h-.9zM380.91 265.68h.9v.9h-.9zM373.72 271.4h.9v.9h-.9zM370.29 262.21h.9v.9h-.9zM368.82 264.29h.9v.9h-.9zM378.43 272.14h.9v.9h-.9zM376.37 262.97h.9v.9h-.9zM375.28 271.47h.9v.9h-.9zM378.25 265.95h.9v.9h-.9zM376.96 279.3h.9v.9h-.9zM382.35 264.62h.9v.9h-.9zM366.45 261.22h.9v.9h-.9zM377.78 274.34h.9v.9h-.9zM374.41 265.03h.9v.9h-.9zM379.37 280.78h.9v.9h-.9zM372.36 269.79h.9v.9h-.9zM379.02 273.78h.9v.9h-.9zM379.86 267.98h.9v.9h-.9zM374.4 268.4h.9v.9h-.9zM369.46 268.66h.9v.9h-.9zM371.01 273.77h.9v.9h-.9zM370.9 271h.9v.9h-.9zM368.16 262.75h.9v.9h-.9zM380.32 264.29h.9v.9h-.9zM382.41 276.54h.9v.9h-.9zM370.29 270.68h.9v.9h-.9zM371.58 266.71h.9v.9h-.9zM379.36 269.74h.9v.9h-.9zM377.79 266.19h.9v.9h-.9zM368.8 279.04h.9v.9h-.9zM371.02 263.56h.9v.9h-.9zM371.63 277.25h.9v.9h-.9zM371.68 265.98h.9v.9h-.9zM376.01 276.81h.9v.9h-.9zM371.43 268.53h.9v.9h-.9zM371.75 273.14h.9v.9h-.9z" fill-opacity="0.25"/>
<path d="M372.84 268.54h.9v.9h-.9zM370.34 261.88h.9v.9h-.9zM364.47 271.62h.9v.9h-.9zM369.09 269.99h.9v.9h-.9zM371.58 267.33h.9v.9h-.9zM366.56 267.32h.9v.9h-.9zM370.96 263.22h.9v.9h-.9zM367.35 276.04h.9v.9h-.9zM377.62 271.39h.9v.9h-.9zM379.26 265.37h.9v.9h-.9zM378.45 281.26h.9v.9h-.9zM368.19 263.35h.9v.9h-.9zM372.32 265.43h.9v.9h-.9zM376.02 263.53h.9v.9h-.9zM373.02 258.12h.9v.9h-.9zM372.39 277.23h.9v.9h-.9zM371.13 272.54h.9v.9h-.9zM378.49 263.58h.9v.9h-.9zM365.66 271.07h.9v.9h-.9zM374.07 268.85h.9v.9h-.9zM367.3 278.26h.9v.9h-.9zM366.25 268.9h.9v.9h-.9zM372.34 275.16h.9v.9h-.9zM370.14 265.34h.9v.9h-.9zM383.5 265.19h.9v.9h-.9zM376.9 269.58h.9v.9h-.9zM369.98 270.27h.9v.9h-.9zM371.18 272.53h.9v.9h-.9zM372.96 264.39h.9v.9h-.9zM382.59 274.63h.9v.9h-.9zM373.83 268.62h.9v.9h-.9zM380.11 267.71h.9v.9h-.9zM368.11 274.95h.9v.9h-.9zM367.32 265.54h.9v.9h-.9zM380.43 260.36h.9v.9h-.9zM372.21 271.31h.9v.9h-.9zM373.97 261.31h.9v.9h-.9zM371.34 268.44h.9v.9h-.9zM383.01 276.93h.9v.9h-.9zM368.47 276.1h.9v.9h-.9z" fill-opacity="0.25"/>
<path d="M376.12 269.84h.9v.9h-.9zM371.25 268.81h.9v.9h-.9zM364.2 266.56h.9v.9h-.9zM377.65 279.72h.9v.9h-.9zM382.64 268.17h.9v.9h-.9zM375.92 255.29h.9v.9h-.9zM371.11 262.54h.9v.9h-.9zM377.04 260.04h.9v.9h-.9zM366.92 263.54h.9v.9h-.9zM374.72 275.87h.9v.9h-.9zM373.45 265.27h.9v.9h-.9zM374.47 270.46h.9v.9h-.9zM377.09 272.74h.9v.9h-.9zM384.46 277.97h.9v.9h-.9zM369.11 275.55h.9v.9h-.9zM376.71 264.21h.9v.9h-.9zM368.51 265.43h.9v.9h-.9zM371.4 278.37h.9v.9h-.9zM369.54 271.03h.9v.9h-.9zM376.51 276.69h.9v.9h-.9zM374.31 263.96h.9v.9h-.9zM384.53 276.06h.9v.9h-.9zM379.97 280.82h.9v.9h-.9zM380.2 273.19h.9v.9h-.9zM375.15 274.56h.9v.9h-.9zM364.42 275.71h.9v.9h-.9zM367.29 273.23h.9v.9h-.9zM367.1 275.09h.9v.9h-.9zM373.62 273.78h.9v.9h-.9zM367.67 268.73h.9v.9h-.9zM372.27 268.73h.9v.9h-.9zM370.22 265.01h.9v.9h-.9zM376.72 268.13h.9v.9h-.9zM368.16 272.87h.9v.9h-.9zM368.18 269.45h.9v.9h-.9zM369.81 264.69h.9v.9h-.9zM371.36 265.34h.9v.9h-.9zM365.79 272.79h.9v.9h-.9zM370.98 261.28h.9v.9h-.9zM370.45 271.74h.9v.9h-.9z" fill-opacity="0.25"/>
<path d="M374.91 272.92h.9v.9h-.9zM373.96 274.34h.9v.9h-.9zM369.91 265.5h.9v.9h-.9zM375.91 267.96h.9v.9h-.9zM372.64 274.68h.9v.9h-.9zM377.68 278.3h.9v.9h-.9zM368.86 268.21h.9v.9h-.9zM375.6 261.49h.9v.9h-.9zM365.77 274.4h.9v.9h-.9zM369.27 264.71h.9v.9h-.9zM376.94 273.92h.9v.9h-.9zM377.57 268.46h.9v.9h-.9zM371.03 268.41h.9v.9h-.9zM374.2 257.71h.9v.9h-.9zM368.84 275.04h.9v.9h-.9zM368.37 270.15h.9v.9h-.9zM373.27 273.85h.9v.9h-.9zM445.77 439.96h.9v.9h-.9zM442.05 448.71h.9v.9h-.9zM470.22 455.96h.9v.9h-.9zM451.37 454.85h.9v.9h-.9zM475.18 436.94h.9v.9h-.9zM448.22 440.39h.9v.9h-.9zM481.22 453.47h.9v.9h-.9zM441.64 441.36h.9v.9h-.9zM446.49 450.61h.9v.9h-.9zM459.58 458.2h.9v.9h-.9zM479.58 442.4h.9v.9h-.9zM451.9 447.59h.9v.9h-.9zM458.43 454.62h.9v.9h-.9zM447.98 456.35h.9v.9h-.9zM467.4 445h.9v.9h-.9zM485.95 443.91h.9v.9h-.9zM476.33 458.67h.9v.9h-.9zM482.27 459.15h.9v.9h-.9zM460.25 454.14h.9v.9h-.9zM479.42 442.7h.9v.9h-.9zM460.75 457.64h.9v.9h-.9zM476.85 442.88h.9v.9h-.9zM476.48 438.34h.9v.9h-.9z" fill-opacity="0.25"/>
<path d="M457.83 449.31h.9v.9h-.9zM453.59 435.8h.9v.9h-.9zM466.7 450.29h.9v.9h-.9zM470.99 439.54h.9v.9h-.9zM442 436.63h.9v.9h-.9zM465.2 436.45h.9v.9h-.9zM448.55 447.52h.9v.9h-.9zM456.97 451.99h.9v.9h-.9zM445.12 447.94h.9v.9h-.9zM459.24 440.24h.9v.9h-.9zM483.09 457.93h.9v.9h-.9zM485.81 441.58h.9v.9h-.9zM439.75 452.28h.9v.9h-.9zM482.71 443.91h.9v.9h-.9zM453.11 454.89h.9v.9h-.9zM465.64 449.75h.9v.9h-.9zM473.38 448.06h.9v.9h-.9zM478.72 448.91h.9v.9h-.9zM474.72 435.81h.9v.9h-.9zM462.15 457.25h.9v.9h-.9zM462.42 452.15h.9v.9h-.9zM464.57 457.92h.9v.9h-.9zM305.79 531.97h.9v.9h-.9zM319.5 542.16h.9v.9h-.9zM281.97 533.89h.9v.9h-.9zM305.81 534.06h.9v.9h-.9zM304.59 541.65h.9v.9h-.9zM318.05 527h.9v.9h-.9zM282.39 534.14h.9v.9h-.9zM312.75 536.62h.9v.9h-.9zM297.21 549.47h.9v.9h-.9zM318.59 548.61h.9v.9h-.9zM314.8 541.2h.9v.9h-.9zM298.11 537.2h.9v.9h-.9zM285.1 537.98h.9v.9h-.9zM282.03 539.32h.9v.9h-.9zM297.05 526.96h.9v.9h-.9zM302.85 536.65h.9v.9h-.9zM304.22 550.3h.9v.9h-.9zM315.9 536.59h.9v.9h-.9z" fill-opacity="0.25"/>
<path d="M303.33 552.59h.9v.9h-.9zM319.03 533.91h.9v.9h-.9zM291.93 530.95h.9v.9h-.9zM318.01 540.64h.9v.9h-.9zM290.31 550.02h.9v.9h-.9zM315.17 534.26h.9v.9h-.9zM303.57 536.59h.9v.9h-.9zM313.19 551.93h.9v.9h-.9zM316.01 533.49h.9v.9h-.9zM283.28 532.07h.9v.9h-.9zM302.34 546.96h.9v.9h-.9zM300.99 550.12h.9v.9h-.9zM295.33 540.45h.9v.9h-.9zM299.63 548.96h.9v.9h-.9zM303.38 539.02h.9v.9h-.9zM295.6 552.45h.9v.9h-.9zM298.57 527.37h.9v.9h-.9zM315.68 553.15h.9v.9h-.9zM309.4 536.18h.9v.9h-.9zM306.47 529.77h.9v.9h-.9zM287.39 535.69h.9v.9h-.9zM290.7 540.16h.9v.9h-.9zM308.52 542.4h.9v.9h-.9zM297.8 549.37h.9v.9h-.9zM294.94 530.99h.9v.9h-.9zM314.13 539.89h.9v.9h-.9zM284.64 544.95h.9v.9h-.9zM283.99 548.39h.9v.9h-.9zM297.76 542.02h.9v.9h-.9zM310.6 544.06h.9v.9h-.9zM317.86 535.97h.9v.9h-.9zM289.55 547.18h.9v.9h-.9zM317.72 543.34h.9v.9h-.9zM287.27 541.57h.9v.9h-.9zM290.16 538.82h.9v.9h-.9zM315.65 533.02h.9v.9h-.9zM318.54 544.12h.9v.9h-.9zM304.57 531.21h.9v.9h-.9zM297.35 550.64h.9v.9h-.9zM306.47 551.18h.9v.9h-.9z" fill-opacity="0.25"/>
<path d="M310.98 551.26h.9v.9h-.9zM293.29 533.97h.9v.9h-.9zM286.52 529.92h.9v.9h-.9zM308.24 537.16h.9v.9h-.9zM288.88 534.53h.9v.9h-.9zM291.42 536.81h.9v.9h-.9zM302.72 552.69h.9v.9h-.9zM301.51 552.87h.9v.9h-.9zM310.84 541.75h.9v.9h-.9zM301.5 530.51h.9v.9h-.9zM302.19 534.94h.9v.9h-.9zM281.6 536.86h.9v.9h-.9zM283.94 539.72h.9v.9h-.9zM299.66 530.12h.9v.9h-.9zM316.28 538.73h.9v.9h-.9zM294.05 543.49h.9v.9h-.9zM285.49 538.37h.9v.9h-.9zM302.51 530.55h.9v.9h-.9zM286.41 530.69h.9v.9h-.9zM314.17 543.66h.9v.9h-.9zM314.5 542.78h.9v.9h-.9zM303.34 538.66h.9v.9h-.9zM293.93 540.15h.9v.9h-.9zM287.88 552.23h.9v.9h-.9zM299.22 532.64h.9v.9h-.9zM314.04 551.09h.9v.9h-.9zM288.58 550.37h.9v.9h-.9zM315.72 541.08h.9v.9h-.9zM294.16 526.97h.9v.9h-.9zM306.51 541.14h.9v.9h-.9zM315.7 544.36h.9v.9h-.9zM314.82 545.2h.9v.9h-.9zM308.02 552.14h.9v.9h-.9zM296.71 553.37h.9v.9h-.9zM303.79 533.34h.9v.9h-.9zM313.31 547.09h.9v.9h-.9zM291.04 539.45h.9v.9h-.9zM287.98 547.19h.9v.9h-.9zM309.53 545.18h.9v.9h-.9zM290.82 530.13h.9v.9h-.9z" fill-opacity="0.25"/>
<path d="M302.31 538.72h.9v.9h-.9zM291.12 551.21h.9v.9h-.9zM305.81 537.78h.9v.9h-.9zM308.28 531.94h.9v.9h-.9zM310.65 530.03h.9v.9h-.9zM303.64 544.01h.9v.9h-.9zM296.22 552.61h.9v.9h-.9zM319.05 543.61h.9v.9h-.9zM289.18 532.82h.9v.9h-.9zM312.21 536.45h.9v.9h-.9zM296.06 540.51h.9v.9h-.9zM294.39 529.75h.9v.9h-.9zM293.63 536.76h.9v.9h-.9zM294.28 527.64h.9v.9h-.9zM311.76 550.66h.9v.9h-.9zM287.37 546.42h.9v.9h-.9zM308.32 547.25h.9v.9h-.9zM312.64 536.77h.9v.9h-.9zM294.49 548.83h.9v.9h-.9zM309.44 538.66h.9v.9h-.9zM298.79 542.95h.9v.9h-.9zM286.73 530.14h.9v.9h-.9zM303.81 542.62h.9v.9h-.9zM309.8 528.59h.9v.9h-.9zM311.34 528.13h.9v.9h-.9zM292.59 527.03h.9v.9h-.9zM288.2 544.22h.9v.9h-.9zM309.93 550.27h.9v.9h-.9zM314.66 550.65h.9v.9h-.9zM289.77 540.96h.9v.9h-.9zM288.35 544.53h.9v.9h-.9zM291 551.29h.9v.9h-.9zM311.97 547.64h.9v.9h-.9zM317.07 534.11h.9v.9h-.9zM316.09 542.17h.9v.9h-.9zM313.61 545.59h.9v.9h-.9zM302.77 527.72h.9v.9h-.9zM315.86 543.72h.9v.9h-.9zM289.28 540.03h.9v.9h-.9zM296.26 552.06h.9v.9h-.9z" fill-opacity="0.25"/>
<path d="M293.37 527.27h.9v.9h-.9zM319.38 549.78h.9v.9h-.9zM287.86 544.4h.9v.9h-.9zM285.74 549.47h.9v.9h-.9zM297.14 532.73h.9v.9h-.9zM304.82 549.19h.9v.9h-.9zM305.4 528.97h.9v.9h-.9zM306.23 536.51h.9v.9h-.9zM315.6 551.04h.9v.9h-.9zM312.49 543.21h.9v.9h-.9zM312.27 535.81h.9v.9h-.9zM305.82 552.79h.9v.9h-.9zM286.44 547.5h.9v.9h-.9zM303.96 527.99h.9v.9h-.9zM311.38 546.14h.9v.9h-.9zM289.77 553.32h.9v.9h-.9zM308.46 547.57h.9v.9h-.9zM300.51 530.75h.9v.9h-.9zM292.12 548.09h.9v.9h-.9zM315.08 535.02h.9v.9h-.9zM313 529.93h.9v.9h-.9zM293.91 547.57h.9v.9h-.9zM308.31 531.15h.9v.9h-.9zM318.37 544.47h.9v.9h-.9zM312.26 553.11h.9v.9h-.9zM313.39 542.63h.9v.9h-.9zM293.49 537.02h.9v.9h-.9zM314 553.19h.9v.9h-.9zM318.19 543.31h.9v.9h-.9zM293.64 539.8h.9v.9h-.9zM308.74 530.9h.9v.9h-.9zM305.43 527.9h.9v.9h-.9zM293.7 540.61h.9v.9h-.9zM316.52 549.28h.9v.9h-.9zM301.78 532.12h.9v.9h-.9zM299.82 533.67h.9v.9h-.9zM319.19 526.87h.9v.9h-.9zM298.19 533.96h.9v.9h-.9zM302.35 542.65h.9v.9h-.9zM298.87 526.88h.9v.9h-.9z" fill-opacity="0.25"/>
<path d="M318.19 535.02h.9v.9h-.9zM298.19 538.74h.9v.9h-.9zM292.12 533.95h.9v.9h-.9zM286.06 551.51h.9v.9h-.9zM309.91 537.26h.9v.9h-.9zM315.26 527.79h.9v.9h-.9zM307.32 547.51h.9v.9h-.9zM315.25 545.27h.9v.9h-.9zM286.4 544.74h.9v.9h-.9zM298.1 537.66h.9v.9h-.9zM309.71 544.6h.9v.9h-.9zM299.32 531.68h.9v.9h-.9zM315.58 540.72h.9v.9h-.9zM292.27 538.3h.9v.9h-.9zM306.82 534.14h.9v.9h-.9zM298.91 546.07h.9v.9h-.9zM306.27 540.81h.9v.9h-.9zM306.73 535.58h.9v.9h-.9zM318.38 553.25h.9v.9h-.9zM313.26 545.04h.9v.9h-.9zM283.9 536.05h.9v.9h-.9zM292.08 551.64h.9v.9h-.9zM386.31 544.1h.9v.9h-.9zM388.35 548.22h.9v.9h-.9zM369.57 537.22h.9v.9h-.9zM386.8 553.44h.9v.9h-.9zM384.01 552.53h.9v.9h-.9zM384.69 544.86h.9v.9h-.9zM362.33 552.52h.9v.9h-.9zM378.64 538.27h.9v.9h-.9zM367.96 537.83h.9v.9h-.9zM362.12 545.72h.9v.9h-.9zM383.67 553.47h.9v.9h-.9zM380.63 549.42h.9v.9h-.9zM388.72 545.48h.9v.9h-.9zM362.7 545.32h.9v.9h-.9zM367.8 535.55h.9v.9h-.9zM371.57 542.17h.9v.9h-.9zM386.74 531.66h.9v.9h-.9zM383.79 551.37h.9v.9h-.9z" fill-opacity="0.25"/>
<path d="M371.28 532.4h.9v.9h-.9zM381.68 531.86h.9v.9h-.9zM365.33 553.46h.9v.9h-.9zM372.85 548.88h.9v.9h-.9zM377.99 527.56h.9v.9h-.9zM378.7 535.59h.9v.9h-.9zM364.93 531.02h.9v.9h-.9zM381.2 534.37h.9v.9h-.9zM366.08 547.05h.9v.9h-.9zM372.05 533h.9v.9h-.9zM362.18 535.11h.9v.9h-.9zM376.8 536.52h.9v.9h-.9zM386.23 539.63h.9v.9h-.9zM359.66 527.59h.9v.9h-.9zM370.5 548.59h.9v.9h-.9zM387.74 536.23h.9v.9h-.9zM393.26 541.31h.9v.9h-.9zM381.91 545.85h.9v.9h-.9zM389.91 546.27h.9v.9h-.9zM364.93 531.66h.9v.9h-.9zM371.85 537.02h.9v.9h-.9zM394.25 538.46h.9v.9h-.9zM368.26 533.05h.9v.9h-.9zM367.97 543.07h.9v.9h-.9zM360.3 534.27h.9v.9h-.9zM388.82 530.05h.9v.9h-.9zM389.96 537.56h.9v.9h-.9zM385.66 541.75h.9v.9h-.9zM360.28 552.14h.9v.9h-.9zM367.61 530.48h.9v.9h-.9zM372.99 551.38h.9v.9h-.9zM374.95 548.02h.9v.9h-.9zM370.86 535.62h.9v.9h-.9zM361.78 533.29h.9v.9h-.9zM392.94 538.7h.9v.9h-.9zM389.65 529.48h.9v.9h-.9zM382.7 542.08h.9v.9h-.9zM367.1 548.32h.9v.9h-.9zM379.98 537.27h.9v.9h-.9zM374.04 534.68h.9v.9h-.9z" fill-opacity="0.25"/>
<path d="M376.55 550.04h.9v.9h-.9zM382.3 541.55h.9v.9h-.9zM363.46 528.93h.9v.9h-.9zM366.99 542.14h.9v.9h-.9zM373.25 548.46h.9v.9h-.9zM367.1 552.52h.9v.9h-.9zM361.59 544.98h.9v.9h-.9zM376.27 549.71h.9v.9h-.9zM362.36 548.05h.9v.9h-.9zM385.5 541.51h.9v.9h-.9zM386.03 544.83h.9v.9h-.9zM379.7 535.92h.9v.9h-.9zM389.07 534.1h.9v.9h-.9zM378.67 527.6h.9v.9h-.9zM366.01 533.07h.9v.9h-.9zM391.65 531.31h.9v.9h-.9zM387.28 532.5h.9v.9h-.9zM379.53 542.96h.9v.9h-.9zM385.77 550.39h.9v.9h-.9zM362.04 535.77h.9v.9h-.9zM380.32 549.13h.9v.9h-.9zM383.76 552.35h.9v.9h-.9zM375.68 548.36h.9v.9h-.9zM372.35 553.27h.9v.9h-.9zM364.26 550.89h.9v.9h-.9zM366.07 542.39h.9v.9h-.9zM391.02 546.99h.9v.9h-.9zM391.97 548.23h.9v.9h-.9zM385.08 552.87h.9v.9h-.9zM384.77 548.16h.9v.9h-.9zM360.48 551.79h.9v.9h-.9zM391.79 538.23h.9v.9h-.9zM362.54 539.45h.9v.9h-.9zM371.6 532.89h.9v.9h-.9zM384.09 543.5h.9v.9h-.9zM380.86 552.73h.9v.9h-.9zM366.68 550.69h.9v.9h-.9zM382.18 534.33h.9v.9h-.9zM393.91 542.93h.9v.9h-.9zM359.95 529.08h.9v.9h-.9z" fill-opacity="0.25"/>
<path d="M379.91 553.07h.9v.9h-.9zM361.33 529h.9v.9h-.9zM384.68 543.74h.9v.9h-.9zM388.3 528.89h.9v.9h-.9zM378.34 538.35h.9v.9h-.9zM367.66 551.37h.9v.9h-.9zM390.69 544.56h.9v.9h-.9zM388.39 548.39h.9v.9h-.9zM378.87 552.47h.9v.9h-.9zM361.62 550.69h.9v.9h-.9zM374.06 535.04h.9v.9h-.9zM377.57 550.84h.9v.9h-.9zM382.16 546.65h.9v.9h-.9zM383.3 536.48h.9v.9h-.9zM387.18 542.97h.9v.9h-.9zM364.41 531.99h.9v.9h-.9zM363.32 538.84h.9v.9h-.9zM365.07 542.4h.9v.9h-.9zM363.49 547.42h.9v.9h-.9zM389.84 548.58h.9v.9h-.9zM369.24 545.58h.9v.9h-.9zM372.03 537.51h.9v.9h-.9zM449 543.48h.9v.9h-.9zM487.45 547.15h.9v.9h-.9zM470.86 552.32h.9v.9h-.9zM475.51 542.59h.9v.9h-.9zM440.78 543.98h.9v.9h-.9zM470.9 551.25h.9v.9h-.9zM442.87 548.57h.9v.9h-.9zM445.61 548.27h.9v.9h-.9zM480.27 536.02h.9v.9h-.9zM438.83 528.25h.9v.9h-.9zM464.54 531.73h.9v.9h-.9zM465.9 553.22h.9v.9h-.9zM474.41 551.39h.9v.9h-.9zM477.57 532.95h.9v.9h-.9zM442.08 553.02h.9v.9h-.9zM485.77 536.95h.9v.9h-.9zM466.96 551.43h.9v.9h-.9zM453.23 537.62h.9v.9h-.9z" fill-opacity="0.25"/>
<path d="M463.58 550.43h.9v.9h-.9zM441.37 542.84h.9v.9h-.9zM464.15 537.75h.9v.9h-.9zM447.51 539.16h.9v.9h-.9zM467.15 530.76h.9v.9h-.9zM474.09 540.12h.9v.9h-.9zM456.06 536.1h.9v.9h-.9zM469.97 533.06h.9v.9h-.9zM469.5 539.28h.9v.9h-.9zM440.84 534.21h.9v.9h-.9zM440.82 530.06h.9v.9h-.9zM449.57 532.07h.9v.9h-.9zM466.56 534.47h.9v.9h-.9zM456.35 546.69h.9v.9h-.9zM438.65 533.92h.9v.9h-.9zM445.82 534.46h.9v.9h-.9zM443.32 536.58h.9v.9h-.9zM476.35 527.73h.9v.9h-.9zM442.78 540.97h.9v.9h-.9zM447.67 540.22h.9v.9h-.9zM462.67 533.81h.9v.9h-.9zM456.64 545.33h.9v.9h-.9zM438.32 533h.9v.9h-.9zM465.43 529.97h.9v.9h-.9zM460.44 552.79h.9v.9h-.9zM443.44 535.13h.9v.9h-.9zM466.47 535.72h.9v.9h-.9zM464.3 530.37h.9v.9h-.9zM470.21 539.32h.9v.9h-.9zM484.83 549.63h.9v.9h-.9zM446.11 530h.9v.9h-.9zM444 547.97h.9v.9h-.9zM454.29 532.93h.9v.9h-.9zM440.92 536.93h.9v.9h-.9zM468.59 552.83h.9v.9h-.9zM453.64 548.54h.9v.9h-.9zM486.31 537.96h.9v.9h-.9zM446.82 528.41h.9v.9h-.9zM450.32 533.19h.9v.9h-.9zM467.17 536.03h.9v.9h-.9z" fill-opacity="0.25"/>
<path d="M473.88 542.32h.9v.9h-.9zM467.5 544.83h.9v.9h-.9zM458.25 544.61h.9v.9h-.9zM441.27 539.39h.9v.9h-.9zM460.67 539.36h.9v.9h-.9zM475.79 543.55h.9v.9h-.9zM440.79 540.64h.9v.9h-.9zM477.64 551.25h.9v.9h-.9zM453.84 551.38h.9v.9h-.9zM454.46 548.75h.9v.9h-.9zM480.19 533.67h.9v.9h-.9zM469.55 540.68h.9v.9h-.9zM473.63 551.98h.9v.9h-.9zM446.37 553.06h.9v.9h-.9zM439.24 528.03h.9v.9h-.9zM465.08 532.25h.9v.9h-.9zM454.1 540.81h.9v.9h-.9zM464.47 534.63h.9v.9h-.9zM444.02 550.03h.9v.9h-.9zM472.33 549.2h.9v.9h-.9zM484.08 550.09h.9v.9h-.9zM462.72 529.04h.9v.9h-.9zM482.93 536.46h.9v.9h-.9zM469.76 531.55h.9v.9h-.9zM457.37 545.06h.9v.9h-.9zM460.49 530.42h.9v.9h-.9zM456.12 538.92h.9v.9h-.9zM484.85 550.19h.9v.9h-.9zM480.11 527.63h.9v.9h-.9zM484.72 545.8h.9v.9h-.9zM439.85 540.13h.9v.9h-.9zM483.37 538.25h.9v.9h-.9z" fill-opacity="0.25"/>
<path d="M319.98 436.71h.9v.9h-.9zM323.99 448.89h.9v.9h-.9zM319.5 444.3h.9v.9h-.9zM322.41 450.99h.9v.9h-.9zM321.22 437.48h.9v.9h-.9zM319.82 426.32h.9v.9h-.9zM323.37 446.67h.9v.9h-.9zM326.06 442.24h.9v.9h-.9zM321.05 430.37h.9v.9h-.9zM318.85 432.33h.9v.9h-.9zM323.57 440.46h.9v.9h-.9zM315.28 438.54h.9v.9h-.9zM321.6 429.1h.9v.9h-.9zM322.45 444.86h.9v.9h-.9zM319.25 426.03h.9v.9h-.9zM321.49 442.18h.9v.9h-.9zM321.7 455h.9v.9h-.9zM322.97 429.52h.9v.9h-.9zM324.96 433.08h.9v.9h-.9zM324.69 440.55h.9v.9h-.9zM326.41 429.59h.9v.9h-.9zM324.8 443.8h.9v.9h-.9zM319.66 446.59h.9v.9h-.9zM329.68 443.12h.9v.9h-.9zM320.09 438.03h.9v.9h-.9zM326.63 442.11h.9v.9h-.9zM327.2 433.03h.9v.9h-.9zM326.66 423.78h.9v.9h-.9zM321.99 436.6h.9v.9h-.9zM320.97 451.79h.9v.9h-.9zM320.62 443.07h.9v.9h-.9zM328.39 447.81h.9v.9h-.9zM321.21 432.24h.9v.9h-.9zM316.17 443.35h.9v.9h-.9zM325.33 450.63h.9v.9h-.9zM319.73 447.54h.9v.9h-.9zM321.26 447.93h.9v.9h-.9zM330.65 431.93h.9v.9h-.9zM329.54 438.75h.9v.9h-.9zM317.86 440.53h.9v.9h-.9z" fill-opacity="0.45"/>
<path d="M325.39 433.74h.9v.9h-.9zM327.54 430.83h.9v.9h-.9zM321.91 448.78h.9v.9h-.9zM321.85 433.98h.9v.9h-.9zM322.47 446.11h.9v.9h-.9zM328.03 453.14h.9v.9h-.9zM328.48 439.27h.9v.9h-.9zM317.25 439.14h.9v.9h-.9zM321.22 429.59h.9v.9h-.9zM320.89 438.88h.9v.9h-.9zM322.7 448.72h.9v.9h-.9zM319.62 451.03h.9v.9h-.9zM322.67 446.91h.9v.9h-.9zM326.49 427.17h.9v.9h-.9zM327.61 432.37h.9v.9h-.9zM323.8 450.44h.9v.9h-.9zM325.47 423.89h.9v.9h-.9zM323.05 450.92h.9v.9h-.9zM322.15 438.76h.9v.9h-.9zM322.76 455.99h.9v.9h-.9zM320.81 430.12h.9v.9h-.9zM319.01 434.26h.9v.9h-.9zM321.79 443.03h.9v.9h-.9zM322.27 422.36h.9v.9h-.9zM317.52 446.37h.9v.9h-.9zM324.85 425.99h.9v.9h-.9zM329.95 445.46h.9v.9h-.9zM317.25 444.67h.9v.9h-.9zM322.43 435.01h.9v.9h-.9zM321.37 437.32h.9v.9h-.9zM322.22 430.51h.9v.9h-.9zM320.73 445.14h.9v.9h-.9zM324.23 426.23h.9v.9h-.9zM320.97 455.23h.9v.9h-.9zM324.83 456.08h.9v.9h-.9zM318.23 429.15h.9v.9h-.9zM315.61 420.13h.9v.9h-.9zM321.34 429.04h.9v.9h-.9zM319.06 432.58h.9v.9h-.9zM321.95 447.89h.9v.9h-.9z" fill-opacity="0.45"/>
<path d="M324.33 421.95h.9v.9h-.9zM327.31 436.25h.9v.9h-.9zM319.34 439.25h.9v.9h-.9zM321.26 425.65h.9v.9h-.9zM327.53 433.76h.9v.9h-.9zM320.62 444.94h.9v.9h-.9zM327.9 444.4h.9v.9h-.9zM319.67 443.94h.9v.9h-.9zM326.09 443.36h.9v.9h-.9zM324.62 434.74h.9v.9h-.9zM322.33 422.7h.9v.9h-.9zM320.25 428.17h.9v.9h-.9zM322.57 454.53h.9v.9h-.9zM315.35 426.33h.9v.9h-.9zM319.57 438.66h.9v.9h-.9zM326.27 431.76h.9v.9h-.9zM320.03 451.71h.9v.9h-.9zM323.74 444.84h.9v.9h-.9zM325.22 432.13h.9v.9h-.9zM323.26 432.96h.9v.9h-.9zM320.24 440.9h.9v.9h-.9zM323.94 426.78h.9v.9h-.9zM320.08 445.67h.9v.9h-.9zM323.08 446.22h.9v.9h-.9zM321.54 431.5h.9v.9h-.9zM325.05 445.58h.9v.9h-.9zM313.44 448.24h.9v.9h-.9zM320.11 446.25h.9v.9h-.9zM327.58 436.75h.9v.9h-.9zM319.43 442.13h.9v.9h-.9zM322.83 445.23h.9v.9h-.9zM318.04 442.02h.9v.9h-.9zM325.41 446.57h.9v.9h-.9zM324.56 451.57h.9v.9h-.9zM319.9 451.82h.9v.9h-.9zM323.22 429.58h.9v.9h-.9zM321.59 442.28h.9v.9h-.9zM323.61 453.09h.9v.9h-.9zM323.16 434.43h.9v.9h-.9zM329.56 436.24h.9v.9h-.9z" fill-opacity="0.45"/>
<path d="M319.9 448.85h.9v.9h-.9zM321.21 431.65h.9v.9h-.9zM319.13 451.46h.9v.9h-.9zM319.14 440.59h.9v.9h-.9zM321.08 437.64h.9v.9h-.9zM319.92 441.08h.9v.9h-.9zM324.49 450.13h.9v.9h-.9zM321.4 427.88h.9v.9h-.9zM317.79 439.65h.9v.9h-.9zM314.57 452.92h.9v.9h-.9zM322.64 440.81h.9v.9h-.9zM318.07 433.11h.9v.9h-.9zM320.16 446.34h.9v.9h-.9zM321.23 445.78h.9v.9h-.9zM324.2 420.28h.9v.9h-.9zM321.8 452.23h.9v.9h-.9zM320.9 440.88h.9v.9h-.9zM322.14 427.3h.9v.9h-.9zM329.56 438.26h.9v.9h-.9zM324.6 435.1h.9v.9h-.9zM327.05 451.14h.9v.9h-.9zM326.34 449.14h.9v.9h-.9zM324.8 453.5h.9v.9h-.9zM323.84 440.97h.9v.9h-.9zM325.15 430.67h.9v.9h-.9zM314.4 447.74h.9v.9h-.9zM323.04 432.56h.9v.9h-.9zM321.69 430.06h.9v.9h-.9zM319.85 441.5h.9v.9h-.9zM322.94 447.95h.9v.9h-.9zM322.25 445.95h.9v.9h-.9zM324.74 432.6h.9v.9h-.9zM317.12 432.76h.9v.9h-.9zM321.74 434.3h.9v.9h-.9zM329.64 432.8h.9v.9h-.9zM324.07 431.98h.9v.9h-.9zM324.77 427.01h.9v.9h-.9zM325.61 441.45h.9v.9h-.9zM321.26 427.68h.9v.9h-.9zM327.91 433.85h.9v.9h-.9z" fill-opacity="0.45"/>
<path d="M318.69 457.76h.9v.9h-.9zM328.28 439.83h.9v.9h-.9zM325.76 445.72h.9v.9h-.9zM321.4 440.95h.9v.9h-.9zM318.87 426.24h.9v.9h-.9zM322.95 446.95h.9v.9h-.9zM323.06 427.39h.9v.9h-.9zM325.27 440.54h.9v.9h-.9zM324.96 436.77h.9v.9h-.9zM321.7 450.17h.9v.9h-.9zM326.95 427.64h.9v.9h-.9zM318.99 449.34h.9v.9h-.9zM323.7 440.18h.9v.9h-.9zM319.4 449.77h.9v.9h-.9zM323.15 441.84h.9v.9h-.9zM323.79 434.44h.9v.9h-.9zM323.83 440.98h.9v.9h-.9zM324.86 443.46h.9v.9h-.9zM318.43 432.6h.9v.9h-.9zM321.69 451.28h.9v.9h-.9zM320.46 450.99h.9v.9h-.9zM326.01 448.41h.9v.9h-.9zM329.79 439.59h.9v.9h-.9zM323.58 451.85h.9v.9h-.9zM323.86 449.6h.9v.9h-.9zM322.13 453.8h.9v.9h-.9zM323.68 420.58h.9v.9h-.9zM326.03 437.77h.9v.9h-.9zM319.72 436.7h.9v.9h-.9zM321.64 451.12h.9v.9h-.9zM323.62 438.98h.9v.9h-.9zM322.5 430.72h.9v.9h-.9zM320.49 435.03h.9v.9h-.9zM321.82 428.06h.9v.9h-.9zM321.26 449.68h.9v.9h-.9zM324 439.68h.9v.9h-.9zM323.66 437.28h.9v.9h-.9zM318.74 448.48h.9v.9h-.9zM329.76 444.78h.9v.9h-.9zM318.66 444.93h.9v.9h-.9z" fill-opacity="0.45"/>
<path d="M321.45 436.93h.9v.9h-.9zM317.23 438.9h.9v.9h-.9zM323.83 423.76h.9v.9h-.9zM321.84 434.81h.9v.9h-.9zM319.34 445.99h.9v.9h-.9zM327.83 443.85h.9v.9h-.9zM325.85 447.27h.9v.9h-.9zM322.35 445.48h.9v.9h-.9zM326.81 435.47h.9v.9h-.9zM322.08 425.97h.9v.9h-.9zM316.58 431.57h.9v.9h-.9zM325.43 443.33h.9v.9h-.9zM323.39 452.77h.9v.9h-.9zM316.87 453.42h.9v.9h-.9zM322.82 447.42h.9v.9h-.9zM326.99 431.62h.9v.9h-.9zM319.76 443.71h.9v.9h-.9zM322.37 433.91h.9v.9h-.9zM322.15 432.49h.9v.9h-.9zM322.98 435.87h.9v.9h-.9zM328.01 429.34h.9v.9h-.9zM324.42 440.45h.9v.9h-.9zM327.63 430.08h.9v.9h-.9zM321.05 456.9h.9v.9h-.9zM320.44 435.92h.9v.9h-.9zM321.29 429.98h.9v.9h-.9zM326.47 454.74h.9v.9h-.9zM322.06 432.23h.9v.9h-.9zM318.2 446.26h.9v.9h-.9zM320.85 445.13h.9v.9h-.9zM314.81 435.49h.9v.9h-.9zM324.57 443.83h.9v.9h-.9zM313.35 442.62h.9v.9h-.9zM322.96 439.49h.9v.9h-.9zM321.45 435.31h.9v.9h-.9zM323.01 444.75h.9v.9h-.9zM312.39 439.59h.9v.9h-.9zM325.54 437.51h.9v.9h-.9zM326.48 430.43h.9v.9h-.9zM328.69 449.23h.9v.9h-.9z" fill-opacity="0.45"/>
<path d="M327.18 455.39h.9v.9h-.9zM318.71 438.58h.9v.9h-.9zM324.07 450.11h.9v.9h-.9zM322.79 426.83h.9v.9h-.9zM326.48 438.02h.9v.9h-.9zM323.96 436.52h.9v.9h-.9zM322.19 426.06h.9v.9h-.9zM324.7 433.47h.9v.9h-.9zM316.85 443.77h.9v.9h-.9zM322.44 449.18h.9v.9h-.9zM325.19 427.67h.9v.9h-.9zM321.98 439.67h.9v.9h-.9zM322.84 429.23h.9v.9h-.9zM322.79 449.4h.9v.9h-.9zM326.54 454.12h.9v.9h-.9zM321.68 434.28h.9v.9h-.9zM313.23 454.93h.9v.9h-.9zM325.48 439.61h.9v.9h-.9zM323.71 444.48h.9v.9h-.9zM321.85 453.27h.9v.9h-.9zM328.41 447.8h.9v.9h-.9zM320.76 442.17h.9v.9h-.9zM325.69 446.79h.9v.9h-.9zM320.35 449.12h.9v.9h-.9zM324.88 445.43h.9v.9h-.9zM321.21 439.41h.9v.9h-.9zM316.42 439.37h.9v.9h-.9zM321.13 436.73h.9v.9h-.9zM321.65 436.5h.9v.9h-.9zM322.83 440.63h.9v.9h-.9zM320.59 438.36h.9v.9h-.9zM322.26 444.54h.9v.9h-.9zM323.97 436.12h.9v.9h-.9zM319.9 423.44h.9v.9h-.9zM318.53 443.69h.9v.9h-.9zM319.6 455.56h.9v.9h-.9zM322.04 435.85h.9v.9h-.9zM322.05 434.27h.9v.9h-.9zM320.53 440.31h.9v.9h-.9zM317.9 440.98h.9v.9h-.9z" fill-opacity="0.45"/>
<path d="M322.25 430.73h.9v.9h-.9zM325.85 443.23h.9v.9h-.9zM326.03 433.06h.9v.9h-.9zM318.56 427.93h.9v.9h-.9zM317.5 420.96h.9v.9h-.9zM327.58 434.94h.9v.9h-.9zM323.17 434.37h.9v.9h-.9zM322.09 455.24h.9v.9h-.9zM316.98 429.91h.9v.9h-.9zM322.98 430.68h.9v.9h-.9zM324.77 452.44h.9v.9h-.9zM325.42 447.05h.9v.9h-.9zM322.03 449.55h.9v.9h-.9zM319.98 427.88h.9v.9h-.9zM321.71 437.17h.9v.9h-.9zM326.48 429.9h.9v.9h-.9zM326.23 431.96h.9v.9h-.9zM318.49 422.89h.9v.9h-.9zM322.44 425.36h.9v.9h-.9zM323.23 440.1h.9v.9h-.9zM321.27 420.59h.9v.9h-.9zM320.89 444.05h.9v.9h-.9zM316.82 446.46h.9v.9h-.9zM322.61 434.26h.9v.9h-.9zM323.2 446.06h.9v.9h-.9zM322.48 431.95h.9v.9h-.9zM325.07 432.92h.9v.9h-.9zM323.71 449.26h.9v.9h-.9zM326.75 455.38h.9v.9h-.9zM325.84 441.05h.9v.9h-.9zM321.9 441.48h.9v.9h-.9zM324.66 431.46h.9v.9h-.9zM327.44 423.91h.9v.9h-.9zM325.77 426.99h.9v.9h-.9zM319.05 434.65h.9v.9h-.9zM321.64 426.29h.9v.9h-.9zM324.54 438.49h.9v.9h-.9zM326.86 429.56h.9v.9h-.9zM316.74 446.41h.9v.9h-.9zM321.83 449.26h.9v.9h-.9z" fill-opacity="0.45"/>
<path d="M315.05 427.27h.9v.9h-.9zM322.84 458.92h.9v.9h-.9zM318.59 420.78h.9v.9h-.9zM321.09 453.59h.9v.9h-.9zM327.63 426.17h.9v.9h-.9zM320.6 421.42h.9v.9h-.9zM319.85 430.09h.9v.9h-.9zM323.92 450.85h.9v.9h-.9zM330.2 436.06h.9v.9h-.9zM325.18 441.77h.9v.9h-.9zM322.96 458.72h.9v.9h-.9zM324.81 455.05h.9v.9h-.9zM323.52 448.15h.9v.9h-.9zM324.18 438.66h.9v.9h-.9zM320.32 435.61h.9v.9h-.9zM322.59 435.83h.9v.9h-.9zM321.46 432.63h.9v.9h-.9zM325.31 437.18h.9v.9h-.9zM322.17 437.44h.9v.9h-.9zM326.76 434.29h.9v.9h-.9zM327.08 431.08h.9v.9h-.9zM327.46 445.65h.9v.9h-.9zM320.98 444.11h.9v.9h-.9zM326.2 430.18h.9v.9h-.9zM321.83 442.69h.9v.9h-.9zM321.89 436.73h.9v.9h-.9zM322.62 442.69h.9v.9h-.9zM325.04 454.2h.9v.9h-.9zM321.5 457.17h.9v.9h-.9zM322.15 425.24h.9v.9h-.9zM321.16 436.19h.9v.9h-.9zM325.98 419.63h.9v.9h-.9zM320.53 438.3h.9v.9h-.9zM324.66 443.51h.9v.9h-.9zM325.3 438.02h.9v.9h-.9zM321.81 451.54h.9v.9h-.9zM328.07 443.36h.9v.9h-.9zM323.06 431.12h.9v.9h-.9zM329.29 443.55h.9v.9h-.9zM324.54 423.74h.9v.9h-.9z" fill-opacity="0.45"/>
<path d="M322.03 437.58h.9v.9h-.9zM327.47 437.75h.9v.9h-.9zM325.26 458.8h.9v.9h-.9zM318.82 431.4h.9v.9h-.9zM324.73 440.76h.9v.9h-.9zM322.69 437.94h.9v.9h-.9zM322.97 443.11h.9v.9h-.9zM321.04 436.84h.9v.9h-.9zM323.3 428.84h.9v.9h-.9zM324.6 438.4h.9v.9h-.9zM318.8 452.93h.9v.9h-.9zM318.81 460.04h.9v.9h-.9zM320.23 451.58h.9v.9h-.9zM322.36 455.56h.9v.9h-.9zM321.85 449.79h.9v.9h-.9zM321.54 421.05h.9v.9h-.9zM323.81 444.3h.9v.9h-.9zM323.84 456.14h.9v.9h-.9zM320.21 425.44h.9v.9h-.9zM323.38 432.72h.9v.9h-.9zM322.23 439.57h.9v.9h-.9zM319.95 450.4h.9v.9h-.9zM322.18 457.31h.9v.9h-.9zM323.36 450.05h.9v.9h-.9zM321.64 433.07h.9v.9h-.9zM320.88 430.89h.9v.9h-.9zM323.99 440.97h.9v.9h-.9zM319.12 424.35h.9v.9h-.9zM319.83 421.52h.9v.9h-.9zM319.74 424.57h.9v.9h-.9zM324.81 428.11h.9v.9h-.9zM320.69 438.38h.9v.9h-.9zM322.67 443.77h.9v.9h-.9zM324.99 445.96h.9v.9h-.9zM321.47 451.96h.9v.9h-.9zM323.75 432.57h.9v.9h-.9zM327.33 427.88h.9v.9h-.9zM324.07 452.03h.9v.9h-.9zM322.93 443.01h.9v.9h-.9zM322.95 446.19h.9v.9h-.9z" fill-opacity="0.45"/>
<path d="M323.28 439.66h.9v.9h-.9zM324.8 420.81h.9v.9h-.9zM323.37 436.6h.9v.9h-.9zM328.8 442.46h.9v.9h-.9zM320.47 446.07h.9v.9h-.9zM321.35 427.84h.9v.9h-.9zM321.68 444.56h.9v.9h-.9zM326.34 449.98h.9v.9h-.9zM323.29 437.99h.9v.9h-.9zM323.2 451.58h.9v.9h-.9zM322.17 451.08h.9v.9h-.9zM320.05 439.46h.9v.9h-.9zM325.02 446.55h.9v.9h-.9zM323.2 434.49h.9v.9h-.9zM316.88 435.24h.9v.9h-.9zM319.88 435.59h.9v.9h-.9zM327.57 431.96h.9v.9h-.9zM325.25 439.39h.9v.9h-.9zM319.07 440.66h.9v.9h-.9zM324.94 427.83h.9v.9h-.9zM318.89 435.82h.9v.9h-.9zM324.86 433.64h.9v.9h-.9zM323.9 444.12h.9v.9h-.9zM322.61 444.03h.9v.9h-.9zM326.58 437.68h.9v.9h-.9zM323.59 429.04h.9v.9h-.9zM320.28 438.6h.9v.9h-.9zM325.14 432.94h.9v.9h-.9zM318.18 448.74h.9v.9h-.9zM319.21 440.78h.9v.9h-.9zM324.1 430.21h.9v.9h-.9zM323.62 450.45h.9v.9h-.9zM321.7 446.8h.9v.9h-.9zM322.97 430.38h.9v.9h-.9zM320.63 433.53h.9v.9h-.9zM326.75 451.01h.9v.9h-.9zM323.33 424.12h.9v.9h-.9zM321.02 435.61h.9v.9h-.9zM316.5 439.38h.9v.9h-.9zM323.46 426.49h.9v.9h-.9z" fill-opacity="0.45"/>
<path d="M321.22 435.06h.9v.9h-.9zM328.37 446.13h.9v.9h-.9zM324.98 440.43h.9v.9h-.9zM318.54 448.69h.9v.9h-.9zM320.44 420.58h.9v.9h-.9zM324.85 436.15h.9v.9h-.9zM322.56 444.66h.9v.9h-.9zM321.83 443.63h.9v.9h-.9zM326.61 436.39h.9v.9h-.9zM321.45 439.74h.9v.9h-.9zM324.59 435.62h.9v.9h-.9zM322.82 432.83h.9v.9h-.9zM322.33 444.94h.9v.9h-.9zM320 437.77h.9v.9h-.9zM317.98 432.66h.9v.9h-.9zM322.81 444.8h.9v.9h-.9zM319.33 438.58h.9v.9h-.9zM319.65 442.69h.9v.9h-.9zM323.38 443.95h.9v.9h-.9zM321.9 425.51h.9v.9h-.9zM320.81 426.36h.9v.9h-.9zM320.44 439h.9v.9h-.9zM325.94 433.21h.9v.9h-.9zM320.15 441.58h.9v.9h-.9zM316.11 459.2h.9v.9h-.9zM317.75 449.58h.9v.9h-.9zM325.62 449.07h.9v.9h-.9zM322.23 446.79h.9v.9h-.9zM321.49 449.03h.9v.9h-.9zM320.52 431.52h.9v.9h-.9zM323.74 435.11h.9v.9h-.9zM324.66 431.1h.9v.9h-.9zM323.4 429.88h.9v.9h-.9zM319.2 427.44h.9v.9h-.9zM317.56 437.33h.9v.9h-.9zM327.61 435.12h.9v.9h-.9zM325.46 437.75h.9v.9h-.9zM320.58 459.35h.9v.9h-.9zM325.92 421.44h.9v.9h-.9zM319.51 443.62h.9v.9h-.9z" fill-opacity="0.45"/>
<path d="M324.59 437.36h.9v.9h-.9zM323.54 444.86h.9v.9h-.9zM321.47 449.38h.9v.9h-.9zM319.91 447h.9v.9h-.9zM325.41 441.56h.9v.9h-.9zM321.48 439.38h.9v.9h-.9zM315.65 442.07h.9v.9h-.9zM318.13 419.72h.9v.9h-.9zM324.93 430.56h.9v.9h-.9zM323.66 440.01h.9v.9h-.9zM317.09 430.69h.9v.9h-.9zM321.72 444.18h.9v.9h-.9zM322.78 427.12h.9v.9h-.9zM320.91 440.59h.9v.9h-.9zM318.61 435.22h.9v.9h-.9zM327.91 448.2h.9v.9h-.9zM321.11 448.89h.9v.9h-.9zM319.32 454.63h.9v.9h-.9zM321.4 440.94h.9v.9h-.9zM320.76 440.47h.9v.9h-.9zM323.58 439.87h.9v.9h-.9zM319.99 447.01h.9v.9h-.9zM324.29 439.57h.9v.9h-.9zM325.82 432.3h.9v.9h-.9zM326.52 437.99h.9v.9h-.9zM327.26 435.2h.9v.9h-.9zM321.77 441.64h.9v.9h-.9zM325.95 453.74h.9v.9h-.9zM321.14 432.4h.9v.9h-.9zM324.92 451.77h.9v.9h-.9zM324.74 436.33h.9v.9h-.9zM326.5 439.31h.9v.9h-.9zM323.08 445.68h.9v.9h-.9zM323.23 446.61h.9v.9h-.9zM323.91 444.9h.9v.9h-.9zM323.06 449.82h.9v.9h-.9zM322.91 454.25h.9v.9h-.9zM322.71 447.4h.9v.9h-.9zM320.85 442.53h.9v.9h-.9zM323.87 440.93h.9v.9h-.9z" fill-opacity="0.45"/>
<path d="M327.34 440.01h.9v.9h-.9zM326.03 443.02h.9v.9h-.9zM325.94 430.69h.9v.9h-.9zM321.43 449.07h.9v.9h-.9zM320.02 443.43h.9v.9h-.9zM324.31 441.48h.9v.9h-.9zM323.91 444.89h.9v.9h-.9zM321.82 443.62h.9v.9h-.9zM320.95 435.11h.9v.9h-.9zM317.64 438.54h.9v.9h-.9zM317.29 439.84h.9v.9h-.9zM323.21 428.85h.9v.9h-.9zM322.77 442.42h.9v.9h-.9zM321.47 430.59h.9v.9h-.9zM322.21 443.59h.9v.9h-.9zM325.42 458.63h.9v.9h-.9zM316.44 442.93h.9v.9h-.9zM323.9 433.29h.9v.9h-.9zM322.91 453.01h.9v.9h-.9zM325.85 435.2h.9v.9h-.9zM315.39 451h.9v.9h-.9zM327.32 422.2h.9v.9h-.9zM321.94 432.69h.9v.9h-.9zM323.19 440.17h.9v.9h-.9zM326.1 433.74h.9v.9h-.9zM328.53 422.71h.9v.9h-.9zM322.25 445.76h.9v.9h-.9zM325.32 436.1h.9v.9h-.9zM316.63 441.65h.9v.9h-.9zM321.04 445.08h.9v.9h-.9zM315.11 437.67h.9v.9h-.9zM317.63 426.32h.9v.9h-.9zM323.81 450.77h.9v.9h-.9zM326.16 433.08h.9v.9h-.9zM324.13 422.08h.9v.9h-.9zM317.97 444.94h.9v.9h-.9zM321.32 429.5h.9v.9h-.9zM316.76 437.25h.9v.9h-.9zM329.47 419.65h.9v.9h-.9zM319.32 450.66h.9v.9h-.9z" fill-opacity="0.45"/>
<path d="M316.61 433.42h.9v.9h-.9zM322.77 450.75h.9v.9h-.9zM322.33 457.57h.9v.9h-.9zM322.46 438.45h.9v.9h-.9zM323.92 443.03h.9v.9h-.9zM317.91 430.18h.9v.9h-.9zM321.83 442.93h.9v.9h-.9zM318.75 432.49h.9v.9h-.9zM320.25 442.92h.9v.9h-.9zM321.22 445.52h.9v.9h-.9zM323.76 430.5h.9v.9h-.9zM321.63 427.26h.9v.9h-.9zM322.89 447.58h.9v.9h-.9zM319.49 422.05h.9v.9h-.9zM324.16 436.68h.9v.9h-.9zM322.47 444.11h.9v.9h-.9zM323.73 448.72h.9v.9h-.9zM321.04 436.52h.9v.9h-.9zM321.28 443.45h.9v.9h-.9zM321.78 452.4h.9v.9h-.9zM320.58 439.49h.9v.9h-.9zM319.59 429.63h.9v.9h-.9zM321.37 447.13h.9v.9h-.9zM322.59 437.81h.9v.9h-.9zM321.89 437.19h.9v.9h-.9zM328.03 443.25h.9v.9h-.9zM323.88 449.16h.9v.9h-.9zM319.77 427.34h.9v.9h-.9zM321.41 454.27h.9v.9h-.9zM325.63 433.75h.9v.9h-.9zM318.68 448.77h.9v.9h-.9zM325.96 428.65h.9v.9h-.9zM327.56 431.86h.9v.9h-.9zM324.89 437.51h.9v.9h-.9zM321.53 433.48h.9v.9h-.9zM324.71 445.7h.9v.9h-.9zM325.07 436.76h.9v.9h-.9zM327.9 437.64h.9v.9h-.9zM318.97 454.43h.9v.9h-.9zM322.97 440.12h.9v.9h-.9z" fill-opacity="0.45"/>
<path d="M325.21 443.04h.9v.9h-.9zM322.9 459.32h.9v.9h-.9zM316.65 445.96h.9v.9h-.9zM319.47 440.28h.9v.9h-.9zM322.02 442.19h.9v.9h-.9zM315 446.46h.9v.9h-.9zM329.85 435.45h.9v.9h-.9zM325.37 445.78h.9v.9h-.9zM323.48 434.55h.9v.9h-.9zM324.54 442.26h.9v.9h-.9zM327.09 447.83h.9v.9h-.9zM327.29 444.41h.9v.9h-.9zM323.09 433.51h.9v.9h-.9zM330.41 452.88h.9v.9h-.9zM322.85 435.89h.9v.9h-.9zM324.36 453.08h.9v.9h-.9zM324.18 448.96h.9v.9h-.9zM323.37 443.1h.9v.9h-.9zM318.57 440.78h.9v.9h-.9zM322.71 438.83h.9v.9h-.9zM321.79 442.61h.9v.9h-.9zM320.73 437.6h.9v.9h-.9zM319.74 427.56h.9v.9h-.9zM320.86 435.41h.9v.9h-.9zM327.73 449.72h.9v.9h-.9zM321.36 445.12h.9v.9h-.9zM319.05 423.4h.9v.9h-.9zM323.61 445.3h.9v.9h-.9zM320.38 439.51h.9v.9h-.9zM312.84 438.25h.9v.9h-.9zM325.89 441.25h.9v.9h-.9zM323.12 445.31h.9v.9h-.9zM315.96 426.71h.9v.9h-.9zM318.53 441.97h.9v.9h-.9zM320.56 420.75h.9v.9h-.9zM325.37 437.69h.9v.9h-.9zM325.7 459.55h.9v.9h-.9zM317.32 426.84h.9v.9h-.9zM325.96 453.61h.9v.9h-.9zM323.8 443.15h.9v.9h-.9z" fill-opacity="0.45"/>
<path d="M324.75 446.09h.9v.9h-.9zM318.51 446.98h.9v.9h-.9zM325.68 435.51h.9v.9h-.9zM319.65 434.68h.9v.9h-.9zM320.69 444.82h.9v.9h-.9zM325.01 439.8h.9v.9h-.9zM321.58 421.9h.9v.9h-.9zM321.2 429.62h.9v.9h-.9zM320.79 442.99h.9v.9h-.9zM319.77 434.23h.9v.9h-.9zM318.91 437h.9v.9h-.9zM321.64 449.56h.9v.9h-.9zM316.35 448.62h.9v.9h-.9zM324.59 434.33h.9v.9h-.9zM320.37 441.5h.9v.9h-.9zM324.21 437.97h.9v.9h-.9zM322.05 439.73h.9v.9h-.9zM319.11 442.26h.9v.9h-.9zM324.38 440.06h.9v.9h-.9zM318.92 439.56h.9v.9h-.9zM322.2 442.7h.9v.9h-.9zM321.22 447.81h.9v.9h-.9zM325.99 447.75h.9v.9h-.9zM323.29 451.65h.9v.9h-.9zM322.41 437.91h.9v.9h-.9zM317.99 439.75h.9v.9h-.9zM326.41 430.1h.9v.9h-.9zM325.02 426.99h.9v.9h-.9zM323.49 457.64h.9v.9h-.9zM322.69 428.01h.9v.9h-.9zM323.45 438.12h.9v.9h-.9zM325.07 434.41h.9v.9h-.9zM317.04 434.85h.9v.9h-.9zM324.41 449.71h.9v.9h-.9zM323.42 439.81h.9v.9h-.9zM324.72 437.63h.9v.9h-.9zM321.1 441.8h.9v.9h-.9zM326.01 434.63h.9v.9h-.9zM324.12 433.26h.9v.9h-.9zM320.2 441.27h.9v.9h-.9z" fill-opacity="0.45"/>
<path d="M318.31 431.18h.9v.9h-.9zM318.75 433.65h.9v.9h-.9zM324.47 440.29h.9v.9h-.9zM323.93 433.4h.9v.9h-.9zM325.86 435.7h.9v.9h-.9zM318.38 433.32h.9v.9h-.9zM317.68 425.7h.9v.9h-.9zM324.79 434.37h.9v.9h-.9zM324.72 434.09h.9v.9h-.9zM321.79 434.19h.9v.9h-.9zM320.8 433.11h.9v.9h-.9zM327.28 439.04h.9v.9h-.9zM316.33 456.18h.9v.9h-.9zM326.52 450.55h.9v.9h-.9zM322.2 438.06h.9v.9h-.9zM321.01 440.79h.9v.9h-.9zM324.02 439.54h.9v.9h-.9zM319.91 430.13h.9v.9h-.9zM327.82 456.07h.9v.9h-.9zM318.58 433.33h.9v.9h-.9zM322.4 445.31h.9v.9h-.9zM322.16 441.91h.9v.9h-.9zM323.68 450.71h.9v.9h-.9zM318.37 450.28h.9v.9h-.9zM323.92 444.84h.9v.9h-.9zM317.72 437.34h.9v.9h-.9zM321.69 445.81h.9v.9h-.9zM324.7 446.28h.9v.9h-.9zM318.4 451.83h.9v.9h-.9zM322.73 448.66h.9v.9h-.9zM322.48 432.74h.9v.9h-.9zM330.87 445.98h.9v.9h-.9zM324.95 435.09h.9v.9h-.9zM321.81 450.41h.9v.9h-.9zM323.94 456.58h.9v.9h-.9zM326.34 429.12h.9v.9h-.9zM317.61 450.86h.9v.9h-.9zM324.43 437.07h.9v.9h-.9zM321.58 434.18h.9v.9h-.9zM328.23 438h.9v.9h-.9z" fill-opacity="0.45"/>
<path d="M318.11 448.38h.9v.9h-.9zM322.24 443.04h.9v.9h-.9zM321.29 439.21h.9v.9h-.9zM316.51 444.8h.9v.9h-.9zM320.32 435.89h.9v.9h-.9zM323.52 451.97h.9v.9h-.9zM315.64 438.29h.9v.9h-.9zM324.25 449.42h.9v.9h-.9zM319.6 442.69h.9v.9h-.9zM323.78 448.6h.9v.9h-.9zM320.52 437.8h.9v.9h-.9zM320.87 450.6h.9v.9h-.9zM325.97 435.32h.9v.9h-.9zM322.07 441.73h.9v.9h-.9zM319.63 438.51h.9v.9h-.9zM325.26 447.09h.9v.9h-.9zM320.33 433.35h.9v.9h-.9zM322.13 425.47h.9v.9h-.9zM323.49 440.77h.9v.9h-.9zM318.24 437.37h.9v.9h-.9zM320.39 437.02h.9v.9h-.9zM319.71 452.74h.9v.9h-.9zM319.42 446.96h.9v.9h-.9zM323.16 453.5h.9v.9h-.9zM322.31 439.65h.9v.9h-.9zM322.71 421.53h.9v.9h-.9zM330.17 437.59h.9v.9h-.9zM321.49 428.84h.9v.9h-.9zM322.06 455.07h.9v.9h-.9zM320.08 443.86h.9v.9h-.9zM325.79 448.69h.9v.9h-.9zM321.2 422.95h.9v.9h-.9zM323.8 445.09h.9v.9h-.9zM321.45 435.55h.9v.9h-.9zM328.09 424.55h.9v.9h-.9zM320.86 433.84h.9v.9h-.9zM317.51 433.04h.9v.9h-.9zM319.95 451.53h.9v.9h-.9zM316.92 426.54h.9v.9h-.9zM323.33 424.88h.9v.9h-.9z" fill-opacity="0.45"/>
<path d="M316.09 433.7h.9v.9h-.9zM318.64 430.36h.9v.9h-.9zM321.98 443.98h.9v.9h-.9zM320.43 437.03h.9v.9h-.9zM324.77 438.21h.9v.9h-.9zM324.83 434.06h.9v.9h-.9zM324.05 451.8h.9v.9h-.9zM321.46 436.44h.9v.9h-.9zM321.98 444.08h.9v.9h-.9zM318.63 440.05h.9v.9h-.9zM320.63 453.24h.9v.9h-.9zM316.98 445.84h.9v.9h-.9zM321.48 432.57h.9v.9h-.9zM322.93 437.4h.9v.9h-.9zM322.62 441.94h.9v.9h-.9zM326.33 435.84h.9v.9h-.9zM328.31 451.22h.9v.9h-.9zM327.48 441.57h.9v.9h-.9zM323.4 430.05h.9v.9h-.9zM326.76 428.68h.9v.9h-.9zM319.95 439.67h.9v.9h-.9zM323.24 442.9h.9v.9h-.9zM318.78 436.41h.9v.9h-.9zM324.05 450.91h.9v.9h-.9zM324.93 443.61h.9v.9h-.9zM321.66 434.55h.9v.9h-.9zM320.85 438.78h.9v.9h-.9zM324.18 434.9h.9v.9h-.9zM329.06 430.2h.9v.9h-.9zM325.09 437.76h.9v.9h-.9zM322.04 436.09h.9v.9h-.9zM327.39 436.87h.9v.9h-.9zM324.25 440.81h.9v.9h-.9zM324.88 445.24h.9v.9h-.9zM327.76 432.77h.9v.9h-.9zM319.87 455.72h.9v.9h-.9zM326.56 440.38h.9v.9h-.9zM321.58 442.09h.9v.9h-.9zM326.65 432.45h.9v.9h-.9zM327.12 439.16h.9v.9h-.9z" fill-opacity="0.45"/>
<path d="M321.34 435.95h.9v.9h-.9zM315.81 442.73h.9v.9h-.9zM318.29 434.41h.9v.9h-.9zM319.63 441.91h.9v.9h-.9zM324.79 440.07h.9v.9h-.9zM323.1 443.58h.9v.9h-.9zM327.61 445.15h.9v.9h-.9zM327.5 439.1h.9v.9h-.9zM323.62 433.55h.9v.9h-.9zM324.38 431.61h.9v.9h-.9zM323.99 433.72h.9v.9h-.9zM321.36 451.21h.9v.9h-.9zM322.96 447.18h.9v.9h-.9zM321.73 422.09h.9v.9h-.9zM327.19 438h.9v.9h-.9zM320.42 448.63h.9v.9h-.9zM318.87 432.67h.9v.9h-.9zM326.15 433.13h.9v.9h-.9zM326.09 436.82h.9v.9h-.9zM321.82 440.35h.9v.9h-.9zM320.9 449.81h.9v.9h-.9zM325.98 440.33h.9v.9h-.9zM324.43 444.8h.9v.9h-.9zM327.86 424.75h.9v.9h-.9zM325.76 448.32h.9v.9h-.9zM321.49 439.83h.9v.9h-.9zM321.39 451.37h.9v.9h-.9zM318.84 445.42h.9v.9h-.9zM326.59 445.11h.9v.9h-.9zM320.96 435.37h.9v.9h-.9zM315.74 430.02h.9v.9h-.9zM325.98 430.8h.9v.9h-.9zM317.27 437.39h.9v.9h-.9zM317.75 444.03h.9v.9h-.9zM319.71 448.68h.9v.9h-.9zM322.12 426.35h.9v.9h-.9zM320.03 433.62h.9v.9h-.9zM319.8 451.35h.9v.9h-.9zM319.3 443.14h.9v.9h-.9zM320.63 445.27h.9v.9h-.9z" fill-opacity="0.45"/>
<path d="M317.94 424.96h.9v.9h-.9zM324.12 453.17h.9v.9h-.9zM318.08 436.76h.9v.9h-.9zM320.87 430.9h.9v.9h-.9zM325.58 440.18h.9v.9h-.9zM318.08 437.68h.9v.9h-.9zM326.75 433.05h.9v.9h-.9zM320.85 431.93h.9v.9h-.9zM323.01 434.49h.9v.9h-.9zM325.34 431.89h.9v.9h-.9zM317.85 443.97h.9v.9h-.9zM312.37 430.78h.9v.9h-.9zM323.39 442.04h.9v.9h-.9zM320.65 435.53h.9v.9h-.9zM319.93 438.04h.9v.9h-.9zM321.04 444.92h.9v.9h-.9zM322.53 444.93h.9v.9h-.9zM327.71 437.15h.9v.9h-.9zM321.57 443.26h.9v.9h-.9zM329.19 436.34h.9v.9h-.9zM327.89 450.88h.9v.9h-.9zM313.76 430.36h.9v.9h-.9zM319.36 443.46h.9v.9h-.9zM326.74 440.24h.9v.9h-.9zM323.64 459.98h.9v.9h-.9zM319.64 455.24h.9v.9h-.9z" fill-opacity="0.45"/>
<path d="M401.81 428.36h.9v.9h-.9zM396 428.98h.9v.9h-.9zM399.76 426.99h.9v.9h-.9zM399.14 432.24h.9v.9h-.9zM398.46 431.45h.9v.9h-.9zM397.36 427.02h.9v.9h-.9zM401.83 428.71h.9v.9h-.9zM400.11 431.24h.9v.9h-.9zM403.49 426.45h.9v.9h-.9zM400.98 429.55h.9v.9h-.9zM399.94 432.86h.9v.9h-.9zM399.01 427.81h.9v.9h-.9zM400.8 424.79h.9v.9h-.9zM400.47 427.18h.9v.9h-.9zM400.37 427.5h.9v.9h-.9zM400.8 428.55h.9v.9h-.9zM397.88 430.21h.9v.9h-.9zM401.38 425.67h.9v.9h-.9zM396.51 428.51h.9v.9h-.9zM398.68 431.87h.9v.9h-.9zM403.38 430.08h.9v.9h-.9zM402.2 428.38h.9v.9h-.9zM396.32 429.71h.9v.9h-.9zM395.38 432.52h.9v.9h-.9zM400.2 431.53h.9v.9h-.9zM398.05 425.65h.9v.9h-.9zM399.1 430.1h.9v.9h-.9zM399.07 427.99h.9v.9h-.9zM399.77 428.66h.9v.9h-.9zM402.91 426.3h.9v.9h-.9zM394.3 428.87h.9v.9h-.9zM400.23 425.82h.9v.9h-.9zM399.49 430h.9v.9h-.9zM400.39 429.71h.9v.9h-.9zM397.78 426h.9v.9h-.9zM401.86 428.32h.9v.9h-.9zM396.3 432.36h.9v.9h-.9zM401.35 423.12h.9v.9h-.9zM405.76 429.38h.9v.9h-.9zM395.73 431.09h.9v.9h-.9z" fill-opacity="0.5"/>
<path d="M400.37 431.7h.9v.9h-.9zM399.61 425.54h.9v.9h-.9zM399.19 428.16h.9v.9h-.9zM400.27 428.67h.9v.9h-.9zM400.92 426.48h.9v.9h-.9zM398.27 427.97h.9v.9h-.9zM400.57 425.44h.9v.9h-.9zM399.58 434.12h.9v.9h-.9zM395.27 431.26h.9v.9h-.9zM399.82 431.16h.9v.9h-.9zM399.71 429.61h.9v.9h-.9zM400.45 430.04h.9v.9h-.9zM396.7 428.78h.9v.9h-.9zM403.94 432.07h.9v.9h-.9zM397.55 427.06h.9v.9h-.9zM399.16 431.31h.9v.9h-.9zM401.77 427.82h.9v.9h-.9zM393.9 428.96h.9v.9h-.9zM395.6 431.6h.9v.9h-.9zM403.12 430.48h.9v.9h-.9zM401 430.26h.9v.9h-.9zM403.98 431.37h.9v.9h-.9zM403.03 426.62h.9v.9h-.9zM398.33 429.06h.9v.9h-.9zM394.24 428.45h.9v.9h-.9zM399.52 428.92h.9v.9h-.9zM405.62 428.63h.9v.9h-.9zM399.1 428.81h.9v.9h-.9zM398.75 426.05h.9v.9h-.9zM402.26 429.11h.9v.9h-.9zM400.44 429.14h.9v.9h-.9zM397.71 425.67h.9v.9h-.9zM398.89 430.19h.9v.9h-.9zM399.28 430.62h.9v.9h-.9zM397.68 428.44h.9v.9h-.9zM399.93 428.85h.9v.9h-.9zM399.99 432.1h.9v.9h-.9zM398.57 429.35h.9v.9h-.9zM398.01 430.21h.9v.9h-.9zM400.11 427.5h.9v.9h-.9z" fill-opacity="0.5"/>
<path d="M397.15 426.52h.9v.9h-.9zM398.89 429.38h.9v.9h-.9zM398.38 428.82h.9v.9h-.9zM399.89 434.05h.9v.9h-.9zM402.39 433.98h.9v.9h-.9zM399.89 429.52h.9v.9h-.9zM404.24 429.87h.9v.9h-.9zM401.13 427.99h.9v.9h-.9zM398.26 430.71h.9v.9h-.9zM398.13 427.66h.9v.9h-.9zM395.99 429.68h.9v.9h-.9zM399.34 430.22h.9v.9h-.9zM397.48 426.42h.9v.9h-.9zM402.21 429.11h.9v.9h-.9zM401.46 426.62h.9v.9h-.9zM396.46 423.69h.9v.9h-.9zM400.28 431.16h.9v.9h-.9zM402.75 432.82h.9v.9h-.9zM395.19 426.74h.9v.9h-.9zM398.3 427.38h.9v.9h-.9zM399.06 427.36h.9v.9h-.9zM396.04 428.97h.9v.9h-.9zM399.86 427.42h.9v.9h-.9zM399.64 426.3h.9v.9h-.9zM398.77 428.34h.9v.9h-.9zM398.46 428.89h.9v.9h-.9zM396.52 426.21h.9v.9h-.9zM397.57 430.62h.9v.9h-.9zM397.28 427.07h.9v.9h-.9zM404.32 428.51h.9v.9h-.9zM398.64 427.18h.9v.9h-.9zM403.09 430.17h.9v.9h-.9zM400.19 432.44h.9v.9h-.9zM396.7 425.48h.9v.9h-.9zM402.22 429.97h.9v.9h-.9zM398.32 430.75h.9v.9h-.9zM399.33 433.21h.9v.9h-.9zM396.51 429.82h.9v.9h-.9zM401.9 430.94h.9v.9h-.9zM398.69 428.21h.9v.9h-.9z" fill-opacity="0.5"/>
<path d="M398.51 430.52h.9v.9h-.9zM398.59 428.76h.9v.9h-.9zM402.02 428.82h.9v.9h-.9zM400.14 428.79h.9v.9h-.9zM399.57 424.33h.9v.9h-.9zM397.3 429.84h.9v.9h-.9zM398.02 427.74h.9v.9h-.9zM399.68 433.92h.9v.9h-.9zM397.73 427.02h.9v.9h-.9zM395.24 430.03h.9v.9h-.9zM399.42 427.27h.9v.9h-.9zM398.57 431.14h.9v.9h-.9zM402 429.83h.9v.9h-.9zM402.33 431.2h.9v.9h-.9zM398.45 430.75h.9v.9h-.9zM399.93 430.69h.9v.9h-.9zM400.22 433.6h.9v.9h-.9zM396.53 429.82h.9v.9h-.9zM396.95 433.99h.9v.9h-.9zM398.31 428.27h.9v.9h-.9zM399.5 428.96h.9v.9h-.9zM403.66 428.94h.9v.9h-.9zM400.15 431.32h.9v.9h-.9zM403.18 427.01h.9v.9h-.9zM400.28 426.22h.9v.9h-.9zM400.74 432.07h.9v.9h-.9zM398.29 428.45h.9v.9h-.9zM402.41 429.99h.9v.9h-.9zM401.49 428.08h.9v.9h-.9zM398.79 428.26h.9v.9h-.9zM325.45 514.07h.9v.9h-.9zM322.09 519.24h.9v.9h-.9zM325.22 521.61h.9v.9h-.9zM316.62 518.76h.9v.9h-.9zM319.72 526.68h.9v.9h-.9zM319.89 518.43h.9v.9h-.9zM317.97 523.52h.9v.9h-.9zM318.33 526.88h.9v.9h-.9zM322.97 520.94h.9v.9h-.9zM319.94 519.15h.9v.9h-.9z" fill-opacity="0.5"/>
<path d="M310.33 524.75h.9v.9h-.9zM325.4 519.63h.9v.9h-.9zM320.62 515.36h.9v.9h-.9zM318.75 521.06h.9v.9h-.9zM319.22 520.58h.9v.9h-.9zM323.39 523.03h.9v.9h-.9zM322.59 518.24h.9v.9h-.9zM317.54 520.4h.9v.9h-.9zM313.31 515.05h.9v.9h-.9zM320.82 520.42h.9v.9h-.9zM319.85 524.8h.9v.9h-.9zM311.2 521.9h.9v.9h-.9zM318.62 515.54h.9v.9h-.9zM322.13 525.62h.9v.9h-.9zM313.78 520.55h.9v.9h-.9zM323.29 520.56h.9v.9h-.9zM317.78 524h.9v.9h-.9zM312.86 520.23h.9v.9h-.9zM317.01 520.12h.9v.9h-.9zM314.63 521.05h.9v.9h-.9zM324.35 522.06h.9v.9h-.9zM314.5 518.48h.9v.9h-.9zM316.57 514.88h.9v.9h-.9zM322.39 522.26h.9v.9h-.9zM318.83 525.88h.9v.9h-.9zM322.33 518.23h.9v.9h-.9zM319.69 519.89h.9v.9h-.9zM319.5 525.29h.9v.9h-.9zM324.46 516.82h.9v.9h-.9zM327.18 514.45h.9v.9h-.9zM318.5 529.45h.9v.9h-.9zM322.2 524.77h.9v.9h-.9zM320.08 522.3h.9v.9h-.9zM316.99 525.88h.9v.9h-.9zM318.75 518.46h.9v.9h-.9zM313.75 528.55h.9v.9h-.9zM313.74 516.64h.9v.9h-.9zM321.44 520.55h.9v.9h-.9zM326.29 522.76h.9v.9h-.9zM320.85 517.52h.9v.9h-.9z" fill-opacity="0.5"/>
<path d="M321.67 515.1h.9v.9h-.9zM316.6 525.56h.9v.9h-.9zM320.61 516.14h.9v.9h-.9zM317.08 519.94h.9v.9h-.9zM320.78 521.17h.9v.9h-.9zM322.73 509.4h.9v.9h-.9zM322.38 513.48h.9v.9h-.9zM317.78 520.93h.9v.9h-.9zM323.64 518.13h.9v.9h-.9zM314.37 517.38h.9v.9h-.9zM320.55 529.37h.9v.9h-.9zM314.74 518.53h.9v.9h-.9zM316.79 524.64h.9v.9h-.9zM321.75 519.86h.9v.9h-.9zM320.75 526.32h.9v.9h-.9zM318.45 516.27h.9v.9h-.9zM319.66 515.87h.9v.9h-.9zM320.44 523.69h.9v.9h-.9zM318.15 523.9h.9v.9h-.9zM324.26 527.31h.9v.9h-.9zM318.18 522.64h.9v.9h-.9zM322.72 523.48h.9v.9h-.9zM323.28 522.29h.9v.9h-.9zM322.28 523.9h.9v.9h-.9zM321.48 522.63h.9v.9h-.9zM320.69 520.24h.9v.9h-.9zM312.51 520.22h.9v.9h-.9zM319.72 518.45h.9v.9h-.9zM317.85 525.14h.9v.9h-.9zM318.57 512.1h.9v.9h-.9zM317.54 520.05h.9v.9h-.9zM324.38 521.62h.9v.9h-.9zM321.61 518.49h.9v.9h-.9zM317.38 514.6h.9v.9h-.9zM322.04 520.59h.9v.9h-.9zM316.83 520.72h.9v.9h-.9zM323.89 523.96h.9v.9h-.9zM322.68 524.78h.9v.9h-.9zM320.54 520.52h.9v.9h-.9zM319.58 522.3h.9v.9h-.9z" fill-opacity="0.5"/>
<path d="M312.99 521.56h.9v.9h-.9zM319.73 517.25h.9v.9h-.9zM317.42 524.8h.9v.9h-.9zM318.08 520.17h.9v.9h-.9zM325.36 516.93h.9v.9h-.9zM319.43 518.95h.9v.9h-.9zM317.59 519.85h.9v.9h-.9zM321.72 519.51h.9v.9h-.9zM323.23 523.25h.9v.9h-.9zM315.44 520.72h.9v.9h-.9zM318.89 515.73h.9v.9h-.9zM312.7 524.24h.9v.9h-.9zM320.73 525.04h.9v.9h-.9zM325.65 523.37h.9v.9h-.9zM321.01 525.24h.9v.9h-.9zM319.09 519.05h.9v.9h-.9zM323.37 522.92h.9v.9h-.9zM317.6 518.98h.9v.9h-.9zM314.7 528.25h.9v.9h-.9zM318.14 518.68h.9v.9h-.9zM317.29 518.6h.9v.9h-.9zM320.06 520.66h.9v.9h-.9zM322.64 511.29h.9v.9h-.9zM320.11 526.69h.9v.9h-.9zM319.78 518.32h.9v.9h-.9zM327.27 518.6h.9v.9h-.9zM322.24 521.38h.9v.9h-.9zM319.02 516.81h.9v.9h-.9zM320.2 521.25h.9v.9h-.9zM326.59 514.91h.9v.9h-.9zM313.63 522.56h.9v.9h-.9zM313.81 510.03h.9v.9h-.9zM318.3 524.71h.9v.9h-.9zM312.54 514.95h.9v.9h-.9zM325.29 517.24h.9v.9h-.9zM316.17 519.88h.9v.9h-.9zM325.75 519.77h.9v.9h-.9zM322.58 519.88h.9v.9h-.9zM315.45 521.46h.9v.9h-.9zM312.61 524.28h.9v.9h-.9z" fill-opacity="0.5"/>
<path d="M313.37 521h.9v.9h-.9zM311.32 520.11h.9v.9h-.9zM321.13 517.74h.9v.9h-.9zM327.04 520.47h.9v.9h-.9zM321.26 515.05h.9v.9h-.9zM317.62 521.33h.9v.9h-.9zM322.44 522.65h.9v.9h-.9zM314.17 515h.9v.9h-.9zM315.25 524.62h.9v.9h-.9zM312.81 515.92h.9v.9h-.9zM320.02 520.28h.9v.9h-.9zM319.29 517.41h.9v.9h-.9zM320.86 520.05h.9v.9h-.9zM318.82 521.29h.9v.9h-.9zM318.66 519.76h.9v.9h-.9zM323.88 523.07h.9v.9h-.9zM319.84 520.96h.9v.9h-.9zM324.78 515.53h.9v.9h-.9zM312.14 520.57h.9v.9h-.9zM312.95 516.53h.9v.9h-.9zM320.39 521.2h.9v.9h-.9zM318.2 517.65h.9v.9h-.9zM313.91 517.82h.9v.9h-.9zM316.38 520.34h.9v.9h-.9zM323.1 519.36h.9v.9h-.9zM315.19 522.01h.9v.9h-.9zM324.18 521.61h.9v.9h-.9zM317.8 519.03h.9v.9h-.9zM318.3 516.59h.9v.9h-.9zM323.04 519.3h.9v.9h-.9zM326.91 524.9h.9v.9h-.9zM317.65 529.93h.9v.9h-.9zM317.7 517.56h.9v.9h-.9zM312.73 520.47h.9v.9h-.9zM321.02 519.11h.9v.9h-.9zM319.09 522.17h.9v.9h-.9zM316.51 520.25h.9v.9h-.9zM318.51 526.01h.9v.9h-.9zM322.08 520.08h.9v.9h-.9zM315.6 519.92h.9v.9h-.9z" fill-opacity="0.5"/>
<path d="M316.46 519.13h.9v.9h-.9zM320.86 523.43h.9v.9h-.9zM323.39 518.31h.9v.9h-.9zM320.24 520.34h.9v.9h-.9zM322.74 528.52h.9v.9h-.9zM323.4 523.77h.9v.9h-.9zM320.47 522.37h.9v.9h-.9zM311.94 521.69h.9v.9h-.9zM318.95 520.31h.9v.9h-.9zM322.29 532h.9v.9h-.9zM320.56 516.05h.9v.9h-.9zM318.07 523.52h.9v.9h-.9zM322.23 521.17h.9v.9h-.9zM321.62 517.58h.9v.9h-.9zM325.26 512.91h.9v.9h-.9zM318.22 517.69h.9v.9h-.9zM317.78 521.29h.9v.9h-.9zM319.96 524.05h.9v.9h-.9zM326.78 522.36h.9v.9h-.9zM316 520.54h.9v.9h-.9zM316.6 517.59h.9v.9h-.9zM318 523.96h.9v.9h-.9zM316.51 521.69h.9v.9h-.9zM316.68 523.69h.9v.9h-.9zM323.94 515.24h.9v.9h-.9zM322.35 517.32h.9v.9h-.9zM320.81 520.16h.9v.9h-.9zM322.77 515.89h.9v.9h-.9zM326.79 521.77h.9v.9h-.9zM317.1 525.13h.9v.9h-.9zM324.71 522.43h.9v.9h-.9zM317.64 517.56h.9v.9h-.9zM316.16 526.39h.9v.9h-.9zM319.77 520.42h.9v.9h-.9zM318.17 524.98h.9v.9h-.9zM318.19 523.65h.9v.9h-.9zM312.78 517.64h.9v.9h-.9zM320.81 517.01h.9v.9h-.9zM326.83 513.01h.9v.9h-.9zM321.03 522.47h.9v.9h-.9z" fill-opacity="0.5"/>
<path d="M321.25 520.28h.9v.9h-.9zM319.14 533.46h.9v.9h-.9zM320.58 518.24h.9v.9h-.9zM309.28 527.33h.9v.9h-.9zM319.46 527.12h.9v.9h-.9zM319.48 524.55h.9v.9h-.9zM324.72 518.46h.9v.9h-.9zM310.79 524.85h.9v.9h-.9zM326.86 515.04h.9v.9h-.9zM317.63 520.23h.9v.9h-.9zM318.56 522.74h.9v.9h-.9zM319.11 522.69h.9v.9h-.9zM316.46 514.74h.9v.9h-.9zM326.47 521.47h.9v.9h-.9zM321.05 516.28h.9v.9h-.9zM321.29 520.35h.9v.9h-.9zM321.4 520.98h.9v.9h-.9zM323.54 525.66h.9v.9h-.9zM318.21 519.14h.9v.9h-.9zM322.32 515.21h.9v.9h-.9zM316.86 519.2h.9v.9h-.9zM311.59 527.56h.9v.9h-.9zM318.53 519.75h.9v.9h-.9zM315.07 522.52h.9v.9h-.9zM317.83 516.18h.9v.9h-.9zM320.84 526.14h.9v.9h-.9zM313.91 520.43h.9v.9h-.9zM327.8 519.81h.9v.9h-.9zM316.86 526.41h.9v.9h-.9zM320.43 523.94h.9v.9h-.9zM325.8 522.9h.9v.9h-.9zM320.79 527.6h.9v.9h-.9zM313.86 516.38h.9v.9h-.9zM318.71 518.29h.9v.9h-.9zM318.92 513.64h.9v.9h-.9zM313.42 523.16h.9v.9h-.9zM318.81 522.08h.9v.9h-.9zM318.08 520.47h.9v.9h-.9zM313.81 527.03h.9v.9h-.9zM323.52 515.63h.9v.9h-.9z" fill-opacity="0.5"/>
<path d="M317.84 521.86h.9v.9h-.9zM317.95 520.35h.9v.9h-.9zM320.35 513.76h.9v.9h-.9zM322.39 522.28h.9v.9h-.9zM315.86 519.86h.9v.9h-.9zM319.2 519.57h.9v.9h-.9zM319.73 514.95h.9v.9h-.9zM319.78 522.07h.9v.9h-.9zM321.02 522.18h.9v.9h-.9zM317.4 521.05h.9v.9h-.9zM323.21 520.83h.9v.9h-.9zM320.39 520.78h.9v.9h-.9zM321.57 515.83h.9v.9h-.9zM319.34 523.67h.9v.9h-.9zM316.14 522.63h.9v.9h-.9zM317.81 519h.9v.9h-.9zM315.3 517.21h.9v.9h-.9zM324.01 515.2h.9v.9h-.9zM320.09 515.54h.9v.9h-.9zM327.21 523.14h.9v.9h-.9zM316.54 516.36h.9v.9h-.9zM318.5 521.79h.9v.9h-.9zM325.86 525.9h.9v.9h-.9zM315.83 521.42h.9v.9h-.9zM323.06 517.93h.9v.9h-.9zM317.75 523.95h.9v.9h-.9zM314.3 520.69h.9v.9h-.9zM319.28 519.49h.9v.9h-.9zM319.64 514.56h.9v.9h-.9zM322.67 518.88h.9v.9h-.9zM326.98 527.84h.9v.9h-.9zM317.8 527.68h.9v.9h-.9zM324.93 517.58h.9v.9h-.9zM318.57 524.99h.9v.9h-.9zM316.79 519.27h.9v.9h-.9zM310.02 515.36h.9v.9h-.9zM315.11 517.93h.9v.9h-.9zM316.79 521.5h.9v.9h-.9zM320.51 519.2h.9v.9h-.9zM314.37 521.44h.9v.9h-.9z" fill-opacity="0.5"/>
<path d="M321.88 520.36h.9v.9h-.9zM324.76 518.88h.9v.9h-.9zM322.74 521.55h.9v.9h-.9zM324.55 526.54h.9v.9h-.9zM315.14 513.89h.9v.9h-.9zM323.46 521.72h.9v.9h-.9zM320.86 518.92h.9v.9h-.9zM316.71 524.98h.9v.9h-.9zM321.34 518.57h.9v.9h-.9zM319.73 521.64h.9v.9h-.9zM314.6 518.23h.9v.9h-.9zM321.48 521.08h.9v.9h-.9zM314.33 521.7h.9v.9h-.9zM327.09 522.83h.9v.9h-.9zM314.55 518.86h.9v.9h-.9zM317.2 517.69h.9v.9h-.9zM316.42 518.42h.9v.9h-.9zM319.22 516h.9v.9h-.9zM323.04 521.76h.9v.9h-.9zM326.93 523.64h.9v.9h-.9zM323.18 522.46h.9v.9h-.9zM319.14 516.62h.9v.9h-.9zM322.08 520.92h.9v.9h-.9zM317.09 522.06h.9v.9h-.9zM320.8 518.2h.9v.9h-.9zM325.04 518.79h.9v.9h-.9zM320.03 524.49h.9v.9h-.9zM317.59 519.43h.9v.9h-.9zM321.28 519.37h.9v.9h-.9zM317.66 516.44h.9v.9h-.9zM320.42 519.18h.9v.9h-.9zM322.68 524.3h.9v.9h-.9zM319.48 523.42h.9v.9h-.9zM316.89 526.46h.9v.9h-.9zM317.46 520.12h.9v.9h-.9zM318.16 518.77h.9v.9h-.9zM322.57 520.58h.9v.9h-.9zM316.21 523.42h.9v.9h-.9zM319.7 522.7h.9v.9h-.9zM320.36 518.92h.9v.9h-.9z" fill-opacity="0.5"/>
<path d="M312.74 519.5h.9v.9h-.9zM316.21 525.03h.9v.9h-.9zM318.74 526h.9v.9h-.9zM328.24 524.86h.9v.9h-.9zM328.57 517.19h.9v.9h-.9zM317.67 516.79h.9v.9h-.9zM314.5 515.89h.9v.9h-.9zM322.93 517.69h.9v.9h-.9zM318.33 522.71h.9v.9h-.9zM318.01 526.28h.9v.9h-.9zM324.06 523.22h.9v.9h-.9zM325.86 522.55h.9v.9h-.9zM320.28 524.63h.9v.9h-.9zM323.51 515.66h.9v.9h-.9zM323.75 524.34h.9v.9h-.9zM311.05 528.08h.9v.9h-.9zM320.18 525.77h.9v.9h-.9zM315.14 521.38h.9v.9h-.9zM316.96 517.56h.9v.9h-.9zM320.6 515.34h.9v.9h-.9zM319.48 523.15h.9v.9h-.9zM316.75 516.65h.9v.9h-.9zM321.69 523.97h.9v.9h-.9zM323.02 518.66h.9v.9h-.9zM318.05 525.63h.9v.9h-.9zM322.88 521.83h.9v.9h-.9zM320.44 520.05h.9v.9h-.9zM321.87 523.2h.9v.9h-.9zM319.74 521.62h.9v.9h-.9zM314.35 520.13h.9v.9h-.9zM325.56 521.44h.9v.9h-.9zM314.42 518.96h.9v.9h-.9zM319.91 525.91h.9v.9h-.9zM327.63 520.51h.9v.9h-.9zM319.01 521.12h.9v.9h-.9zM315.41 525.46h.9v.9h-.9zM315.07 523.31h.9v.9h-.9zM317.86 516.87h.9v.9h-.9zM320.82 526.74h.9v.9h-.9zM315.02 521.44h.9v.9h-.9z" fill-opacity="0.5"/>
<path d="M316.97 524.56h.9v.9h-.9zM314.04 516.01h.9v.9h-.9zM318.13 515.94h.9v.9h-.9zM323.26 515.23h.9v.9h-.9zM319.81 518.85h.9v.9h-.9zM323.29 518.72h.9v.9h-.9zM318.85 526.81h.9v.9h-.9zM322 525.23h.9v.9h-.9zM324.91 522.47h.9v.9h-.9zM320.74 514.55h.9v.9h-.9zM313.08 519.16h.9v.9h-.9zM320.65 524.72h.9v.9h-.9zM316.67 519.47h.9v.9h-.9zM327.39 516.6h.9v.9h-.9zM318.87 520.27h.9v.9h-.9zM316.94 526.11h.9v.9h-.9zM313.57 519.59h.9v.9h-.9zM313.26 518.1h.9v.9h-.9zM325.41 513.35h.9v.9h-.9zM313.26 520.7h.9v.9h-.9zM320.92 517.99h.9v.9h-.9zM321.22 519.94h.9v.9h-.9zM318.1 521h.9v.9h-.9zM324.17 516.37h.9v.9h-.9zM322.79 521.68h.9v.9h-.9zM318.77 518h.9v.9h-.9zM320.84 523.58h.9v.9h-.9zM316.03 523.35h.9v.9h-.9zM319.69 523.69h.9v.9h-.9zM320.58 519.94h.9v.9h-.9zM320.36 523.01h.9v.9h-.9zM314.1 520.7h.9v.9h-.9zM310.44 521.41h.9v.9h-.9zM317.76 520.74h.9v.9h-.9zM323.3 524.04h.9v.9h-.9zM324.93 524.06h.9v.9h-.9zM318.76 517.76h.9v.9h-.9zM329.28 518.19h.9v.9h-.9zM318.21 522.21h.9v.9h-.9zM316.48 521.21h.9v.9h-.9z" fill-opacity="0.5"/>
<path d="M320.35 518.71h.9v.9h-.9zM315.66 520.76h.9v.9h-.9zM321.17 517.06h.9v.9h-.9zM320.07 521.03h.9v.9h-.9zM316.22 522.17h.9v.9h-.9zM314.41 523.96h.9v.9h-.9zM316.89 524.38h.9v.9h-.9zM319.94 520.87h.9v.9h-.9zM314.52 523.41h.9v.9h-.9zM315.42 528.76h.9v.9h-.9zM321.2 521.39h.9v.9h-.9zM319.67 523.16h.9v.9h-.9zM321.29 522.1h.9v.9h-.9zM322.84 520.1h.9v.9h-.9zM325.64 515.14h.9v.9h-.9zM313.36 522.77h.9v.9h-.9zM319.48 515.14h.9v.9h-.9zM315.02 518.04h.9v.9h-.9zM324.33 523.02h.9v.9h-.9zM313.32 515.75h.9v.9h-.9zM320.07 516.16h.9v.9h-.9zM317.24 518.53h.9v.9h-.9zM319.74 522.77h.9v.9h-.9zM316.91 518.76h.9v.9h-.9zM320.57 526.58h.9v.9h-.9zM321.11 519.34h.9v.9h-.9zM323.09 520.16h.9v.9h-.9zM314.4 523.05h.9v.9h-.9zM325.73 516.58h.9v.9h-.9zM322.45 516.19h.9v.9h-.9zM319.24 520.23h.9v.9h-.9zM318.25 520.24h.9v.9h-.9zM322.12 518.81h.9v.9h-.9zM318.7 519.54h.9v.9h-.9zM320.59 518.29h.9v.9h-.9zM322.52 521.75h.9v.9h-.9zM317.33 515.98h.9v.9h-.9zM318.56 524.35h.9v.9h-.9zM321.96 520.69h.9v.9h-.9zM327.19 526.3h.9v.9h-.9z" fill-opacity="0.5"/>
<path d="M321.53 525.73h.9v.9h-.9zM318.62 519.32h.9v.9h-.9zM320.42 513.76h.9v.9h-.9zM319.68 518.81h.9v.9h-.9zM324.66 522.71h.9v.9h-.9zM325.44 519h.9v.9h-.9zM325.14 521.18h.9v.9h-.9zM321.57 522.12h.9v.9h-.9zM314.8 523.97h.9v.9h-.9zM317.87 522.97h.9v.9h-.9zM319.39 517.06h.9v.9h-.9zM318.41 521.7h.9v.9h-.9zM318.45 526.83h.9v.9h-.9zM324.14 520.98h.9v.9h-.9zM318.21 525.91h.9v.9h-.9zM319.72 524.89h.9v.9h-.9zM314.45 513.36h.9v.9h-.9zM322.47 523.98h.9v.9h-.9zM318.97 520.02h.9v.9h-.9zM321.32 522.55h.9v.9h-.9zM319.3 520.7h.9v.9h-.9zM320.46 524.56h.9v.9h-.9zM322.27 511.17h.9v.9h-.9zM320.92 519.52h.9v.9h-.9zM323.64 523.26h.9v.9h-.9zM317.6 520.31h.9v.9h-.9zM310.8 520.17h.9v.9h-.9zM315.46 521.07h.9v.9h-.9zM316.88 525.15h.9v.9h-.9zM324.45 519.32h.9v.9h-.9zM316.24 525.37h.9v.9h-.9zM314.5 519.35h.9v.9h-.9zM318.15 521.52h.9v.9h-.9zM319.78 517.28h.9v.9h-.9zM322.88 522h.9v.9h-.9zM320.81 526.4h.9v.9h-.9zM326.67 521.56h.9v.9h-.9zM318.04 519.62h.9v.9h-.9zM319.14 516.7h.9v.9h-.9zM316.93 518.75h.9v.9h-.9z" fill-opacity="0.5"/>
<path d="M321.55 523.33h.9v.9h-.9zM310.3 514.74h.9v.9h-.9zM317.26 516.68h.9v.9h-.9zM319.47 514.19h.9v.9h-.9zM318.7 521.35h.9v.9h-.9zM321.06 519.03h.9v.9h-.9zM321.16 523.37h.9v.9h-.9zM318.26 516.77h.9v.9h-.9zM317.64 521.69h.9v.9h-.9zM320.62 514.43h.9v.9h-.9zM320.33 529.8h.9v.9h-.9zM325.25 543.53h.9v.9h-.9zM322.82 532.68h.9v.9h-.9zM323.48 524.03h.9v.9h-.9zM324.96 543.28h.9v.9h-.9zM322.49 542.4h.9v.9h-.9zM323.9 527.23h.9v.9h-.9zM322.98 532.02h.9v.9h-.9zM321.95 539.24h.9v.9h-.9zM321.92 535.63h.9v.9h-.9zM322.81 537.94h.9v.9h-.9zM322.95 545.71h.9v.9h-.9zM321.28 539.34h.9v.9h-.9zM321.28 546.15h.9v.9h-.9zM323.64 547.56h.9v.9h-.9zM324.14 541.46h.9v.9h-.9zM321.07 535.53h.9v.9h-.9zM324.36 541.5h.9v.9h-.9zM323.75 536.75h.9v.9h-.9zM322.22 553.6h.9v.9h-.9zM324.02 529.96h.9v.9h-.9zM321.53 541.6h.9v.9h-.9zM324.12 547.17h.9v.9h-.9zM323.83 548.91h.9v.9h-.9zM323.59 546.38h.9v.9h-.9zM321.25 532.48h.9v.9h-.9zM321.8 549.19h.9v.9h-.9zM324.57 533.36h.9v.9h-.9zM322.14 541.16h.9v.9h-.9zM323.42 542.88h.9v.9h-.9z" fill-opacity="0.5"/>
<path d="M324.77 542.41h.9v.9h-.9zM322.23 538.97h.9v.9h-.9zM324.18 538.94h.9v.9h-.9zM323.34 537.85h.9v.9h-.9zM320.82 526.22h.9v.9h-.9zM322.12 535.25h.9v.9h-.9zM323.76 538.11h.9v.9h-.9zM321.17 545.55h.9v.9h-.9zM321.88 541.14h.9v.9h-.9zM321.4 550.93h.9v.9h-.9zM322.99 539.09h.9v.9h-.9zM322.42 526.63h.9v.9h-.9zM324.43 540.68h.9v.9h-.9zM324.29 534.99h.9v.9h-.9zM324.71 536.22h.9v.9h-.9zM321.81 540.79h.9v.9h-.9zM322.32 541.4h.9v.9h-.9zM322.78 539.61h.9v.9h-.9zM323.21 537.7h.9v.9h-.9zM324.53 545.24h.9v.9h-.9zM320.86 537.07h.9v.9h-.9zM322.07 547.04h.9v.9h-.9zM319.67 548.1h.9v.9h-.9zM319.64 536.43h.9v.9h-.9zM321.28 538.3h.9v.9h-.9zM323.73 546.87h.9v.9h-.9zM322.39 539.25h.9v.9h-.9zM321.1 548.54h.9v.9h-.9zM320.22 536.15h.9v.9h-.9zM323.58 552.95h.9v.9h-.9zM322.09 543.59h.9v.9h-.9zM321.64 542.1h.9v.9h-.9zM319.4 544.99h.9v.9h-.9zM321.76 543.52h.9v.9h-.9zM322.36 534.1h.9v.9h-.9zM320.24 533.99h.9v.9h-.9zM322.49 545.51h.9v.9h-.9zM324.22 547.17h.9v.9h-.9zM325.62 547.35h.9v.9h-.9zM325.23 545.99h.9v.9h-.9z" fill-opacity="0.5"/>
<path d="M323.03 529.04h.9v.9h-.9zM324 539.71h.9v.9h-.9zM321.98 531.67h.9v.9h-.9zM324.43 540.58h.9v.9h-.9zM321.91 535.35h.9v.9h-.9zM322.42 543.63h.9v.9h-.9zM323.45 541.39h.9v.9h-.9zM322.88 541.08h.9v.9h-.9zM321.92 548.39h.9v.9h-.9zM322.35 536.75h.9v.9h-.9zM325.12 534.3h.9v.9h-.9zM321.88 541.43h.9v.9h-.9zM322.29 540.06h.9v.9h-.9zM323.99 547.42h.9v.9h-.9zM320.56 553.27h.9v.9h-.9zM320.8 533.7h.9v.9h-.9zM323.57 533.84h.9v.9h-.9zM320.76 546.24h.9v.9h-.9zM323.3 543.22h.9v.9h-.9zM324.65 547.63h.9v.9h-.9zM321.86 537.48h.9v.9h-.9zM323.17 537.82h.9v.9h-.9zM322.94 546.55h.9v.9h-.9zM322.94 531.16h.9v.9h-.9zM325.01 540.21h.9v.9h-.9zM323.07 529.62h.9v.9h-.9zM322.5 531.99h.9v.9h-.9zM324.91 537.44h.9v.9h-.9zM320.49 539.81h.9v.9h-.9zM321.17 541.06h.9v.9h-.9zM321.15 529.07h.9v.9h-.9zM322.27 538.62h.9v.9h-.9zM321.36 545.23h.9v.9h-.9zM323.81 540h.9v.9h-.9zM322.42 543.07h.9v.9h-.9zM323.92 541.85h.9v.9h-.9zM320.88 544.92h.9v.9h-.9zM326.09 544.93h.9v.9h-.9zM323.03 536.86h.9v.9h-.9zM320.27 544.07h.9v.9h-.9z" fill-opacity="0.5"/>
<path d="M323.41 543.65h.9v.9h-.9zM322.78 549.25h.9v.9h-.9zM322.39 528h.9v.9h-.9zM322.34 541.79h.9v.9h-.9zM323.71 544.44h.9v.9h-.9zM323.59 543.73h.9v.9h-.9zM322.99 532.81h.9v.9h-.9zM322.08 547.44h.9v.9h-.9zM324.99 522.78h.9v.9h-.9zM322.33 537.72h.9v.9h-.9zM323.83 527.45h.9v.9h-.9zM321.71 541.88h.9v.9h-.9zM321.35 529.01h.9v.9h-.9zM325.32 538.95h.9v.9h-.9zM322.64 544.76h.9v.9h-.9zM325.38 535.88h.9v.9h-.9zM322.32 538.36h.9v.9h-.9zM323.96 546.92h.9v.9h-.9zM324.91 537.68h.9v.9h-.9zM320.74 536.38h.9v.9h-.9zM319.7 542.97h.9v.9h-.9zM319.48 543.48h.9v.9h-.9zM320.98 543.49h.9v.9h-.9zM324.75 539.83h.9v.9h-.9zM322.34 540.89h.9v.9h-.9zM321.61 542.95h.9v.9h-.9zM322.17 541.68h.9v.9h-.9zM321.33 544.2h.9v.9h-.9zM323.04 534.83h.9v.9h-.9zM322.44 531.26h.9v.9h-.9zM320.43 533.16h.9v.9h-.9zM323.14 537.97h.9v.9h-.9zM322.47 542.46h.9v.9h-.9zM322.12 539.39h.9v.9h-.9zM321.31 544.7h.9v.9h-.9zM322.17 552.76h.9v.9h-.9zM320.83 539.98h.9v.9h-.9zM323.12 537.36h.9v.9h-.9zM325.71 542.36h.9v.9h-.9zM323.14 529.38h.9v.9h-.9z" fill-opacity="0.5"/>
<path d="M323.16 532.53h.9v.9h-.9zM323.37 543.1h.9v.9h-.9zM322.35 536.85h.9v.9h-.9zM321.32 536.33h.9v.9h-.9zM324.84 535.22h.9v.9h-.9zM322.08 543.37h.9v.9h-.9zM320.5 537.8h.9v.9h-.9zM324.23 542.28h.9v.9h-.9zM323.37 545.42h.9v.9h-.9zM322.48 524.75h.9v.9h-.9zM323.66 544.41h.9v.9h-.9zM318.99 539.18h.9v.9h-.9zM324.64 532.82h.9v.9h-.9zM323.94 550.34h.9v.9h-.9zM322.36 538.77h.9v.9h-.9zM321.02 544.9h.9v.9h-.9zM322.89 544.34h.9v.9h-.9zM322.44 540.89h.9v.9h-.9zM321.63 547.81h.9v.9h-.9zM322.31 548.97h.9v.9h-.9zM323.86 535.65h.9v.9h-.9zM320.86 547.55h.9v.9h-.9zM323.12 538.19h.9v.9h-.9zM324.09 527.03h.9v.9h-.9zM323.38 538.23h.9v.9h-.9zM323.63 536.72h.9v.9h-.9zM321.82 545.18h.9v.9h-.9zM323.08 530.96h.9v.9h-.9zM323.31 545.31h.9v.9h-.9zM320.07 534.21h.9v.9h-.9zM320.83 534.02h.9v.9h-.9zM321.49 553.32h.9v.9h-.9zM321.03 534.23h.9v.9h-.9zM322.15 549.46h.9v.9h-.9zM321.92 546.97h.9v.9h-.9zM324.06 537.83h.9v.9h-.9zM323.12 547.26h.9v.9h-.9zM322.87 551.44h.9v.9h-.9zM323.11 551.23h.9v.9h-.9zM321.04 542.17h.9v.9h-.9z" fill-opacity="0.5"/>
<path d="M318.95 531.06h.9v.9h-.9zM321.69 537.89h.9v.9h-.9zM322.19 544.07h.9v.9h-.9zM320.36 529.12h.9v.9h-.9zM323.65 542.63h.9v.9h-.9zM323.94 546.2h.9v.9h-.9zM322.99 537.11h.9v.9h-.9zM323.27 534.32h.9v.9h-.9zM320.57 538.37h.9v.9h-.9zM325.85 534.13h.9v.9h-.9zM324.52 539.4h.9v.9h-.9zM325.09 537.26h.9v.9h-.9zM320.76 536.25h.9v.9h-.9zM322.23 544.35h.9v.9h-.9zM321.44 541.96h.9v.9h-.9zM326.03 540.74h.9v.9h-.9zM321.39 540.51h.9v.9h-.9zM322.02 542.39h.9v.9h-.9zM321.33 538.56h.9v.9h-.9zM323.61 540.63h.9v.9h-.9zM319.64 548.23h.9v.9h-.9zM323.07 553.45h.9v.9h-.9zM321.27 542.96h.9v.9h-.9zM321.16 545.86h.9v.9h-.9zM321.66 549.22h.9v.9h-.9zM322.67 525.96h.9v.9h-.9zM320.82 545.05h.9v.9h-.9zM323.63 547.35h.9v.9h-.9zM323.27 537.48h.9v.9h-.9zM322.71 540.92h.9v.9h-.9zM322.53 547.35h.9v.9h-.9zM321.12 538.51h.9v.9h-.9zM324.48 539.68h.9v.9h-.9zM323.34 536.99h.9v.9h-.9zM322.6 549.26h.9v.9h-.9zM324.9 540.85h.9v.9h-.9zM321.56 550.63h.9v.9h-.9zM319.68 539.32h.9v.9h-.9zM324.08 539.68h.9v.9h-.9zM322.42 540.22h.9v.9h-.9z" fill-opacity="0.5"/>
<path d="M321.09 537.83h.9v.9h-.9zM322.99 529.21h.9v.9h-.9zM321.31 520.65h.9v.9h-.9zM323.91 541.34h.9v.9h-.9zM320.04 530.58h.9v.9h-.9zM321.46 551.58h.9v.9h-.9zM323.23 533.08h.9v.9h-.9zM321.75 529.55h.9v.9h-.9zM321.08 528.97h.9v.9h-.9zM325.2 545.26h.9v.9h-.9zM324.44 543.59h.9v.9h-.9zM321.39 547.17h.9v.9h-.9zM323.22 535.74h.9v.9h-.9zM320.04 540.3h.9v.9h-.9zM320.68 538.58h.9v.9h-.9zM319.45 528.19h.9v.9h-.9zM323.94 544.2h.9v.9h-.9zM322.72 538.74h.9v.9h-.9zM322.79 534.08h.9v.9h-.9zM323.66 551.2h.9v.9h-.9zM321.59 530.1h.9v.9h-.9zM322.52 528.92h.9v.9h-.9zM325.47 539.82h.9v.9h-.9zM323.13 541.74h.9v.9h-.9zM321.74 535.48h.9v.9h-.9zM322.62 547.79h.9v.9h-.9zM324.75 538.53h.9v.9h-.9zM321.74 537.81h.9v.9h-.9zM323.06 533.8h.9v.9h-.9zM323.94 538.8h.9v.9h-.9zM321.35 545.23h.9v.9h-.9zM324.65 534.47h.9v.9h-.9zM322.22 539.33h.9v.9h-.9zM323.3 545.81h.9v.9h-.9zM322.32 534.22h.9v.9h-.9zM321.6 546.42h.9v.9h-.9zM325.28 541.73h.9v.9h-.9zM324.23 535.53h.9v.9h-.9zM320.6 534.25h.9v.9h-.9zM326.97 548.96h.9v.9h-.9z" fill-opacity="0.5"/>
<path d="M321 535.23h.9v.9h-.9zM321.94 531.7h.9v.9h-.9zM323.39 533.04h.9v.9h-.9zM322.14 544.43h.9v.9h-.9zM322.13 547.15h.9v.9h-.9zM321.71 548.43h.9v.9h-.9zM321.5 536.45h.9v.9h-.9zM320.3 542.73h.9v.9h-.9zM323.54 540.52h.9v.9h-.9zM324.67 544.82h.9v.9h-.9zM323.03 529.21h.9v.9h-.9zM322.24 542.89h.9v.9h-.9zM320.7 550.44h.9v.9h-.9zM323 550.67h.9v.9h-.9zM320.63 552.7h.9v.9h-.9zM324.58 541.4h.9v.9h-.9zM321.98 551.51h.9v.9h-.9zM321.02 538.98h.9v.9h-.9zM324.2 539.89h.9v.9h-.9zM321.27 532.58h.9v.9h-.9zM321.76 549.09h.9v.9h-.9zM326.65 533.76h.9v.9h-.9zM320.66 544.72h.9v.9h-.9zM322.24 537.55h.9v.9h-.9zM322.28 549.59h.9v.9h-.9zM323.67 535.27h.9v.9h-.9zM323.28 532.07h.9v.9h-.9zM324.21 526.52h.9v.9h-.9zM321.84 546.66h.9v.9h-.9zM325.1 543.96h.9v.9h-.9zM319.51 539.1h.9v.9h-.9zM323.91 544.84h.9v.9h-.9zM323.09 536.56h.9v.9h-.9zM319.58 537.17h.9v.9h-.9zM322.74 535.86h.9v.9h-.9zM321.2 543.09h.9v.9h-.9zM322 541.68h.9v.9h-.9zM324.13 535.53h.9v.9h-.9zM324.01 532.69h.9v.9h-.9zM323.84 543.22h.9v.9h-.9z" fill-opacity="0.5"/>
<path d="M323.26 545.43h.9v.9h-.9zM401.52 527.13h.9v.9h-.9zM398.44 522.57h.9v.9h-.9zM399.32 524.25h.9v.9h-.9zM396.04 521.25h.9v.9h-.9zM401.72 521.51h.9v.9h-.9zM401.42 527.48h.9v.9h-.9zM399.84 519.84h.9v.9h-.9zM398.53 516.59h.9v.9h-.9zM398.76 520.79h.9v.9h-.9zM401.33 518.73h.9v.9h-.9zM398.29 521.32h.9v.9h-.9zM399.16 526.83h.9v.9h-.9zM399.6 527.46h.9v.9h-.9zM399.72 510.72h.9v.9h-.9zM399.23 516.94h.9v.9h-.9zM399.59 517.72h.9v.9h-.9zM401.24 520.4h.9v.9h-.9zM398.9 530.22h.9v.9h-.9zM398.97 519.63h.9v.9h-.9zM398.94 524.62h.9v.9h-.9zM400.02 521.71h.9v.9h-.9zM401.72 519.07h.9v.9h-.9zM400.92 525.01h.9v.9h-.9zM400.14 519.49h.9v.9h-.9zM399.31 526.2h.9v.9h-.9zM394.58 527.84h.9v.9h-.9zM397.85 525.49h.9v.9h-.9zM400.54 523.34h.9v.9h-.9zM400.54 519.57h.9v.9h-.9zM402.56 521.82h.9v.9h-.9zM401.09 520.73h.9v.9h-.9zM398.97 526.08h.9v.9h-.9zM397.78 521.44h.9v.9h-.9zM398.04 514.93h.9v.9h-.9zM401.39 521.67h.9v.9h-.9zM396.19 521.28h.9v.9h-.9zM403.88 525.98h.9v.9h-.9zM399.17 523.09h.9v.9h-.9zM399.06 522.55h.9v.9h-.9z" fill-opacity="0.5"/>
<path d="M399.34 522.38h.9v.9h-.9zM398.72 525.14h.9v.9h-.9zM397.39 514.44h.9v.9h-.9zM396.48 518.75h.9v.9h-.9zM399.78 523.93h.9v.9h-.9zM401.02 515.19h.9v.9h-.9zM396.69 524.17h.9v.9h-.9zM402.84 524.18h.9v.9h-.9zM399.33 525.88h.9v.9h-.9zM402.6 525.72h.9v.9h-.9zM399.96 520.32h.9v.9h-.9zM398.56 519.76h.9v.9h-.9zM397.36 523.04h.9v.9h-.9zM401.47 520.37h.9v.9h-.9zM401.01 524.38h.9v.9h-.9zM399.35 521.36h.9v.9h-.9zM402.32 518.45h.9v.9h-.9zM398.3 519.87h.9v.9h-.9zM398.18 523.94h.9v.9h-.9zM400.68 520.43h.9v.9h-.9zM400.75 514.14h.9v.9h-.9zM399.77 531.46h.9v.9h-.9zM401.36 517.33h.9v.9h-.9zM401.2 518.88h.9v.9h-.9zM400.69 524.47h.9v.9h-.9zM396.97 529.26h.9v.9h-.9zM397.04 519.74h.9v.9h-.9zM400.85 524.15h.9v.9h-.9zM399.99 520.27h.9v.9h-.9zM401.06 523.14h.9v.9h-.9zM398.98 526.27h.9v.9h-.9zM402.46 519.16h.9v.9h-.9zM398.85 517.24h.9v.9h-.9zM397.38 522.36h.9v.9h-.9zM401.36 515.65h.9v.9h-.9zM399.16 522.99h.9v.9h-.9zM398.52 525.24h.9v.9h-.9zM400.7 521.39h.9v.9h-.9zM401.75 523.1h.9v.9h-.9zM401.62 524.19h.9v.9h-.9z" fill-opacity="0.5"/>
<path d="M399.13 527.93h.9v.9h-.9zM398.35 523.22h.9v.9h-.9zM399 518.2h.9v.9h-.9zM397.23 526.5h.9v.9h-.9zM402.08 526.22h.9v.9h-.9zM396 524.38h.9v.9h-.9zM399.81 524.17h.9v.9h-.9zM400.1 524.14h.9v.9h-.9zM400.46 526.17h.9v.9h-.9zM399.89 519.43h.9v.9h-.9zM395.57 522.93h.9v.9h-.9zM395.73 519.23h.9v.9h-.9zM399.56 521.12h.9v.9h-.9zM398.22 528.96h.9v.9h-.9zM397 526.69h.9v.9h-.9zM399.06 521.12h.9v.9h-.9zM399.73 523.6h.9v.9h-.9zM396.41 523.74h.9v.9h-.9zM399.3 521.53h.9v.9h-.9zM399.64 521.14h.9v.9h-.9zM401.6 517.97h.9v.9h-.9zM398.2 523.74h.9v.9h-.9zM399.24 525.47h.9v.9h-.9zM394.36 520.63h.9v.9h-.9zM399.73 529.03h.9v.9h-.9zM401.46 517.79h.9v.9h-.9zM401.56 518.15h.9v.9h-.9zM400.17 520.11h.9v.9h-.9zM397.05 525.02h.9v.9h-.9zM400.63 520.33h.9v.9h-.9zM398.04 518.44h.9v.9h-.9zM399.33 526.24h.9v.9h-.9zM398.77 521.38h.9v.9h-.9zM398.85 516.53h.9v.9h-.9zM398.89 519.02h.9v.9h-.9zM401.77 522.34h.9v.9h-.9zM401.93 521.31h.9v.9h-.9zM399.89 527.43h.9v.9h-.9zM400.43 521.96h.9v.9h-.9zM400.48 523.05h.9v.9h-.9z" fill-opacity="0.5"/>
<path d="M401.67 519.12h.9v.9h-.9zM398.74 517.94h.9v.9h-.9zM401.8 524.3h.9v.9h-.9zM399.03 523.98h.9v.9h-.9zM403.09 524.91h.9v.9h-.9zM399.44 517.72h.9v.9h-.9zM400.64 532.42h.9v.9h-.9zM401.75 520.38h.9v.9h-.9zM396.75 525.66h.9v.9h-.9zM398.05 519.98h.9v.9h-.9zM403.55 519.94h.9v.9h-.9zM399.17 532.56h.9v.9h-.9zM402.71 511.91h.9v.9h-.9zM401.04 520.62h.9v.9h-.9zM399.91 519.1h.9v.9h-.9zM400.14 524.31h.9v.9h-.9zM399.04 524.93h.9v.9h-.9zM400.97 516.83h.9v.9h-.9zM402.88 522.29h.9v.9h-.9zM401.18 527.54h.9v.9h-.9zM399.55 531.59h.9v.9h-.9zM397.97 517.27h.9v.9h-.9zM398.95 529.24h.9v.9h-.9zM402.53 525.03h.9v.9h-.9zM397.84 520.04h.9v.9h-.9zM399.22 522.05h.9v.9h-.9zM397.51 521.79h.9v.9h-.9zM398.72 523.48h.9v.9h-.9zM397.83 519.38h.9v.9h-.9zM399.83 524.36h.9v.9h-.9zM399.73 522.33h.9v.9h-.9zM399.31 519.07h.9v.9h-.9zM398.81 518.03h.9v.9h-.9zM400.55 523.24h.9v.9h-.9zM399.28 518.06h.9v.9h-.9zM398.85 520.91h.9v.9h-.9zM401.44 520.19h.9v.9h-.9zM399.96 518.87h.9v.9h-.9zM400.77 520.48h.9v.9h-.9zM398.03 513.71h.9v.9h-.9z" fill-opacity="0.5"/>
<path d="M398.97 520.13h.9v.9h-.9zM401.69 516.42h.9v.9h-.9zM398.48 516.51h.9v.9h-.9zM400.99 522.68h.9v.9h-.9zM398.9 524.08h.9v.9h-.9zM399.86 519.57h.9v.9h-.9zM399.47 524.02h.9v.9h-.9zM401.26 528.76h.9v.9h-.9zM400.09 521.84h.9v.9h-.9zM399.74 518.2h.9v.9h-.9zM399.27 523.86h.9v.9h-.9zM398.86 520.35h.9v.9h-.9zM397.24 524.03h.9v.9h-.9zM401.49 521.58h.9v.9h-.9zM399.88 522.38h.9v.9h-.9zM399.66 520.69h.9v.9h-.9zM401.34 530.72h.9v.9h-.9zM401.4 522.8h.9v.9h-.9zM398.91 516.57h.9v.9h-.9zM401.42 520.75h.9v.9h-.9zM400.59 519.48h.9v.9h-.9zM395.1 530.05h.9v.9h-.9zM397.37 524.01h.9v.9h-.9zM401.67 514.85h.9v.9h-.9zM399.89 521.12h.9v.9h-.9zM396.77 528.68h.9v.9h-.9zM398.68 523.7h.9v.9h-.9zM399.61 529.24h.9v.9h-.9zM397.93 519.98h.9v.9h-.9zM400.08 524.49h.9v.9h-.9zM399.56 526.21h.9v.9h-.9zM401.65 523.25h.9v.9h-.9zM397.1 517.73h.9v.9h-.9zM396.63 519.62h.9v.9h-.9zM401.2 528.15h.9v.9h-.9zM399.93 525.13h.9v.9h-.9zM398.87 520.41h.9v.9h-.9zM400.89 514.88h.9v.9h-.9zM399.22 518.05h.9v.9h-.9zM400.03 523.94h.9v.9h-.9z" fill-opacity="0.5"/>
<path d="M399.93 527.13h.9v.9h-.9zM399.74 526.69h.9v.9h-.9zM400 513.3h.9v.9h-.9zM399.52 517.99h.9v.9h-.9zM398.9 511.87h.9v.9h-.9zM399.12 520.18h.9v.9h-.9zM397.55 520.63h.9v.9h-.9zM401.03 521.87h.9v.9h-.9zM400.79 517.96h.9v.9h-.9zM402.66 517.85h.9v.9h-.9zM397.35 522.38h.9v.9h-.9zM400.63 526.85h.9v.9h-.9zM400.91 525.49h.9v.9h-.9zM396.79 522.34h.9v.9h-.9zM398.48 512.82h.9v.9h-.9zM402.25 516.78h.9v.9h-.9zM400.73 525h.9v.9h-.9zM399.01 517.55h.9v.9h-.9zM401.95 521.58h.9v.9h-.9zM399.86 522.1h.9v.9h-.9zM400.18 524.08h.9v.9h-.9zM399.88 525.56h.9v.9h-.9zM399.5 516.1h.9v.9h-.9zM398.13 523.84h.9v.9h-.9zM397.95 522.48h.9v.9h-.9zM400.92 518.92h.9v.9h-.9zM399.51 516.47h.9v.9h-.9zM397.32 523.55h.9v.9h-.9zM399.95 517.1h.9v.9h-.9zM398.78 518.75h.9v.9h-.9zM398.96 518.97h.9v.9h-.9zM398.66 530.65h.9v.9h-.9zM398.65 516.19h.9v.9h-.9zM398.83 526.52h.9v.9h-.9zM399.18 524.23h.9v.9h-.9zM398.95 519.88h.9v.9h-.9zM402.16 522.64h.9v.9h-.9zM398.53 524.41h.9v.9h-.9zM397.05 515.51h.9v.9h-.9zM399.03 519.84h.9v.9h-.9z" fill-opacity="0.5"/>
<path d="M399.71 516.54h.9v.9h-.9zM400.32 520.74h.9v.9h-.9zM399.1 522.87h.9v.9h-.9zM398.91 525.76h.9v.9h-.9zM397.98 522.76h.9v.9h-.9zM399.27 512.3h.9v.9h-.9zM397.78 519.5h.9v.9h-.9zM400.33 516.31h.9v.9h-.9zM398.51 519.55h.9v.9h-.9zM396.96 519.36h.9v.9h-.9zM401.25 525.31h.9v.9h-.9zM397.68 518.42h.9v.9h-.9zM398.24 512.85h.9v.9h-.9zM403.54 518.49h.9v.9h-.9zM400.07 519.49h.9v.9h-.9zM398.99 515.31h.9v.9h-.9zM397.61 520.82h.9v.9h-.9zM398.28 524.23h.9v.9h-.9zM398.55 523.07h.9v.9h-.9zM400.43 516.62h.9v.9h-.9zM401.67 520.68h.9v.9h-.9zM403.91 519.23h.9v.9h-.9zM401.35 524.41h.9v.9h-.9zM396.8 515.15h.9v.9h-.9zM396.88 524.85h.9v.9h-.9zM399.53 525.3h.9v.9h-.9zM397.54 524.59h.9v.9h-.9zM399.46 523.93h.9v.9h-.9zM400.63 521.96h.9v.9h-.9zM401.96 515.83h.9v.9h-.9zM398.84 525.66h.9v.9h-.9zM397.65 524.49h.9v.9h-.9zM399.59 522.7h.9v.9h-.9zM395.22 517.96h.9v.9h-.9zM400.74 516.7h.9v.9h-.9zM400.92 524.39h.9v.9h-.9zM394.24 521.98h.9v.9h-.9zM397.48 517.21h.9v.9h-.9zM396.62 522.71h.9v.9h-.9zM401.76 531.71h.9v.9h-.9z" fill-opacity="0.5"/>
<path d="M402.1 519.6h.9v.9h-.9zM396.58 525.81h.9v.9h-.9zM400.89 521.73h.9v.9h-.9zM397.03 516.63h.9v.9h-.9zM399.06 527.62h.9v.9h-.9zM402.24 517.67h.9v.9h-.9zM396.33 521.06h.9v.9h-.9zM400.96 518.42h.9v.9h-.9zM399.7 525.18h.9v.9h-.9zM396.47 528.92h.9v.9h-.9zM402.06 521.81h.9v.9h-.9zM400.02 523.78h.9v.9h-.9zM398.21 524.55h.9v.9h-.9zM399.65 518.44h.9v.9h-.9zM399.33 520.38h.9v.9h-.9zM398.64 524.41h.9v.9h-.9zM400.92 525.38h.9v.9h-.9zM398.69 524.23h.9v.9h-.9zM399.01 528.36h.9v.9h-.9zM397.57 525.72h.9v.9h-.9zM398.53 514.53h.9v.9h-.9zM400.83 516.19h.9v.9h-.9zM397.92 521.27h.9v.9h-.9zM400.26 521.05h.9v.9h-.9zM400.22 522.67h.9v.9h-.9zM396.53 526.55h.9v.9h-.9zM402.06 519.17h.9v.9h-.9zM400.76 520.36h.9v.9h-.9zM398 520.4h.9v.9h-.9zM396 518.94h.9v.9h-.9zM400.7 525.62h.9v.9h-.9zM400.35 522.51h.9v.9h-.9zM398.34 525.44h.9v.9h-.9zM402.9 522.97h.9v.9h-.9zM402.63 522.05h.9v.9h-.9zM399.07 525.18h.9v.9h-.9zM399.72 520.62h.9v.9h-.9zM398.53 522.08h.9v.9h-.9zM399.45 515.06h.9v.9h-.9zM400.37 528.46h.9v.9h-.9z" fill-opacity="0.5"/>
<path d="M400.15 523.43h.9v.9h-.9zM400.46 525.16h.9v.9h-.9zM400.88 520.23h.9v.9h-.9zM397.48 523.41h.9v.9h-.9zM400.28 519.37h.9v.9h-.9zM399.04 523.47h.9v.9h-.9zM402.32 519.16h.9v.9h-.9zM397.86 521.52h.9v.9h-.9zM398.09 519.59h.9v.9h-.9zM397.83 526.31h.9v.9h-.9zM400.31 522.28h.9v.9h-.9zM402.35 534.41h.9v.9h-.9zM400.58 525.07h.9v.9h-.9zM397.82 523.91h.9v.9h-.9zM398.43 515.57h.9v.9h-.9zM400.23 519.28h.9v.9h-.9zM402.11 520.54h.9v.9h-.9zM399.04 518.15h.9v.9h-.9zM399.24 521.25h.9v.9h-.9zM400.66 518.53h.9v.9h-.9zM398.25 517.33h.9v.9h-.9zM398.32 519.98h.9v.9h-.9zM399.25 518.91h.9v.9h-.9zM401.13 518.68h.9v.9h-.9zM399.95 521.02h.9v.9h-.9zM400.18 521.92h.9v.9h-.9zM398.77 521.52h.9v.9h-.9zM398.6 521.01h.9v.9h-.9zM401.56 524.95h.9v.9h-.9zM401.92 518.25h.9v.9h-.9zM401.64 523.34h.9v.9h-.9z" fill-opacity="0.5"/>
<path d="M314.18 517.54h.9v.9h-.9zM289.21 519.8h.9v.9h-.9zM312.81 524.28h.9v.9h-.9zM312.36 521.21h.9v.9h-.9zM318.46 517.71h.9v.9h-.9zM301.72 516.32h.9v.9h-.9zM320.24 517.24h.9v.9h-.9zM305.38 518.36h.9v.9h-.9zM318.02 517.82h.9v.9h-.9zM312.22 517.61h.9v.9h-.9zM316.64 521.77h.9v.9h-.9zM320.7 519.93h.9v.9h-.9zM301.8 516.17h.9v.9h-.9zM317.29 521.74h.9v.9h-.9zM303.94 518.92h.9v.9h-.9zM308.43 523.04h.9v.9h-.9zM305.98 519.93h.9v.9h-.9zM320.05 520.43h.9v.9h-.9zM304.21 523.18h.9v.9h-.9zM293.77 518.18h.9v.9h-.9zM297.36 518.84h.9v.9h-.9zM293.46 521.27h.9v.9h-.9zM316.16 518.56h.9v.9h-.9zM309.49 520.13h.9v.9h-.9zM314.01 521.48h.9v.9h-.9zM298.87 517.67h.9v.9h-.9zM288.57 517.36h.9v.9h-.9zM321.43 518.35h.9v.9h-.9zM300.38 523.06h.9v.9h-.9zM314.38 521.11h.9v.9h-.9zM299.84 519.78h.9v.9h-.9zM318.05 521.71h.9v.9h-.9zM311.18 519.67h.9v.9h-.9zM300.68 522.47h.9v.9h-.9zM287.01 522.22h.9v.9h-.9zM302.99 516.17h.9v.9h-.9zM304.01 521.9h.9v.9h-.9zM314.56 519.19h.9v.9h-.9zM319.69 518.53h.9v.9h-.9zM303.05 524.34h.9v.9h-.9z" fill-opacity="0.42"/>
<path d="M321.1 521.04h.9v.9h-.9zM314.42 521.32h.9v.9h-.9zM304.05 515.11h.9v.9h-.9zM296.44 521.43h.9v.9h-.9zM299.46 518.64h.9v.9h-.9zM307.58 518.78h.9v.9h-.9zM299.15 517.55h.9v.9h-.9zM289.53 517.2h.9v.9h-.9zM316.7 522.08h.9v.9h-.9zM316.67 519.21h.9v.9h-.9zM302.73 525.28h.9v.9h-.9zM314.68 516.21h.9v.9h-.9zM306.25 519.11h.9v.9h-.9zM318.91 521.42h.9v.9h-.9zM320.05 518.53h.9v.9h-.9zM303.68 514.44h.9v.9h-.9zM292.05 510.45h.9v.9h-.9zM311.74 521.3h.9v.9h-.9zM317.87 518.47h.9v.9h-.9zM308.66 517.89h.9v.9h-.9zM300.13 514.96h.9v.9h-.9zM319.8 524.24h.9v.9h-.9zM312.22 519.43h.9v.9h-.9zM313.06 517.83h.9v.9h-.9zM319.37 526.33h.9v.9h-.9zM297.1 523.31h.9v.9h-.9zM289.28 522.67h.9v.9h-.9zM315.5 520.43h.9v.9h-.9zM300.12 524.2h.9v.9h-.9zM295.4 518.5h.9v.9h-.9zM316.52 521.01h.9v.9h-.9zM289.64 524.04h.9v.9h-.9zM316.98 517.74h.9v.9h-.9zM291.19 523.28h.9v.9h-.9zM309.02 518.94h.9v.9h-.9zM306.64 521.01h.9v.9h-.9zM320.94 526.52h.9v.9h-.9zM303.91 521.53h.9v.9h-.9zM317.1 521.39h.9v.9h-.9zM312.34 516.89h.9v.9h-.9z" fill-opacity="0.42"/>
<path d="M320.89 515.61h.9v.9h-.9zM308.51 521.66h.9v.9h-.9zM303.3 521.48h.9v.9h-.9zM320.5 520.02h.9v.9h-.9zM315.61 522.51h.9v.9h-.9zM288.75 524.91h.9v.9h-.9zM315.01 524.34h.9v.9h-.9zM319.74 519.01h.9v.9h-.9zM314.44 519.33h.9v.9h-.9zM319.97 514.43h.9v.9h-.9zM304.84 521.22h.9v.9h-.9zM293.44 522.3h.9v.9h-.9zM319.43 513.6h.9v.9h-.9zM293.73 523.12h.9v.9h-.9zM307.73 518.06h.9v.9h-.9zM314.76 518.54h.9v.9h-.9zM301.05 525.39h.9v.9h-.9zM310.13 521.06h.9v.9h-.9zM303.37 520.32h.9v.9h-.9zM302.55 518.87h.9v.9h-.9zM308.83 522.2h.9v.9h-.9zM307.85 517.35h.9v.9h-.9zM312.59 522.34h.9v.9h-.9zM297.75 519.01h.9v.9h-.9zM310.15 521.34h.9v.9h-.9zM313.45 521.51h.9v.9h-.9zM307.51 520.11h.9v.9h-.9zM320.95 520.18h.9v.9h-.9zM318 517.86h.9v.9h-.9zM308.38 517.54h.9v.9h-.9zM320.86 526.35h.9v.9h-.9zM313.16 519.68h.9v.9h-.9zM313.41 521.74h.9v.9h-.9zM308.85 519.21h.9v.9h-.9zM311 518.48h.9v.9h-.9zM311.41 523.15h.9v.9h-.9zM319.86 517.46h.9v.9h-.9zM310.47 520.67h.9v.9h-.9zM283.61 520.66h.9v.9h-.9zM318.83 520.16h.9v.9h-.9z" fill-opacity="0.42"/>
<path d="M318.57 520.14h.9v.9h-.9zM312.27 518.03h.9v.9h-.9zM295.98 516.97h.9v.9h-.9zM313.93 519.28h.9v.9h-.9zM294.44 523.16h.9v.9h-.9zM321.52 518.51h.9v.9h-.9zM292.71 519.34h.9v.9h-.9zM321.4 515.3h.9v.9h-.9zM299.91 517.51h.9v.9h-.9zM314.5 524.92h.9v.9h-.9zM293.86 518.33h.9v.9h-.9zM316.98 518.7h.9v.9h-.9zM293.5 519.6h.9v.9h-.9zM296.39 517.46h.9v.9h-.9zM300.62 521.97h.9v.9h-.9zM320.8 514.05h.9v.9h-.9zM288.73 522.75h.9v.9h-.9zM305.58 517.59h.9v.9h-.9zM288.67 519.39h.9v.9h-.9zM299.05 516.9h.9v.9h-.9zM310.05 525.51h.9v.9h-.9zM318.09 523.06h.9v.9h-.9zM315.35 521.68h.9v.9h-.9zM308.56 519.98h.9v.9h-.9zM320.56 523.1h.9v.9h-.9zM293.83 517.93h.9v.9h-.9zM308.87 517h.9v.9h-.9zM301.93 519h.9v.9h-.9zM299.3 519.42h.9v.9h-.9zM320.73 521.9h.9v.9h-.9zM296.89 522.04h.9v.9h-.9zM294.84 527.16h.9v.9h-.9zM288.11 517.46h.9v.9h-.9zM313.42 522.13h.9v.9h-.9zM318.59 520.43h.9v.9h-.9zM317.02 519.83h.9v.9h-.9zM299.2 516.31h.9v.9h-.9zM294.44 516.97h.9v.9h-.9zM310.26 522.47h.9v.9h-.9zM312.95 518.93h.9v.9h-.9z" fill-opacity="0.42"/>
<path d="M316.18 519.23h.9v.9h-.9zM314.35 520.99h.9v.9h-.9zM286.93 522.73h.9v.9h-.9zM310.58 518.74h.9v.9h-.9zM295.57 517.32h.9v.9h-.9zM313.29 519.42h.9v.9h-.9zM292.73 519.3h.9v.9h-.9zM316.33 523.21h.9v.9h-.9zM313.53 526.14h.9v.9h-.9zM305.75 521.08h.9v.9h-.9zM312.87 524.98h.9v.9h-.9zM304.56 519.57h.9v.9h-.9zM300.71 516.99h.9v.9h-.9zM295.14 519.89h.9v.9h-.9zM312.15 520.95h.9v.9h-.9zM312.34 518.69h.9v.9h-.9zM310.14 521.25h.9v.9h-.9zM295.31 525.03h.9v.9h-.9zM316.51 524.94h.9v.9h-.9zM301.36 522.49h.9v.9h-.9zM314.43 518.05h.9v.9h-.9zM316.29 516.71h.9v.9h-.9zM301.32 516.81h.9v.9h-.9zM314.82 521.32h.9v.9h-.9zM306.2 517.83h.9v.9h-.9zM292.71 522.94h.9v.9h-.9zM310.2 516.85h.9v.9h-.9zM303.43 522.35h.9v.9h-.9zM290.17 519.3h.9v.9h-.9zM291.26 517.89h.9v.9h-.9zM289.11 522.97h.9v.9h-.9zM295.43 519.1h.9v.9h-.9zM290.75 517.46h.9v.9h-.9zM289.33 519.06h.9v.9h-.9zM310.27 516.63h.9v.9h-.9zM293.71 519.88h.9v.9h-.9zM284.41 519.93h.9v.9h-.9zM309.3 519.93h.9v.9h-.9zM305.57 522.18h.9v.9h-.9zM295.82 517.67h.9v.9h-.9z" fill-opacity="0.42"/>
<path d="M295.72 520.86h.9v.9h-.9zM311.75 518.35h.9v.9h-.9zM304.26 519.2h.9v.9h-.9zM312.41 522.39h.9v.9h-.9zM304.58 518.8h.9v.9h-.9zM318.16 522.16h.9v.9h-.9zM321.03 520.36h.9v.9h-.9zM305.27 515.66h.9v.9h-.9zM315.24 516.44h.9v.9h-.9zM300.11 513.24h.9v.9h-.9zM283.36 515.99h.9v.9h-.9zM303.06 519.74h.9v.9h-.9zM320.95 521.25h.9v.9h-.9zM318.22 523.58h.9v.9h-.9zM321.22 516.87h.9v.9h-.9zM295.61 522.81h.9v.9h-.9zM309.03 523.02h.9v.9h-.9zM310.04 523.43h.9v.9h-.9zM290.25 523.04h.9v.9h-.9zM318.27 519.58h.9v.9h-.9zM319.73 517.67h.9v.9h-.9zM313.99 518.59h.9v.9h-.9zM308.98 520.11h.9v.9h-.9zM316.11 520.17h.9v.9h-.9zM319.7 519.35h.9v.9h-.9zM317.91 516.92h.9v.9h-.9zM303.57 519.18h.9v.9h-.9zM318.97 524.53h.9v.9h-.9zM310.72 516.52h.9v.9h-.9zM305.55 519.41h.9v.9h-.9zM306.73 523.19h.9v.9h-.9zM317.1 521.51h.9v.9h-.9zM304.32 518.8h.9v.9h-.9zM314.19 516.02h.9v.9h-.9zM297.14 516.72h.9v.9h-.9zM318.92 521.23h.9v.9h-.9zM286.78 521.41h.9v.9h-.9zM316.8 521.07h.9v.9h-.9zM296.32 517.9h.9v.9h-.9zM314.34 519.56h.9v.9h-.9z" fill-opacity="0.42"/>
<path d="M306.77 519.59h.9v.9h-.9zM319.14 523.22h.9v.9h-.9zM318.48 516.02h.9v.9h-.9zM319.86 519.16h.9v.9h-.9zM314.74 516.75h.9v.9h-.9zM293.98 517.05h.9v.9h-.9zM311.08 519.83h.9v.9h-.9zM292.26 523.1h.9v.9h-.9zM301.89 515.31h.9v.9h-.9zM321.1 519.55h.9v.9h-.9zM321.01 516.64h.9v.9h-.9zM305.59 516.76h.9v.9h-.9zM294.41 518.67h.9v.9h-.9zM310.84 523.7h.9v.9h-.9zM293.95 520.87h.9v.9h-.9zM320.24 523.92h.9v.9h-.9zM307.35 514.56h.9v.9h-.9zM315.53 519.41h.9v.9h-.9zM313.83 515.43h.9v.9h-.9zM303.36 518.78h.9v.9h-.9zM289.93 521.5h.9v.9h-.9zM293.17 516.41h.9v.9h-.9zM320.24 517.25h.9v.9h-.9zM291.81 520.71h.9v.9h-.9zM295.88 521.48h.9v.9h-.9zM311.05 516.24h.9v.9h-.9zM309.91 517.22h.9v.9h-.9zM321.07 523.65h.9v.9h-.9zM292.41 519.62h.9v.9h-.9zM314.25 524.5h.9v.9h-.9zM316.56 521.8h.9v.9h-.9zM308.15 522.07h.9v.9h-.9zM287 518.63h.9v.9h-.9zM309.01 519.41h.9v.9h-.9zM316.19 525.18h.9v.9h-.9zM315.71 523.38h.9v.9h-.9zM304.68 523.34h.9v.9h-.9zM306.92 522.27h.9v.9h-.9zM321.47 516.53h.9v.9h-.9zM303.82 520.72h.9v.9h-.9z" fill-opacity="0.42"/>
<path d="M295.85 518.51h.9v.9h-.9zM309.2 521.04h.9v.9h-.9zM300.45 519.25h.9v.9h-.9zM313.93 514.98h.9v.9h-.9zM301.83 524.14h.9v.9h-.9zM305.92 521.48h.9v.9h-.9zM321.03 522.66h.9v.9h-.9zM318.35 522.52h.9v.9h-.9zM302.78 518.47h.9v.9h-.9zM286.1 521.3h.9v.9h-.9zM320.73 516.1h.9v.9h-.9zM284.07 522.89h.9v.9h-.9zM319.35 515.16h.9v.9h-.9zM302.61 520.39h.9v.9h-.9zM299.79 517.46h.9v.9h-.9zM303.58 520.7h.9v.9h-.9zM297.3 520.56h.9v.9h-.9zM295.74 520.14h.9v.9h-.9zM298.57 521.99h.9v.9h-.9zM310.79 516.73h.9v.9h-.9zM291.4 517.53h.9v.9h-.9zM319.2 525.92h.9v.9h-.9zM319.28 517.65h.9v.9h-.9zM300.49 522.95h.9v.9h-.9zM313.02 516.67h.9v.9h-.9zM289.93 519.33h.9v.9h-.9zM299.73 519.41h.9v.9h-.9zM302.82 523.13h.9v.9h-.9zM305.09 516.7h.9v.9h-.9zM304.51 520.13h.9v.9h-.9zM304.09 516.78h.9v.9h-.9zM315.53 518.45h.9v.9h-.9zM312.67 521.82h.9v.9h-.9zM312.93 521.72h.9v.9h-.9zM314.84 523.56h.9v.9h-.9zM311.83 517.71h.9v.9h-.9zM312.17 519.65h.9v.9h-.9zM304.76 523.43h.9v.9h-.9zM303.64 521.21h.9v.9h-.9zM320.84 526.45h.9v.9h-.9z" fill-opacity="0.42"/>
<path d="M302.65 519.08h.9v.9h-.9zM317.66 519.96h.9v.9h-.9zM301.19 521.18h.9v.9h-.9zM309.42 518.53h.9v.9h-.9zM314.26 515.38h.9v.9h-.9zM315.38 516.85h.9v.9h-.9zM308.41 518.03h.9v.9h-.9zM307.65 521.71h.9v.9h-.9zM317.61 522.22h.9v.9h-.9zM314.48 520.46h.9v.9h-.9zM293.72 520.79h.9v.9h-.9zM318.96 517.74h.9v.9h-.9zM299.95 520.76h.9v.9h-.9zM303.38 514.96h.9v.9h-.9zM310.9 521.03h.9v.9h-.9zM311.14 513.92h.9v.9h-.9zM319.18 525.38h.9v.9h-.9zM298.58 515.66h.9v.9h-.9zM307.71 517.36h.9v.9h-.9zM293.32 517.69h.9v.9h-.9zM311.18 522.89h.9v.9h-.9zM297.47 518.49h.9v.9h-.9zM302.71 522.33h.9v.9h-.9zM292.11 518.58h.9v.9h-.9zM301.85 518.65h.9v.9h-.9zM308.77 519.37h.9v.9h-.9zM308.53 518.97h.9v.9h-.9zM297.83 518.25h.9v.9h-.9zM307.99 521.43h.9v.9h-.9zM305.7 523.08h.9v.9h-.9zM318.2 521.32h.9v.9h-.9zM301.6 522.98h.9v.9h-.9zM295.34 522.24h.9v.9h-.9zM309.6 522.55h.9v.9h-.9zM312.38 519.61h.9v.9h-.9zM320.9 519.12h.9v.9h-.9zM320.17 519.95h.9v.9h-.9zM316.85 521.63h.9v.9h-.9zM292.19 518.63h.9v.9h-.9zM320.78 518.32h.9v.9h-.9z" fill-opacity="0.42"/>
<path d="M295.15 518.7h.9v.9h-.9zM294.83 520.13h.9v.9h-.9zM314.93 520.4h.9v.9h-.9zM321.4 518.58h.9v.9h-.9zM295.96 519.49h.9v.9h-.9zM300.65 521.94h.9v.9h-.9zM311.8 524.75h.9v.9h-.9zM317.37 520.4h.9v.9h-.9zM320.59 519.22h.9v.9h-.9zM301.99 518.94h.9v.9h-.9zM294.94 523.28h.9v.9h-.9zM314.9 518.59h.9v.9h-.9zM316.19 520.07h.9v.9h-.9zM297.58 513.22h.9v.9h-.9zM304.76 516.53h.9v.9h-.9zM309.04 520.65h.9v.9h-.9zM300.49 518.5h.9v.9h-.9zM291.63 523.62h.9v.9h-.9zM317.63 522.38h.9v.9h-.9zM318.72 521.48h.9v.9h-.9zM297.66 518.28h.9v.9h-.9zM293.95 519.84h.9v.9h-.9zM312.2 522.21h.9v.9h-.9zM319.7 518.47h.9v.9h-.9zM303.33 517.78h.9v.9h-.9zM297.32 515.33h.9v.9h-.9zM315.28 519.53h.9v.9h-.9zM295.63 522.61h.9v.9h-.9zM319.26 519.41h.9v.9h-.9zM318.08 522.6h.9v.9h-.9zM306.15 516.98h.9v.9h-.9zM316.71 518.44h.9v.9h-.9zM307.47 521.45h.9v.9h-.9zM321.4 518.81h.9v.9h-.9zM285.39 521.28h.9v.9h-.9zM318.78 517.16h.9v.9h-.9zM296.41 523.82h.9v.9h-.9zM306.36 522.44h.9v.9h-.9zM301.54 522.05h.9v.9h-.9zM298.75 517.16h.9v.9h-.9z" fill-opacity="0.42"/>
<path d="M311.25 519.38h.9v.9h-.9zM309.7 519.57h.9v.9h-.9zM311.82 522.19h.9v.9h-.9zM305.09 525.17h.9v.9h-.9zM310.77 518.92h.9v.9h-.9zM321.11 522.58h.9v.9h-.9zM305.3 518.09h.9v.9h-.9zM306.13 520.46h.9v.9h-.9zM301.85 525.96h.9v.9h-.9zM295.68 518.57h.9v.9h-.9zM316.28 523.09h.9v.9h-.9zM320.23 517.66h.9v.9h-.9zM301.33 523.94h.9v.9h-.9zM314.02 517.71h.9v.9h-.9zM307.89 519.04h.9v.9h-.9zM297.31 513.86h.9v.9h-.9zM287.5 519.43h.9v.9h-.9zM319.29 519.33h.9v.9h-.9zM318.23 521.44h.9v.9h-.9zM306.86 520.02h.9v.9h-.9zM290.67 519.67h.9v.9h-.9zM293.8 518.82h.9v.9h-.9zM298.57 522.83h.9v.9h-.9zM319.79 524.52h.9v.9h-.9zM314.53 519.19h.9v.9h-.9zM298.49 517.42h.9v.9h-.9zM298 521.03h.9v.9h-.9zM301.75 520.61h.9v.9h-.9zM310.56 523.07h.9v.9h-.9zM309 521.48h.9v.9h-.9zM302.6 522.38h.9v.9h-.9zM318.2 521.3h.9v.9h-.9zM315.49 519.5h.9v.9h-.9zM297 517.91h.9v.9h-.9zM316.27 522.54h.9v.9h-.9zM304.56 521.53h.9v.9h-.9zM297.97 522.15h.9v.9h-.9zM311.11 520.74h.9v.9h-.9zM309.05 521.51h.9v.9h-.9zM320.74 516.64h.9v.9h-.9z" fill-opacity="0.42"/>
<path d="M299.46 519.25h.9v.9h-.9zM295.64 522.33h.9v.9h-.9zM301.69 517.47h.9v.9h-.9zM302.11 520.04h.9v.9h-.9zM316.44 519.27h.9v.9h-.9zM310.31 514.23h.9v.9h-.9zM311.38 515.2h.9v.9h-.9zM303.48 516.68h.9v.9h-.9zM318.24 515.61h.9v.9h-.9zM316.6 519.86h.9v.9h-.9zM302.07 517.67h.9v.9h-.9zM296.68 518.47h.9v.9h-.9zM305.35 522.31h.9v.9h-.9zM294.95 519.38h.9v.9h-.9zM314.18 516.53h.9v.9h-.9zM294.77 520.66h.9v.9h-.9zM309.73 516.84h.9v.9h-.9zM308.27 521.13h.9v.9h-.9zM310.57 521.33h.9v.9h-.9zM289.91 519.96h.9v.9h-.9zM304.22 520.55h.9v.9h-.9zM315.74 520.51h.9v.9h-.9zM317.83 521.72h.9v.9h-.9zM298.86 520.11h.9v.9h-.9zM305.26 521.1h.9v.9h-.9zM305.54 519.99h.9v.9h-.9zM309.84 520.76h.9v.9h-.9zM314.63 522.3h.9v.9h-.9zM314.06 521.19h.9v.9h-.9zM303.68 516.19h.9v.9h-.9zM295.26 523.88h.9v.9h-.9zM316.9 520.45h.9v.9h-.9zM314.58 517.93h.9v.9h-.9zM289.43 518.44h.9v.9h-.9zM307.47 521.71h.9v.9h-.9zM316.15 521.45h.9v.9h-.9zM311.49 524.09h.9v.9h-.9zM315.06 516.85h.9v.9h-.9zM320.14 522.5h.9v.9h-.9zM312.76 523.55h.9v.9h-.9z" fill-opacity="0.42"/>
<path d="M310.49 522.26h.9v.9h-.9zM319.44 522.16h.9v.9h-.9zM314.87 524.14h.9v.9h-.9zM290.91 518.13h.9v.9h-.9zM305.93 522.39h.9v.9h-.9zM308.73 516.62h.9v.9h-.9zM307.66 518.1h.9v.9h-.9zM304.38 521.6h.9v.9h-.9zM308.15 518.79h.9v.9h-.9zM296.92 519.24h.9v.9h-.9zM312.71 517.35h.9v.9h-.9zM309.63 518.7h.9v.9h-.9zM304.37 522.24h.9v.9h-.9zM309.97 520.02h.9v.9h-.9zM302.38 518.27h.9v.9h-.9zM306.66 518.73h.9v.9h-.9zM289.52 518.52h.9v.9h-.9zM312.31 522.46h.9v.9h-.9zM316.31 522.23h.9v.9h-.9zM300.17 520.77h.9v.9h-.9zM307.85 525.06h.9v.9h-.9zM315.12 516.74h.9v.9h-.9zM320.11 516.44h.9v.9h-.9zM295.17 520.03h.9v.9h-.9zM315.11 519.73h.9v.9h-.9zM299.74 523.34h.9v.9h-.9zM309.39 515.81h.9v.9h-.9zM309.7 523.3h.9v.9h-.9zM316.18 519.91h.9v.9h-.9zM309.85 523.13h.9v.9h-.9zM302.82 519.59h.9v.9h-.9zM295.99 520.32h.9v.9h-.9zM303.56 518.59h.9v.9h-.9zM314.84 516.94h.9v.9h-.9zM292.62 521.25h.9v.9h-.9zM295.26 525.89h.9v.9h-.9zM297.13 517.34h.9v.9h-.9zM318.7 519.06h.9v.9h-.9zM318.33 517.59h.9v.9h-.9zM307.32 518.63h.9v.9h-.9z" fill-opacity="0.42"/>
<path d="M321.27 522.34h.9v.9h-.9zM316.1 521.97h.9v.9h-.9zM313.76 523.97h.9v.9h-.9zM319.96 522.74h.9v.9h-.9zM315.67 522.65h.9v.9h-.9zM295.65 524.95h.9v.9h-.9zM286.09 518.85h.9v.9h-.9zM316.51 516.25h.9v.9h-.9zM309.89 520.7h.9v.9h-.9zM313.12 520.36h.9v.9h-.9zM316.03 517.54h.9v.9h-.9zM305.2 523.69h.9v.9h-.9zM307.72 518.51h.9v.9h-.9zM313.16 516.39h.9v.9h-.9zM295.37 518.36h.9v.9h-.9zM315.81 515.85h.9v.9h-.9zM312.69 518.43h.9v.9h-.9zM321.46 518.98h.9v.9h-.9zM320.94 519.83h.9v.9h-.9zM315.83 523.85h.9v.9h-.9zM308.21 519.45h.9v.9h-.9zM296.26 522.4h.9v.9h-.9zM317.06 510.22h.9v.9h-.9zM298.92 518.88h.9v.9h-.9zM321.16 518.1h.9v.9h-.9zM293.59 517.41h.9v.9h-.9zM290.94 518.72h.9v.9h-.9zM312.77 520.07h.9v.9h-.9zM299.87 523.35h.9v.9h-.9zM289.57 518.27h.9v.9h-.9zM318.42 519.3h.9v.9h-.9zM305.06 518.4h.9v.9h-.9zM313.87 522.1h.9v.9h-.9zM317.19 518.42h.9v.9h-.9zM320.24 523.5h.9v.9h-.9zM317.49 518.99h.9v.9h-.9zM291.52 518.88h.9v.9h-.9zM304.13 515.1h.9v.9h-.9zM318.15 517.15h.9v.9h-.9zM303.53 524.03h.9v.9h-.9z" fill-opacity="0.42"/>
<path d="M310.62 519.11h.9v.9h-.9zM292.15 519.14h.9v.9h-.9zM304.19 516.67h.9v.9h-.9zM320.7 521.6h.9v.9h-.9zM320.27 522.91h.9v.9h-.9zM294.17 522.97h.9v.9h-.9zM290.9 524.52h.9v.9h-.9zM314.74 523.3h.9v.9h-.9zM309.61 516.83h.9v.9h-.9zM293.47 518.34h.9v.9h-.9zM308.32 520.61h.9v.9h-.9zM314.78 519.69h.9v.9h-.9zM291.4 518.46h.9v.9h-.9zM291.54 519.7h.9v.9h-.9zM290.73 513.79h.9v.9h-.9zM295.73 523.14h.9v.9h-.9zM307.24 519.19h.9v.9h-.9zM299.2 522.38h.9v.9h-.9zM305.8 521.47h.9v.9h-.9zM317.72 519.87h.9v.9h-.9zM316.85 516.19h.9v.9h-.9zM310.52 521.05h.9v.9h-.9zM321.35 524.19h.9v.9h-.9zM317.48 521.47h.9v.9h-.9zM313.31 520.9h.9v.9h-.9zM312.21 519.89h.9v.9h-.9zM315.67 522.94h.9v.9h-.9zM317.41 521.47h.9v.9h-.9zM313.77 516.53h.9v.9h-.9zM319.66 523.31h.9v.9h-.9zM299.6 520.06h.9v.9h-.9zM315.9 524.88h.9v.9h-.9zM306.87 527.17h.9v.9h-.9zM311.74 519.65h.9v.9h-.9zM305.26 520.41h.9v.9h-.9zM305.67 520.27h.9v.9h-.9zM306.96 521.64h.9v.9h-.9zM318.53 520.99h.9v.9h-.9zM315.67 519.27h.9v.9h-.9zM320.05 521h.9v.9h-.9z" fill-opacity="0.42"/>
<path d="M319.42 520.38h.9v.9h-.9zM314.1 516.12h.9v.9h-.9zM301.29 519.89h.9v.9h-.9zM303.22 519.99h.9v.9h-.9zM297.67 523.26h.9v.9h-.9zM307.28 522.72h.9v.9h-.9zM303.05 520.79h.9v.9h-.9zM313.85 516.41h.9v.9h-.9zM319.41 521.17h.9v.9h-.9zM291.26 522.66h.9v.9h-.9zM315.39 520.05h.9v.9h-.9zM303.96 519.39h.9v.9h-.9zM291.31 521.49h.9v.9h-.9zM300.35 516.81h.9v.9h-.9zM314.5 524.88h.9v.9h-.9zM305.47 517.86h.9v.9h-.9zM287.03 518.67h.9v.9h-.9zM314.68 521.54h.9v.9h-.9zM303.55 521.26h.9v.9h-.9zM319.18 518.33h.9v.9h-.9zM319.97 519.38h.9v.9h-.9zM316.71 519.87h.9v.9h-.9zM318.32 522.84h.9v.9h-.9zM292.71 523.18h.9v.9h-.9zM303.1 519.68h.9v.9h-.9zM313.02 521.52h.9v.9h-.9zM321.25 513.83h.9v.9h-.9zM301.09 519.91h.9v.9h-.9zM294.83 519.09h.9v.9h-.9zM303.39 524.76h.9v.9h-.9zM304.14 522.5h.9v.9h-.9zM305.79 517.47h.9v.9h-.9zM318.67 521.14h.9v.9h-.9zM312.35 521.41h.9v.9h-.9zM308.82 518.14h.9v.9h-.9zM314.12 515.68h.9v.9h-.9zM297.2 519.73h.9v.9h-.9zM292.9 518.17h.9v.9h-.9zM302.3 517.75h.9v.9h-.9zM294.19 522.09h.9v.9h-.9z" fill-opacity="0.42"/>
<path d="M312.79 514.31h.9v.9h-.9zM308.42 525.41h.9v.9h-.9zM317.73 521.31h.9v.9h-.9zM313.57 516.74h.9v.9h-.9zM292.28 525.77h.9v.9h-.9zM319.79 516.37h.9v.9h-.9zM291.99 520.55h.9v.9h-.9zM297.18 522.26h.9v.9h-.9zM300.72 522.88h.9v.9h-.9zM318.7 522.04h.9v.9h-.9zM303.71 522.72h.9v.9h-.9zM311.15 515.56h.9v.9h-.9zM318.49 519.98h.9v.9h-.9zM313.06 523.62h.9v.9h-.9zM283.89 522.06h.9v.9h-.9zM309.55 519.88h.9v.9h-.9zM316.76 518.71h.9v.9h-.9zM321.32 520.23h.9v.9h-.9zM318.62 517.75h.9v.9h-.9zM284.32 520.15h.9v.9h-.9zM302.9 524.38h.9v.9h-.9zM295.82 519.5h.9v.9h-.9zM313.19 522.65h.9v.9h-.9zM320.52 521.6h.9v.9h-.9zM287.47 513.24h.9v.9h-.9zM293.07 519.99h.9v.9h-.9zM307.49 521.63h.9v.9h-.9zM310.06 515.3h.9v.9h-.9zM311.28 516.29h.9v.9h-.9zM321.08 519.05h.9v.9h-.9zM313.47 520.35h.9v.9h-.9zM308.75 521.92h.9v.9h-.9zM313.68 520.62h.9v.9h-.9zM297.92 518.05h.9v.9h-.9zM292.55 520.09h.9v.9h-.9zM285.31 519.41h.9v.9h-.9zM307.22 522.59h.9v.9h-.9zM301.14 513.19h.9v.9h-.9zM304.26 521.13h.9v.9h-.9zM298.17 520.93h.9v.9h-.9z" fill-opacity="0.42"/>
<path d="M316.83 519.04h.9v.9h-.9zM316.37 516.15h.9v.9h-.9zM298.41 523.19h.9v.9h-.9zM301.08 519.43h.9v.9h-.9zM317.11 520.06h.9v.9h-.9zM316.01 520.54h.9v.9h-.9zM294.82 525.03h.9v.9h-.9zM303.7 519.77h.9v.9h-.9zM320.81 517.31h.9v.9h-.9zM301.81 518.28h.9v.9h-.9zM319.34 518.42h.9v.9h-.9zM302.85 518.65h.9v.9h-.9zM302.38 517.16h.9v.9h-.9zM311.26 525.44h.9v.9h-.9zM312.6 520.01h.9v.9h-.9zM311.97 519.12h.9v.9h-.9zM316.57 525.29h.9v.9h-.9zM308.78 522.99h.9v.9h-.9zM286.29 522.68h.9v.9h-.9zM317.61 519.61h.9v.9h-.9zM321.09 522.08h.9v.9h-.9zM308.76 520.49h.9v.9h-.9zM302.37 519.46h.9v.9h-.9zM308.38 517.65h.9v.9h-.9zM306.27 520.61h.9v.9h-.9zM305.45 516.85h.9v.9h-.9zM318.67 512.49h.9v.9h-.9zM294.93 523.05h.9v.9h-.9zM292.77 518.26h.9v.9h-.9zM289.71 514.91h.9v.9h-.9zM303.94 519.49h.9v.9h-.9zM310.61 515.93h.9v.9h-.9zM314.17 522.41h.9v.9h-.9zM305.2 517.58h.9v.9h-.9zM298.67 517.64h.9v.9h-.9zM318.35 524.2h.9v.9h-.9zM304.65 520.73h.9v.9h-.9zM290.02 527.22h.9v.9h-.9zM305.53 516.69h.9v.9h-.9zM288.78 522.26h.9v.9h-.9z" fill-opacity="0.42"/>
<path d="M314.02 521.77h.9v.9h-.9zM307.26 520.47h.9v.9h-.9zM316.15 521.39h.9v.9h-.9zM287.12 523.59h.9v.9h-.9zM296.28 519.69h.9v.9h-.9zM317.16 521.02h.9v.9h-.9zM311.19 521.43h.9v.9h-.9zM310.68 517.48h.9v.9h-.9zM287.62 522.12h.9v.9h-.9zM313.01 519.14h.9v.9h-.9zM318.17 518.05h.9v.9h-.9zM316.1 521.37h.9v.9h-.9zM317.09 522.29h.9v.9h-.9zM303.83 518.63h.9v.9h-.9zM309.16 516.83h.9v.9h-.9zM317.68 517.87h.9v.9h-.9zM312.67 519.99h.9v.9h-.9zM316.4 524.53h.9v.9h-.9zM317.86 522.19h.9v.9h-.9zM318.24 521.59h.9v.9h-.9zM305.63 520.43h.9v.9h-.9zM314.63 520.66h.9v.9h-.9zM287.8 518.42h.9v.9h-.9zM296.96 522.43h.9v.9h-.9zM307.73 519.96h.9v.9h-.9zM303.32 519.05h.9v.9h-.9zM313.68 517.61h.9v.9h-.9zM301.81 517.76h.9v.9h-.9zM304.41 522.77h.9v.9h-.9zM301.98 518.84h.9v.9h-.9zM308.15 522.58h.9v.9h-.9zM320.26 522.3h.9v.9h-.9zM313.22 525.05h.9v.9h-.9zM298.23 520.18h.9v.9h-.9zM288.39 519.49h.9v.9h-.9zM283.6 523.21h.9v.9h-.9zM321.33 519.75h.9v.9h-.9zM314.07 520.25h.9v.9h-.9zM321.07 521.57h.9v.9h-.9zM294.15 520.27h.9v.9h-.9z" fill-opacity="0.42"/>
<path d="M304.72 519.57h.9v.9h-.9zM320.73 520.49h.9v.9h-.9zM316.19 519.28h.9v.9h-.9zM308.4 523.63h.9v.9h-.9zM317.01 520.44h.9v.9h-.9zM315.31 526.53h.9v.9h-.9zM312.57 516.6h.9v.9h-.9zM286.99 518.52h.9v.9h-.9zM319.1 518.33h.9v.9h-.9zM304.53 520.18h.9v.9h-.9zM315.06 520.44h.9v.9h-.9zM305.41 518.28h.9v.9h-.9zM321.3 522.45h.9v.9h-.9zM320.53 521.06h.9v.9h-.9zM315.06 517.23h.9v.9h-.9zM291.19 519.7h.9v.9h-.9zM315.83 519.51h.9v.9h-.9zM320.86 520.91h.9v.9h-.9zM292.36 516.12h.9v.9h-.9zM310.26 520.83h.9v.9h-.9zM305.73 519.92h.9v.9h-.9zM314.55 518.1h.9v.9h-.9zM306.55 525.02h.9v.9h-.9zM299.33 518.96h.9v.9h-.9zM319.14 517.82h.9v.9h-.9zM295.86 520.86h.9v.9h-.9zM297.19 521.84h.9v.9h-.9zM305.51 520.47h.9v.9h-.9zM314.1 523.34h.9v.9h-.9zM320.74 517.81h.9v.9h-.9zM320.35 521.5h.9v.9h-.9zM289.11 518.46h.9v.9h-.9zM311.65 515.12h.9v.9h-.9zM287.23 525.49h.9v.9h-.9zM320.36 519.26h.9v.9h-.9zM315.22 523.89h.9v.9h-.9zM308.42 520.76h.9v.9h-.9zM294.56 515.12h.9v.9h-.9zM317.37 524.88h.9v.9h-.9zM311.65 519.6h.9v.9h-.9z" fill-opacity="0.42"/>
<path d="M311.82 522.77h.9v.9h-.9zM302.29 521.97h.9v.9h-.9zM299.79 521.87h.9v.9h-.9zM298.26 519.2h.9v.9h-.9zM318.38 514.86h.9v.9h-.9zM297.14 518.88h.9v.9h-.9zM319.37 515.33h.9v.9h-.9zM312.16 522.7h.9v.9h-.9zM303.88 519.28h.9v.9h-.9zM310.56 521.04h.9v.9h-.9zM291.42 521.71h.9v.9h-.9zM303.14 518.92h.9v.9h-.9zM305.43 514.18h.9v.9h-.9zM291.75 520.88h.9v.9h-.9zM304.32 517.03h.9v.9h-.9zM318.74 519.24h.9v.9h-.9zM310.21 518.14h.9v.9h-.9zM305.01 516.69h.9v.9h-.9zM307.28 520.37h.9v.9h-.9zM320.68 521.29h.9v.9h-.9zM313.88 523.76h.9v.9h-.9zM306.24 523.42h.9v.9h-.9zM306.35 520.59h.9v.9h-.9zM314.08 517.93h.9v.9h-.9zM316.56 519.28h.9v.9h-.9zM294.42 518.68h.9v.9h-.9zM315.84 518.13h.9v.9h-.9zM320.16 518.49h.9v.9h-.9zM310.56 521.7h.9v.9h-.9zM317.68 519.93h.9v.9h-.9zM321.2 520.89h.9v.9h-.9zM308.21 521.57h.9v.9h-.9zM303.13 519h.9v.9h-.9zM288.39 519.4h.9v.9h-.9zM292.86 521.87h.9v.9h-.9zM316.71 521.57h.9v.9h-.9zM311.39 521.85h.9v.9h-.9zM321.21 523.05h.9v.9h-.9zM320.71 522.68h.9v.9h-.9zM292.23 523.09h.9v.9h-.9z" fill-opacity="0.42"/>
<path d="M318.48 518.39h.9v.9h-.9zM319.64 523.32h.9v.9h-.9zM307.49 519.68h.9v.9h-.9zM313.72 520.86h.9v.9h-.9zM313.79 519.59h.9v.9h-.9zM303.82 519.07h.9v.9h-.9zM301.47 520.75h.9v.9h-.9zM299.57 521.1h.9v.9h-.9zM318.42 522.44h.9v.9h-.9zM303.23 517.41h.9v.9h-.9zM303.47 521.21h.9v.9h-.9zM294.09 519.23h.9v.9h-.9zM320.36 519.11h.9v.9h-.9zM302.21 526.45h.9v.9h-.9zM293.15 517.84h.9v.9h-.9zM318.36 524.71h.9v.9h-.9zM312.13 517.3h.9v.9h-.9zM304.04 519.54h.9v.9h-.9zM320.19 519.07h.9v.9h-.9zM311.48 520.82h.9v.9h-.9zM305.09 517.51h.9v.9h-.9zM313.62 525.77h.9v.9h-.9zM307.94 521.52h.9v.9h-.9zM297.41 519.28h.9v.9h-.9zM320.96 523.31h.9v.9h-.9zM301.91 522.82h.9v.9h-.9zM293.51 523.97h.9v.9h-.9zM303.24 518.69h.9v.9h-.9zM298.77 519.14h.9v.9h-.9zM302.24 515.8h.9v.9h-.9zM288.6 518.08h.9v.9h-.9zM302.59 522.66h.9v.9h-.9zM316.24 518.26h.9v.9h-.9zM310.3 520.38h.9v.9h-.9zM295.31 518.24h.9v.9h-.9zM299.72 513.21h.9v.9h-.9zM297.26 518.34h.9v.9h-.9zM293.91 519.12h.9v.9h-.9zM309.13 521.59h.9v.9h-.9zM309.18 523.66h.9v.9h-.9z" fill-opacity="0.42"/>
<path d="M299.34 522.78h.9v.9h-.9zM316.76 518.27h.9v.9h-.9zM316.66 519.98h.9v.9h-.9zM302.02 521.89h.9v.9h-.9zM309.38 519.94h.9v.9h-.9zM300.99 518.73h.9v.9h-.9zM286.14 521.91h.9v.9h-.9zM311.66 514.35h.9v.9h-.9zM311.49 517.96h.9v.9h-.9zM305.08 521.03h.9v.9h-.9zM282.76 520.37h.9v.9h-.9zM303.82 523h.9v.9h-.9zM312.33 521.54h.9v.9h-.9zM320 522.14h.9v.9h-.9zM299.21 520.22h.9v.9h-.9zM320.88 520.04h.9v.9h-.9zM320.89 527.55h.9v.9h-.9zM321.04 515.59h.9v.9h-.9zM309.08 520.69h.9v.9h-.9zM317.43 518.54h.9v.9h-.9zM296.95 522.86h.9v.9h-.9zM314.11 516.6h.9v.9h-.9zM316.41 517.85h.9v.9h-.9zM319.83 524.24h.9v.9h-.9zM312.9 519.28h.9v.9h-.9zM305.96 518.31h.9v.9h-.9zM314.84 517.26h.9v.9h-.9zM295.16 518.33h.9v.9h-.9zM285.98 515.26h.9v.9h-.9zM321.39 520.63h.9v.9h-.9zM295.54 522.14h.9v.9h-.9zM321.01 519.78h.9v.9h-.9zM306.39 521.12h.9v.9h-.9zM313.02 516.85h.9v.9h-.9zM290.92 523.81h.9v.9h-.9zM290.21 524.27h.9v.9h-.9zM312.27 523.57h.9v.9h-.9zM311.2 518.91h.9v.9h-.9zM314.69 520.57h.9v.9h-.9zM294.03 517.96h.9v.9h-.9z" fill-opacity="0.42"/>
<path d="M302.72 518.8h.9v.9h-.9zM304.33 518.73h.9v.9h-.9zM307.98 518h.9v.9h-.9zM320.19 523.19h.9v.9h-.9zM310.1 520.64h.9v.9h-.9zM319.16 518.25h.9v.9h-.9zM318.37 520.41h.9v.9h-.9zM306.51 520.35h.9v.9h-.9zM300.42 521.6h.9v.9h-.9zM317.5 520.13h.9v.9h-.9zM308.73 518.07h.9v.9h-.9zM293.64 517.73h.9v.9h-.9zM321.2 522.67h.9v.9h-.9zM320.8 518.98h.9v.9h-.9zM313.83 518.92h.9v.9h-.9zM321.28 520.68h.9v.9h-.9zM288.57 518.04h.9v.9h-.9zM315.28 521.18h.9v.9h-.9zM305.41 522.48h.9v.9h-.9zM287.57 520.93h.9v.9h-.9zM311.54 523.57h.9v.9h-.9zM320.66 518.5h.9v.9h-.9zM310.89 516.88h.9v.9h-.9zM287.03 518.89h.9v.9h-.9zM302.96 516.88h.9v.9h-.9zM319.32 520.72h.9v.9h-.9zM314.67 516.11h.9v.9h-.9zM312.13 526.48h.9v.9h-.9zM291.4 517.9h.9v.9h-.9zM305.91 519.77h.9v.9h-.9zM312.18 522.29h.9v.9h-.9zM320.41 516.53h.9v.9h-.9zM311.09 522.69h.9v.9h-.9zM318.78 522.28h.9v.9h-.9zM303.56 521.03h.9v.9h-.9zM312.21 519.88h.9v.9h-.9zM299.46 518.41h.9v.9h-.9zM309.89 519.05h.9v.9h-.9zM297.78 525.26h.9v.9h-.9zM309.41 517.39h.9v.9h-.9z" fill-opacity="0.42"/>
<path d="M296.98 518.38h.9v.9h-.9zM319.89 519.52h.9v.9h-.9zM318.01 521.1h.9v.9h-.9zM313 521.06h.9v.9h-.9zM300.72 521.21h.9v.9h-.9zM288.66 521.16h.9v.9h-.9zM318.51 520.7h.9v.9h-.9zM301.68 520.81h.9v.9h-.9zM287.4 520.99h.9v.9h-.9zM310 515.73h.9v.9h-.9zM321.18 523.08h.9v.9h-.9zM296.4 518.45h.9v.9h-.9zM315.76 526.52h.9v.9h-.9zM316.69 520.31h.9v.9h-.9zM313.86 523.39h.9v.9h-.9zM316.64 523.36h.9v.9h-.9zM320.27 517.77h.9v.9h-.9zM318.77 521.1h.9v.9h-.9zM306.69 518.02h.9v.9h-.9zM298.62 516.21h.9v.9h-.9zM310.91 522.65h.9v.9h-.9zM300.46 513.16h.9v.9h-.9zM303.78 518.53h.9v.9h-.9zM283.4 520.43h.9v.9h-.9zM313.51 519.9h.9v.9h-.9zM295.26 517.35h.9v.9h-.9zM306.05 522.67h.9v.9h-.9zM290.91 522.58h.9v.9h-.9zM301.46 522.95h.9v.9h-.9zM319.77 521.07h.9v.9h-.9zM314.09 521.07h.9v.9h-.9zM313.72 521.03h.9v.9h-.9zM292.42 519.45h.9v.9h-.9zM293.2 519.66h.9v.9h-.9zM318.93 518.2h.9v.9h-.9zM289.69 521.39h.9v.9h-.9zM315.29 516.17h.9v.9h-.9zM292.99 518.67h.9v.9h-.9zM305.35 519.91h.9v.9h-.9zM307 520.36h.9v.9h-.9z" fill-opacity="0.42"/>
<path d="M309.83 515.89h.9v.9h-.9zM307.51 520.07h.9v.9h-.9zM308.18 521.19h.9v.9h-.9zM299.69 522.44h.9v.9h-.9zM306.89 518.36h.9v.9h-.9zM299.53 517.61h.9v.9h-.9zM315.82 523.29h.9v.9h-.9zM318.95 523.75h.9v.9h-.9zM298.46 521.47h.9v.9h-.9zM288.55 523.06h.9v.9h-.9zM309.36 515.48h.9v.9h-.9zM297.83 520.32h.9v.9h-.9zM315.76 522.83h.9v.9h-.9zM306.6 521.52h.9v.9h-.9zM305 517.71h.9v.9h-.9zM314.65 520.31h.9v.9h-.9zM313.71 522.78h.9v.9h-.9zM302.4 520.1h.9v.9h-.9zM313.39 522.26h.9v.9h-.9zM319.33 516.09h.9v.9h-.9zM319.9 519.56h.9v.9h-.9zM314.76 519.9h.9v.9h-.9zM318.92 522.39h.9v.9h-.9zM294.46 518.59h.9v.9h-.9zM308.86 521.28h.9v.9h-.9zM297.47 521.85h.9v.9h-.9zM317.98 524.8h.9v.9h-.9zM311.55 519.01h.9v.9h-.9zM318.89 522.38h.9v.9h-.9zM305.16 518.64h.9v.9h-.9zM302.33 521.76h.9v.9h-.9zM303.21 524.52h.9v.9h-.9zM306.16 522.28h.9v.9h-.9zM288.73 517.37h.9v.9h-.9zM312.41 522.56h.9v.9h-.9zM300.29 521.79h.9v.9h-.9zM316.47 517.45h.9v.9h-.9zM315.97 518.87h.9v.9h-.9zM319.44 516.56h.9v.9h-.9zM296.07 522.05h.9v.9h-.9z" fill-opacity="0.42"/>
<path d="M320.46 523.37h.9v.9h-.9zM305.49 521.83h.9v.9h-.9zM293.14 521.86h.9v.9h-.9zM295.9 521.95h.9v.9h-.9zM309.74 524.45h.9v.9h-.9zM318.83 519.87h.9v.9h-.9zM307.64 520.36h.9v.9h-.9zM310.95 520.74h.9v.9h-.9zM306.2 519.08h.9v.9h-.9zM301.77 518.03h.9v.9h-.9zM312.87 522.44h.9v.9h-.9zM316.26 518.51h.9v.9h-.9zM287.28 514.78h.9v.9h-.9zM287.26 519.73h.9v.9h-.9zM316.42 519.04h.9v.9h-.9zM312.91 520.48h.9v.9h-.9zM321.07 519.1h.9v.9h-.9zM309.9 521.05h.9v.9h-.9zM290.49 523.68h.9v.9h-.9zM308.34 519.47h.9v.9h-.9zM291.49 520.03h.9v.9h-.9zM295.19 520.07h.9v.9h-.9zM308.53 519.17h.9v.9h-.9zM314 522.87h.9v.9h-.9zM289.19 523.45h.9v.9h-.9zM310.49 518.73h.9v.9h-.9zM288.55 522.49h.9v.9h-.9zM300.19 519.34h.9v.9h-.9zM314.53 518.3h.9v.9h-.9zM293.28 520.27h.9v.9h-.9zM318.78 522.58h.9v.9h-.9zM314.02 513.67h.9v.9h-.9zM306.97 520.91h.9v.9h-.9zM307.65 519.55h.9v.9h-.9zM318.54 515.54h.9v.9h-.9zM316.43 518.92h.9v.9h-.9zM302.18 520.68h.9v.9h-.9zM316.15 519.88h.9v.9h-.9zM285.43 520.58h.9v.9h-.9zM297.8 520.52h.9v.9h-.9z" fill-opacity="0.42"/>
<path d="M310.83 517.13h.9v.9h-.9zM319.38 521.74h.9v.9h-.9zM303.63 525.17h.9v.9h-.9zM321.11 522.27h.9v.9h-.9zM320.8 522.78h.9v.9h-.9zM293.39 518.26h.9v.9h-.9zM319.92 522.4h.9v.9h-.9zM297.31 519.35h.9v.9h-.9zM289.9 518.5h.9v.9h-.9zM304.09 521.12h.9v.9h-.9zM304.04 520.89h.9v.9h-.9zM296.83 517.51h.9v.9h-.9zM311.74 519.03h.9v.9h-.9zM308.1 520.14h.9v.9h-.9zM302.11 519.87h.9v.9h-.9zM321.54 525.6h.9v.9h-.9zM308.73 522.17h.9v.9h-.9zM318.5 518.35h.9v.9h-.9zM309.31 519.27h.9v.9h-.9zM319.34 522.18h.9v.9h-.9z" fill-opacity="0.42"/>
<path d="M452.52 536.35h.9v.9h-.9zM445.88 538.54h.9v.9h-.9zM459.59 535.61h.9v.9h-.9zM443.21 530.84h.9v.9h-.9zM449.16 533.71h.9v.9h-.9zM444.58 533.7h.9v.9h-.9zM439.99 533.51h.9v.9h-.9zM441.45 534.91h.9v.9h-.9zM447.59 529.7h.9v.9h-.9zM447.49 533.45h.9v.9h-.9zM459.27 536.12h.9v.9h-.9zM447.71 536.5h.9v.9h-.9zM450.05 536.48h.9v.9h-.9zM447.57 534.89h.9v.9h-.9zM448.26 536.91h.9v.9h-.9zM462.25 538.88h.9v.9h-.9zM459.96 533.6h.9v.9h-.9zM461.22 533.19h.9v.9h-.9zM450.33 531.4h.9v.9h-.9zM456.8 529.2h.9v.9h-.9zM449.9 536.13h.9v.9h-.9zM442.88 535.51h.9v.9h-.9zM443.19 533.08h.9v.9h-.9zM452.8 538.27h.9v.9h-.9zM464.51 531.08h.9v.9h-.9zM439.21 531.85h.9v.9h-.9zM451.97 533.73h.9v.9h-.9zM441.68 531.44h.9v.9h-.9zM451.89 534.18h.9v.9h-.9zM464.11 530.54h.9v.9h-.9zM446.62 544.47h.9v.9h-.9zM442.17 537.33h.9v.9h-.9zM446.96 534.41h.9v.9h-.9zM458.71 532.37h.9v.9h-.9zM448.73 534.13h.9v.9h-.9zM450.69 539.17h.9v.9h-.9zM460.13 532.11h.9v.9h-.9zM459.04 529.51h.9v.9h-.9zM445.84 531.9h.9v.9h-.9zM446.22 534.53h.9v.9h-.9z" fill-opacity="0.32"/>
<path d="M452.25 531.34h.9v.9h-.9zM453.04 532.07h.9v.9h-.9zM453.99 534.9h.9v.9h-.9zM442.86 531.3h.9v.9h-.9zM457 533.8h.9v.9h-.9zM452.38 533.02h.9v.9h-.9zM460.92 535.38h.9v.9h-.9zM445.7 534.67h.9v.9h-.9zM443.08 532.8h.9v.9h-.9zM448.01 530.95h.9v.9h-.9zM444.61 537.21h.9v.9h-.9zM444.41 533.34h.9v.9h-.9zM442.14 537.75h.9v.9h-.9zM444.02 536.25h.9v.9h-.9zM454.69 535.63h.9v.9h-.9zM447.08 527.46h.9v.9h-.9zM444.39 533.32h.9v.9h-.9zM440.65 530.55h.9v.9h-.9zM452.59 534h.9v.9h-.9zM457.43 535.36h.9v.9h-.9zM459.07 534.85h.9v.9h-.9zM449.46 534.57h.9v.9h-.9zM456.33 536.88h.9v.9h-.9zM454.83 532.6h.9v.9h-.9zM443.41 537.01h.9v.9h-.9zM457.52 531.01h.9v.9h-.9zM450.69 531.1h.9v.9h-.9zM451.03 540.37h.9v.9h-.9zM448.08 532.77h.9v.9h-.9zM450.06 532.67h.9v.9h-.9zM453.07 529.31h.9v.9h-.9zM455.51 531.75h.9v.9h-.9zM450.69 541.46h.9v.9h-.9zM458.74 534.6h.9v.9h-.9zM449.49 535.5h.9v.9h-.9zM456.71 544.06h.9v.9h-.9zM463.79 538.42h.9v.9h-.9zM445.03 538.41h.9v.9h-.9zM449.37 534.56h.9v.9h-.9zM448.08 532.98h.9v.9h-.9z" fill-opacity="0.32"/>
<path d="M454.34 534.62h.9v.9h-.9zM455.49 532.5h.9v.9h-.9zM444.6 532.8h.9v.9h-.9zM448.71 535.14h.9v.9h-.9zM462.89 534.45h.9v.9h-.9zM448.79 541.56h.9v.9h-.9zM462.82 536.76h.9v.9h-.9zM457.19 528.73h.9v.9h-.9zM448.09 533.97h.9v.9h-.9zM450.58 528.21h.9v.9h-.9zM452.45 539.48h.9v.9h-.9zM459.89 534.88h.9v.9h-.9zM454.09 534.06h.9v.9h-.9zM456.94 529.73h.9v.9h-.9zM466.27 536.37h.9v.9h-.9zM454.02 538.38h.9v.9h-.9zM444.04 533.77h.9v.9h-.9zM440.49 536.93h.9v.9h-.9zM453.77 540.92h.9v.9h-.9zM455.66 532.81h.9v.9h-.9zM448.22 533.89h.9v.9h-.9zM447.05 533.06h.9v.9h-.9zM451.49 532.25h.9v.9h-.9zM444.95 533.36h.9v.9h-.9zM440.28 527.17h.9v.9h-.9zM450.15 531.06h.9v.9h-.9zM440.43 533.6h.9v.9h-.9zM450.62 537.84h.9v.9h-.9zM446.68 533.97h.9v.9h-.9zM449.17 532.15h.9v.9h-.9zM441.44 528.18h.9v.9h-.9zM438 530.74h.9v.9h-.9zM444.28 532.45h.9v.9h-.9zM452.86 530.28h.9v.9h-.9zM445.53 532.66h.9v.9h-.9zM454.56 537.57h.9v.9h-.9zM454.46 536.1h.9v.9h-.9zM458.99 536.06h.9v.9h-.9zM451.86 535.65h.9v.9h-.9zM457.04 534.52h.9v.9h-.9z" fill-opacity="0.32"/>
<path d="M457.34 532.38h.9v.9h-.9zM442.95 533.91h.9v.9h-.9zM454.18 540.19h.9v.9h-.9zM449.18 530.92h.9v.9h-.9zM438.34 531.27h.9v.9h-.9zM448.12 532.76h.9v.9h-.9zM452.72 534.1h.9v.9h-.9zM446.34 541.54h.9v.9h-.9zM446.57 533.2h.9v.9h-.9zM441.91 532.08h.9v.9h-.9zM452.26 528.81h.9v.9h-.9zM448.23 531.7h.9v.9h-.9zM450.9 535.81h.9v.9h-.9zM449.7 536.86h.9v.9h-.9zM446.78 535.04h.9v.9h-.9zM444.02 529.07h.9v.9h-.9zM443.39 533.12h.9v.9h-.9zM453.8 539.54h.9v.9h-.9zM453.21 535.89h.9v.9h-.9zM444.59 539.11h.9v.9h-.9zM446.03 533.62h.9v.9h-.9zM463.46 536.79h.9v.9h-.9zM465.21 532.21h.9v.9h-.9zM453.15 530.31h.9v.9h-.9zM452.95 532.08h.9v.9h-.9zM459.39 535.62h.9v.9h-.9zM438.83 532.88h.9v.9h-.9zM445.1 534.28h.9v.9h-.9zM457.41 530.38h.9v.9h-.9zM448.84 536.03h.9v.9h-.9zM444.25 532.73h.9v.9h-.9zM445.87 537.15h.9v.9h-.9zM455.55 530.59h.9v.9h-.9zM457.7 538.91h.9v.9h-.9zM448.21 535.01h.9v.9h-.9zM454.44 536.14h.9v.9h-.9zM465.35 534.34h.9v.9h-.9zM448.39 534.69h.9v.9h-.9zM449.84 528.5h.9v.9h-.9zM456.32 534.91h.9v.9h-.9z" fill-opacity="0.32"/>
<path d="M444.76 531.39h.9v.9h-.9zM439.77 534.51h.9v.9h-.9zM452.43 534.49h.9v.9h-.9zM456.99 533.24h.9v.9h-.9zM442.64 534.21h.9v.9h-.9zM461.05 538.15h.9v.9h-.9zM450.45 539.73h.9v.9h-.9zM444.12 532.31h.9v.9h-.9zM447.88 540.2h.9v.9h-.9zM450.89 531.28h.9v.9h-.9zM453.27 528.01h.9v.9h-.9zM452.04 531.06h.9v.9h-.9zM445.5 534.84h.9v.9h-.9zM449.72 532.43h.9v.9h-.9zM450.58 531.81h.9v.9h-.9zM459.3 535.05h.9v.9h-.9zM452.54 538.25h.9v.9h-.9zM463.12 529.47h.9v.9h-.9zM451.42 530.33h.9v.9h-.9zM454.82 532.26h.9v.9h-.9zM445.83 533.19h.9v.9h-.9zM458.29 531.08h.9v.9h-.9zM452.96 533.18h.9v.9h-.9zM448.25 534.39h.9v.9h-.9zM462.49 532.71h.9v.9h-.9zM451.9 535.18h.9v.9h-.9zM440.1 533.18h.9v.9h-.9zM454.18 535.12h.9v.9h-.9zM451.14 531.01h.9v.9h-.9zM448.03 535.75h.9v.9h-.9zM445.56 536.84h.9v.9h-.9zM453.23 538.86h.9v.9h-.9zM439.69 533.94h.9v.9h-.9zM439.81 530.61h.9v.9h-.9zM463.82 536.21h.9v.9h-.9zM452.95 530.81h.9v.9h-.9zM450.68 535.46h.9v.9h-.9zM459.49 527.91h.9v.9h-.9zM449.89 530.46h.9v.9h-.9zM465.29 538.83h.9v.9h-.9z" fill-opacity="0.32"/>
<path d="M450.77 533.05h.9v.9h-.9zM460.39 539.01h.9v.9h-.9zM447.68 536.87h.9v.9h-.9zM452.61 534.71h.9v.9h-.9zM440.62 540.33h.9v.9h-.9zM449.86 530.78h.9v.9h-.9zM441.35 538.61h.9v.9h-.9zM452.41 536.89h.9v.9h-.9zM451.32 529.82h.9v.9h-.9zM449.14 531.61h.9v.9h-.9zM443.12 534.48h.9v.9h-.9zM445.58 534.99h.9v.9h-.9zM451.46 532.47h.9v.9h-.9zM444.45 533.23h.9v.9h-.9zM457.57 537.26h.9v.9h-.9zM458.67 531.42h.9v.9h-.9zM444.5 534.7h.9v.9h-.9zM450.29 535.99h.9v.9h-.9zM453.38 529.66h.9v.9h-.9zM452.06 538.59h.9v.9h-.9zM449.77 533.83h.9v.9h-.9zM450.88 529.24h.9v.9h-.9zM455.27 535.29h.9v.9h-.9zM456.26 532.35h.9v.9h-.9zM445.66 530.8h.9v.9h-.9zM449.52 533.91h.9v.9h-.9zM454.39 531.1h.9v.9h-.9zM445.44 530.48h.9v.9h-.9zM447.08 536.61h.9v.9h-.9zM456.49 534.09h.9v.9h-.9zM458.07 535.33h.9v.9h-.9zM447.46 536h.9v.9h-.9zM441.93 531.82h.9v.9h-.9zM451.9 534.05h.9v.9h-.9zM446.03 533.01h.9v.9h-.9zM443.21 531.62h.9v.9h-.9zM468.92 535.83h.9v.9h-.9zM457.01 537.67h.9v.9h-.9zM440.03 536.28h.9v.9h-.9zM445.5 529.69h.9v.9h-.9z" fill-opacity="0.32"/>
<path d="M446.75 534.34h.9v.9h-.9zM457.78 537.32h.9v.9h-.9zM451.5 537.77h.9v.9h-.9zM454.65 541.48h.9v.9h-.9zM439.67 526.38h.9v.9h-.9zM449.07 533.19h.9v.9h-.9zM454.03 533.33h.9v.9h-.9zM444.11 532.62h.9v.9h-.9zM452.38 541.56h.9v.9h-.9zM449.08 532.55h.9v.9h-.9zM440.16 532.51h.9v.9h-.9zM446.54 534.37h.9v.9h-.9zM454.24 532.74h.9v.9h-.9zM454.54 531.66h.9v.9h-.9zM446.57 534.97h.9v.9h-.9zM447.7 536.12h.9v.9h-.9zM456.04 532.11h.9v.9h-.9zM464.9 536.09h.9v.9h-.9zM446.33 530.37h.9v.9h-.9zM449.39 534.08h.9v.9h-.9zM454.82 534.97h.9v.9h-.9zM454.78 529.43h.9v.9h-.9zM446.5 533.75h.9v.9h-.9zM455.74 533.58h.9v.9h-.9zM452.11 530.92h.9v.9h-.9zM458.29 534.19h.9v.9h-.9zM441.47 533.11h.9v.9h-.9zM448.76 534.43h.9v.9h-.9zM463.69 530.33h.9v.9h-.9zM459.46 530.2h.9v.9h-.9zM449.78 530.51h.9v.9h-.9zM450.03 537.32h.9v.9h-.9zM462.15 536.71h.9v.9h-.9zM449.55 536.5h.9v.9h-.9zM440.23 533.49h.9v.9h-.9zM445.59 527.51h.9v.9h-.9zM448.42 530.02h.9v.9h-.9zM458.5 531.18h.9v.9h-.9zM458.51 533.23h.9v.9h-.9zM457.64 535.88h.9v.9h-.9z" fill-opacity="0.32"/>
<path d="M459.73 531.2h.9v.9h-.9zM441.65 534.5h.9v.9h-.9zM466.6 537.7h.9v.9h-.9zM450.98 537.27h.9v.9h-.9zM450.37 534.58h.9v.9h-.9zM458.89 534.96h.9v.9h-.9zM449.68 534.31h.9v.9h-.9zM458.51 537.93h.9v.9h-.9zM460.93 535.43h.9v.9h-.9zM443.83 536.64h.9v.9h-.9zM448.49 531.52h.9v.9h-.9zM449.81 531.77h.9v.9h-.9zM441.88 534.23h.9v.9h-.9zM444.24 536.67h.9v.9h-.9zM452.75 530.15h.9v.9h-.9zM453.53 535.2h.9v.9h-.9zM442.6 536.42h.9v.9h-.9zM447.83 533.09h.9v.9h-.9zM455.38 527.36h.9v.9h-.9zM446.89 536.11h.9v.9h-.9zM453.13 538.36h.9v.9h-.9zM454.42 534.2h.9v.9h-.9zM458.42 533.52h.9v.9h-.9zM455.91 526.08h.9v.9h-.9zM440.65 537.27h.9v.9h-.9zM457.9 535.57h.9v.9h-.9zM457.56 528.68h.9v.9h-.9zM453.61 529.89h.9v.9h-.9zM446.92 531.53h.9v.9h-.9zM457.86 531.51h.9v.9h-.9zM457.1 536.29h.9v.9h-.9zM452.93 535.23h.9v.9h-.9zM458.79 534.69h.9v.9h-.9zM455.5 535.54h.9v.9h-.9zM439.27 539.83h.9v.9h-.9zM454.2 533.75h.9v.9h-.9zM454.89 531.12h.9v.9h-.9zM449.46 530.38h.9v.9h-.9zM449.69 537.31h.9v.9h-.9zM441.71 530.85h.9v.9h-.9z" fill-opacity="0.32"/>
<path d="M454.19 531.99h.9v.9h-.9zM468.35 531.27h.9v.9h-.9zM458.4 534.09h.9v.9h-.9zM453.75 537.22h.9v.9h-.9zM463.95 538.16h.9v.9h-.9zM455.28 533.65h.9v.9h-.9zM456.08 536.64h.9v.9h-.9zM450.26 531.33h.9v.9h-.9zM444.37 529.61h.9v.9h-.9zM453.09 537.37h.9v.9h-.9zM454.41 533.33h.9v.9h-.9zM443.13 535.4h.9v.9h-.9zM469.77 538.83h.9v.9h-.9zM450.17 538.4h.9v.9h-.9zM450.74 534h.9v.9h-.9zM451.41 529.91h.9v.9h-.9zM461.59 532.62h.9v.9h-.9zM451.52 534.77h.9v.9h-.9zM454.75 531.6h.9v.9h-.9zM445.99 533.16h.9v.9h-.9zM444.2 531.41h.9v.9h-.9zM455.76 533.1h.9v.9h-.9zM454.95 533.15h.9v.9h-.9zM453.17 532.01h.9v.9h-.9zM461.12 532.17h.9v.9h-.9zM453.96 539.57h.9v.9h-.9zM461.2 531.93h.9v.9h-.9zM446.07 534.81h.9v.9h-.9zM452.6 537.93h.9v.9h-.9zM447.73 535.8h.9v.9h-.9zM449.54 532.21h.9v.9h-.9zM460.67 538.56h.9v.9h-.9zM454.96 535.03h.9v.9h-.9zM448.24 539.59h.9v.9h-.9zM444.55 537.6h.9v.9h-.9zM446.49 535.99h.9v.9h-.9zM451.79 532.93h.9v.9h-.9zM449.38 534.76h.9v.9h-.9zM447.78 531.88h.9v.9h-.9zM460.17 531.66h.9v.9h-.9z" fill-opacity="0.32"/>
<path d="M451.49 530.55h.9v.9h-.9zM442.31 532.49h.9v.9h-.9zM465.62 534.6h.9v.9h-.9zM455.83 536.65h.9v.9h-.9zM443.81 531.15h.9v.9h-.9zM450.17 537.15h.9v.9h-.9zM451.87 530.35h.9v.9h-.9zM450.15 529.07h.9v.9h-.9zM452.7 529.88h.9v.9h-.9zM444.43 528.31h.9v.9h-.9zM445.26 532.14h.9v.9h-.9zM456.45 532.68h.9v.9h-.9zM449 532.38h.9v.9h-.9zM451.23 532.78h.9v.9h-.9zM442.47 533.21h.9v.9h-.9zM454.71 528.93h.9v.9h-.9zM449.63 531.37h.9v.9h-.9zM440.2 533.12h.9v.9h-.9zM457.92 532.05h.9v.9h-.9zM451.84 541h.9v.9h-.9zM455.37 533.59h.9v.9h-.9zM442.72 537.77h.9v.9h-.9zM457.45 532.98h.9v.9h-.9zM456.12 535.76h.9v.9h-.9zM461.83 536.83h.9v.9h-.9zM451.49 536.38h.9v.9h-.9zM449.28 530.78h.9v.9h-.9zM448.43 532.63h.9v.9h-.9zM458.91 534.28h.9v.9h-.9zM454.39 531.55h.9v.9h-.9zM455.84 532.25h.9v.9h-.9zM440.34 535.95h.9v.9h-.9z" fill-opacity="0.32"/>
<text x="0.3" y="12.5" font-size="17.2" text-anchor="start" fill="#111" class="pl">A</text>
<line x1="48.5" y1="33.9" x2="48.5" y2="111.5" stroke="#222" stroke-width="1"/>
<line x1="48.5" y1="111.5" x2="106.7" y2="111.5" stroke="#222" stroke-width="1"/>
<line x1="46" y1="111.5" x2="48.5" y2="111.5" stroke="#222" stroke-width="1"/>
<text x="45.5" y="114.8" font-size="8.6" text-anchor="end" fill="#111">0</text>
<line x1="46" y1="92.5" x2="48.5" y2="92.5" stroke="#222" stroke-width="1"/>
<text x="45.5" y="95.5" font-size="8.6" text-anchor="end" fill="#111">5</text>
<line x1="46" y1="73.5" x2="48.5" y2="73.5" stroke="#222" stroke-width="1"/>
<text x="45.5" y="76.2" font-size="8.6" text-anchor="end" fill="#111">10</text>
<line x1="46" y1="53.5" x2="48.5" y2="53.5" stroke="#222" stroke-width="1"/>
<text x="45.5" y="56.9" font-size="8.6" text-anchor="end" fill="#111">15</text>
<line x1="46" y1="34.5" x2="48.5" y2="34.5" stroke="#222" stroke-width="1"/>
<text x="45.5" y="37.6" font-size="8.6" text-anchor="end" fill="#111">20</text>
<line x1="62.5" y1="75.32" x2="62.5" y2="78.79" stroke="#555" stroke-width="1"/>
<line x1="59.5" y1="75.32" x2="65.5" y2="75.32" stroke="#555" stroke-width="1"/>
<rect x="55.7" y="79.29" width="14.4" height="32.31" fill="#d6d6d6" stroke="#111" stroke-width="1"/>
<line x1="91.5" y1="42.51" x2="91.5" y2="61.42" stroke="#555" stroke-width="1"/>
<line x1="88.5" y1="42.51" x2="94.5" y2="42.51" stroke="#555" stroke-width="1"/>
<rect x="84.4" y="61.42" width="15.1" height="50.18" fill="#000" stroke="none" stroke-width="0"/>
<text transform="translate(32.9 70.3) rotate(-90)" font-size="8.4" text-anchor="middle" fill="#111">Total donor cells /ml PB (x10<tspan font-size="7" dy="-3.3">5</tspan><tspan dy="3.3">)</tspan></text>
<line x1="143.5" y1="33.7" x2="143.5" y2="112.5" stroke="#222" stroke-width="1"/>
<line x1="143.5" y1="112.5" x2="202" y2="112.5" stroke="#222" stroke-width="1"/>
<line x1="141.8" y1="112.5" x2="143.5" y2="112.5" stroke="#222" stroke-width="1"/>
<text x="141.3" y="115.2" font-size="8.6" text-anchor="end" fill="#111">0</text>
<line x1="141.8" y1="96.5" x2="143.5" y2="96.5" stroke="#222" stroke-width="1"/>
<text x="141.3" y="99.64" font-size="8.6" text-anchor="end" fill="#111">2</text>
<line x1="141.8" y1="80.5" x2="143.5" y2="80.5" stroke="#222" stroke-width="1"/>
<text x="141.3" y="84.08" font-size="8.6" text-anchor="end" fill="#111">4</text>
<line x1="141.8" y1="65.5" x2="143.5" y2="65.5" stroke="#222" stroke-width="1"/>
<text x="141.3" y="68.52" font-size="8.6" text-anchor="end" fill="#111">6</text>
<line x1="141.8" y1="49.5" x2="143.5" y2="49.5" stroke="#222" stroke-width="1"/>
<text x="141.3" y="52.96" font-size="8.6" text-anchor="end" fill="#111">8</text>
<line x1="141.8" y1="34.5" x2="143.5" y2="34.5" stroke="#222" stroke-width="1"/>
<text x="141.3" y="37.4" font-size="8.6" text-anchor="end" fill="#111">10</text>
<line x1="158.5" y1="54.43" x2="158.5" y2="76.21" stroke="#555" stroke-width="1"/>
<line x1="155.5" y1="54.43" x2="161.5" y2="54.43" stroke="#555" stroke-width="1"/>
<rect x="151" y="76.71" width="14.2" height="35.29" fill="#d6d6d6" stroke="#111" stroke-width="1"/>
<line x1="187.5" y1="93.33" x2="187.5" y2="98" stroke="#555" stroke-width="1"/>
<line x1="184.5" y1="93.33" x2="190.5" y2="93.33" stroke="#555" stroke-width="1"/>
<rect x="180" y="98" width="14.6" height="14" fill="#000" stroke="none" stroke-width="0"/>
<text transform="translate(127 70.5) rotate(-90)" font-size="8.5" text-anchor="middle" fill="#111">Donor B cells /ml PB (x 10<tspan font-size="7" dy="-3.3">4</tspan><tspan dy="3.3">)</tspan></text>
<rect x="183.5" y="23.8" width="6" height="5.8" fill="#d6d6d6" stroke="#111" stroke-width="1"/>
<rect x="183" y="33.2" width="7" height="6.8" fill="#000" stroke="none" stroke-width="0"/>
<text x="191.2" y="29.9" font-size="8.4" text-anchor="start" fill="#111">LMPP</text>
<text x="191.2" y="39.8" font-size="8.4" text-anchor="start" fill="#111">HSC</text>
<line x1="70.5" y1="149.4" x2="70.5" y2="227.5" stroke="#222" stroke-width="1"/>
<line x1="70.5" y1="227.5" x2="189.8" y2="227.5" stroke="#222" stroke-width="1"/>
<line x1="68" y1="227.5" x2="70.5" y2="227.5" stroke="#222" stroke-width="1"/>
<text x="67.6" y="230.8" font-size="8.6" text-anchor="end" fill="#111">0</text>
<line x1="68" y1="208.5" x2="70.5" y2="208.5" stroke="#222" stroke-width="1"/>
<text x="67.6" y="211.38" font-size="8.6" text-anchor="end" fill="#111">3</text>
<line x1="68" y1="188.5" x2="70.5" y2="188.5" stroke="#222" stroke-width="1"/>
<text x="67.6" y="191.95" font-size="8.6" text-anchor="end" fill="#111">6</text>
<line x1="68" y1="169.5" x2="70.5" y2="169.5" stroke="#222" stroke-width="1"/>
<text x="67.6" y="172.52" font-size="8.6" text-anchor="end" fill="#111">9</text>
<line x1="68" y1="149.5" x2="70.5" y2="149.5" stroke="#222" stroke-width="1"/>
<text x="67.6" y="153.1" font-size="8.6" text-anchor="end" fill="#111">12</text>
<line x1="88.5" y1="216.59" x2="88.5" y2="217.89" stroke="#555" stroke-width="1"/>
<line x1="85.5" y1="216.59" x2="91.5" y2="216.59" stroke="#555" stroke-width="1"/>
<rect x="81.5" y="218.39" width="13.8" height="9.21" fill="#d6d6d6" stroke="#111" stroke-width="1"/>
<line x1="110.5" y1="178.39" x2="110.5" y2="198.46" stroke="#555" stroke-width="1"/>
<line x1="107.5" y1="178.39" x2="113.5" y2="178.39" stroke="#555" stroke-width="1"/>
<rect x="102.6" y="198.46" width="14.9" height="29.14" fill="#000" stroke="none" stroke-width="0"/>
<line x1="146.5" y1="180.98" x2="146.5" y2="188.75" stroke="#555" stroke-width="1"/>
<line x1="143.5" y1="180.98" x2="149.5" y2="180.98" stroke="#555" stroke-width="1"/>
<rect x="139.9" y="189.25" width="14.1" height="38.35" fill="#d6d6d6" stroke="#111" stroke-width="1"/>
<line x1="168.5" y1="155.08" x2="168.5" y2="171.27" stroke="#555" stroke-width="1"/>
<line x1="165.5" y1="155.08" x2="171.5" y2="155.08" stroke="#555" stroke-width="1"/>
<rect x="160.6" y="171.27" width="15.4" height="56.33" fill="#000" stroke="none" stroke-width="0"/>
<text transform="translate(54.4 186) rotate(-90)" font-size="8.35" text-anchor="middle" fill="#111">Donor T cells /ml PB (x 10<tspan font-size="7" dy="-3.3">5</tspan><tspan dy="3.3">)</tspan></text>
<text x="98.7" y="237.6" font-size="8.3" text-anchor="middle" fill="#111">CD4</text>
<text x="157.3" y="237.6" font-size="8.3" text-anchor="middle" fill="#111">CD8</text>
<text x="0" y="272.3" font-size="17.2" text-anchor="start" fill="#111" class="pl">C</text>
<line x1="45.5" y1="276.4" x2="45.5" y2="361.5" stroke="#222" stroke-width="1"/>
<line x1="45.5" y1="361.5" x2="204.5" y2="361.5" stroke="#222" stroke-width="1"/>
<line x1="44.3" y1="354.5" x2="45.5" y2="354.5" stroke="#555" stroke-width="0.8"/>
<line x1="44.3" y1="351.5" x2="45.5" y2="351.5" stroke="#555" stroke-width="0.8"/>
<line x1="44.3" y1="348.5" x2="45.5" y2="348.5" stroke="#555" stroke-width="0.8"/>
<line x1="44.3" y1="346.5" x2="45.5" y2="346.5" stroke="#555" stroke-width="0.8"/>
<line x1="44.3" y1="344.5" x2="45.5" y2="344.5" stroke="#555" stroke-width="0.8"/>
<line x1="44.3" y1="343.5" x2="45.5" y2="343.5" stroke="#555" stroke-width="0.8"/>
<line x1="44.3" y1="342.5" x2="45.5" y2="342.5" stroke="#555" stroke-width="0.8"/>
<line x1="44.3" y1="341.5" x2="45.5" y2="341.5" stroke="#555" stroke-width="0.8"/>
<line x1="44.3" y1="333.5" x2="45.5" y2="333.5" stroke="#555" stroke-width="0.8"/>
<line x1="44.3" y1="330.5" x2="45.5" y2="330.5" stroke="#555" stroke-width="0.8"/>
<line x1="44.3" y1="327.5" x2="45.5" y2="327.5" stroke="#555" stroke-width="0.8"/>
<line x1="44.3" y1="325.5" x2="45.5" y2="325.5" stroke="#555" stroke-width="0.8"/>
<line x1="44.3" y1="323.5" x2="45.5" y2="323.5" stroke="#555" stroke-width="0.8"/>
<line x1="44.3" y1="322.5" x2="45.5" y2="322.5" stroke="#555" stroke-width="0.8"/>
<line x1="44.3" y1="321.5" x2="45.5" y2="321.5" stroke="#555" stroke-width="0.8"/>
<line x1="44.3" y1="320.5" x2="45.5" y2="320.5" stroke="#555" stroke-width="0.8"/>
<line x1="44.3" y1="312.5" x2="45.5" y2="312.5" stroke="#555" stroke-width="0.8"/>
<line x1="44.3" y1="308.5" x2="45.5" y2="308.5" stroke="#555" stroke-width="0.8"/>
<line x1="44.3" y1="306.5" x2="45.5" y2="306.5" stroke="#555" stroke-width="0.8"/>
<line x1="44.3" y1="304.5" x2="45.5" y2="304.5" stroke="#555" stroke-width="0.8"/>
<line x1="44.3" y1="302.5" x2="45.5" y2="302.5" stroke="#555" stroke-width="0.8"/>
<line x1="44.3" y1="301.5" x2="45.5" y2="301.5" stroke="#555" stroke-width="0.8"/>
<line x1="44.3" y1="300.5" x2="45.5" y2="300.5" stroke="#555" stroke-width="0.8"/>
<line x1="44.3" y1="298.5" x2="45.5" y2="298.5" stroke="#555" stroke-width="0.8"/>
<line x1="44.3" y1="291.5" x2="45.5" y2="291.5" stroke="#555" stroke-width="0.8"/>
<line x1="44.3" y1="287.5" x2="45.5" y2="287.5" stroke="#555" stroke-width="0.8"/>
<line x1="44.3" y1="285.5" x2="45.5" y2="285.5" stroke="#555" stroke-width="0.8"/>
<line x1="44.3" y1="283.5" x2="45.5" y2="283.5" stroke="#555" stroke-width="0.8"/>
<line x1="44.3" y1="281.5" x2="45.5" y2="281.5" stroke="#555" stroke-width="0.8"/>
<line x1="44.3" y1="280.5" x2="45.5" y2="280.5" stroke="#555" stroke-width="0.8"/>
<line x1="44.3" y1="278.5" x2="45.5" y2="278.5" stroke="#555" stroke-width="0.8"/>
<line x1="44.3" y1="277.5" x2="45.5" y2="277.5" stroke="#555" stroke-width="0.8"/>
<line x1="43.5" y1="361.5" x2="45.5" y2="361.5" stroke="#222" stroke-width="1"/>
<text x="40.2" y="364.2" font-size="8.3" text-anchor="end" fill="#111">1x10</text>
<text x="40.6" y="361.6" font-size="5.4" text-anchor="start" fill="#111">3</text>
<line x1="43.5" y1="340.5" x2="45.5" y2="340.5" stroke="#222" stroke-width="1"/>
<text x="40.2" y="343.12" font-size="8.3" text-anchor="end" fill="#111">1x10</text>
<text x="40.6" y="340.52" font-size="5.4" text-anchor="start" fill="#111">4</text>
<line x1="43.5" y1="319.5" x2="45.5" y2="319.5" stroke="#222" stroke-width="1"/>
<text x="40.2" y="322.04" font-size="8.3" text-anchor="end" fill="#111">1x10</text>
<text x="40.6" y="319.44" font-size="5.4" text-anchor="start" fill="#111">5</text>
<line x1="43.5" y1="297.5" x2="45.5" y2="297.5" stroke="#222" stroke-width="1"/>
<text x="40.2" y="300.96" font-size="8.3" text-anchor="end" fill="#111">1x10</text>
<text x="40.6" y="298.36" font-size="5.4" text-anchor="start" fill="#111">6</text>
<line x1="43.5" y1="276.5" x2="45.5" y2="276.5" stroke="#222" stroke-width="1"/>
<text x="40.2" y="279.88" font-size="8.3" text-anchor="end" fill="#111">1x10</text>
<text x="40.6" y="277.28" font-size="5.4" text-anchor="start" fill="#111">7</text>
<line x1="61.95" y1="297" x2="61.95" y2="301.2" stroke="#555" stroke-width="1"/>
<line x1="58.95" y1="297" x2="64.95" y2="297" stroke="#555" stroke-width="1"/>
<rect x="55.9" y="301.7" width="12.1" height="59.5" fill="#d6d6d6" stroke="#111" stroke-width="1"/>
<line x1="81.95" y1="305.3" x2="81.95" y2="307.6" stroke="#555" stroke-width="1"/>
<line x1="78.95" y1="305.3" x2="84.95" y2="305.3" stroke="#555" stroke-width="1"/>
<rect x="75" y="307.6" width="13.9" height="53.6" fill="#000" stroke="none" stroke-width="0"/>
<line x1="115.05" y1="335" x2="115.05" y2="337.9" stroke="#555" stroke-width="1"/>
<line x1="112.05" y1="335" x2="118.05" y2="335" stroke="#555" stroke-width="1"/>
<rect x="108.6" y="338.4" width="12.9" height="22.8" fill="#d6d6d6" stroke="#111" stroke-width="1"/>
<line x1="135" y1="325.5" x2="135" y2="331" stroke="#555" stroke-width="1"/>
<line x1="132" y1="325.5" x2="138" y2="325.5" stroke="#555" stroke-width="1"/>
<rect x="128.3" y="331" width="13.4" height="30.2" fill="#000" stroke="none" stroke-width="0"/>
<line x1="168.15" y1="326.4" x2="168.15" y2="330.1" stroke="#555" stroke-width="1"/>
<line x1="165.15" y1="326.4" x2="171.15" y2="326.4" stroke="#555" stroke-width="1"/>
<rect x="161.9" y="330.6" width="12.5" height="30.6" fill="#d6d6d6" stroke="#111" stroke-width="1"/>
<line x1="188.15" y1="331.7" x2="188.15" y2="334.7" stroke="#555" stroke-width="1"/>
<line x1="185.15" y1="331.7" x2="191.15" y2="331.7" stroke="#555" stroke-width="1"/>
<rect x="181.3" y="334.7" width="13.7" height="26.5" fill="#000" stroke="none" stroke-width="0"/>
<text transform="translate(11.5 316.7) rotate(-90)" font-size="8.4" text-anchor="middle" fill="#111">Donor cells /BM</text>
<text x="72" y="370.8" font-size="8.6" text-anchor="middle" fill="#111">B220</text>
<text x="125.2" y="370.8" font-size="8.6" text-anchor="middle" fill="#111">Pre B</text>
<text x="177.8" y="370.8" font-size="8.6" text-anchor="middle" fill="#111">Imm B</text>
<line x1="71.5" y1="361.5" x2="71.5" y2="363.5" stroke="#222" stroke-width="1"/>
<line x1="125.5" y1="361.5" x2="125.5" y2="363.5" stroke="#222" stroke-width="1"/>
<line x1="178.5" y1="361.5" x2="178.5" y2="363.5" stroke="#222" stroke-width="1"/>
<rect x="163.8" y="274.9" width="6.2" height="6" fill="#d6d6d6" stroke="#111" stroke-width="1"/>
<rect x="163.3" y="284" width="7.2" height="7" fill="#000" stroke="none" stroke-width="0"/>
<text x="171.7" y="281.2" font-size="8.4" text-anchor="start" fill="#111">LMPP</text>
<text x="171.7" y="290.8" font-size="8.4" text-anchor="start" fill="#111">HSC</text>
<line x1="0" y1="373.8" x2="226.5" y2="373.8" stroke="#999" stroke-width="1"/>
<text x="0.6" y="414.2" font-size="17.2" text-anchor="start" fill="#111" class="pl">D</text>
<line x1="46.5" y1="434.2" x2="46.5" y2="517.5" stroke="#222" stroke-width="1"/>
<line x1="46.5" y1="517.5" x2="202.3" y2="517.5" stroke="#222" stroke-width="1"/>
<line x1="44.2" y1="517.5" x2="46.5" y2="517.5" stroke="#222" stroke-width="1"/>
<text x="43.8" y="521" font-size="8.6" text-anchor="end" fill="#111">0</text>
<line x1="44.2" y1="497.5" x2="46.5" y2="497.5" stroke="#222" stroke-width="1"/>
<text x="43.8" y="500.22" font-size="8.6" text-anchor="end" fill="#111">5</text>
<line x1="44.2" y1="476.5" x2="46.5" y2="476.5" stroke="#222" stroke-width="1"/>
<text x="43.8" y="479.45" font-size="8.6" text-anchor="end" fill="#111">10</text>
<line x1="44.2" y1="455.5" x2="46.5" y2="455.5" stroke="#222" stroke-width="1"/>
<text x="43.8" y="458.67" font-size="8.6" text-anchor="end" fill="#111">15</text>
<line x1="44.2" y1="434.5" x2="46.5" y2="434.5" stroke="#222" stroke-width="1"/>
<text x="43.8" y="437.9" font-size="8.6" text-anchor="end" fill="#111">20</text>
<line x1="61.5" y1="499.52" x2="61.5" y2="508.24" stroke="#555" stroke-width="1"/>
<line x1="58.55" y1="499.52" x2="64.45" y2="499.52" stroke="#555" stroke-width="1"/>
<rect x="55.9" y="508.74" width="12.1" height="9.06" fill="#d6d6d6" stroke="#111" stroke-width="1"/>
<line x1="81.5" y1="454.23" x2="81.5" y2="471.68" stroke="#555" stroke-width="1"/>
<line x1="78.6" y1="454.23" x2="84.4" y2="454.23" stroke="#555" stroke-width="1"/>
<rect x="75.5" y="471.68" width="12.9" height="46.12" fill="#000" stroke="none" stroke-width="0"/>
<line x1="114.5" y1="506.58" x2="114.5" y2="509.49" stroke="#555" stroke-width="1"/>
<line x1="111.5" y1="506.58" x2="117.5" y2="506.58" stroke="#555" stroke-width="1"/>
<rect x="108" y="509.99" width="12.5" height="7.81" fill="#d6d6d6" stroke="#111" stroke-width="1"/>
<line x1="133.5" y1="487.47" x2="133.5" y2="497.44" stroke="#555" stroke-width="1"/>
<line x1="130.6" y1="487.47" x2="136.4" y2="487.47" stroke="#555" stroke-width="1"/>
<rect x="127.5" y="497.44" width="12.9" height="20.36" fill="#000" stroke="none" stroke-width="0"/>
<line x1="166.5" y1="470.85" x2="166.5" y2="488.71" stroke="#555" stroke-width="1"/>
<line x1="163.5" y1="470.85" x2="169.5" y2="470.85" stroke="#555" stroke-width="1"/>
<rect x="160.3" y="489.21" width="12.4" height="28.58" fill="#d6d6d6" stroke="#111" stroke-width="1"/>
<line x1="186.5" y1="503.67" x2="186.5" y2="506.58" stroke="#555" stroke-width="1"/>
<line x1="183.5" y1="503.67" x2="189.5" y2="503.67" stroke="#555" stroke-width="1"/>
<rect x="179.4" y="506.58" width="13.5" height="11.22" fill="#000" stroke="none" stroke-width="0"/>
<text transform="translate(25.7 472.6) rotate(-90)" font-size="8.95" text-anchor="middle" fill="#111">Donor cells / thymus (x 10 <tspan font-size="7.2" dy="-3.3">5</tspan><tspan dy="3.3">)</tspan></text>
<line x1="72.5" y1="517.5" x2="72.5" y2="519.5" stroke="#222" stroke-width="1"/>
<line x1="124.5" y1="517.5" x2="124.5" y2="519.5" stroke="#222" stroke-width="1"/>
<line x1="176.5" y1="517.5" x2="176.5" y2="519.5" stroke="#222" stroke-width="1"/>
<text x="72.5" y="527.7" font-size="8.3" text-anchor="middle" fill="#111">DP</text>
<text x="124" y="527.7" font-size="8.3" text-anchor="middle" fill="#111">SP CD4</text>
<text x="176.3" y="527.7" font-size="8.3" text-anchor="middle" fill="#111">SP CD8</text>
<rect x="170" y="435.3" width="6.2" height="5.8" fill="#d6d6d6" stroke="#111" stroke-width="1"/>
<rect x="169.5" y="444.8" width="7.2" height="6.8" fill="#000" stroke="none" stroke-width="0"/>
<text x="177.9" y="441.4" font-size="8.4" text-anchor="start" fill="#111">LMPP</text>
<text x="177.9" y="451.4" font-size="8.4" text-anchor="start" fill="#111">HSC</text>
<text x="0" y="576.2" font-size="17.2" text-anchor="start" fill="#111" class="pl">F</text>
<line x1="33.5" y1="587.2" x2="33.5" y2="662.5" stroke="#222" stroke-width="1"/>
<line x1="33.5" y1="662.5" x2="257.7" y2="662.5" stroke="#222" stroke-width="1"/>
<line x1="32.6" y1="662.5" x2="33.5" y2="662.5" stroke="#555" stroke-width="0.8"/>
<line x1="32.6" y1="658.5" x2="33.5" y2="658.5" stroke="#555" stroke-width="0.8"/>
<line x1="32.6" y1="654.5" x2="33.5" y2="654.5" stroke="#555" stroke-width="0.8"/>
<line x1="32.6" y1="651.5" x2="33.5" y2="651.5" stroke="#555" stroke-width="0.8"/>
<line x1="32.6" y1="647.5" x2="33.5" y2="647.5" stroke="#555" stroke-width="0.8"/>
<line x1="32.6" y1="643.5" x2="33.5" y2="643.5" stroke="#555" stroke-width="0.8"/>
<line x1="32.6" y1="639.5" x2="33.5" y2="639.5" stroke="#555" stroke-width="0.8"/>
<line x1="32.6" y1="636.5" x2="33.5" y2="636.5" stroke="#555" stroke-width="0.8"/>
<line x1="32.6" y1="632.5" x2="33.5" y2="632.5" stroke="#555" stroke-width="0.8"/>
<line x1="32.6" y1="628.5" x2="33.5" y2="628.5" stroke="#555" stroke-width="0.8"/>
<line x1="32.6" y1="625.5" x2="33.5" y2="625.5" stroke="#555" stroke-width="0.8"/>
<line x1="32.6" y1="621.5" x2="33.5" y2="621.5" stroke="#555" stroke-width="0.8"/>
<line x1="32.6" y1="617.5" x2="33.5" y2="617.5" stroke="#555" stroke-width="0.8"/>
<line x1="32.6" y1="613.5" x2="33.5" y2="613.5" stroke="#555" stroke-width="0.8"/>
<line x1="32.6" y1="610.5" x2="33.5" y2="610.5" stroke="#555" stroke-width="0.8"/>
<line x1="32.6" y1="606.5" x2="33.5" y2="606.5" stroke="#555" stroke-width="0.8"/>
<line x1="32.6" y1="602.5" x2="33.5" y2="602.5" stroke="#555" stroke-width="0.8"/>
<line x1="32.6" y1="598.5" x2="33.5" y2="598.5" stroke="#555" stroke-width="0.8"/>
<line x1="32.6" y1="595.5" x2="33.5" y2="595.5" stroke="#555" stroke-width="0.8"/>
<line x1="32.6" y1="591.5" x2="33.5" y2="591.5" stroke="#555" stroke-width="0.8"/>
<line x1="32.6" y1="587.5" x2="33.5" y2="587.5" stroke="#555" stroke-width="0.8"/>
<line x1="31.8" y1="662.5" x2="33.5" y2="662.5" stroke="#222" stroke-width="1"/>
<text x="31.4" y="665.2" font-size="8" text-anchor="end" fill="#111">0</text>
<line x1="31.8" y1="643.5" x2="33.5" y2="643.5" stroke="#222" stroke-width="1"/>
<text x="31.4" y="646.55" font-size="8" text-anchor="end" fill="#111">5</text>
<line x1="31.8" y1="625.5" x2="33.5" y2="625.5" stroke="#222" stroke-width="1"/>
<text x="31.4" y="627.9" font-size="8" text-anchor="end" fill="#111">10</text>
<line x1="31.8" y1="606.5" x2="33.5" y2="606.5" stroke="#222" stroke-width="1"/>
<text x="31.4" y="609.25" font-size="8" text-anchor="end" fill="#111">15</text>
<line x1="31.8" y1="587.5" x2="33.5" y2="587.5" stroke="#222" stroke-width="1"/>
<text x="31.4" y="590.6" font-size="8" text-anchor="end" fill="#111">20</text>
<line x1="41.5" y1="662.5" x2="41.5" y2="664.5" stroke="#222" stroke-width="1"/>
<line x1="38.05" y1="633.21" x2="38.05" y2="636.94" stroke="#555" stroke-width="0.8"/>
<line x1="36.85" y1="633.21" x2="39.25" y2="633.21" stroke="#555" stroke-width="0.8"/>
<rect x="36.7" y="637.34" width="2.7" height="24.96" fill="#e8e8e8" stroke="#222" stroke-width="0.8"/>
<line x1="41.97" y1="633.21" x2="41.97" y2="636.94" stroke="#555" stroke-width="0.8"/>
<line x1="40.77" y1="633.21" x2="43.17" y2="633.21" stroke="#555" stroke-width="0.8"/>
<rect x="40.15" y="636.94" width="3.65" height="25.36" fill="#000" stroke="none" stroke-width="0"/>
<text transform="translate(44.9 670.9) rotate(-42)" font-size="8.1" text-anchor="end" fill="#111">Vb2</text>
<line x1="56.5" y1="662.5" x2="56.5" y2="664.5" stroke="#222" stroke-width="1"/>
<line x1="52.8" y1="652.23" x2="52.8" y2="652.97" stroke="#555" stroke-width="0.8"/>
<line x1="51.6" y1="652.23" x2="54" y2="652.23" stroke="#555" stroke-width="0.8"/>
<rect x="51.45" y="653.37" width="2.7" height="8.93" fill="#e8e8e8" stroke="#222" stroke-width="0.8"/>
<line x1="56.72" y1="649.62" x2="56.72" y2="652.97" stroke="#555" stroke-width="0.8"/>
<line x1="55.52" y1="649.62" x2="57.92" y2="649.62" stroke="#555" stroke-width="0.8"/>
<rect x="54.9" y="652.97" width="3.65" height="9.33" fill="#000" stroke="none" stroke-width="0"/>
<text transform="translate(59.65 670.9) rotate(-42)" font-size="8.1" text-anchor="end" fill="#111">Vb3</text>
<line x1="71.5" y1="662.5" x2="71.5" y2="664.5" stroke="#222" stroke-width="1"/>
<line x1="67.55" y1="627.61" x2="67.55" y2="632.83" stroke="#555" stroke-width="0.8"/>
<line x1="66.35" y1="627.61" x2="68.75" y2="627.61" stroke="#555" stroke-width="0.8"/>
<rect x="66.2" y="633.23" width="2.7" height="29.07" fill="#e8e8e8" stroke="#222" stroke-width="0.8"/>
<line x1="71.47" y1="635.82" x2="71.47" y2="639.17" stroke="#555" stroke-width="0.8"/>
<line x1="70.27" y1="635.82" x2="72.67" y2="635.82" stroke="#555" stroke-width="0.8"/>
<rect x="69.65" y="639.17" width="3.65" height="23.13" fill="#000" stroke="none" stroke-width="0"/>
<text transform="translate(74.4 670.9) rotate(-42)" font-size="8.1" text-anchor="end" fill="#111">Vb4</text>
<line x1="86.5" y1="662.5" x2="86.5" y2="664.5" stroke="#222" stroke-width="1"/>
<line x1="82.3" y1="655.59" x2="82.3" y2="657.08" stroke="#555" stroke-width="0.8"/>
<line x1="81.1" y1="655.59" x2="83.5" y2="655.59" stroke="#555" stroke-width="0.8"/>
<rect x="80.95" y="657.48" width="2.7" height="4.82" fill="#e8e8e8" stroke="#222" stroke-width="0.8"/>
<line x1="86.22" y1="616.79" x2="86.22" y2="632.09" stroke="#555" stroke-width="0.8"/>
<line x1="85.02" y1="616.79" x2="87.42" y2="616.79" stroke="#555" stroke-width="0.8"/>
<rect x="84.4" y="632.09" width="3.65" height="30.21" fill="#000" stroke="none" stroke-width="0"/>
<text transform="translate(89.15 670.9) rotate(-42)" font-size="8.1" text-anchor="end" fill="#111">Vb5.1+2</text>
<line x1="100.5" y1="662.5" x2="100.5" y2="664.5" stroke="#222" stroke-width="1"/>
<line x1="97.05" y1="616.79" x2="97.05" y2="629.85" stroke="#555" stroke-width="0.8"/>
<line x1="95.85" y1="616.79" x2="98.25" y2="616.79" stroke="#555" stroke-width="0.8"/>
<rect x="95.7" y="630.25" width="2.7" height="32.05" fill="#e8e8e8" stroke="#222" stroke-width="0.8"/>
<line x1="100.97" y1="641.41" x2="100.97" y2="642.16" stroke="#555" stroke-width="0.8"/>
<line x1="99.77" y1="641.41" x2="102.17" y2="641.41" stroke="#555" stroke-width="0.8"/>
<rect x="99.15" y="642.16" width="3.65" height="20.14" fill="#000" stroke="none" stroke-width="0"/>
<text transform="translate(103.9 670.9) rotate(-42)" font-size="8.1" text-anchor="end" fill="#111">Vb6</text>
<line x1="115.5" y1="662.5" x2="115.5" y2="664.5" stroke="#222" stroke-width="1"/>
<line x1="111.8" y1="655.21" x2="111.8" y2="655.59" stroke="#555" stroke-width="0.8"/>
<line x1="110.6" y1="655.21" x2="113" y2="655.21" stroke="#555" stroke-width="0.8"/>
<rect x="110.45" y="655.99" width="2.7" height="6.31" fill="#e8e8e8" stroke="#222" stroke-width="0.8"/>
<line x1="115.72" y1="652.6" x2="115.72" y2="654.84" stroke="#555" stroke-width="0.8"/>
<line x1="114.52" y1="652.6" x2="116.92" y2="652.6" stroke="#555" stroke-width="0.8"/>
<rect x="113.9" y="654.84" width="3.65" height="7.46" fill="#000" stroke="none" stroke-width="0"/>
<text transform="translate(118.65 670.9) rotate(-42)" font-size="8.1" text-anchor="end" fill="#111">Vb7</text>
<line x1="130.5" y1="662.5" x2="130.5" y2="664.5" stroke="#222" stroke-width="1"/>
<line x1="126.55" y1="607.84" x2="126.55" y2="610.45" stroke="#555" stroke-width="0.8"/>
<line x1="125.35" y1="607.84" x2="127.75" y2="607.84" stroke="#555" stroke-width="0.8"/>
<rect x="125.2" y="610.85" width="2.7" height="51.45" fill="#e8e8e8" stroke="#222" stroke-width="0.8"/>
<line x1="130.48" y1="616.05" x2="130.48" y2="619.78" stroke="#555" stroke-width="0.8"/>
<line x1="129.28" y1="616.05" x2="131.68" y2="616.05" stroke="#555" stroke-width="0.8"/>
<rect x="128.65" y="619.78" width="3.65" height="42.52" fill="#000" stroke="none" stroke-width="0"/>
<text transform="translate(133.4 670.9) rotate(-42)" font-size="8.1" text-anchor="end" fill="#111">Vb8.1+2</text>
<line x1="145.5" y1="662.5" x2="145.5" y2="664.5" stroke="#222" stroke-width="1"/>
<line x1="141.3" y1="640.29" x2="141.3" y2="643.28" stroke="#555" stroke-width="0.8"/>
<line x1="140.1" y1="640.29" x2="142.5" y2="640.29" stroke="#555" stroke-width="0.8"/>
<rect x="139.95" y="643.68" width="2.7" height="18.62" fill="#e8e8e8" stroke="#222" stroke-width="0.8"/>
<line x1="145.23" y1="642.9" x2="145.23" y2="645.14" stroke="#555" stroke-width="0.8"/>
<line x1="144.03" y1="642.9" x2="146.43" y2="642.9" stroke="#555" stroke-width="0.8"/>
<rect x="143.4" y="645.14" width="3.65" height="17.16" fill="#000" stroke="none" stroke-width="0"/>
<text transform="translate(148.15 670.9) rotate(-42)" font-size="8.1" text-anchor="end" fill="#111">Vb8.3</text>
<line x1="159.5" y1="662.5" x2="159.5" y2="664.5" stroke="#222" stroke-width="1"/>
<line x1="156.05" y1="657.08" x2="156.05" y2="657.45" stroke="#555" stroke-width="0.8"/>
<line x1="154.85" y1="657.08" x2="157.25" y2="657.08" stroke="#555" stroke-width="0.8"/>
<rect x="154.7" y="657.85" width="2.7" height="4.45" fill="#e8e8e8" stroke="#222" stroke-width="0.8"/>
<rect x="158.15" y="659.32" width="3.65" height="2.98" fill="#000" stroke="none" stroke-width="0"/>
<text transform="translate(162.9 670.9) rotate(-42)" font-size="8.1" text-anchor="end" fill="#111">Vb9</text>
<line x1="174.5" y1="662.5" x2="174.5" y2="664.5" stroke="#222" stroke-width="1"/>
<line x1="170.8" y1="651.11" x2="170.8" y2="655.59" stroke="#555" stroke-width="0.8"/>
<line x1="169.6" y1="651.11" x2="172" y2="651.11" stroke="#555" stroke-width="0.8"/>
<rect x="169.45" y="655.99" width="2.7" height="6.31" fill="#e8e8e8" stroke="#222" stroke-width="0.8"/>
<line x1="174.73" y1="652.23" x2="174.73" y2="653.72" stroke="#555" stroke-width="0.8"/>
<line x1="173.53" y1="652.23" x2="175.93" y2="652.23" stroke="#555" stroke-width="0.8"/>
<rect x="172.9" y="653.72" width="3.65" height="8.58" fill="#000" stroke="none" stroke-width="0"/>
<text transform="translate(177.65 670.9) rotate(-42)" font-size="8.1" text-anchor="end" fill="#111">Vb10b</text>
<line x1="189.5" y1="662.5" x2="189.5" y2="664.5" stroke="#222" stroke-width="1"/>
<line x1="185.55" y1="626.49" x2="185.55" y2="639.92" stroke="#555" stroke-width="0.8"/>
<line x1="184.35" y1="626.49" x2="186.75" y2="626.49" stroke="#555" stroke-width="0.8"/>
<rect x="184.2" y="640.32" width="2.7" height="21.98" fill="#e8e8e8" stroke="#222" stroke-width="0.8"/>
<line x1="189.48" y1="651.11" x2="189.48" y2="651.48" stroke="#555" stroke-width="0.8"/>
<line x1="188.28" y1="651.11" x2="190.68" y2="651.11" stroke="#555" stroke-width="0.8"/>
<rect x="187.65" y="651.48" width="3.65" height="10.82" fill="#000" stroke="none" stroke-width="0"/>
<text transform="translate(192.4 670.9) rotate(-42)" font-size="8.1" text-anchor="end" fill="#111">Vb11</text>
<line x1="204.5" y1="662.5" x2="204.5" y2="664.5" stroke="#222" stroke-width="1"/>
<line x1="200.3" y1="653.35" x2="200.3" y2="657.08" stroke="#555" stroke-width="0.8"/>
<line x1="199.1" y1="653.35" x2="201.5" y2="653.35" stroke="#555" stroke-width="0.8"/>
<rect x="198.95" y="657.48" width="2.7" height="4.82" fill="#e8e8e8" stroke="#222" stroke-width="0.8"/>
<line x1="204.23" y1="645.89" x2="204.23" y2="649.99" stroke="#555" stroke-width="0.8"/>
<line x1="203.03" y1="645.89" x2="205.43" y2="645.89" stroke="#555" stroke-width="0.8"/>
<rect x="202.4" y="649.99" width="3.65" height="12.31" fill="#000" stroke="none" stroke-width="0"/>
<text transform="translate(207.15 670.9) rotate(-42)" font-size="8.1" text-anchor="end" fill="#111">Vb12</text>
<line x1="218.5" y1="662.5" x2="218.5" y2="664.5" stroke="#222" stroke-width="1"/>
<line x1="215.05" y1="654.84" x2="215.05" y2="658.2" stroke="#555" stroke-width="0.8"/>
<line x1="213.85" y1="654.84" x2="216.25" y2="654.84" stroke="#555" stroke-width="0.8"/>
<rect x="213.7" y="658.6" width="2.7" height="3.7" fill="#e8e8e8" stroke="#222" stroke-width="0.8"/>
<line x1="218.98" y1="654.84" x2="218.98" y2="656.33" stroke="#555" stroke-width="0.8"/>
<line x1="217.78" y1="654.84" x2="220.18" y2="654.84" stroke="#555" stroke-width="0.8"/>
<rect x="217.15" y="656.33" width="3.65" height="5.97" fill="#000" stroke="none" stroke-width="0"/>
<text transform="translate(221.9 670.9) rotate(-42)" font-size="8.1" text-anchor="end" fill="#111">Vb13</text>
<line x1="233.5" y1="662.5" x2="233.5" y2="664.5" stroke="#222" stroke-width="1"/>
<line x1="229.8" y1="626.49" x2="229.8" y2="632.83" stroke="#555" stroke-width="0.8"/>
<line x1="228.6" y1="626.49" x2="231" y2="626.49" stroke="#555" stroke-width="0.8"/>
<rect x="228.45" y="633.23" width="2.7" height="29.07" fill="#e8e8e8" stroke="#222" stroke-width="0.8"/>
<line x1="233.73" y1="631.34" x2="233.73" y2="636.19" stroke="#555" stroke-width="0.8"/>
<line x1="232.53" y1="631.34" x2="234.93" y2="631.34" stroke="#555" stroke-width="0.8"/>
<rect x="231.9" y="636.19" width="3.65" height="26.11" fill="#000" stroke="none" stroke-width="0"/>
<text transform="translate(236.65 670.9) rotate(-42)" font-size="8.1" text-anchor="end" fill="#111">Vb14</text>
<line x1="248.5" y1="662.5" x2="248.5" y2="664.5" stroke="#222" stroke-width="1"/>
<ellipse cx="245" cy="658.9" rx="1.5" ry="1.7" fill="none" stroke="#222" stroke-width="0.9"/>
<rect x="248.3" y="661.1" width="2.1" height="1.2" fill="#000" stroke="none" stroke-width="0"/>
<text transform="translate(251.4 670.9) rotate(-42)" font-size="8.1" text-anchor="end" fill="#111">Vb17a</text>
<text transform="translate(6.4 625) rotate(-90)" font-size="9" text-anchor="middle" fill="#111">TCR Vb</text>
<text transform="translate(17.9 623.5) rotate(-90)" font-size="9" text-anchor="middle" fill="#111">(% of donor CD4 cells)</text>
<rect x="172.8" y="583.9" width="6.6" height="4.1" fill="#d6d6d6" stroke="#111" stroke-width="1"/>
<rect x="172.3" y="591.5" width="7.6" height="5.1" fill="#000" stroke="none" stroke-width="0"/>
<text x="181.1" y="588.3" font-size="6.6" text-anchor="start" fill="#111">LMPP</text>
<text x="181.1" y="596.4" font-size="6.6" text-anchor="start" fill="#111">HSC</text>
<text x="255.6" y="576.4" font-size="17.2" text-anchor="start" fill="#111" class="pl">G</text>
<line x1="296.5" y1="589.4" x2="296.5" y2="663.5" stroke="#222" stroke-width="1"/>
<line x1="296.5" y1="663.5" x2="519.5" y2="663.5" stroke="#222" stroke-width="1"/>
<line x1="294.8" y1="663.5" x2="296.5" y2="663.5" stroke="#555" stroke-width="0.8"/>
<line x1="294.8" y1="660.5" x2="296.5" y2="660.5" stroke="#555" stroke-width="0.8"/>
<line x1="294.8" y1="657.5" x2="296.5" y2="657.5" stroke="#555" stroke-width="0.8"/>
<line x1="294.8" y1="654.5" x2="296.5" y2="654.5" stroke="#555" stroke-width="0.8"/>
<line x1="294.8" y1="651.5" x2="296.5" y2="651.5" stroke="#555" stroke-width="0.8"/>
<line x1="294.8" y1="648.5" x2="296.5" y2="648.5" stroke="#555" stroke-width="0.8"/>
<line x1="294.8" y1="645.5" x2="296.5" y2="645.5" stroke="#555" stroke-width="0.8"/>
<line x1="294.8" y1="642.5" x2="296.5" y2="642.5" stroke="#555" stroke-width="0.8"/>
<line x1="294.8" y1="639.5" x2="296.5" y2="639.5" stroke="#555" stroke-width="0.8"/>
<line x1="294.8" y1="636.5" x2="296.5" y2="636.5" stroke="#555" stroke-width="0.8"/>
<line x1="294.8" y1="634.5" x2="296.5" y2="634.5" stroke="#555" stroke-width="0.8"/>
<line x1="294.8" y1="631.5" x2="296.5" y2="631.5" stroke="#555" stroke-width="0.8"/>
<line x1="294.8" y1="628.5" x2="296.5" y2="628.5" stroke="#555" stroke-width="0.8"/>
<line x1="294.8" y1="625.5" x2="296.5" y2="625.5" stroke="#555" stroke-width="0.8"/>
<line x1="294.8" y1="622.5" x2="296.5" y2="622.5" stroke="#555" stroke-width="0.8"/>
<line x1="294.8" y1="619.5" x2="296.5" y2="619.5" stroke="#555" stroke-width="0.8"/>
<line x1="294.8" y1="616.5" x2="296.5" y2="616.5" stroke="#555" stroke-width="0.8"/>
<line x1="294.8" y1="613.5" x2="296.5" y2="613.5" stroke="#555" stroke-width="0.8"/>
<line x1="294.8" y1="610.5" x2="296.5" y2="610.5" stroke="#555" stroke-width="0.8"/>
<line x1="294.8" y1="607.5" x2="296.5" y2="607.5" stroke="#555" stroke-width="0.8"/>
<line x1="294.8" y1="604.5" x2="296.5" y2="604.5" stroke="#555" stroke-width="0.8"/>
<line x1="294.8" y1="601.5" x2="296.5" y2="601.5" stroke="#555" stroke-width="0.8"/>
<line x1="294.8" y1="598.5" x2="296.5" y2="598.5" stroke="#555" stroke-width="0.8"/>
<line x1="294.8" y1="595.5" x2="296.5" y2="595.5" stroke="#555" stroke-width="0.8"/>
<line x1="294.8" y1="592.5" x2="296.5" y2="592.5" stroke="#555" stroke-width="0.8"/>
<line x1="294.8" y1="589.5" x2="296.5" y2="589.5" stroke="#555" stroke-width="0.8"/>
<line x1="294" y1="663.5" x2="296.5" y2="663.5" stroke="#222" stroke-width="1"/>
<text x="293.6" y="666.3" font-size="8" text-anchor="end" fill="#111">0</text>
<line x1="294" y1="648.5" x2="296.5" y2="648.5" stroke="#222" stroke-width="1"/>
<text x="293.6" y="651.6" font-size="8" text-anchor="end" fill="#111">5</text>
<line x1="294" y1="634.5" x2="296.5" y2="634.5" stroke="#222" stroke-width="1"/>
<text x="293.6" y="636.9" font-size="8" text-anchor="end" fill="#111">10</text>
<line x1="294" y1="619.5" x2="296.5" y2="619.5" stroke="#222" stroke-width="1"/>
<text x="293.6" y="622.2" font-size="8" text-anchor="end" fill="#111">15</text>
<line x1="294" y1="604.5" x2="296.5" y2="604.5" stroke="#222" stroke-width="1"/>
<text x="293.6" y="607.5" font-size="8" text-anchor="end" fill="#111">20</text>
<line x1="294" y1="589.5" x2="296.5" y2="589.5" stroke="#222" stroke-width="1"/>
<text x="293.6" y="592.8" font-size="8" text-anchor="end" fill="#111">25</text>
<line x1="303.5" y1="663.5" x2="303.5" y2="665.5" stroke="#222" stroke-width="1"/>
<line x1="300.8" y1="653.99" x2="300.8" y2="655.76" stroke="#555" stroke-width="0.8"/>
<line x1="299.6" y1="653.99" x2="302" y2="653.99" stroke="#555" stroke-width="0.8"/>
<rect x="299" y="656.16" width="3.6" height="7.24" fill="#e8e8e8" stroke="#222" stroke-width="0.8"/>
<line x1="306.45" y1="648.99" x2="306.45" y2="651.05" stroke="#555" stroke-width="0.8"/>
<line x1="305.25" y1="648.99" x2="307.65" y2="648.99" stroke="#555" stroke-width="0.8"/>
<rect x="304.3" y="651.05" width="4.3" height="12.35" fill="#000" stroke="none" stroke-width="0"/>
<text transform="translate(307.2 672) rotate(-42)" font-size="8.1" text-anchor="end" fill="#111">Vb2</text>
<line x1="318.5" y1="663.5" x2="318.5" y2="665.5" stroke="#222" stroke-width="1"/>
<line x1="315.6" y1="656.05" x2="315.6" y2="656.34" stroke="#555" stroke-width="0.8"/>
<line x1="314.4" y1="656.05" x2="316.8" y2="656.05" stroke="#555" stroke-width="0.8"/>
<rect x="313.8" y="656.74" width="3.6" height="6.66" fill="#e8e8e8" stroke="#222" stroke-width="0.8"/>
<line x1="321.25" y1="659.58" x2="321.25" y2="659.87" stroke="#555" stroke-width="0.8"/>
<line x1="320.05" y1="659.58" x2="322.45" y2="659.58" stroke="#555" stroke-width="0.8"/>
<rect x="319.1" y="659.87" width="4.3" height="3.53" fill="#000" stroke="none" stroke-width="0"/>
<text transform="translate(322 672) rotate(-42)" font-size="8.1" text-anchor="end" fill="#111">Vb3</text>
<line x1="333.5" y1="663.5" x2="333.5" y2="665.5" stroke="#222" stroke-width="1"/>
<line x1="330.4" y1="655.17" x2="330.4" y2="655.76" stroke="#555" stroke-width="0.8"/>
<line x1="329.2" y1="655.17" x2="331.6" y2="655.17" stroke="#555" stroke-width="0.8"/>
<rect x="328.6" y="656.16" width="3.6" height="7.24" fill="#e8e8e8" stroke="#222" stroke-width="0.8"/>
<line x1="336.05" y1="652.82" x2="336.05" y2="654.58" stroke="#555" stroke-width="0.8"/>
<line x1="334.85" y1="652.82" x2="337.25" y2="652.82" stroke="#555" stroke-width="0.8"/>
<rect x="333.9" y="654.58" width="4.3" height="8.82" fill="#000" stroke="none" stroke-width="0"/>
<text transform="translate(336.8 672) rotate(-42)" font-size="8.1" text-anchor="end" fill="#111">Vb4</text>
<line x1="348.5" y1="663.5" x2="348.5" y2="665.5" stroke="#222" stroke-width="1"/>
<line x1="345.2" y1="621.06" x2="345.2" y2="621.65" stroke="#555" stroke-width="0.8"/>
<line x1="344" y1="621.06" x2="346.4" y2="621.06" stroke="#555" stroke-width="0.8"/>
<rect x="343.4" y="622.05" width="3.6" height="41.35" fill="#e8e8e8" stroke="#222" stroke-width="0.8"/>
<line x1="350.85" y1="606.95" x2="350.85" y2="609.01" stroke="#555" stroke-width="0.8"/>
<line x1="349.65" y1="606.95" x2="352.05" y2="606.95" stroke="#555" stroke-width="0.8"/>
<rect x="348.7" y="609.01" width="4.3" height="54.39" fill="#000" stroke="none" stroke-width="0"/>
<text transform="translate(351.6 672) rotate(-42)" font-size="8.1" text-anchor="end" fill="#111">Vb5.1+2</text>
<line x1="362.5" y1="663.5" x2="362.5" y2="665.5" stroke="#222" stroke-width="1"/>
<line x1="360" y1="651.93" x2="360" y2="652.23" stroke="#555" stroke-width="0.8"/>
<line x1="358.8" y1="651.93" x2="361.2" y2="651.93" stroke="#555" stroke-width="0.8"/>
<rect x="358.2" y="652.63" width="3.6" height="10.77" fill="#e8e8e8" stroke="#222" stroke-width="0.8"/>
<line x1="365.65" y1="641.35" x2="365.65" y2="646.64" stroke="#555" stroke-width="0.8"/>
<line x1="364.45" y1="641.35" x2="366.85" y2="641.35" stroke="#555" stroke-width="0.8"/>
<rect x="363.5" y="646.64" width="4.3" height="16.76" fill="#000" stroke="none" stroke-width="0"/>
<text transform="translate(366.4 672) rotate(-42)" font-size="8.1" text-anchor="end" fill="#111">Vb6</text>
<line x1="377.5" y1="663.5" x2="377.5" y2="665.5" stroke="#222" stroke-width="1"/>
<line x1="374.8" y1="629.88" x2="374.8" y2="636.35" stroke="#555" stroke-width="0.8"/>
<line x1="373.6" y1="629.88" x2="376" y2="629.88" stroke="#555" stroke-width="0.8"/>
<rect x="373" y="636.75" width="3.6" height="26.65" fill="#e8e8e8" stroke="#222" stroke-width="0.8"/>
<line x1="380.45" y1="649.88" x2="380.45" y2="651.64" stroke="#555" stroke-width="0.8"/>
<line x1="379.25" y1="649.88" x2="381.65" y2="649.88" stroke="#555" stroke-width="0.8"/>
<rect x="378.3" y="651.64" width="4.3" height="11.76" fill="#000" stroke="none" stroke-width="0"/>
<text transform="translate(381.2 672) rotate(-42)" font-size="8.1" text-anchor="end" fill="#111">Vb7</text>
<line x1="392.5" y1="663.5" x2="392.5" y2="665.5" stroke="#222" stroke-width="1"/>
<line x1="389.6" y1="639.29" x2="389.6" y2="639.59" stroke="#555" stroke-width="0.8"/>
<line x1="388.4" y1="639.29" x2="390.8" y2="639.29" stroke="#555" stroke-width="0.8"/>
<rect x="387.8" y="639.99" width="3.6" height="23.41" fill="#e8e8e8" stroke="#222" stroke-width="0.8"/>
<line x1="395.25" y1="623.12" x2="395.25" y2="629.3" stroke="#555" stroke-width="0.8"/>
<line x1="394.05" y1="623.12" x2="396.45" y2="623.12" stroke="#555" stroke-width="0.8"/>
<rect x="393.1" y="629.3" width="4.3" height="34.1" fill="#000" stroke="none" stroke-width="0"/>
<text transform="translate(396 672) rotate(-42)" font-size="8.1" text-anchor="end" fill="#111">Vb8.1+2</text>
<line x1="407.5" y1="663.5" x2="407.5" y2="665.5" stroke="#222" stroke-width="1"/>
<line x1="404.4" y1="603.72" x2="404.4" y2="624.3" stroke="#555" stroke-width="0.8"/>
<line x1="403.2" y1="603.72" x2="405.6" y2="603.72" stroke="#555" stroke-width="0.8"/>
<rect x="402.6" y="624.7" width="3.6" height="38.7" fill="#e8e8e8" stroke="#222" stroke-width="0.8"/>
<line x1="410.05" y1="632.82" x2="410.05" y2="640.17" stroke="#555" stroke-width="0.8"/>
<line x1="408.85" y1="632.82" x2="411.25" y2="632.82" stroke="#555" stroke-width="0.8"/>
<rect x="407.9" y="640.17" width="4.3" height="23.23" fill="#000" stroke="none" stroke-width="0"/>
<text transform="translate(410.8 672) rotate(-42)" font-size="8.1" text-anchor="end" fill="#111">Vb8.3</text>
<line x1="422.5" y1="663.5" x2="422.5" y2="665.5" stroke="#222" stroke-width="1"/>
<line x1="419.2" y1="647.82" x2="419.2" y2="653.7" stroke="#555" stroke-width="0.8"/>
<line x1="418" y1="647.82" x2="420.4" y2="647.82" stroke="#555" stroke-width="0.8"/>
<rect x="417.4" y="654.1" width="3.6" height="9.3" fill="#e8e8e8" stroke="#222" stroke-width="0.8"/>
<rect x="422.7" y="656.93" width="4.3" height="6.47" fill="#000" stroke="none" stroke-width="0"/>
<text transform="translate(425.6 672) rotate(-42)" font-size="8.1" text-anchor="end" fill="#111">Vb9</text>
<line x1="436.5" y1="663.5" x2="436.5" y2="665.5" stroke="#222" stroke-width="1"/>
<line x1="434" y1="634" x2="434" y2="646.35" stroke="#555" stroke-width="0.8"/>
<line x1="432.8" y1="634" x2="435.2" y2="634" stroke="#555" stroke-width="0.8"/>
<rect x="432.2" y="646.75" width="3.6" height="16.65" fill="#e8e8e8" stroke="#222" stroke-width="0.8"/>
<rect x="437.5" y="646.35" width="4.3" height="17.05" fill="#000" stroke="none" stroke-width="0"/>
<text transform="translate(440.4 672) rotate(-42)" font-size="8.1" text-anchor="end" fill="#111">Vb10b</text>
<line x1="451.5" y1="663.5" x2="451.5" y2="665.5" stroke="#222" stroke-width="1"/>
<line x1="448.8" y1="637.23" x2="448.8" y2="639.59" stroke="#555" stroke-width="0.8"/>
<line x1="447.6" y1="637.23" x2="450" y2="637.23" stroke="#555" stroke-width="0.8"/>
<rect x="447" y="639.99" width="3.6" height="23.41" fill="#e8e8e8" stroke="#222" stroke-width="0.8"/>
<line x1="454.45" y1="637.82" x2="454.45" y2="642.23" stroke="#555" stroke-width="0.8"/>
<line x1="453.25" y1="637.82" x2="455.65" y2="637.82" stroke="#555" stroke-width="0.8"/>
<rect x="452.3" y="642.23" width="4.3" height="21.17" fill="#000" stroke="none" stroke-width="0"/>
<text transform="translate(455.2 672) rotate(-42)" font-size="8.1" text-anchor="end" fill="#111">Vb11</text>
<line x1="466.5" y1="663.5" x2="466.5" y2="665.5" stroke="#222" stroke-width="1"/>
<line x1="463.6" y1="658.7" x2="463.6" y2="658.99" stroke="#555" stroke-width="0.8"/>
<line x1="462.4" y1="658.7" x2="464.8" y2="658.7" stroke="#555" stroke-width="0.8"/>
<rect x="461.8" y="659.39" width="3.6" height="4.01" fill="#e8e8e8" stroke="#222" stroke-width="0.8"/>
<line x1="469.25" y1="655.17" x2="469.25" y2="655.76" stroke="#555" stroke-width="0.8"/>
<line x1="468.05" y1="655.17" x2="470.45" y2="655.17" stroke="#555" stroke-width="0.8"/>
<rect x="467.1" y="655.76" width="4.3" height="7.64" fill="#000" stroke="none" stroke-width="0"/>
<text transform="translate(470 672) rotate(-42)" font-size="8.1" text-anchor="end" fill="#111">Vb12</text>
<line x1="481.5" y1="663.5" x2="481.5" y2="665.5" stroke="#222" stroke-width="1"/>
<line x1="478.4" y1="655.46" x2="478.4" y2="655.76" stroke="#555" stroke-width="0.8"/>
<line x1="477.2" y1="655.46" x2="479.6" y2="655.46" stroke="#555" stroke-width="0.8"/>
<rect x="476.6" y="656.16" width="3.6" height="7.24" fill="#e8e8e8" stroke="#222" stroke-width="0.8"/>
<line x1="484.05" y1="644.29" x2="484.05" y2="647.52" stroke="#555" stroke-width="0.8"/>
<line x1="482.85" y1="644.29" x2="485.25" y2="644.29" stroke="#555" stroke-width="0.8"/>
<rect x="481.9" y="647.52" width="4.3" height="15.88" fill="#000" stroke="none" stroke-width="0"/>
<text transform="translate(484.8 672) rotate(-42)" font-size="8.1" text-anchor="end" fill="#111">Vb13</text>
<line x1="496.5" y1="663.5" x2="496.5" y2="665.5" stroke="#222" stroke-width="1"/>
<line x1="493.2" y1="657.52" x2="493.2" y2="657.81" stroke="#555" stroke-width="0.8"/>
<line x1="492" y1="657.52" x2="494.4" y2="657.52" stroke="#555" stroke-width="0.8"/>
<rect x="491.4" y="658.21" width="3.6" height="5.19" fill="#e8e8e8" stroke="#222" stroke-width="0.8"/>
<line x1="498.85" y1="654.29" x2="498.85" y2="656.93" stroke="#555" stroke-width="0.8"/>
<line x1="497.65" y1="654.29" x2="500.05" y2="654.29" stroke="#555" stroke-width="0.8"/>
<rect x="496.7" y="656.93" width="4.3" height="6.47" fill="#000" stroke="none" stroke-width="0"/>
<text transform="translate(499.6 672) rotate(-42)" font-size="8.1" text-anchor="end" fill="#111">Vb14</text>
<line x1="510.5" y1="663.5" x2="510.5" y2="665.5" stroke="#222" stroke-width="1"/>
<ellipse cx="508.3" cy="660.2" rx="1.3" ry="1.9" fill="none" stroke="#222" stroke-width="0.9"/>
<ellipse cx="512.9" cy="660.2" rx="1.3" ry="1.9" fill="none" stroke="#222" stroke-width="0.9"/>
<text transform="translate(514.4 672) rotate(-42)" font-size="8.1" text-anchor="end" fill="#111">Vb17a</text>
<text transform="translate(268 623.2) rotate(-90)" font-size="9" text-anchor="middle" fill="#111">TCR Vb</text>
<text transform="translate(280 623.6) rotate(-90)" font-size="9" text-anchor="middle" fill="#111">(% of donor CD8 cells)</text>
<rect x="463.1" y="587.9" width="6.8" height="4.1" fill="#d6d6d6" stroke="#111" stroke-width="1"/>
<rect x="462.6" y="595.7" width="7.8" height="5.1" fill="#000" stroke="none" stroke-width="0"/>
<text x="471.6" y="592.3" font-size="6.6" text-anchor="start" fill="#111">LMPP</text>
<text x="471.6" y="600.6" font-size="6.6" text-anchor="start" fill="#111">HSC</text>
<text x="246.2" y="12.8" font-size="17.2" text-anchor="start" fill="#111" class="pl">B</text>
<text x="346.4" y="25.1" font-size="12.8" text-anchor="middle" fill="#111">LMPP</text>
<text x="346.5" y="212.4" font-size="12.8" text-anchor="middle" fill="#111">HSC</text>
<rect x="269.5" y="31.5" width="61" height="63" fill="none" stroke="#aaaaaa" stroke-width="1"/>
<line x1="262" y1="30.4" x2="262" y2="49.04" stroke="#222" stroke-width="1.3"/>
<line x1="262" y1="82.56" x2="262" y2="92.7" stroke="#222" stroke-width="1.3"/>
<text transform="translate(265.24 65.8) rotate(-90)" font-size="9" text-anchor="middle" fill="#111">CD45.1</text>
<line x1="269.6" y1="99.6" x2="280.74" y2="99.6" stroke="#222" stroke-width="1.3"/>
<line x1="314.26" y1="99.6" x2="330.4" y2="99.6" stroke="#222" stroke-width="1.3"/>
<text x="297.5" y="102.84" font-size="9" text-anchor="middle" fill="#111">CD45.2</text>
<ellipse cx="280.3" cy="56.2" rx="5.2" ry="2.8" fill="#000" opacity="0.95" filter="url(#b1_0)" transform="rotate(-25 280.3 56.2)"/>
<ellipse cx="308" cy="80" rx="2.8" ry="5.5" fill="#000" opacity="0.45" filter="url(#b1_2)" transform="rotate(0 308 80)"/>
<rect x="270.5" y="47.5" width="21" height="21" fill="none" stroke="#b0b0b0" stroke-width="0.9" style="mix-blend-mode:multiply"/>
<rect x="299.5" y="69.5" width="18" height="24" fill="none" stroke="#b0b0b0" stroke-width="0.9" style="mix-blend-mode:multiply"/>
<text x="270.4" y="42.7" font-size="9" text-anchor="start" fill="#111">63.4%</text>
<text x="299.6" y="66.2" font-size="9" text-anchor="start" fill="#111">32.1%</text>
<line x1="291.2" y1="49.6" x2="361" y2="49.6" stroke="#222" stroke-width="1"/>
<path d="M363.5 49.6L360.3 48L360.3 51.2Z" fill="#222"/>
<line x1="272.5" y1="68" x2="272.5" y2="107.5" stroke="#222" stroke-width="1"/>
<path d="M272.5 110L270.9 106.8L274.1 106.8Z" fill="#222"/>
<rect x="363.5" y="31.5" width="63" height="63" fill="none" stroke="#aaaaaa" stroke-width="1"/>
<line x1="356.5" y1="30.4" x2="356.5" y2="50.44" stroke="#222" stroke-width="1.3"/>
<line x1="356.5" y1="74.96" x2="356.5" y2="95.8" stroke="#222" stroke-width="1.3"/>
<text transform="translate(359.74 62.7) rotate(-90)" font-size="9" text-anchor="middle" fill="#111">B220</text>
<line x1="364.5" y1="99.2" x2="383.3" y2="99.2" stroke="#222" stroke-width="1.3"/>
<line x1="409.3" y1="99.2" x2="427" y2="99.2" stroke="#222" stroke-width="1.3"/>
<text x="396.3" y="102.44" font-size="9" text-anchor="middle" fill="#111">CD19</text>
<ellipse cx="376" cy="86.5" rx="8" ry="7" fill="#000" opacity="0.2" filter="url(#b2)" transform="rotate(0 376 86.5)"/>
<rect x="402.5" y="35.5" width="22" height="22" fill="none" stroke="#b0b0b0" stroke-width="0.9" style="mix-blend-mode:multiply"/>
<rect x="364.5" y="67.5" width="24" height="26" fill="none" stroke="#b0b0b0" stroke-width="0.9" style="mix-blend-mode:multiply"/>
<text x="402" y="65.4" font-size="9" text-anchor="start" fill="#111">1.87%</text>
<rect x="269.5" y="110.5" width="62" height="62" fill="none" stroke="#aaaaaa" stroke-width="1"/>
<line x1="269.6" y1="127" x2="271.3" y2="127" stroke="#999" stroke-width="0.6"/>
<line x1="269.6" y1="142" x2="271.3" y2="142" stroke="#999" stroke-width="0.6"/>
<line x1="269.6" y1="157" x2="271.3" y2="157" stroke="#999" stroke-width="0.6"/>
<polyline points="270.1,171.59 270.43,171.39 270.76,171.48 271.09,171.33 271.42,171.3 271.75,171.61 272.08,171.62 272.4,171.11 272.73,171.43 273.06,171.42 273.39,170.93 273.72,171.21 274.05,170.96 274.38,171.14 274.71,171 275.04,171.25 275.37,170.92 275.7,170.74 276.03,170.9 276.35,170.72 276.68,170.72 277.01,171.03 277.34,170.57 277.67,170.62 278,170.75 278.33,170.86 278.66,170.32 278.99,170.52 279.32,170.33 279.65,170.2 279.98,170.27 280.3,170.11 280.63,170.41 280.96,170.14 281.29,170.35 281.62,170.04 281.95,170.07 282.28,170.54 282.61,170.53 282.94,170.49 283.27,170.06 283.6,170.4 283.93,170.31 284.26,170.54 284.58,170.45 284.91,170.56 285.24,170.62 285.57,170.52 285.9,170.56 286.23,170.42 286.56,170.6 286.89,170.5 287.22,170.59 287.55,170.55 287.88,170.79 288.21,171.14 288.53,170.77 288.86,170.74 289.19,170.82 289.52,171.05 289.85,170.99 290.18,171.31 290.51,170.95 290.84,171.11 291.17,171.28 291.5,171.39 291.83,170.88 292.16,170.75 292.48,171.21 292.81,170.67 293.14,170.76 293.47,170.74 293.8,170.42 294.13,169.86 294.46,169.46 294.79,169.56 295.12,168.74 295.45,168.93 295.78,167.76 296.11,167.36 296.44,166.12 296.76,165.15 297.09,164.55 297.42,163.08 297.75,162.47 298.08,161.39 298.41,159.62 298.74,158.62 299.07,156.94 299.4,155.11 299.73,153.19 300.06,151.67 300.39,149.78 300.71,147.02 301.04,145.25 301.37,142.43 301.7,140.08 302.03,138.05 302.36,135.5 302.69,132.99 303.02,130.5 303.35,128.27 303.68,126.23 304.01,124.35 304.34,122.58 304.66,121.79 304.99,121.13 305.32,120.64 305.65,121.24 305.98,121.88 306.31,122.51 306.64,124.47 306.97,126.45 307.3,129.21 307.63,131.5 307.96,134.17 308.29,137.55 308.62,140.06 308.94,143.03 309.27,146.4 309.6,148.74 309.93,151.51 310.26,153.79 310.59,156.32 310.92,158.09 311.25,159.91 311.58,162.13 311.91,163.55 312.24,164.33 312.57,165.21 312.89,166.75 313.22,167.42 313.55,168.03 313.88,168.86 314.21,169.03 314.54,169.5 314.87,169.85 315.2,170.03 315.53,170.48 315.86,170.66 316.19,170.61 316.52,171.21 316.84,171 317.17,171.01 317.5,171.34 317.83,171.46 318.16,171.16 318.49,171.54 318.82,171.6 319.15,171.47 319.48,171.33 319.81,171.71 320.14,171.58 320.47,171.58 320.8,171.29 321.12,171.53 321.45,171.28 321.78,171.69 322.11,171.6 322.44,171.41 322.77,171.27 323.1,171.53 323.43,171.66 323.76,171.73 324.09,171.48 324.42,171.69 324.75,171.32 325.07,171.3 325.4,171.69 325.73,171.63 326.06,171.32 326.39,171.41 326.72,171.32 327.05,171.59 327.38,171.72 327.71,171.62 328.04,171.32 328.37,171.64 328.7,171.59 329.02,171.55 329.35,171.55 329.68,171.55 330.01,171.25 330.34,171.71 330.67,171.8 331,171.23" fill="none" stroke="#4a4a4a" stroke-width="0.9"/>
<line x1="290.4" y1="161.8" x2="331.5" y2="161.8" stroke="#333" stroke-width="1.2"/>
<text x="307.6" y="159.7" font-size="9" text-anchor="start" fill="#111">95.7%</text>
<line x1="269.6" y1="179.7" x2="286" y2="179.7" stroke="#222" stroke-width="1.3"/>
<line x1="313" y1="179.7" x2="330.7" y2="179.7" stroke="#222" stroke-width="1.3"/>
<text x="299.5" y="182.94" font-size="9" text-anchor="middle" fill="#111">TCRb</text>
<line x1="325" y1="118.3" x2="361.2" y2="118.3" stroke="#222" stroke-width="1"/>
<path d="M363.7 118.3L360.5 116.7L360.5 119.9Z" fill="#222"/>
<rect x="364.5" y="110.5" width="62" height="62" fill="none" stroke="#aaaaaa" stroke-width="1"/>
<line x1="357.1" y1="110" x2="357.1" y2="131" stroke="#222" stroke-width="1.3"/>
<line x1="357.1" y1="152" x2="357.1" y2="172.7" stroke="#222" stroke-width="1.3"/>
<text transform="translate(360.34 141.5) rotate(-90)" font-size="9" text-anchor="middle" fill="#111">CD8</text>
<line x1="365" y1="180" x2="384.9" y2="180" stroke="#222" stroke-width="1.3"/>
<line x1="405.9" y1="180" x2="425.5" y2="180" stroke="#222" stroke-width="1.3"/>
<text x="395.4" y="183.24" font-size="9" text-anchor="middle" fill="#111">CD4</text>
<ellipse cx="371" cy="135.3" rx="6.5" ry="2.6" fill="#000" opacity="0.6" filter="url(#b0_9)" transform="rotate(0 371 135.3)"/>
<rect x="364.5" y="126.5" width="23" height="19" fill="none" stroke="#b0b0b0" stroke-width="0.9" style="mix-blend-mode:multiply"/>
<rect x="405.5" y="149.5" width="19" height="23" fill="none" stroke="#b0b0b0" stroke-width="0.9" style="mix-blend-mode:multiply"/>
<text x="365.8" y="124.7" font-size="9" text-anchor="start" fill="#111">79.1%</text>
<text x="402.6" y="146.7" font-size="9" text-anchor="start" fill="#111">13.8%</text>
<rect x="266.5" y="218.5" width="65" height="64" fill="none" stroke="#aaaaaa" stroke-width="1"/>
<line x1="261.2" y1="218.5" x2="261.2" y2="237.44" stroke="#222" stroke-width="1.3"/>
<line x1="261.2" y1="270.96" x2="261.2" y2="282.3" stroke="#222" stroke-width="1.3"/>
<text transform="translate(264.44 254.2) rotate(-90)" font-size="9" text-anchor="middle" fill="#111">CD45.1</text>
<line x1="266.5" y1="287.2" x2="280.24" y2="287.2" stroke="#222" stroke-width="1.3"/>
<line x1="313.76" y1="287.2" x2="331.5" y2="287.2" stroke="#222" stroke-width="1.3"/>
<text x="297" y="290.44" font-size="9" text-anchor="middle" fill="#111">CD45.2</text>
<ellipse cx="276.4" cy="245.6" rx="7.5" ry="4.2" fill="#000" opacity="1" filter="url(#b0_9)" transform="rotate(-8 276.4 245.6)"/>
<ellipse cx="307.3" cy="267.5" rx="5" ry="6.5" fill="#000" opacity="0.95" filter="url(#b1_1)" transform="rotate(0 307.3 267.5)"/>
<ellipse cx="307.5" cy="276" rx="4.2" ry="5" fill="#000" opacity="0.55" filter="url(#b1_2)" transform="rotate(0 307.5 276)"/>
<rect x="267.5" y="234.5" width="24" height="21" fill="none" stroke="#b0b0b0" stroke-width="0.9" style="mix-blend-mode:multiply"/>
<rect x="298.5" y="257.5" width="22" height="25" fill="none" stroke="#b0b0b0" stroke-width="0.9" style="mix-blend-mode:multiply"/>
<text x="270.7" y="231.5" font-size="9" text-anchor="start" fill="#111">47%</text>
<text x="296.8" y="254.6" font-size="9" text-anchor="start" fill="#111">50.1%</text>
<line x1="289" y1="238.5" x2="359.5" y2="238.5" stroke="#222" stroke-width="1"/>
<path d="M362 238.5L358.8 236.9L358.8 240.1Z" fill="#222"/>
<line x1="271.5" y1="255" x2="271.5" y2="295.1" stroke="#222" stroke-width="1"/>
<path d="M271.5 297.6L269.9 294.4L273.1 294.4Z" fill="#222"/>
<rect x="362.5" y="218.5" width="64" height="64" fill="none" stroke="#aaaaaa" stroke-width="1"/>
<line x1="355.7" y1="218" x2="355.7" y2="238.74" stroke="#222" stroke-width="1.3"/>
<line x1="355.7" y1="263.26" x2="355.7" y2="282.3" stroke="#222" stroke-width="1.3"/>
<text transform="translate(358.94 251) rotate(-90)" font-size="9" text-anchor="middle" fill="#111">B220</text>
<line x1="363" y1="287.3" x2="382.2" y2="287.3" stroke="#222" stroke-width="1.3"/>
<line x1="408.2" y1="287.3" x2="426" y2="287.3" stroke="#222" stroke-width="1.3"/>
<text x="395.2" y="290.54" font-size="9" text-anchor="middle" fill="#111">CD19</text>
<ellipse cx="373" cy="272" rx="8" ry="7.5" fill="#000" opacity="0.3" filter="url(#b2)" transform="rotate(0 373 272)"/>
<rect x="402.5" y="223.5" width="21" height="22" fill="none" stroke="#b0b0b0" stroke-width="0.9" style="mix-blend-mode:multiply"/>
<rect x="363.5" y="255.5" width="24" height="27" fill="none" stroke="#b0b0b0" stroke-width="0.9" style="mix-blend-mode:multiply"/>
<text x="402" y="254.1" font-size="9" text-anchor="start" fill="#111">2.81%</text>
<rect x="267.5" y="297.5" width="64" height="65" fill="none" stroke="#aaaaaa" stroke-width="1"/>
<line x1="267.5" y1="315" x2="269.2" y2="315" stroke="#999" stroke-width="0.6"/>
<line x1="267.5" y1="331" x2="269.2" y2="331" stroke="#999" stroke-width="0.6"/>
<line x1="267.5" y1="347" x2="269.2" y2="347" stroke="#999" stroke-width="0.6"/>
<polyline points="268,361.12 268.33,361 268.66,360.92 268.99,360.78 269.32,360.84 269.65,360.67 269.98,361.14 270.31,360.81 270.64,360.45 270.97,360.55 271.29,360.31 271.62,360.7 271.95,360.4 272.28,360.44 272.61,360.17 272.94,360.05 273.27,360.29 273.6,360.07 273.93,359.93 274.26,359.45 274.59,359.44 274.92,359.71 275.25,359.23 275.58,359.53 275.91,359.15 276.24,359.36 276.57,359.35 276.9,358.75 277.23,359.08 277.55,359.01 277.88,358.49 278.21,358.51 278.54,358.81 278.87,358.38 279.2,358.6 279.53,358.5 279.86,358.78 280.19,358.34 280.52,358.5 280.85,358.35 281.18,358.42 281.51,358.81 281.84,358.82 282.17,358.99 282.5,359.06 282.83,359.18 283.16,359.11 283.49,359 283.81,359.45 284.14,359.13 284.47,359.43 284.8,359.54 285.13,359.33 285.46,359.63 285.79,359.83 286.12,359.83 286.45,359.79 286.78,360.28 287.11,359.83 287.44,360.5 287.77,360.15 288.1,360.19 288.43,360.77 288.76,360.39 289.09,360.73 289.42,360.67 289.75,361.09 290.07,361.13 290.4,361.11 290.73,360.7 291.06,361.21 291.39,360.91 291.72,360.83 292.05,360.83 292.38,361.18 292.71,361.14 293.04,360.98 293.37,360.73 293.7,360.98 294.03,360.38 294.36,360.07 294.69,359.66 295.02,359.68 295.35,358.54 295.68,358.7 296.01,357.61 296.33,356.33 296.66,354.84 296.99,353.86 297.32,351.73 297.65,350.16 297.98,348.25 298.31,345.93 298.64,343.52 298.97,340.88 299.3,337.94 299.63,334.5 299.96,331.15 300.29,328.68 300.62,325.67 300.95,321.93 301.28,319.48 301.61,317.04 301.94,314.98 302.27,312.9 302.59,311.4 302.92,310.91 303.25,310.69 303.58,311.29 303.91,311.45 304.24,313.53 304.57,315 304.9,316.99 305.23,320.17 305.56,322.59 305.89,325.53 306.22,329.02 306.55,332.2 306.88,336.04 307.21,339 307.54,342.31 307.87,344.67 308.2,347.8 308.53,350.11 308.85,351.85 309.18,353.87 309.51,355.4 309.84,357.18 310.17,358.28 310.5,358.75 310.83,359.61 311.16,360.28 311.49,360.63 311.82,361.1 312.15,361.19 312.48,360.98 312.81,361.11 313.14,361.39 313.47,361.51 313.8,361.64 314.13,361.81 314.46,361.72 314.79,361.42 315.11,361.37 315.44,361.68 315.77,361.43 316.1,361.43 316.43,361.48 316.76,361.5 317.09,361.44 317.42,361.68 317.75,361.48 318.08,361.73 318.41,361.61 318.74,361.44 319.07,361.49 319.4,361.72 319.73,361.33 320.06,361.51 320.39,361.55 320.72,361.89 321.05,361.57 321.37,361.75 321.7,361.5 322.03,361.62 322.36,361.41 322.69,361.51 323.02,361.42 323.35,361.69 323.68,361.51 324.01,361.46 324.34,361.4 324.67,361.69 325,361.38 325.33,361.35 325.66,361.42 325.99,361.19 326.32,361.08 326.65,361.15 326.98,360.86 327.31,360.69 327.63,359.83 327.96,359.27 328.29,359.09 328.62,358.63 328.95,358.47 329.28,358.54 329.61,359.16 329.94,359.23 330.27,359.84 330.6,360.27" fill="none" stroke="#4a4a4a" stroke-width="0.9"/>
<line x1="289.3" y1="350.4" x2="331" y2="350.4" stroke="#333" stroke-width="1.2"/>
<text x="310" y="348" font-size="9" text-anchor="start" fill="#111">93.5%</text>
<line x1="267.5" y1="368" x2="285.5" y2="368" stroke="#222" stroke-width="1.3"/>
<line x1="312.5" y1="368" x2="331" y2="368" stroke="#222" stroke-width="1.3"/>
<text x="299" y="371.24" font-size="9" text-anchor="middle" fill="#111">TCRb</text>
<line x1="324.2" y1="306.6" x2="359.5" y2="306.6" stroke="#222" stroke-width="1"/>
<path d="M362 306.6L358.8 305L358.8 308.2Z" fill="#222"/>
<rect x="362.5" y="297.5" width="64" height="64" fill="none" stroke="#aaaaaa" stroke-width="1"/>
<line x1="355.7" y1="298" x2="355.7" y2="319" stroke="#222" stroke-width="1.3"/>
<line x1="355.7" y1="340" x2="355.7" y2="361" stroke="#222" stroke-width="1.3"/>
<text transform="translate(358.94 329.5) rotate(-90)" font-size="9" text-anchor="middle" fill="#111">CD8</text>
<line x1="363" y1="368" x2="384.1" y2="368" stroke="#222" stroke-width="1.3"/>
<line x1="405.1" y1="368" x2="425.5" y2="368" stroke="#222" stroke-width="1.3"/>
<text x="394.6" y="371.24" font-size="9" text-anchor="middle" fill="#111">CD4</text>
<ellipse cx="369.5" cy="324.5" rx="5" ry="3" fill="#000" opacity="0.45" filter="url(#b1_2)" transform="rotate(0 369.5 324.5)"/>
<rect x="362.5" y="314.5" width="25" height="19" fill="none" stroke="#b0b0b0" stroke-width="0.9" style="mix-blend-mode:multiply"/>
<rect x="405.5" y="336.5" width="20" height="25" fill="none" stroke="#b0b0b0" stroke-width="0.9" style="mix-blend-mode:multiply"/>
<text x="364.4" y="313" font-size="9" text-anchor="start" fill="#111">72.9%</text>
<text x="401.7" y="335.5" font-size="9" text-anchor="start" fill="#111">18.4%</text>
<text x="245.3" y="414.3" font-size="17.2" text-anchor="start" fill="#111" class="pl">E</text>
<text x="270.6" y="399.4" font-size="11.5" text-anchor="start" fill="#111" style="stroke-width:0.35px">i</text>
<text x="302.3" y="400.5" font-size="6.9" text-anchor="middle" fill="#111">WT</text>
<text x="304.6" y="409.7" font-size="7.3" text-anchor="middle" fill="#111">(non-transplanted)</text>
<text x="352.4" y="400.2" font-size="11.5" text-anchor="start" fill="#111" style="stroke-width:0.35px">ii</text>
<text x="421.9" y="401.3" font-size="8.6" text-anchor="middle" fill="#111">LMPP</text>
<text x="271.4" y="489.8" font-size="11.5" text-anchor="start" fill="#111" style="stroke-width:0.35px">iii</text>
<text x="377" y="489.6" font-size="8.6" text-anchor="middle" fill="#111">HSC</text>
<path d="M317.5 423.5L328 422.5L328.3 437L327.5 441L320 441L317.2 436Z" fill="#000" opacity="1" filter="url(#b0_9)"/>
<path d="M320 440L327.5 440L327.6 459.5L322 459.5L320.5 450Z" fill="#000" opacity="0.85" filter="url(#b0_9)"/>
<rect x="281.5" y="411.5" width="52" height="49" fill="none" stroke="#aaaaaa" stroke-width="1"/>
<line x1="276.3" y1="411.7" x2="276.3" y2="427.85" stroke="#222" stroke-width="1.3"/>
<line x1="276.3" y1="444.65" x2="276.3" y2="460.8" stroke="#222" stroke-width="1.3"/>
<text transform="translate(278.78 436.25) rotate(-90)" font-size="6.9" text-anchor="middle" fill="#111">CD8</text>
<line x1="281.3" y1="466.3" x2="298.9" y2="466.3" stroke="#222" stroke-width="1.3"/>
<line x1="315.7" y1="466.3" x2="333.3" y2="466.3" stroke="#222" stroke-width="1.3"/>
<text x="307.3" y="468.78" font-size="6.9" text-anchor="middle" fill="#111">CD4</text>
<rect x="282.5" y="419.5" width="21" height="15" fill="none" stroke="#c6c6c6" stroke-width="0.9" style="mix-blend-mode:multiply"/>
<rect x="314.5" y="419.5" width="16" height="15" fill="none" stroke="#c6c6c6" stroke-width="0.9" style="mix-blend-mode:multiply"/>
<rect x="320.5" y="443.5" width="11" height="17" fill="none" stroke="#c6c6c6" stroke-width="0.9" style="mix-blend-mode:multiply"/>
<text x="284.6" y="418.5" font-size="6.9" text-anchor="start" fill="#111">0.9%</text>
<text x="314.6" y="418.5" font-size="6.9" text-anchor="start" fill="#111">67%</text>
<text x="302" y="458.5" font-size="6.9" text-anchor="start" fill="#111">15%</text>
<ellipse cx="382" cy="429.3" rx="20" ry="2.2" fill="#000" opacity="0.15" filter="url(#b1_0)" transform="rotate(0 382 429.3)"/>
<rect x="359.5" y="410.5" width="51" height="51" fill="none" stroke="#aaaaaa" stroke-width="1"/>
<line x1="355.4" y1="410.4" x2="355.4" y2="427.65" stroke="#222" stroke-width="1.3"/>
<line x1="355.4" y1="444.45" x2="355.4" y2="461.7" stroke="#222" stroke-width="1.3"/>
<text transform="translate(357.88 436.05) rotate(-90)" font-size="6.9" text-anchor="middle" fill="#111">CD8</text>
<line x1="359.2" y1="467.2" x2="376.3" y2="467.2" stroke="#222" stroke-width="1.3"/>
<line x1="393.1" y1="467.2" x2="410.2" y2="467.2" stroke="#222" stroke-width="1.3"/>
<text x="384.7" y="469.68" font-size="6.9" text-anchor="middle" fill="#111">CD4</text>
<rect x="360.5" y="419.5" width="22" height="15" fill="none" stroke="#c6c6c6" stroke-width="0.9" style="mix-blend-mode:multiply"/>
<rect x="392.5" y="419.5" width="16" height="16" fill="none" stroke="#c6c6c6" stroke-width="0.9" style="mix-blend-mode:multiply"/>
<rect x="395.5" y="443.5" width="13" height="17" fill="none" stroke="#c6c6c6" stroke-width="0.9" style="mix-blend-mode:multiply"/>
<text x="362.7" y="418.5" font-size="6.9" text-anchor="start" fill="#111">43%</text>
<text x="393.8" y="418.5" font-size="6.9" text-anchor="start" fill="#111">16%</text>
<text x="375.6" y="458.8" font-size="6.9" text-anchor="start" fill="#111">10%</text>
<rect x="437.5" y="410.5" width="52" height="51" fill="none" stroke="#aaaaaa" stroke-width="1"/>
<line x1="432.8" y1="410.4" x2="432.8" y2="427.65" stroke="#222" stroke-width="1.3"/>
<line x1="432.8" y1="444.45" x2="432.8" y2="461.7" stroke="#222" stroke-width="1.3"/>
<text transform="translate(435.28 436.05) rotate(-90)" font-size="6.9" text-anchor="middle" fill="#111">CD8</text>
<line x1="437.7" y1="467.2" x2="455.05" y2="467.2" stroke="#222" stroke-width="1.3"/>
<line x1="471.85" y1="467.2" x2="489.2" y2="467.2" stroke="#222" stroke-width="1.3"/>
<text x="463.45" y="469.68" font-size="6.9" text-anchor="middle" fill="#111">CD4</text>
<rect x="438.5" y="419.5" width="22" height="15" fill="none" stroke="#c6c6c6" stroke-width="0.9" style="mix-blend-mode:multiply"/>
<rect x="470.5" y="419.5" width="17" height="16" fill="none" stroke="#c6c6c6" stroke-width="0.9" style="mix-blend-mode:multiply"/>
<rect x="471.5" y="443.5" width="17" height="17" fill="none" stroke="#c6c6c6" stroke-width="0.9" style="mix-blend-mode:multiply"/>
<text x="441.5" y="418.5" font-size="6.9" text-anchor="start" fill="#111">62%</text>
<text x="471.5" y="418.5" font-size="6.9" text-anchor="start" fill="#111">0.4%</text>
<text x="456.5" y="459.2" font-size="6.9" text-anchor="start" fill="#111">27%</text>
<path d="M315.5 516.5L326.5 515.8L326.5 524L324 529L320 527L316 523Z" fill="#000" opacity="1" filter="url(#b1_0)"/>
<rect x="281.5" y="503.5" width="53" height="51" fill="none" stroke="#aaaaaa" stroke-width="1"/>
<line x1="276.3" y1="503.7" x2="276.3" y2="520.75" stroke="#222" stroke-width="1.3"/>
<line x1="276.3" y1="537.55" x2="276.3" y2="554.6" stroke="#222" stroke-width="1.3"/>
<text transform="translate(278.78 529.15) rotate(-90)" font-size="6.9" text-anchor="middle" fill="#111">CD8</text>
<line x1="281.5" y1="560.1" x2="299.35" y2="560.1" stroke="#222" stroke-width="1.3"/>
<line x1="316.15" y1="560.1" x2="334" y2="560.1" stroke="#222" stroke-width="1.3"/>
<text x="307.75" y="562.58" font-size="6.9" text-anchor="middle" fill="#111">CD4</text>
<rect x="282.5" y="512.5" width="31" height="15" fill="none" stroke="#c6c6c6" stroke-width="0.9" style="mix-blend-mode:multiply"/>
<rect x="314.5" y="512.5" width="17" height="15" fill="none" stroke="#c6c6c6" stroke-width="0.9" style="mix-blend-mode:multiply"/>
<rect x="325.5" y="536.5" width="8" height="18" fill="none" stroke="#c6c6c6" stroke-width="0.9" style="mix-blend-mode:multiply"/>
<text x="286" y="511.3" font-size="6.9" text-anchor="start" fill="#111">8.6%</text>
<text x="315.8" y="511.3" font-size="6.9" text-anchor="start" fill="#111">58%</text>
<text x="301.3" y="551.7" font-size="6.9" text-anchor="start" fill="#111">15%</text>
<ellipse cx="400" cy="521.5" rx="2.6" ry="5" fill="#000" opacity="1" filter="url(#b0_8)" transform="rotate(0 400 521.5)"/>
<rect x="359.5" y="503.5" width="52" height="51" fill="none" stroke="#aaaaaa" stroke-width="1"/>
<line x1="354.6" y1="503" x2="354.6" y2="520.4" stroke="#222" stroke-width="1.3"/>
<line x1="354.6" y1="537.2" x2="354.6" y2="554.6" stroke="#222" stroke-width="1.3"/>
<text transform="translate(357.08 528.8) rotate(-90)" font-size="6.9" text-anchor="middle" fill="#111">CD8</text>
<line x1="359.2" y1="560.1" x2="376.95" y2="560.1" stroke="#222" stroke-width="1.3"/>
<line x1="393.75" y1="560.1" x2="411.5" y2="560.1" stroke="#222" stroke-width="1.3"/>
<text x="385.35" y="562.58" font-size="6.9" text-anchor="middle" fill="#111">CD4</text>
<rect x="360.5" y="512.5" width="22" height="15" fill="none" stroke="#c6c6c6" stroke-width="0.9" style="mix-blend-mode:multiply"/>
<rect x="392.5" y="512.5" width="15" height="15" fill="none" stroke="#c6c6c6" stroke-width="0.9" style="mix-blend-mode:multiply"/>
<rect x="393.5" y="536.5" width="16" height="18" fill="none" stroke="#c6c6c6" stroke-width="0.9" style="mix-blend-mode:multiply"/>
<text x="363.5" y="511.3" font-size="6.9" text-anchor="start" fill="#111">14%</text>
<text x="393.5" y="511.3" font-size="6.9" text-anchor="start" fill="#111">62%</text>
<text x="379.4" y="551.7" font-size="6.9" text-anchor="start" fill="#111">11%</text>
<rect x="437.5" y="502.5" width="52" height="52" fill="none" stroke="#aaaaaa" stroke-width="1"/>
<line x1="433" y1="502.7" x2="433" y2="520.25" stroke="#222" stroke-width="1.3"/>
<line x1="433" y1="537.05" x2="433" y2="554.6" stroke="#222" stroke-width="1.3"/>
<text transform="translate(435.48 528.65) rotate(-90)" font-size="6.9" text-anchor="middle" fill="#111">CD8</text>
<line x1="437.7" y1="560.1" x2="455.05" y2="560.1" stroke="#222" stroke-width="1.3"/>
<line x1="471.85" y1="560.1" x2="489.2" y2="560.1" stroke="#222" stroke-width="1.3"/>
<text x="463.45" y="562.58" font-size="6.9" text-anchor="middle" fill="#111">CD4</text>
<rect x="438.5" y="512.5" width="22" height="15" fill="none" stroke="#c6c6c6" stroke-width="0.9" style="mix-blend-mode:multiply"/>
<rect x="470.5" y="512.5" width="17" height="15" fill="none" stroke="#c6c6c6" stroke-width="0.9" style="mix-blend-mode:multiply"/>
<rect x="471.5" y="536.5" width="16" height="18" fill="none" stroke="#c6c6c6" stroke-width="0.9" style="mix-blend-mode:multiply"/>
<text x="442" y="511.3" font-size="6.9" text-anchor="start" fill="#111">16%</text>
<text x="471.5" y="511.3" font-size="6.9" text-anchor="start" fill="#111">0.4%</text>
<text x="456.5" y="551.7" font-size="6.9" text-anchor="start" fill="#111">27%</text>
</svg>
</body></html>
